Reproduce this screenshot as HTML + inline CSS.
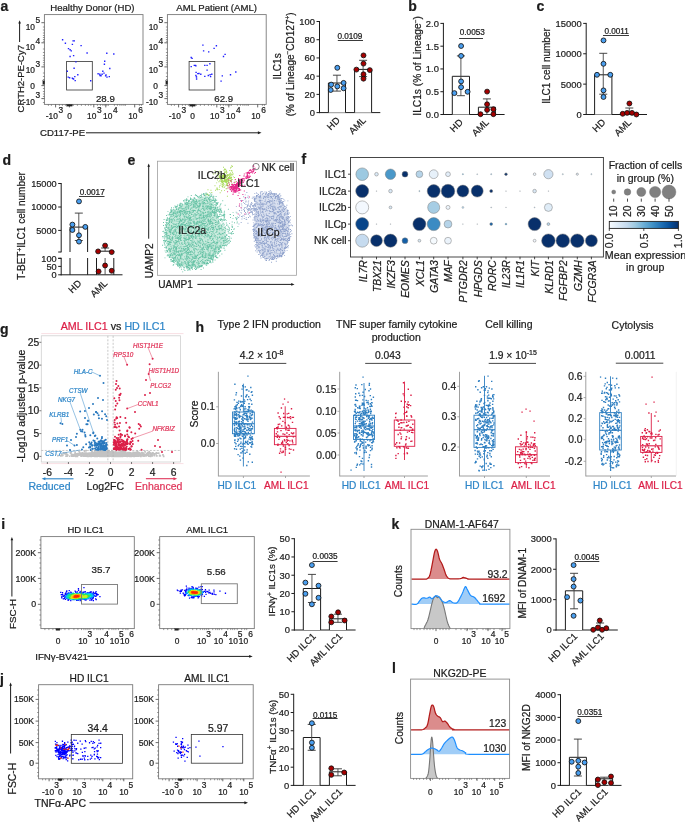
<!DOCTYPE html>
<html><head><meta charset="utf-8"><style>
html,body{margin:0;padding:0;background:#fff;}
svg{display:block;will-change:transform;}
svg{font-family:"Liberation Sans", sans-serif;}
</style></head><body>
<svg width="685" height="822" viewBox="0 0 685 822">
<rect width="685" height="822" fill="#fff"/><g fill="#1c1c1c" stroke="#1c1c1c" stroke-width="0.22">
<text x="0.5" y="11" font-size="14" font-weight="bold">a</text>
<text x="92.4" y="11.04" font-size="9.6" text-anchor="middle">Healthy Donor (HD)</text>
<text x="216.6" y="11.04" font-size="9.6" text-anchor="middle">AML Patient (AML)</text>
<rect x="44.4" y="14.6" width="98.6" height="89.8" fill="none" stroke="#7a7a7a" stroke-width="0.9"/>
<line x1="41.4" y1="22.7" x2="44.4" y2="22.7" stroke="#444" stroke-width="0.8"/>
<text x="40.1" y="29.71" font-size="8.4" text-anchor="end">10<tspan dx="0.4" dy="-6.5">5</tspan></text>
<line x1="41.4" y1="42.8" x2="44.4" y2="42.8" stroke="#444" stroke-width="0.8"/>
<text x="40.1" y="49.81" font-size="8.4" text-anchor="end">10<tspan dx="0.4" dy="-6.2">4</tspan></text>
<line x1="41.4" y1="66.9" x2="44.4" y2="66.9" stroke="#444" stroke-width="0.8"/>
<text x="40.1" y="73.41" font-size="8.4" text-anchor="end">10<tspan dx="0.4" dy="-6.2">3</tspan></text>
<line x1="41.4" y1="85.6" x2="44.4" y2="85.6" stroke="#444" stroke-width="0.8"/>
<text x="35" y="88.61" font-size="8.4" text-anchor="end">0</text>
<line x1="41.4" y1="98.6" x2="44.4" y2="98.6" stroke="#444" stroke-width="0.8"/>
<text x="40.1" y="104.71" font-size="8.4" text-anchor="end">-10<tspan dx="0.4" dy="-6.5">3</tspan></text>
<line x1="42.9" y1="27" x2="44.4" y2="27" stroke="#555" stroke-width="0.6"/>
<line x1="42.9" y1="30" x2="44.4" y2="30" stroke="#555" stroke-width="0.6"/>
<line x1="42.9" y1="33" x2="44.4" y2="33" stroke="#555" stroke-width="0.6"/>
<line x1="42.9" y1="35.5" x2="44.4" y2="35.5" stroke="#555" stroke-width="0.6"/>
<line x1="42.9" y1="37.5" x2="44.4" y2="37.5" stroke="#555" stroke-width="0.6"/>
<line x1="42.9" y1="39.5" x2="44.4" y2="39.5" stroke="#555" stroke-width="0.6"/>
<line x1="42.9" y1="41.3" x2="44.4" y2="41.3" stroke="#555" stroke-width="0.6"/>
<line x1="42.9" y1="49" x2="44.4" y2="49" stroke="#555" stroke-width="0.6"/>
<line x1="42.9" y1="52.5" x2="44.4" y2="52.5" stroke="#555" stroke-width="0.6"/>
<line x1="42.9" y1="55.5" x2="44.4" y2="55.5" stroke="#555" stroke-width="0.6"/>
<line x1="42.9" y1="58" x2="44.4" y2="58" stroke="#555" stroke-width="0.6"/>
<line x1="42.9" y1="60.3" x2="44.4" y2="60.3" stroke="#555" stroke-width="0.6"/>
<line x1="42.9" y1="62.6" x2="44.4" y2="62.6" stroke="#555" stroke-width="0.6"/>
<line x1="42.9" y1="64.8" x2="44.4" y2="64.8" stroke="#555" stroke-width="0.6"/>
<line x1="42.9" y1="73" x2="44.4" y2="73" stroke="#555" stroke-width="0.6"/>
<line x1="42.9" y1="76.5" x2="44.4" y2="76.5" stroke="#555" stroke-width="0.6"/>
<line x1="42.9" y1="79.5" x2="44.4" y2="79.5" stroke="#555" stroke-width="0.6"/>
<line x1="42.9" y1="82" x2="44.4" y2="82" stroke="#555" stroke-width="0.6"/>
<line x1="42.9" y1="88.5" x2="44.4" y2="88.5" stroke="#555" stroke-width="0.6"/>
<line x1="42.9" y1="91.5" x2="44.4" y2="91.5" stroke="#555" stroke-width="0.6"/>
<line x1="42.9" y1="94" x2="44.4" y2="94" stroke="#555" stroke-width="0.6"/>
<line x1="42.9" y1="96.5" x2="44.4" y2="96.5" stroke="#555" stroke-width="0.6"/>
<line x1="42.9" y1="102.5" x2="44.4" y2="102.5" stroke="#555" stroke-width="0.6"/>
<line x1="55.6" y1="104.4" x2="55.6" y2="107.4" stroke="#444" stroke-width="0.8"/>
<line x1="93.8" y1="104.4" x2="93.8" y2="107.4" stroke="#444" stroke-width="0.8"/>
<line x1="105.8" y1="104.4" x2="105.8" y2="107.4" stroke="#444" stroke-width="0.8"/>
<line x1="134.7" y1="104.4" x2="134.7" y2="107.4" stroke="#444" stroke-width="0.8"/>
<text x="45.8" y="118.81" font-size="8.4">-10<tspan dx="0.7" dy="-5.8">3</tspan></text>
<text x="67.2" y="118.81" font-size="8.4">0</text>
<text x="87" y="118.81" font-size="8.4">10<tspan dx="0.7" dy="-5.8">3</tspan></text>
<text x="103" y="118.81" font-size="8.4">10<tspan dx="0.7" dy="-5.8">4</tspan></text>
<text x="128.2" y="118.81" font-size="8.4">10<tspan dx="0.7" dy="-5.8">6</tspan></text>
<line x1="69.4" y1="104.4" x2="69.4" y2="107.4" stroke="#444" stroke-width="0.8"/>
<line x1="48.4" y1="104.4" x2="48.4" y2="105.9" stroke="#555" stroke-width="0.6"/>
<line x1="51.4" y1="104.4" x2="51.4" y2="105.9" stroke="#555" stroke-width="0.6"/>
<line x1="59.4" y1="104.4" x2="59.4" y2="105.9" stroke="#555" stroke-width="0.6"/>
<line x1="62.4" y1="104.4" x2="62.4" y2="105.9" stroke="#555" stroke-width="0.6"/>
<line x1="65.4" y1="104.4" x2="65.4" y2="105.9" stroke="#555" stroke-width="0.6"/>
<line x1="73.4" y1="104.4" x2="73.4" y2="105.9" stroke="#555" stroke-width="0.6"/>
<line x1="77.4" y1="104.4" x2="77.4" y2="105.9" stroke="#555" stroke-width="0.6"/>
<line x1="81.4" y1="104.4" x2="81.4" y2="105.9" stroke="#555" stroke-width="0.6"/>
<line x1="85.4" y1="104.4" x2="85.4" y2="105.9" stroke="#555" stroke-width="0.6"/>
<line x1="88.4" y1="104.4" x2="88.4" y2="105.9" stroke="#555" stroke-width="0.6"/>
<line x1="90.9" y1="104.4" x2="90.9" y2="105.9" stroke="#555" stroke-width="0.6"/>
<line x1="97.4" y1="104.4" x2="97.4" y2="105.9" stroke="#555" stroke-width="0.6"/>
<line x1="100.4" y1="104.4" x2="100.4" y2="105.9" stroke="#555" stroke-width="0.6"/>
<line x1="102.9" y1="104.4" x2="102.9" y2="105.9" stroke="#555" stroke-width="0.6"/>
<line x1="104.9" y1="104.4" x2="104.9" y2="105.9" stroke="#555" stroke-width="0.6"/>
<line x1="106.9" y1="104.4" x2="106.9" y2="105.9" stroke="#555" stroke-width="0.6"/>
<line x1="108.4" y1="104.4" x2="108.4" y2="105.9" stroke="#555" stroke-width="0.6"/>
<line x1="114.4" y1="104.4" x2="114.4" y2="105.9" stroke="#555" stroke-width="0.6"/>
<line x1="117.4" y1="104.4" x2="117.4" y2="105.9" stroke="#555" stroke-width="0.6"/>
<line x1="119.9" y1="104.4" x2="119.9" y2="105.9" stroke="#555" stroke-width="0.6"/>
<line x1="121.9" y1="104.4" x2="121.9" y2="105.9" stroke="#555" stroke-width="0.6"/>
<line x1="123.9" y1="104.4" x2="123.9" y2="105.9" stroke="#555" stroke-width="0.6"/>
<line x1="125.4" y1="104.4" x2="125.4" y2="105.9" stroke="#555" stroke-width="0.6"/>
<line x1="139.4" y1="104.4" x2="139.4" y2="105.9" stroke="#555" stroke-width="0.6"/>
<line x1="141.4" y1="104.4" x2="141.4" y2="105.9" stroke="#555" stroke-width="0.6"/>
<rect x="42.8" y="80.8" width="1.8" height="3.6" fill="#222"/>
<rect x="66.6" y="104.4" width="5.8" height="1.8" fill="#222"/>
<rect x="167.4" y="14.6" width="98.8" height="89.8" fill="none" stroke="#7a7a7a" stroke-width="0.9"/>
<line x1="164.4" y1="22.7" x2="167.4" y2="22.7" stroke="#444" stroke-width="0.8"/>
<text x="163.1" y="29.71" font-size="8.4" text-anchor="end">10<tspan dx="0.4" dy="-6.5">5</tspan></text>
<line x1="164.4" y1="42.8" x2="167.4" y2="42.8" stroke="#444" stroke-width="0.8"/>
<text x="163.1" y="49.81" font-size="8.4" text-anchor="end">10<tspan dx="0.4" dy="-6.2">4</tspan></text>
<line x1="164.4" y1="66.9" x2="167.4" y2="66.9" stroke="#444" stroke-width="0.8"/>
<text x="163.1" y="73.41" font-size="8.4" text-anchor="end">10<tspan dx="0.4" dy="-6.2">3</tspan></text>
<line x1="164.4" y1="85.6" x2="167.4" y2="85.6" stroke="#444" stroke-width="0.8"/>
<text x="158" y="88.61" font-size="8.4" text-anchor="end">0</text>
<line x1="164.4" y1="98.6" x2="167.4" y2="98.6" stroke="#444" stroke-width="0.8"/>
<text x="163.1" y="104.71" font-size="8.4" text-anchor="end">-10<tspan dx="0.4" dy="-6.5">3</tspan></text>
<line x1="165.9" y1="27" x2="167.4" y2="27" stroke="#555" stroke-width="0.6"/>
<line x1="165.9" y1="30" x2="167.4" y2="30" stroke="#555" stroke-width="0.6"/>
<line x1="165.9" y1="33" x2="167.4" y2="33" stroke="#555" stroke-width="0.6"/>
<line x1="165.9" y1="35.5" x2="167.4" y2="35.5" stroke="#555" stroke-width="0.6"/>
<line x1="165.9" y1="37.5" x2="167.4" y2="37.5" stroke="#555" stroke-width="0.6"/>
<line x1="165.9" y1="39.5" x2="167.4" y2="39.5" stroke="#555" stroke-width="0.6"/>
<line x1="165.9" y1="41.3" x2="167.4" y2="41.3" stroke="#555" stroke-width="0.6"/>
<line x1="165.9" y1="49" x2="167.4" y2="49" stroke="#555" stroke-width="0.6"/>
<line x1="165.9" y1="52.5" x2="167.4" y2="52.5" stroke="#555" stroke-width="0.6"/>
<line x1="165.9" y1="55.5" x2="167.4" y2="55.5" stroke="#555" stroke-width="0.6"/>
<line x1="165.9" y1="58" x2="167.4" y2="58" stroke="#555" stroke-width="0.6"/>
<line x1="165.9" y1="60.3" x2="167.4" y2="60.3" stroke="#555" stroke-width="0.6"/>
<line x1="165.9" y1="62.6" x2="167.4" y2="62.6" stroke="#555" stroke-width="0.6"/>
<line x1="165.9" y1="64.8" x2="167.4" y2="64.8" stroke="#555" stroke-width="0.6"/>
<line x1="165.9" y1="73" x2="167.4" y2="73" stroke="#555" stroke-width="0.6"/>
<line x1="165.9" y1="76.5" x2="167.4" y2="76.5" stroke="#555" stroke-width="0.6"/>
<line x1="165.9" y1="79.5" x2="167.4" y2="79.5" stroke="#555" stroke-width="0.6"/>
<line x1="165.9" y1="82" x2="167.4" y2="82" stroke="#555" stroke-width="0.6"/>
<line x1="165.9" y1="88.5" x2="167.4" y2="88.5" stroke="#555" stroke-width="0.6"/>
<line x1="165.9" y1="91.5" x2="167.4" y2="91.5" stroke="#555" stroke-width="0.6"/>
<line x1="165.9" y1="94" x2="167.4" y2="94" stroke="#555" stroke-width="0.6"/>
<line x1="165.9" y1="96.5" x2="167.4" y2="96.5" stroke="#555" stroke-width="0.6"/>
<line x1="165.9" y1="102.5" x2="167.4" y2="102.5" stroke="#555" stroke-width="0.6"/>
<line x1="178.6" y1="104.4" x2="178.6" y2="107.4" stroke="#444" stroke-width="0.8"/>
<line x1="216.8" y1="104.4" x2="216.8" y2="107.4" stroke="#444" stroke-width="0.8"/>
<line x1="228.8" y1="104.4" x2="228.8" y2="107.4" stroke="#444" stroke-width="0.8"/>
<line x1="257.7" y1="104.4" x2="257.7" y2="107.4" stroke="#444" stroke-width="0.8"/>
<text x="168.8" y="118.81" font-size="8.4">-10<tspan dx="0.7" dy="-5.8">3</tspan></text>
<text x="190.2" y="118.81" font-size="8.4">0</text>
<text x="210" y="118.81" font-size="8.4">10<tspan dx="0.7" dy="-5.8">3</tspan></text>
<text x="226" y="118.81" font-size="8.4">10<tspan dx="0.7" dy="-5.8">4</tspan></text>
<text x="251.2" y="118.81" font-size="8.4">10<tspan dx="0.7" dy="-5.8">6</tspan></text>
<line x1="192.4" y1="104.4" x2="192.4" y2="107.4" stroke="#444" stroke-width="0.8"/>
<line x1="171.4" y1="104.4" x2="171.4" y2="105.9" stroke="#555" stroke-width="0.6"/>
<line x1="174.4" y1="104.4" x2="174.4" y2="105.9" stroke="#555" stroke-width="0.6"/>
<line x1="182.4" y1="104.4" x2="182.4" y2="105.9" stroke="#555" stroke-width="0.6"/>
<line x1="185.4" y1="104.4" x2="185.4" y2="105.9" stroke="#555" stroke-width="0.6"/>
<line x1="188.4" y1="104.4" x2="188.4" y2="105.9" stroke="#555" stroke-width="0.6"/>
<line x1="196.4" y1="104.4" x2="196.4" y2="105.9" stroke="#555" stroke-width="0.6"/>
<line x1="200.4" y1="104.4" x2="200.4" y2="105.9" stroke="#555" stroke-width="0.6"/>
<line x1="204.4" y1="104.4" x2="204.4" y2="105.9" stroke="#555" stroke-width="0.6"/>
<line x1="208.4" y1="104.4" x2="208.4" y2="105.9" stroke="#555" stroke-width="0.6"/>
<line x1="211.4" y1="104.4" x2="211.4" y2="105.9" stroke="#555" stroke-width="0.6"/>
<line x1="213.9" y1="104.4" x2="213.9" y2="105.9" stroke="#555" stroke-width="0.6"/>
<line x1="220.4" y1="104.4" x2="220.4" y2="105.9" stroke="#555" stroke-width="0.6"/>
<line x1="223.4" y1="104.4" x2="223.4" y2="105.9" stroke="#555" stroke-width="0.6"/>
<line x1="225.9" y1="104.4" x2="225.9" y2="105.9" stroke="#555" stroke-width="0.6"/>
<line x1="227.9" y1="104.4" x2="227.9" y2="105.9" stroke="#555" stroke-width="0.6"/>
<line x1="229.9" y1="104.4" x2="229.9" y2="105.9" stroke="#555" stroke-width="0.6"/>
<line x1="231.4" y1="104.4" x2="231.4" y2="105.9" stroke="#555" stroke-width="0.6"/>
<line x1="237.4" y1="104.4" x2="237.4" y2="105.9" stroke="#555" stroke-width="0.6"/>
<line x1="240.4" y1="104.4" x2="240.4" y2="105.9" stroke="#555" stroke-width="0.6"/>
<line x1="242.9" y1="104.4" x2="242.9" y2="105.9" stroke="#555" stroke-width="0.6"/>
<line x1="244.9" y1="104.4" x2="244.9" y2="105.9" stroke="#555" stroke-width="0.6"/>
<line x1="246.9" y1="104.4" x2="246.9" y2="105.9" stroke="#555" stroke-width="0.6"/>
<line x1="248.4" y1="104.4" x2="248.4" y2="105.9" stroke="#555" stroke-width="0.6"/>
<line x1="262.4" y1="104.4" x2="262.4" y2="105.9" stroke="#555" stroke-width="0.6"/>
<line x1="264.4" y1="104.4" x2="264.4" y2="105.9" stroke="#555" stroke-width="0.6"/>
<rect x="165.8" y="80.8" width="1.8" height="3.6" fill="#222"/>
<rect x="189.6" y="104.4" width="5.8" height="1.8" fill="#222"/>
<rect x="66.6" y="61.4" width="25.7" height="28.6" fill="none" stroke="#333" stroke-width="0.8"/>
<rect x="189.1" y="61.4" width="25.7" height="28.6" fill="none" stroke="#333" stroke-width="0.8"/>
<text x="105.4" y="101.57" font-size="9.7" text-anchor="middle">28.9</text>
<text x="223.7" y="101.57" font-size="9.7" text-anchor="middle">62.9</text>
<path d="M61.9 39h1.4v1.4h-1.4zM64.7 42.5h1.4v1.4h-1.4zM67.8 47.9h1.4v1.4h-1.4zM69.4 49.1h1.4v1.4h-1.4zM70.6 50.2h1.4v1.4h-1.4zM69.4 55.8h1.4v1.4h-1.4zM72.4 40.2h1.4v1.4h-1.4zM73.6 40.2h1.4v1.4h-1.4zM71.7 43.7h1.4v1.4h-1.4zM72.9 54.9h1.4v1.4h-1.4zM80.4 44.9h1.4v1.4h-1.4zM86.4 52.3h1.4v1.4h-1.4zM75.2 61.2h1.4v1.4h-1.4zM73.4 67.5h1.4v1.4h-1.4zM66.6 70.6h1.4v1.4h-1.4zM67.5 76.4h1.4v1.4h-1.4zM68.9 77.1h1.4v1.4h-1.4zM71.7 77.6h1.4v1.4h-1.4zM72.9 78.3h1.4v1.4h-1.4zM74.5 79.9h1.4v1.4h-1.4zM77.1 74.1h1.4v1.4h-1.4zM90 80.1h1.4v1.4h-1.4zM97.4 73.1h1.4v1.4h-1.4zM99.3 74.8h1.4v1.4h-1.4zM101.4 73.6h1.4v1.4h-1.4zM103.3 72.4h1.4v1.4h-1.4zM104.9 75.2h1.4v1.4h-1.4zM106.3 76.4h1.4v1.4h-1.4zM108.6 75.9h1.4v1.4h-1.4zM103.7 63.6h1.4v1.4h-1.4zM104 60.5h1.4v1.4h-1.4zM102.1 70.6h1.4v1.4h-1.4zM109.1 67.8h1.4v1.4h-1.4zM106.1 52.6h1.4v1.4h-1.4zM113.1 53.3h1.4v1.4h-1.4zM99.1 73.6h1.4v1.4h-1.4zM72.1 77.9h1.4v1.4h-1.4zM74.1 75.9h1.4v1.4h-1.4zM100.3 75.1h1.4v1.4h-1.4zM105.3 74.3h1.4v1.4h-1.4z" fill="#2020ff" stroke="none" stroke-width="1"/>
<path d="M202.2 44.4h1.4v1.4h-1.4zM202.9 50.2h1.4v1.4h-1.4zM208 51.2h1.4v1.4h-1.4zM213.4 47.7h1.4v1.4h-1.4zM215.7 45.1h1.4v1.4h-1.4zM190.5 56.8h1.4v1.4h-1.4zM191.4 57.7h1.4v1.4h-1.4zM222.8 55.8h1.4v1.4h-1.4zM224.4 53.7h1.4v1.4h-1.4zM193.6 64.7h1.4v1.4h-1.4zM195.2 65.2h1.4v1.4h-1.4zM190.5 65.9h1.4v1.4h-1.4zM204.1 64.7h1.4v1.4h-1.4zM206.4 64.7h1.4v1.4h-1.4zM209.2 63.1h1.4v1.4h-1.4zM206.4 69.4h1.4v1.4h-1.4zM195.4 71.7h1.4v1.4h-1.4zM197.1 72.9h1.4v1.4h-1.4zM200.1 73.6h1.4v1.4h-1.4zM204.1 75.7h1.4v1.4h-1.4zM207.6 74.8h1.4v1.4h-1.4zM209.4 74.1h1.4v1.4h-1.4zM211.1 73.6h1.4v1.4h-1.4zM195.2 74.8h1.4v1.4h-1.4zM195.9 78.3h1.4v1.4h-1.4zM221.6 75.2h1.4v1.4h-1.4zM229.8 74.1h1.4v1.4h-1.4zM235.1 71.3h1.4v1.4h-1.4zM220.4 80.4h1.4v1.4h-1.4zM209.9 75.9h1.4v1.4h-1.4zM195.8 76.3h1.4v1.4h-1.4zM198.3 72.8h1.4v1.4h-1.4zM194.8 64.8h1.4v1.4h-1.4z" fill="#2020ff" stroke="none" stroke-width="1"/>
<text x="24.4" y="112.4" font-size="9.5" transform="rotate(-90 24.4 112.4)">CRTH2-PE-Cy7</text>
<line x1="19.6" y1="42" x2="19.6" y2="22.4" stroke="#1c1c1c" stroke-width="1"/>
<path d="M19.6 20.2L18.28 23.5L20.92 23.5Z" fill="#1c1c1c" stroke="none" stroke-width="1"/>
<text x="40" y="135.74" font-size="9.6">CD117-PE</text>
<line x1="86" y1="132.8" x2="259.1" y2="132.8" stroke="#1c1c1c" stroke-width="1"/>
<path d="M261.5 132.8L257.9 131.36L257.9 134.24Z" fill="#1c1c1c" stroke="none" stroke-width="1"/>
<line x1="319.5" y1="21" x2="319.5" y2="113.1" stroke="#1c1c1c" stroke-width="1.0"/>
<line x1="319" y1="112.6" x2="380.3" y2="112.6" stroke="#1c1c1c" stroke-width="1.0"/>
<line x1="316.5" y1="112.6" x2="319.5" y2="112.6" stroke="#1c1c1c" stroke-width="1.0"/>
<text x="315" y="115.97" font-size="9.4" text-anchor="end">0</text>
<line x1="316.5" y1="94.38" x2="319.5" y2="94.38" stroke="#1c1c1c" stroke-width="1.0"/>
<text x="315" y="97.75" font-size="9.4" text-anchor="end">20</text>
<line x1="316.5" y1="76.16" x2="319.5" y2="76.16" stroke="#1c1c1c" stroke-width="1.0"/>
<text x="315" y="79.53" font-size="9.4" text-anchor="end">40</text>
<line x1="316.5" y1="57.94" x2="319.5" y2="57.94" stroke="#1c1c1c" stroke-width="1.0"/>
<text x="315" y="61.31" font-size="9.4" text-anchor="end">60</text>
<line x1="316.5" y1="39.72" x2="319.5" y2="39.72" stroke="#1c1c1c" stroke-width="1.0"/>
<text x="315" y="43.09" font-size="9.4" text-anchor="end">80</text>
<line x1="316.5" y1="21.5" x2="319.5" y2="21.5" stroke="#1c1c1c" stroke-width="1.0"/>
<text x="315" y="24.87" font-size="9.4" text-anchor="end">100</text>
<path d="M328.4 112.6V83H345.5V112.6" fill="#fff" stroke="#1c1c1c" stroke-width="1"/>
<line x1="336.95" y1="75.2" x2="336.95" y2="91.1" stroke="#444" stroke-width="0.9"/>
<line x1="332.95" y1="75.2" x2="340.95" y2="75.2" stroke="#333" stroke-width="0.9"/>
<line x1="332.95" y1="91.1" x2="340.95" y2="91.1" stroke="#333" stroke-width="0.9"/>
<circle cx="337.3" cy="67.8" r="2.45" fill="#4a9ff0" stroke="#111" stroke-width="0.85"/>
<circle cx="331.2" cy="84.6" r="2.45" fill="#4a9ff0" stroke="#111" stroke-width="0.85"/>
<circle cx="337.3" cy="86.4" r="2.45" fill="#4a9ff0" stroke="#111" stroke-width="0.85"/>
<circle cx="343.6" cy="82.9" r="2.45" fill="#4a9ff0" stroke="#111" stroke-width="0.85"/>
<circle cx="330.7" cy="90" r="2.45" fill="#4a9ff0" stroke="#111" stroke-width="0.85"/>
<circle cx="343.6" cy="88.3" r="2.45" fill="#4a9ff0" stroke="#111" stroke-width="0.85"/>
<path d="M354.6 112.6V69.4H371.6V112.6" fill="#fff" stroke="#1c1c1c" stroke-width="1"/>
<line x1="363.1" y1="60.3" x2="363.1" y2="76.6" stroke="#444" stroke-width="0.9"/>
<line x1="359.1" y1="60.3" x2="367.1" y2="60.3" stroke="#333" stroke-width="0.9"/>
<line x1="359.1" y1="76.6" x2="367.1" y2="76.6" stroke="#333" stroke-width="0.9"/>
<circle cx="363.5" cy="55.4" r="2.45" fill="#a50000" stroke="#111" stroke-width="0.85"/>
<circle cx="363.5" cy="63.6" r="2.45" fill="#a50000" stroke="#111" stroke-width="0.85"/>
<circle cx="356.4" cy="69.6" r="2.45" fill="#a50000" stroke="#111" stroke-width="0.85"/>
<circle cx="369.8" cy="70.1" r="2.45" fill="#a50000" stroke="#111" stroke-width="0.85"/>
<circle cx="363.5" cy="74.3" r="2.45" fill="#a50000" stroke="#111" stroke-width="0.85"/>
<circle cx="363.5" cy="78.7" r="2.45" fill="#a50000" stroke="#111" stroke-width="0.85"/>
<text x="349.9" y="39.14" font-size="8.2" text-anchor="middle">0.0109</text>
<line x1="337.8" y1="40.5" x2="363" y2="40.5" stroke="#3a3a3a" stroke-width="1.0"/>
<text x="280.98" y="66.4" font-size="10" text-anchor="middle" transform="rotate(-90 280.98 66.4)">ILC1s</text>
<text x="294" y="64.3" font-size="10" text-anchor="middle" transform="rotate(-90 294 64.3)">(% of Lineage<tspan dy="-3.5" font-size="6.5">&#8722;</tspan><tspan dy="3.5">CD127</tspan><tspan dy="-3.5" font-size="6.5">+</tspan><tspan dy="3.5">)</tspan></text>
<text x="340.5" y="121" font-size="9.5" text-anchor="end" transform="rotate(-45 340.5 121)">HD</text>
<text x="366.5" y="121" font-size="9.5" text-anchor="end" transform="rotate(-45 366.5 121)">AML</text>
<text x="408.2" y="11" font-size="14" font-weight="bold">b</text>
<line x1="443.4" y1="22.9" x2="443.4" y2="115" stroke="#1c1c1c" stroke-width="1.0"/>
<line x1="442.9" y1="114.5" x2="504.6" y2="114.5" stroke="#1c1c1c" stroke-width="1.0"/>
<line x1="440.4" y1="114.5" x2="443.4" y2="114.5" stroke="#1c1c1c" stroke-width="1.0"/>
<text x="438.9" y="117.87" font-size="9.4" text-anchor="end">0.0</text>
<line x1="440.4" y1="91.72" x2="443.4" y2="91.72" stroke="#1c1c1c" stroke-width="1.0"/>
<text x="438.9" y="95.09" font-size="9.4" text-anchor="end">0.5</text>
<line x1="440.4" y1="68.95" x2="443.4" y2="68.95" stroke="#1c1c1c" stroke-width="1.0"/>
<text x="438.9" y="72.32" font-size="9.4" text-anchor="end">1.0</text>
<line x1="440.4" y1="46.18" x2="443.4" y2="46.18" stroke="#1c1c1c" stroke-width="1.0"/>
<text x="438.9" y="49.54" font-size="9.4" text-anchor="end">1.5</text>
<line x1="440.4" y1="23.4" x2="443.4" y2="23.4" stroke="#1c1c1c" stroke-width="1.0"/>
<text x="438.9" y="26.77" font-size="9.4" text-anchor="end">2.0</text>
<path d="M452.3 114.5V76.3H469.5V114.5" fill="#fff" stroke="#1c1c1c" stroke-width="1"/>
<line x1="460.9" y1="55.9" x2="460.9" y2="95.7" stroke="#444" stroke-width="0.9"/>
<line x1="456.9" y1="55.9" x2="464.9" y2="55.9" stroke="#333" stroke-width="0.9"/>
<line x1="456.9" y1="95.7" x2="464.9" y2="95.7" stroke="#333" stroke-width="0.9"/>
<circle cx="461.1" cy="46" r="2.45" fill="#4a9ff0" stroke="#111" stroke-width="0.85"/>
<circle cx="461.1" cy="55.9" r="2.45" fill="#4a9ff0" stroke="#111" stroke-width="0.85"/>
<circle cx="461.1" cy="81.4" r="2.45" fill="#4a9ff0" stroke="#111" stroke-width="0.85"/>
<circle cx="461.1" cy="87.2" r="2.45" fill="#4a9ff0" stroke="#111" stroke-width="0.85"/>
<circle cx="454.4" cy="93.1" r="2.45" fill="#4a9ff0" stroke="#111" stroke-width="0.85"/>
<circle cx="467.6" cy="91.8" r="2.45" fill="#4a9ff0" stroke="#111" stroke-width="0.85"/>
<path d="M478.4 114.5V107.2H495.4V114.5" fill="#fff" stroke="#1c1c1c" stroke-width="1"/>
<line x1="486.9" y1="98.9" x2="486.9" y2="114.5" stroke="#444" stroke-width="0.9"/>
<line x1="482.9" y1="98.9" x2="490.9" y2="98.9" stroke="#333" stroke-width="0.9"/>
<line x1="482.9" y1="114.5" x2="490.9" y2="114.5" stroke="#333" stroke-width="0.9"/>
<circle cx="487.1" cy="91.6" r="2.45" fill="#a50000" stroke="#111" stroke-width="0.85"/>
<circle cx="487.1" cy="104.3" r="2.45" fill="#a50000" stroke="#111" stroke-width="0.85"/>
<circle cx="487.1" cy="109.9" r="2.45" fill="#a50000" stroke="#111" stroke-width="0.85"/>
<circle cx="493.4" cy="109.3" r="2.45" fill="#a50000" stroke="#111" stroke-width="0.85"/>
<circle cx="480.5" cy="114.2" r="2.45" fill="#a50000" stroke="#111" stroke-width="0.85"/>
<circle cx="493.4" cy="114.2" r="2.45" fill="#a50000" stroke="#111" stroke-width="0.85"/>
<text x="472.3" y="34.79" font-size="8.2" text-anchor="middle">0.0053</text>
<line x1="459.1" y1="38.5" x2="483" y2="38.5" stroke="#3a3a3a" stroke-width="1.0"/>
<text x="421.4" y="65.9" font-size="10.2" text-anchor="middle" transform="rotate(-90 421.4 65.9)">ILC1s (% of Lineage<tspan dy="-3.5" font-size="6.5">&#8722;</tspan><tspan dy="3.5">)</tspan></text>
<text x="463.5" y="123" font-size="9.5" text-anchor="end" transform="rotate(-45 463.5 123)">HD</text>
<text x="489.5" y="123" font-size="9.5" text-anchor="end" transform="rotate(-45 489.5 123)">AML</text>
<text x="536.5" y="11" font-size="14" font-weight="bold">c</text>
<line x1="586.2" y1="22.9" x2="586.2" y2="115" stroke="#1c1c1c" stroke-width="1.0"/>
<line x1="585.7" y1="114.5" x2="647" y2="114.5" stroke="#1c1c1c" stroke-width="1.0"/>
<line x1="583.2" y1="114.5" x2="586.2" y2="114.5" stroke="#1c1c1c" stroke-width="1.0"/>
<text x="581.7" y="117.87" font-size="9.4" text-anchor="end">0</text>
<line x1="583.2" y1="84.13" x2="586.2" y2="84.13" stroke="#1c1c1c" stroke-width="1.0"/>
<text x="581.7" y="87.5" font-size="9.4" text-anchor="end">5000</text>
<line x1="583.2" y1="53.77" x2="586.2" y2="53.77" stroke="#1c1c1c" stroke-width="1.0"/>
<text x="581.7" y="57.13" font-size="9.4" text-anchor="end">10000</text>
<line x1="583.2" y1="23.4" x2="586.2" y2="23.4" stroke="#1c1c1c" stroke-width="1.0"/>
<text x="581.7" y="26.77" font-size="9.4" text-anchor="end">15000</text>
<path d="M594.6 114.5V74.8H611.9V114.5" fill="#fff" stroke="#1c1c1c" stroke-width="1"/>
<line x1="603.25" y1="53.3" x2="603.25" y2="94.2" stroke="#444" stroke-width="0.9"/>
<line x1="599.25" y1="53.3" x2="607.25" y2="53.3" stroke="#333" stroke-width="0.9"/>
<line x1="599.25" y1="94.2" x2="607.25" y2="94.2" stroke="#333" stroke-width="0.9"/>
<circle cx="603.5" cy="40.4" r="2.45" fill="#4a9ff0" stroke="#111" stroke-width="0.85"/>
<circle cx="603.5" cy="63.8" r="2.45" fill="#4a9ff0" stroke="#111" stroke-width="0.85"/>
<circle cx="597" cy="74.8" r="2.45" fill="#4a9ff0" stroke="#111" stroke-width="0.85"/>
<circle cx="610.3" cy="74.8" r="2.45" fill="#4a9ff0" stroke="#111" stroke-width="0.85"/>
<circle cx="603.5" cy="90.4" r="2.45" fill="#4a9ff0" stroke="#111" stroke-width="0.85"/>
<circle cx="603.5" cy="97" r="2.45" fill="#4a9ff0" stroke="#111" stroke-width="0.85"/>
<path d="M620.8 114.5V112.9H637.8V114.5" fill="#fff" stroke="#1c1c1c" stroke-width="1"/>
<line x1="629.3" y1="108" x2="629.3" y2="114.5" stroke="#444" stroke-width="0.9"/>
<line x1="625.3" y1="108" x2="633.3" y2="108" stroke="#333" stroke-width="0.9"/>
<line x1="625.3" y1="114.5" x2="633.3" y2="114.5" stroke="#333" stroke-width="0.9"/>
<circle cx="629.4" cy="103.5" r="2.45" fill="#a50000" stroke="#111" stroke-width="0.85"/>
<circle cx="622.7" cy="113.8" r="2.45" fill="#a50000" stroke="#111" stroke-width="0.85"/>
<circle cx="627.1" cy="112.9" r="2.45" fill="#a50000" stroke="#111" stroke-width="0.85"/>
<circle cx="632" cy="112.9" r="2.45" fill="#a50000" stroke="#111" stroke-width="0.85"/>
<circle cx="636.4" cy="114.5" r="2.45" fill="#a50000" stroke="#111" stroke-width="0.85"/>
<text x="616.6" y="34.24" font-size="8.2" text-anchor="middle">0.0011</text>
<line x1="603" y1="35.5" x2="629" y2="35.5" stroke="#3a3a3a" stroke-width="1.0"/>
<text x="549.88" y="66" font-size="10" text-anchor="middle" transform="rotate(-90 549.88 66)">ILC1 cell number</text>
<text x="606" y="123" font-size="9.5" text-anchor="end" transform="rotate(-45 606 123)">HD</text>
<text x="632" y="123" font-size="9.5" text-anchor="end" transform="rotate(-45 632 123)">AML</text>
<text x="2.5" y="164.5" font-size="14" font-weight="bold">d</text>
<line x1="61.2" y1="183" x2="61.2" y2="252.3" stroke="#1c1c1c" stroke-width="1"/>
<line x1="61.2" y1="257.8" x2="61.2" y2="275.3" stroke="#1c1c1c" stroke-width="1"/>
<line x1="58.2" y1="183.5" x2="61.2" y2="183.5" stroke="#1c1c1c" stroke-width="1"/>
<text x="56.7" y="186.79" font-size="9.2" text-anchor="end">15000</text>
<line x1="58.2" y1="207" x2="61.2" y2="207" stroke="#1c1c1c" stroke-width="1"/>
<text x="56.7" y="210.29" font-size="9.2" text-anchor="end">10000</text>
<line x1="58.2" y1="230.4" x2="61.2" y2="230.4" stroke="#1c1c1c" stroke-width="1"/>
<text x="56.7" y="233.69" font-size="9.2" text-anchor="end">5000</text>
<line x1="58.2" y1="252" x2="61.2" y2="252" stroke="#1c1c1c" stroke-width="1"/>
<line x1="58.2" y1="258.2" x2="61.2" y2="258.2" stroke="#1c1c1c" stroke-width="1"/>
<line x1="58.2" y1="258.5" x2="61.2" y2="258.5" stroke="#1c1c1c" stroke-width="1"/>
<text x="56.7" y="261.79" font-size="9.2" text-anchor="end">100</text>
<line x1="58.2" y1="266.4" x2="61.2" y2="266.4" stroke="#1c1c1c" stroke-width="1"/>
<text x="56.7" y="269.69" font-size="9.2" text-anchor="end">50</text>
<line x1="58.2" y1="274.8" x2="61.2" y2="274.8" stroke="#1c1c1c" stroke-width="1"/>
<text x="56.7" y="278.09" font-size="9.2" text-anchor="end">0</text>
<line x1="60.7" y1="274.8" x2="122.5" y2="274.8" stroke="#1c1c1c" stroke-width="1"/>
<path d="M70 252V227.1H87.6V252" fill="#fff" stroke="#1c1c1c" stroke-width="1"/>
<path d="M70 258V274.8M87.6 258V274.8" fill="none" stroke="#1c1c1c" stroke-width="1"/>
<path d="M96.5 252V251.2H113.8V252" fill="#fff" stroke="#1c1c1c" stroke-width="1"/>
<path d="M96.5 258V274.8M113.8 258V274.8" fill="none" stroke="#1c1c1c" stroke-width="1"/>
<line x1="78.8" y1="213.1" x2="78.8" y2="240.5" stroke="#444" stroke-width="0.9"/>
<line x1="74.8" y1="213.1" x2="82.8" y2="213.1" stroke="#333" stroke-width="0.9"/>
<line x1="74.8" y1="240.5" x2="82.8" y2="240.5" stroke="#333" stroke-width="0.9"/>
<line x1="105.1" y1="248" x2="105.1" y2="251.2" stroke="#444" stroke-width="0.9"/>
<line x1="101.1" y1="248" x2="109.1" y2="248" stroke="#333" stroke-width="0.9"/>
<line x1="105.1" y1="258" x2="105.1" y2="274.8" stroke="#444" stroke-width="0.9"/>
<circle cx="79" cy="201.4" r="2.45" fill="#4a9ff0" stroke="#111" stroke-width="0.85"/>
<circle cx="72.4" cy="224.6" r="2.45" fill="#4a9ff0" stroke="#111" stroke-width="0.85"/>
<circle cx="72.4" cy="230" r="2.45" fill="#4a9ff0" stroke="#111" stroke-width="0.85"/>
<circle cx="85.3" cy="226.9" r="2.45" fill="#4a9ff0" stroke="#111" stroke-width="0.85"/>
<circle cx="79" cy="235.3" r="2.45" fill="#4a9ff0" stroke="#111" stroke-width="0.85"/>
<circle cx="79" cy="241.6" r="2.45" fill="#4a9ff0" stroke="#111" stroke-width="0.85"/>
<circle cx="105.1" cy="245.6" r="2.45" fill="#a50000" stroke="#111" stroke-width="0.85"/>
<circle cx="98.1" cy="251.4" r="2.45" fill="#a50000" stroke="#111" stroke-width="0.85"/>
<circle cx="111.7" cy="252.1" r="2.45" fill="#a50000" stroke="#111" stroke-width="0.85"/>
<circle cx="105.1" cy="265.5" r="2.45" fill="#a50000" stroke="#111" stroke-width="0.85"/>
<circle cx="98.6" cy="271.5" r="2.45" fill="#a50000" stroke="#111" stroke-width="0.85"/>
<circle cx="111.7" cy="270.8" r="2.45" fill="#a50000" stroke="#111" stroke-width="0.85"/>
<text x="92.2" y="194.54" font-size="8.2" text-anchor="middle">0.0017</text>
<line x1="79" y1="196.5" x2="104.5" y2="196.5" stroke="#3a3a3a" stroke-width="1.0"/>
<text x="25.2" y="226" font-size="10" text-anchor="middle" transform="rotate(-90 25.2 226)">T-BET<tspan dy="-3.5" font-size="6.5">+</tspan><tspan dy="3.5">ILC1 cell number</tspan></text>
<text x="82" y="284" font-size="9.5" text-anchor="end" transform="rotate(-45 82 284)">HD</text>
<text x="108" y="284" font-size="9.5" text-anchor="end" transform="rotate(-45 108 284)">AML</text>
<text x="127.5" y="164.5" font-size="14" font-weight="bold">e</text>
<rect x="157.5" y="161.2" width="139" height="114.1" fill="none" stroke="#a0a0a0" stroke-width="0.8"/>
<path d="M205.87 196.52L206.95 196.56L207.94 196.69L208.87 196.93L209.68 197.49L210.43 198.28L211.18 199.2L211.93 200.28L212.65 201.49L213.36 202.8L214.03 204.19L214.67 205.63L215.27 207.09L215.84 208.63L216.37 210.26L216.87 211.94L217.35 213.61L217.81 215.21L218.26 216.68L218.68 218.03L219.07 219.32L219.45 220.54L219.84 221.7L220.4 222.72L221.01 223.7L221.74 224.61L222.57 225.43L223.44 226.21L224.27 226.98L224.99 227.77L225.52 228.62L225.87 229.51L226.11 230.41L226.24 231.34L226.25 232.29L226.15 233.3L225.93 234.36L225.58 235.5L225.08 236.73L228.64 238.29L227.84 239.76L226.98 241.2L226.08 242.58L225.12 243.88L224.06 245.14L222.94 246.37L221.78 247.59L220.62 248.83L219.5 250.1L218.44 251.43L217.41 252.8L216.39 254.18L215.32 255.55L214.18 256.86L212.92 258.09L211.56 259.25L210.13 260.37L208.63 261.44L207.04 262.44L205.34 263.37L203.52 264.2L201.53 264.99L199.38 265.75L197.12 266.43L194.82 266.99L192.54 267.36L190.36 267.49L188.22 267.39L186.06 267.11L183.93 266.64L181.87 265.99L179.92 265.18L178.14 264.2L176.51 263.02L175.01 261.62L173.62 260.06L172.34 258.37L171.19 256.6L170.15 254.8L169.23 252.94L168.43 250.97L167.75 248.93L167.19 246.83L166.73 244.7L166.39 242.58L166.18 240.42L166.1 238.19L166.14 235.94L166.26 233.7L166.45 231.52L166.67 229.42L166.91 227.41L167.18 225.45L167.52 223.54L167.95 221.69L168.5 219.89L169.21 218.14L170.07 216.43L171.07 214.76L172.19 213.15L173.43 211.59L174.79 210.12L176.26 208.74L177.91 207.45L179.74 206.23L181.69 205.1L183.69 204.04L185.67 203.06L187.54 202.16L189.34 201.35L191.14 200.63L192.92 199.99L194.64 199.41L196.3 198.89L197.88 198.4L199.37 197.93L200.8 197.49L202.17 197.11L203.47 196.8L204.7 196.59Z" fill="#c8eadd" stroke="none"/>
<path d="M255.32 197.62L255.97 196.82L256.9 196.29L258.01 195.96L259.22 195.73L260.41 195.55L261.5 195.32L262.49 195.06L263.46 194.84L264.43 194.65L265.4 194.5L266.38 194.4L267.39 194.36L268.44 194.37L269.53 194.42L270.64 194.53L271.74 194.68L272.82 194.88L273.85 195.13L274.82 195.33L275.73 195.48L276.62 195.67L277.51 196.02L278.45 196.63L279.45 197.62L280.59 199.01L281.84 200.71L283.13 202.68L284.38 204.87L285.53 207.23L286.49 209.72L287.28 212.44L287.98 215.45L288.57 218.63L289.03 221.87L289.36 225.05L289.52 228.06L289.53 230.95L289.38 233.84L289.1 236.68L288.68 239.4L288.16 241.95L287.53 244.28L286.81 246.4L285.99 248.34L285.05 250.12L283.99 251.74L282.8 253.18L281.45 254.46L279.88 255.59L278.07 256.59L276.13 257.41L274.15 258.04L272.21 258.44L270.43 258.58L268.75 258.44L267.09 258.04L265.49 257.41L263.97 256.59L262.57 255.59L261.31 254.46L260.21 253.13L259.25 251.59L258.4 249.87L257.65 248.05L256.98 246.16L256.37 244.28L255.83 242.36L255.36 240.37L254.98 238.31L254.67 236.23L254.44 234.14L254.28 232.09L254.22 230.07L254.26 228.06L254.38 226.05L254.53 224.02L254.7 221.98L254.85 219.9L255 217.73L255.19 215.47L255.39 213.18L255.57 210.94L255.72 208.8L255.8 206.84L255.73 205L255.5 203.23L255.24 201.56L255.04 200.04L255.04 198.72Z" fill="#d9e0ef" stroke="none"/>
<path d="M185.3 203.5h0.95v0.95h-0.95zM209 197.3h0.95v0.95h-0.95zM200.7 220.6h0.95v0.95h-0.95zM165.9 231.9h0.95v0.95h-0.95zM192.6 257.3h0.95v0.95h-0.95zM203.7 223.1h0.95v0.95h-0.95zM184.1 256.4h0.95v0.95h-0.95zM174.9 237.8h0.95v0.95h-0.95zM208.2 221.1h0.95v0.95h-0.95zM201.5 196.5h0.95v0.95h-0.95zM184.6 238.1h0.95v0.95h-0.95zM194.7 215.4h0.95v0.95h-0.95zM219.5 247.1h0.95v0.95h-0.95zM179.5 237.2h0.95v0.95h-0.95zM199.9 261.1h0.95v0.95h-0.95zM214.7 214.4h0.95v0.95h-0.95zM192.1 251.7h0.95v0.95h-0.95zM172.8 230.4h0.95v0.95h-0.95zM164.6 244.6h0.95v0.95h-0.95zM217.3 237.1h0.95v0.95h-0.95zM212.3 238.8h0.95v0.95h-0.95zM203.9 227.8h0.95v0.95h-0.95zM196.2 244.3h0.95v0.95h-0.95zM166.1 247.3h0.95v0.95h-0.95zM189.8 244.7h0.95v0.95h-0.95zM171.1 211.2h0.95v0.95h-0.95zM190.1 260.8h0.95v0.95h-0.95zM167.6 227.2h0.95v0.95h-0.95zM201.7 261.8h0.95v0.95h-0.95zM182 224.5h0.95v0.95h-0.95zM187.8 261.8h0.95v0.95h-0.95zM174.5 210h0.95v0.95h-0.95zM178.7 230.1h0.95v0.95h-0.95zM204.5 212.4h0.95v0.95h-0.95zM188.6 236.5h0.95v0.95h-0.95zM199.2 240.6h0.95v0.95h-0.95zM210.9 195.8h0.95v0.95h-0.95zM190.2 223.2h0.95v0.95h-0.95zM169.2 242h0.95v0.95h-0.95zM169.1 220.4h0.95v0.95h-0.95zM206.4 203.3h0.95v0.95h-0.95zM180.1 219.1h0.95v0.95h-0.95zM188.2 201.3h0.95v0.95h-0.95zM195.6 230h0.95v0.95h-0.95zM186.6 212.6h0.95v0.95h-0.95zM200.1 203.2h0.95v0.95h-0.95zM180.7 220.7h0.95v0.95h-0.95zM173.9 252.9h0.95v0.95h-0.95zM200.4 253.5h0.95v0.95h-0.95zM185.7 209.3h0.95v0.95h-0.95zM178.2 232.7h0.95v0.95h-0.95zM180.6 246.6h0.95v0.95h-0.95zM177.7 209.6h0.95v0.95h-0.95zM176 207.8h0.95v0.95h-0.95zM207.1 263.1h0.95v0.95h-0.95zM209.2 255.1h0.95v0.95h-0.95zM167.9 244h0.95v0.95h-0.95zM216.3 229.5h0.95v0.95h-0.95zM174.7 254.3h0.95v0.95h-0.95zM185.9 255.2h0.95v0.95h-0.95zM190.9 266.8h0.95v0.95h-0.95zM172.3 257.2h0.95v0.95h-0.95zM187.2 235.1h0.95v0.95h-0.95zM200 265.7h0.95v0.95h-0.95zM193.3 260.8h0.95v0.95h-0.95zM180 214.8h0.95v0.95h-0.95zM179.2 238.1h0.95v0.95h-0.95zM180.6 224.8h0.95v0.95h-0.95zM187.4 227.9h0.95v0.95h-0.95zM204.1 263.4h0.95v0.95h-0.95zM192.3 264.5h0.95v0.95h-0.95zM198.2 233.8h0.95v0.95h-0.95zM193.7 206.1h0.95v0.95h-0.95zM174.2 229.2h0.95v0.95h-0.95zM214.4 235.8h0.95v0.95h-0.95zM185.4 232.7h0.95v0.95h-0.95zM202.1 253.9h0.95v0.95h-0.95zM169.4 236.1h0.95v0.95h-0.95zM179.8 213.5h0.95v0.95h-0.95zM202.6 251.9h0.95v0.95h-0.95zM206.2 231.7h0.95v0.95h-0.95zM198.9 246.6h0.95v0.95h-0.95zM194.6 233.9h0.95v0.95h-0.95zM196.5 266.4h0.95v0.95h-0.95zM170.6 226.7h0.95v0.95h-0.95zM167 244.7h0.95v0.95h-0.95zM172.9 248.5h0.95v0.95h-0.95zM209.7 202.9h0.95v0.95h-0.95zM190.7 230.3h0.95v0.95h-0.95zM173.5 225.8h0.95v0.95h-0.95zM199.2 218.5h0.95v0.95h-0.95zM175.9 216.8h0.95v0.95h-0.95zM202 226.5h0.95v0.95h-0.95zM207.1 232.2h0.95v0.95h-0.95zM169.3 212.6h0.95v0.95h-0.95zM192.4 264h0.95v0.95h-0.95zM221.3 212.1h0.95v0.95h-0.95zM203.2 247.2h0.95v0.95h-0.95zM211.7 225.3h0.95v0.95h-0.95zM207.8 255.3h0.95v0.95h-0.95zM194.7 218.5h0.95v0.95h-0.95zM201.9 265.2h0.95v0.95h-0.95zM200 210.5h0.95v0.95h-0.95zM184.4 215.8h0.95v0.95h-0.95zM216.9 214.6h0.95v0.95h-0.95zM198.1 205.7h0.95v0.95h-0.95zM215 235.3h0.95v0.95h-0.95zM175.5 229.3h0.95v0.95h-0.95zM221.3 225.9h0.95v0.95h-0.95zM197.7 257.9h0.95v0.95h-0.95zM190.3 231.8h0.95v0.95h-0.95zM186.6 257.7h0.95v0.95h-0.95zM213.1 242.1h0.95v0.95h-0.95zM191.1 219.2h0.95v0.95h-0.95zM166.9 250.4h0.95v0.95h-0.95zM180.3 204.5h0.95v0.95h-0.95zM225 244.8h0.95v0.95h-0.95zM182.2 210.8h0.95v0.95h-0.95zM183 228.1h0.95v0.95h-0.95zM173.2 227h0.95v0.95h-0.95zM184.2 219.9h0.95v0.95h-0.95zM196.2 231.5h0.95v0.95h-0.95zM176.3 231.7h0.95v0.95h-0.95zM168.2 223.3h0.95v0.95h-0.95zM183.8 210h0.95v0.95h-0.95zM204.3 233.6h0.95v0.95h-0.95zM216.3 243.8h0.95v0.95h-0.95zM190 217.5h0.95v0.95h-0.95zM214.4 242.7h0.95v0.95h-0.95zM226.6 241.4h0.95v0.95h-0.95zM215.1 256.1h0.95v0.95h-0.95zM171.8 233.2h0.95v0.95h-0.95zM198.4 257.9h0.95v0.95h-0.95zM204.2 262.5h0.95v0.95h-0.95zM211.4 246.6h0.95v0.95h-0.95zM171.4 220.2h0.95v0.95h-0.95zM202.3 241.4h0.95v0.95h-0.95zM207.2 245.6h0.95v0.95h-0.95zM219.7 251h0.95v0.95h-0.95zM198.3 234.1h0.95v0.95h-0.95zM209.6 196.8h0.95v0.95h-0.95zM215.3 211.6h0.95v0.95h-0.95zM214.7 207.8h0.95v0.95h-0.95zM197.6 221.9h0.95v0.95h-0.95zM196.5 245.9h0.95v0.95h-0.95zM217.5 240.6h0.95v0.95h-0.95zM208.4 197.7h0.95v0.95h-0.95zM172.4 211.7h0.95v0.95h-0.95zM215.7 215.7h0.95v0.95h-0.95zM210.6 246.6h0.95v0.95h-0.95zM210.8 214.6h0.95v0.95h-0.95zM199.3 228.5h0.95v0.95h-0.95zM195.6 200.9h0.95v0.95h-0.95zM194.4 212.9h0.95v0.95h-0.95zM177 237.8h0.95v0.95h-0.95zM172 233.2h0.95v0.95h-0.95zM178.5 262.9h0.95v0.95h-0.95zM194.5 215.5h0.95v0.95h-0.95zM171.9 218.9h0.95v0.95h-0.95zM184.7 258.3h0.95v0.95h-0.95zM188.8 222.8h0.95v0.95h-0.95zM187.9 225.6h0.95v0.95h-0.95zM182.5 265.9h0.95v0.95h-0.95zM179.8 212.7h0.95v0.95h-0.95zM198.9 206.6h0.95v0.95h-0.95zM188.9 267.5h0.95v0.95h-0.95zM215 227.4h0.95v0.95h-0.95zM216.4 242.8h0.95v0.95h-0.95zM196 218.8h0.95v0.95h-0.95zM183.4 250.3h0.95v0.95h-0.95zM209.4 215.4h0.95v0.95h-0.95zM202.2 222.9h0.95v0.95h-0.95zM176.8 263.5h0.95v0.95h-0.95zM197.9 209h0.95v0.95h-0.95zM194.4 202.6h0.95v0.95h-0.95zM179.1 212.1h0.95v0.95h-0.95zM203.1 262.1h0.95v0.95h-0.95zM216.2 224.3h0.95v0.95h-0.95zM191.8 233.2h0.95v0.95h-0.95zM189.1 218.4h0.95v0.95h-0.95zM198.3 241.6h0.95v0.95h-0.95zM181.4 211.3h0.95v0.95h-0.95zM190.8 227h0.95v0.95h-0.95zM190.2 265.2h0.95v0.95h-0.95zM199.7 245.7h0.95v0.95h-0.95zM208.8 252.3h0.95v0.95h-0.95zM195 235.4h0.95v0.95h-0.95zM178.6 264.7h0.95v0.95h-0.95zM208.6 215.7h0.95v0.95h-0.95zM171 211.5h0.95v0.95h-0.95zM208 247.1h0.95v0.95h-0.95zM199.8 237.9h0.95v0.95h-0.95zM189.9 209.3h0.95v0.95h-0.95zM183.6 228.1h0.95v0.95h-0.95zM178.8 211.2h0.95v0.95h-0.95zM197.9 245.1h0.95v0.95h-0.95zM192.3 212h0.95v0.95h-0.95zM186.3 225h0.95v0.95h-0.95zM211.3 207.3h0.95v0.95h-0.95zM219.7 250.3h0.95v0.95h-0.95zM198.4 207.8h0.95v0.95h-0.95zM177.8 252h0.95v0.95h-0.95zM183.2 267.2h0.95v0.95h-0.95zM197.8 206.4h0.95v0.95h-0.95zM178 224.7h0.95v0.95h-0.95zM172.4 222.8h0.95v0.95h-0.95zM166.1 222.8h0.95v0.95h-0.95zM210 221.6h0.95v0.95h-0.95zM188.9 217.9h0.95v0.95h-0.95zM182.1 219.5h0.95v0.95h-0.95zM187.6 256.8h0.95v0.95h-0.95zM221.5 225.9h0.95v0.95h-0.95zM165.3 229.2h0.95v0.95h-0.95zM188.8 264.6h0.95v0.95h-0.95zM175.7 220.5h0.95v0.95h-0.95zM191.6 256.1h0.95v0.95h-0.95zM186.4 213.2h0.95v0.95h-0.95zM180.8 248.5h0.95v0.95h-0.95zM184.7 213.4h0.95v0.95h-0.95zM178.7 229.3h0.95v0.95h-0.95zM189.8 211.5h0.95v0.95h-0.95zM193 230.8h0.95v0.95h-0.95zM220.1 250.2h0.95v0.95h-0.95zM205.9 217.6h0.95v0.95h-0.95zM184.9 220.3h0.95v0.95h-0.95zM176.1 251.4h0.95v0.95h-0.95zM164.2 235.5h0.95v0.95h-0.95zM168.7 231.2h0.95v0.95h-0.95zM213.3 227.1h0.95v0.95h-0.95zM178.7 224.7h0.95v0.95h-0.95zM206.8 245.1h0.95v0.95h-0.95zM210 201.2h0.95v0.95h-0.95zM222.8 214.9h0.95v0.95h-0.95zM202.9 221.2h0.95v0.95h-0.95zM215.4 207.4h0.95v0.95h-0.95zM179.7 211h0.95v0.95h-0.95zM172.9 261.8h0.95v0.95h-0.95zM203.8 217.5h0.95v0.95h-0.95zM198.6 209.9h0.95v0.95h-0.95zM220.5 243.5h0.95v0.95h-0.95zM196.2 256.6h0.95v0.95h-0.95zM180.6 253.4h0.95v0.95h-0.95zM205.1 240.8h0.95v0.95h-0.95zM177.5 220.8h0.95v0.95h-0.95zM180.2 239.2h0.95v0.95h-0.95zM209.1 207.7h0.95v0.95h-0.95zM211 206.2h0.95v0.95h-0.95zM184.4 207.7h0.95v0.95h-0.95zM190.5 235.3h0.95v0.95h-0.95zM208.2 198.8h0.95v0.95h-0.95zM173.6 246.8h0.95v0.95h-0.95zM191.5 214h0.95v0.95h-0.95zM184.1 267.3h0.95v0.95h-0.95zM184.4 236.6h0.95v0.95h-0.95zM187.7 224.6h0.95v0.95h-0.95zM188.2 207.2h0.95v0.95h-0.95zM214.6 207.7h0.95v0.95h-0.95zM192.5 256.7h0.95v0.95h-0.95zM191.2 261.7h0.95v0.95h-0.95zM195.2 204.4h0.95v0.95h-0.95zM168.2 241h0.95v0.95h-0.95zM188.7 231.6h0.95v0.95h-0.95zM172.3 214h0.95v0.95h-0.95zM199.6 265.1h0.95v0.95h-0.95zM169.6 230.5h0.95v0.95h-0.95zM196.8 195.8h0.95v0.95h-0.95zM227.5 240.8h0.95v0.95h-0.95zM218.8 209.2h0.95v0.95h-0.95zM191.1 258.8h0.95v0.95h-0.95zM177.6 223.3h0.95v0.95h-0.95zM199.4 222h0.95v0.95h-0.95zM170.7 211.2h0.95v0.95h-0.95zM164.7 236.2h0.95v0.95h-0.95zM205.3 235.3h0.95v0.95h-0.95zM207.3 215.9h0.95v0.95h-0.95zM192.3 237.8h0.95v0.95h-0.95zM192.7 243.9h0.95v0.95h-0.95zM194.2 226.4h0.95v0.95h-0.95zM197.3 210.2h0.95v0.95h-0.95zM217.2 253.5h0.95v0.95h-0.95zM195 205.8h0.95v0.95h-0.95zM196.1 200h0.95v0.95h-0.95zM171.1 225.8h0.95v0.95h-0.95zM168.4 226.7h0.95v0.95h-0.95zM208 198.1h0.95v0.95h-0.95zM215 253.3h0.95v0.95h-0.95zM198.9 195.8h0.95v0.95h-0.95zM198.4 221.6h0.95v0.95h-0.95zM214.9 256.3h0.95v0.95h-0.95zM197.5 267.6h0.95v0.95h-0.95zM166.5 219.4h0.95v0.95h-0.95zM216.7 204.1h0.95v0.95h-0.95zM198.2 264.7h0.95v0.95h-0.95zM176.9 212.4h0.95v0.95h-0.95zM198.5 216.9h0.95v0.95h-0.95zM174 253.9h0.95v0.95h-0.95zM170.1 233.7h0.95v0.95h-0.95zM208 220.1h0.95v0.95h-0.95zM225.2 235.7h0.95v0.95h-0.95zM203.9 261.7h0.95v0.95h-0.95zM207.5 222.9h0.95v0.95h-0.95zM219.7 212.6h0.95v0.95h-0.95zM187.9 252.3h0.95v0.95h-0.95zM193.9 205.6h0.95v0.95h-0.95zM221.3 211.7h0.95v0.95h-0.95zM204.3 244.3h0.95v0.95h-0.95zM206.5 225.9h0.95v0.95h-0.95zM199 262.7h0.95v0.95h-0.95zM169.4 219.9h0.95v0.95h-0.95zM178 237.9h0.95v0.95h-0.95zM204.5 207.8h0.95v0.95h-0.95zM207.1 229.3h0.95v0.95h-0.95zM179.4 203.4h0.95v0.95h-0.95zM168.7 242.3h0.95v0.95h-0.95zM190.9 212.5h0.95v0.95h-0.95zM202.6 219.4h0.95v0.95h-0.95zM208.7 226.8h0.95v0.95h-0.95zM179.8 263.4h0.95v0.95h-0.95zM164.9 233.8h0.95v0.95h-0.95zM191.2 210.4h0.95v0.95h-0.95zM176.2 239.9h0.95v0.95h-0.95zM198.6 242.5h0.95v0.95h-0.95zM184.2 215.4h0.95v0.95h-0.95zM218.6 248.4h0.95v0.95h-0.95zM215.9 228.5h0.95v0.95h-0.95zM186.1 251.1h0.95v0.95h-0.95zM212.2 258.7h0.95v0.95h-0.95zM213.5 212.7h0.95v0.95h-0.95zM202 226.2h0.95v0.95h-0.95zM219 233.1h0.95v0.95h-0.95zM181 242.6h0.95v0.95h-0.95zM180.6 210.3h0.95v0.95h-0.95zM216 217.5h0.95v0.95h-0.95zM179.1 263.7h0.95v0.95h-0.95zM207.6 246.6h0.95v0.95h-0.95zM195.8 258.3h0.95v0.95h-0.95zM212.4 259.7h0.95v0.95h-0.95zM193.5 249.1h0.95v0.95h-0.95zM203.2 216h0.95v0.95h-0.95zM177.1 241h0.95v0.95h-0.95zM186.8 202.8h0.95v0.95h-0.95zM212.1 241.9h0.95v0.95h-0.95zM212.4 250.1h0.95v0.95h-0.95zM166.5 238.5h0.95v0.95h-0.95zM188.1 256.5h0.95v0.95h-0.95zM207.8 257.1h0.95v0.95h-0.95zM207.6 214.4h0.95v0.95h-0.95zM184.9 225.2h0.95v0.95h-0.95zM182.3 248.4h0.95v0.95h-0.95zM188.5 217h0.95v0.95h-0.95zM223.6 240.7h0.95v0.95h-0.95zM193.4 253h0.95v0.95h-0.95zM186.9 247.5h0.95v0.95h-0.95zM200.8 208.7h0.95v0.95h-0.95zM197.4 254.9h0.95v0.95h-0.95zM175.1 230.8h0.95v0.95h-0.95zM187 257.7h0.95v0.95h-0.95zM180.7 266.6h0.95v0.95h-0.95zM182.3 208.6h0.95v0.95h-0.95zM212.6 231.1h0.95v0.95h-0.95zM169.7 242.1h0.95v0.95h-0.95zM167.6 254.2h0.95v0.95h-0.95zM212.4 254.1h0.95v0.95h-0.95zM207.4 219.8h0.95v0.95h-0.95zM190.9 222.9h0.95v0.95h-0.95zM176.7 212.4h0.95v0.95h-0.95zM189.3 261.8h0.95v0.95h-0.95zM178.7 228.2h0.95v0.95h-0.95zM200.4 251.5h0.95v0.95h-0.95zM216.5 242.9h0.95v0.95h-0.95zM187.1 217.5h0.95v0.95h-0.95zM173 258.6h0.95v0.95h-0.95zM209.8 250.5h0.95v0.95h-0.95zM174 226.4h0.95v0.95h-0.95zM170.9 228.3h0.95v0.95h-0.95zM175.6 215.5h0.95v0.95h-0.95zM212.8 258.6h0.95v0.95h-0.95zM179.7 217.5h0.95v0.95h-0.95zM199.7 204.3h0.95v0.95h-0.95zM185.6 206.6h0.95v0.95h-0.95zM169.1 222.1h0.95v0.95h-0.95zM215 226.1h0.95v0.95h-0.95zM176 242.2h0.95v0.95h-0.95zM190.7 254.4h0.95v0.95h-0.95zM212.1 231.3h0.95v0.95h-0.95zM207.7 228.4h0.95v0.95h-0.95zM172 239.5h0.95v0.95h-0.95zM191.1 250.4h0.95v0.95h-0.95zM227.7 225.7h0.95v0.95h-0.95zM203.4 251.1h0.95v0.95h-0.95zM192.3 209.7h0.95v0.95h-0.95zM218 247.2h0.95v0.95h-0.95zM223.7 245.6h0.95v0.95h-0.95zM208.4 227.6h0.95v0.95h-0.95zM184.5 241.5h0.95v0.95h-0.95zM168.8 224.9h0.95v0.95h-0.95zM218.6 248.2h0.95v0.95h-0.95zM207.5 211.4h0.95v0.95h-0.95zM192.5 227.7h0.95v0.95h-0.95zM206.9 224.1h0.95v0.95h-0.95zM175 243.6h0.95v0.95h-0.95zM218.3 222.4h0.95v0.95h-0.95zM164.5 234.7h0.95v0.95h-0.95zM173.4 253.7h0.95v0.95h-0.95zM230.1 232.8h0.95v0.95h-0.95zM169.1 237.2h0.95v0.95h-0.95zM201 248.6h0.95v0.95h-0.95zM199 242.3h0.95v0.95h-0.95zM222 233h0.95v0.95h-0.95zM191.5 266.9h0.95v0.95h-0.95zM177 245.9h0.95v0.95h-0.95zM190.3 252.2h0.95v0.95h-0.95zM181.7 223.3h0.95v0.95h-0.95zM192.3 247h0.95v0.95h-0.95zM187.3 212.6h0.95v0.95h-0.95zM178 250.5h0.95v0.95h-0.95zM177.6 255.2h0.95v0.95h-0.95zM190.2 208.4h0.95v0.95h-0.95zM171.1 253.3h0.95v0.95h-0.95zM220.6 242h0.95v0.95h-0.95zM195.8 236.2h0.95v0.95h-0.95zM187.4 242.3h0.95v0.95h-0.95zM195.7 214.9h0.95v0.95h-0.95zM201.6 201.5h0.95v0.95h-0.95zM222.3 219.7h0.95v0.95h-0.95zM189.1 211.7h0.95v0.95h-0.95zM192.7 206.3h0.95v0.95h-0.95zM182.2 211h0.95v0.95h-0.95zM183.7 229.6h0.95v0.95h-0.95zM192.9 242.2h0.95v0.95h-0.95zM209.6 220.3h0.95v0.95h-0.95zM171.9 257.6h0.95v0.95h-0.95zM209.4 211.4h0.95v0.95h-0.95zM178.7 253.2h0.95v0.95h-0.95zM186.9 203.7h0.95v0.95h-0.95zM173.9 262.4h0.95v0.95h-0.95zM205.9 253.6h0.95v0.95h-0.95zM176.1 246.6h0.95v0.95h-0.95zM200.3 250.5h0.95v0.95h-0.95zM193.6 261.7h0.95v0.95h-0.95zM202.1 212.6h0.95v0.95h-0.95zM197.6 196.2h0.95v0.95h-0.95zM195.7 203h0.95v0.95h-0.95zM197.4 231.1h0.95v0.95h-0.95zM200.9 260.1h0.95v0.95h-0.95zM195.7 236.2h0.95v0.95h-0.95zM210.1 258.3h0.95v0.95h-0.95zM189 224.8h0.95v0.95h-0.95zM208 242.1h0.95v0.95h-0.95zM163.8 240h0.95v0.95h-0.95zM198.8 230.1h0.95v0.95h-0.95zM213.9 241.2h0.95v0.95h-0.95zM186.3 260h0.95v0.95h-0.95zM188.3 229.3h0.95v0.95h-0.95zM199.9 252.8h0.95v0.95h-0.95zM177 226.1h0.95v0.95h-0.95zM192.4 235.6h0.95v0.95h-0.95zM221.8 214.8h0.95v0.95h-0.95zM221.9 223.6h0.95v0.95h-0.95zM198.3 213.1h0.95v0.95h-0.95zM209.3 254.5h0.95v0.95h-0.95zM185.8 216.7h0.95v0.95h-0.95zM183.5 238.1h0.95v0.95h-0.95zM207.9 253.9h0.95v0.95h-0.95zM226.1 234.9h0.95v0.95h-0.95zM228.7 239.9h0.95v0.95h-0.95zM209.6 254.3h0.95v0.95h-0.95zM227.9 240.2h0.95v0.95h-0.95zM206.5 241.4h0.95v0.95h-0.95zM212.3 238.9h0.95v0.95h-0.95zM211.2 208.4h0.95v0.95h-0.95zM210.2 227.9h0.95v0.95h-0.95zM209.4 220.9h0.95v0.95h-0.95zM202.6 212h0.95v0.95h-0.95zM183.7 225.1h0.95v0.95h-0.95zM184.9 225.8h0.95v0.95h-0.95zM165.7 236.6h0.95v0.95h-0.95zM220.6 237.3h0.95v0.95h-0.95zM228.5 227h0.95v0.95h-0.95zM191.7 199.6h0.95v0.95h-0.95zM208.6 208.4h0.95v0.95h-0.95zM214 210.8h0.95v0.95h-0.95zM215 206.4h0.95v0.95h-0.95zM207.4 247.9h0.95v0.95h-0.95zM195.2 265.6h0.95v0.95h-0.95zM184.3 249.5h0.95v0.95h-0.95zM173.8 260h0.95v0.95h-0.95zM197.1 196.3h0.95v0.95h-0.95zM188.4 237.2h0.95v0.95h-0.95zM193.6 245.3h0.95v0.95h-0.95zM172.3 254.9h0.95v0.95h-0.95zM188.1 242.8h0.95v0.95h-0.95zM207.5 224.8h0.95v0.95h-0.95zM189.8 254h0.95v0.95h-0.95zM202.9 214.8h0.95v0.95h-0.95zM212.8 257.3h0.95v0.95h-0.95zM185.9 239.7h0.95v0.95h-0.95zM205.4 216.1h0.95v0.95h-0.95zM192.9 262.1h0.95v0.95h-0.95zM189.1 246h0.95v0.95h-0.95zM205.5 262.8h0.95v0.95h-0.95zM220.4 214h0.95v0.95h-0.95zM192.4 238.2h0.95v0.95h-0.95zM203.3 213.3h0.95v0.95h-0.95zM202 254.9h0.95v0.95h-0.95zM176.3 251.2h0.95v0.95h-0.95zM205.8 245.4h0.95v0.95h-0.95zM195.5 207.9h0.95v0.95h-0.95zM180.2 251.2h0.95v0.95h-0.95zM219.3 228.1h0.95v0.95h-0.95zM203.9 262.8h0.95v0.95h-0.95zM196.4 238.4h0.95v0.95h-0.95zM175.5 206.8h0.95v0.95h-0.95zM174.9 247.3h0.95v0.95h-0.95zM188.1 236.4h0.95v0.95h-0.95zM191 232.6h0.95v0.95h-0.95zM169.4 241.8h0.95v0.95h-0.95zM205.1 218.9h0.95v0.95h-0.95zM224.7 230.2h0.95v0.95h-0.95zM202.9 212.3h0.95v0.95h-0.95zM218.4 225.4h0.95v0.95h-0.95zM176.3 205.9h0.95v0.95h-0.95zM202.2 260.7h0.95v0.95h-0.95zM195 266.8h0.95v0.95h-0.95zM205.2 223.1h0.95v0.95h-0.95zM180.4 236.4h0.95v0.95h-0.95zM210.4 222.8h0.95v0.95h-0.95zM194.3 204.2h0.95v0.95h-0.95zM180.3 219.5h0.95v0.95h-0.95zM218.9 247.9h0.95v0.95h-0.95zM210.9 215.3h0.95v0.95h-0.95zM204.7 251.8h0.95v0.95h-0.95zM169.4 217.3h0.95v0.95h-0.95zM196.7 204.9h0.95v0.95h-0.95zM177.8 265.8h0.95v0.95h-0.95zM171.9 227.1h0.95v0.95h-0.95zM222.9 241.5h0.95v0.95h-0.95zM194.6 218.5h0.95v0.95h-0.95zM221.6 229.5h0.95v0.95h-0.95zM207.4 202.9h0.95v0.95h-0.95zM213.6 235.5h0.95v0.95h-0.95zM172.2 260.7h0.95v0.95h-0.95zM181.1 224.3h0.95v0.95h-0.95zM173 213.1h0.95v0.95h-0.95zM173.9 230.6h0.95v0.95h-0.95zM184.8 263.3h0.95v0.95h-0.95zM210.3 208.3h0.95v0.95h-0.95zM196.4 214.3h0.95v0.95h-0.95zM180.5 207.6h0.95v0.95h-0.95zM168.8 214.5h0.95v0.95h-0.95zM220.4 218.6h0.95v0.95h-0.95zM222.2 233.4h0.95v0.95h-0.95zM175.2 226.1h0.95v0.95h-0.95zM203.3 202.5h0.95v0.95h-0.95zM174.8 252.8h0.95v0.95h-0.95zM213.4 207.2h0.95v0.95h-0.95zM206 230.9h0.95v0.95h-0.95zM181.6 207.9h0.95v0.95h-0.95zM206.2 247.8h0.95v0.95h-0.95zM220.7 237.9h0.95v0.95h-0.95zM215 224h0.95v0.95h-0.95zM220.6 218.2h0.95v0.95h-0.95zM175.2 257.6h0.95v0.95h-0.95zM188.4 204.5h0.95v0.95h-0.95zM188.7 238.8h0.95v0.95h-0.95zM194.1 232.5h0.95v0.95h-0.95zM170.5 248.3h0.95v0.95h-0.95zM185.1 248.1h0.95v0.95h-0.95zM189.4 251.3h0.95v0.95h-0.95zM199 233.7h0.95v0.95h-0.95zM179.9 256.5h0.95v0.95h-0.95zM212.5 207h0.95v0.95h-0.95zM203.6 233.1h0.95v0.95h-0.95zM212.8 199.7h0.95v0.95h-0.95zM197.6 231.3h0.95v0.95h-0.95zM191.2 202.4h0.95v0.95h-0.95zM204.7 260h0.95v0.95h-0.95zM172.4 237.1h0.95v0.95h-0.95zM216 204.6h0.95v0.95h-0.95zM190 225h0.95v0.95h-0.95zM222.8 233.3h0.95v0.95h-0.95zM190.5 266.4h0.95v0.95h-0.95zM179.2 218.2h0.95v0.95h-0.95zM165.6 232.7h0.95v0.95h-0.95zM179.8 225.1h0.95v0.95h-0.95zM207.7 220.5h0.95v0.95h-0.95zM200.3 197h0.95v0.95h-0.95zM193.2 231.7h0.95v0.95h-0.95zM208.4 212.7h0.95v0.95h-0.95zM211 213.3h0.95v0.95h-0.95zM201.1 265h0.95v0.95h-0.95zM206.9 211.4h0.95v0.95h-0.95zM199.5 226h0.95v0.95h-0.95zM183.9 243h0.95v0.95h-0.95zM170.5 238.8h0.95v0.95h-0.95zM181.2 228.6h0.95v0.95h-0.95zM200.5 203.3h0.95v0.95h-0.95zM183.1 223.8h0.95v0.95h-0.95zM182.7 210.9h0.95v0.95h-0.95zM168.1 235h0.95v0.95h-0.95zM222.8 240h0.95v0.95h-0.95zM203.2 243.2h0.95v0.95h-0.95zM176.3 248h0.95v0.95h-0.95zM195.2 235.1h0.95v0.95h-0.95zM206.3 228.8h0.95v0.95h-0.95zM184.3 210.8h0.95v0.95h-0.95zM177.8 232.3h0.95v0.95h-0.95zM189.6 238.1h0.95v0.95h-0.95zM202.2 230.6h0.95v0.95h-0.95zM183.2 252.9h0.95v0.95h-0.95zM225.1 226.5h0.95v0.95h-0.95zM166.2 222.4h0.95v0.95h-0.95zM193.7 250h0.95v0.95h-0.95zM173 218.3h0.95v0.95h-0.95zM187.3 245.2h0.95v0.95h-0.95zM206.5 259.1h0.95v0.95h-0.95zM215.4 250.6h0.95v0.95h-0.95zM216.9 229.3h0.95v0.95h-0.95zM218.8 247.9h0.95v0.95h-0.95zM217.4 238.1h0.95v0.95h-0.95zM203.3 224.7h0.95v0.95h-0.95zM205.9 221.7h0.95v0.95h-0.95zM194.6 227.9h0.95v0.95h-0.95zM214.3 214.8h0.95v0.95h-0.95zM190.1 235.7h0.95v0.95h-0.95zM189.7 217.1h0.95v0.95h-0.95zM198 226.8h0.95v0.95h-0.95zM175.1 215.7h0.95v0.95h-0.95zM172.3 237.3h0.95v0.95h-0.95zM204 198.5h0.95v0.95h-0.95zM192.7 263.9h0.95v0.95h-0.95zM202.8 231.1h0.95v0.95h-0.95zM199.3 232.6h0.95v0.95h-0.95zM211.5 222.5h0.95v0.95h-0.95zM187.7 238.8h0.95v0.95h-0.95zM187.2 266.9h0.95v0.95h-0.95zM210.9 233.3h0.95v0.95h-0.95zM168.9 221.3h0.95v0.95h-0.95zM190.9 236.2h0.95v0.95h-0.95zM203.4 261.5h0.95v0.95h-0.95zM193.7 241.2h0.95v0.95h-0.95zM200.3 256.4h0.95v0.95h-0.95zM174.1 216.8h0.95v0.95h-0.95zM199 200.3h0.95v0.95h-0.95zM226.3 225h0.95v0.95h-0.95zM173.1 214.6h0.95v0.95h-0.95zM198.9 231.7h0.95v0.95h-0.95zM175.4 206h0.95v0.95h-0.95zM207.5 239.5h0.95v0.95h-0.95zM208 194.9h0.95v0.95h-0.95zM191.6 254.1h0.95v0.95h-0.95zM184 246.4h0.95v0.95h-0.95zM210.3 207.2h0.95v0.95h-0.95zM197.9 235.5h0.95v0.95h-0.95zM181.1 242.9h0.95v0.95h-0.95zM203.5 224.2h0.95v0.95h-0.95zM199.7 257h0.95v0.95h-0.95zM206.3 255.6h0.95v0.95h-0.95zM217.7 217.2h0.95v0.95h-0.95zM213.7 219.7h0.95v0.95h-0.95zM174 212.7h0.95v0.95h-0.95zM204 219.3h0.95v0.95h-0.95zM194.4 222.2h0.95v0.95h-0.95zM193.7 240.8h0.95v0.95h-0.95zM184.6 263h0.95v0.95h-0.95zM197.7 267h0.95v0.95h-0.95zM179.4 222.5h0.95v0.95h-0.95zM213.9 209.1h0.95v0.95h-0.95zM184.2 261.1h0.95v0.95h-0.95zM196.9 254.5h0.95v0.95h-0.95zM179.4 205.3h0.95v0.95h-0.95zM187.8 206.4h0.95v0.95h-0.95zM202.5 200.7h0.95v0.95h-0.95zM200.5 222.2h0.95v0.95h-0.95zM170.7 257.2h0.95v0.95h-0.95zM187.3 211h0.95v0.95h-0.95zM175.6 214.1h0.95v0.95h-0.95zM210 218.7h0.95v0.95h-0.95zM173.1 247.6h0.95v0.95h-0.95zM193.9 258h0.95v0.95h-0.95zM187.4 249h0.95v0.95h-0.95zM189.1 267.7h0.95v0.95h-0.95zM198.4 209.6h0.95v0.95h-0.95zM194.6 201.9h0.95v0.95h-0.95zM213.1 212.3h0.95v0.95h-0.95zM227.1 238.2h0.95v0.95h-0.95zM188.5 211.1h0.95v0.95h-0.95zM205.9 208.4h0.95v0.95h-0.95zM199 234.7h0.95v0.95h-0.95zM181.4 252.9h0.95v0.95h-0.95zM189.7 243.8h0.95v0.95h-0.95zM203 216.2h0.95v0.95h-0.95zM190.1 198.4h0.95v0.95h-0.95zM174.6 259.2h0.95v0.95h-0.95zM185.1 244.2h0.95v0.95h-0.95zM169.6 236.2h0.95v0.95h-0.95zM188 231.3h0.95v0.95h-0.95zM184.3 209.5h0.95v0.95h-0.95zM170.9 248.5h0.95v0.95h-0.95zM182.2 223.6h0.95v0.95h-0.95zM171.3 213.5h0.95v0.95h-0.95zM210 219.5h0.95v0.95h-0.95zM191.7 243.9h0.95v0.95h-0.95zM212.6 211.3h0.95v0.95h-0.95zM223.3 219.5h0.95v0.95h-0.95zM207.4 206h0.95v0.95h-0.95zM215.1 248.2h0.95v0.95h-0.95zM183.8 221.8h0.95v0.95h-0.95zM208.1 205.8h0.95v0.95h-0.95zM222.7 236.9h0.95v0.95h-0.95zM213.8 211.8h0.95v0.95h-0.95zM193.3 245.9h0.95v0.95h-0.95zM223.8 239.8h0.95v0.95h-0.95zM169.8 254.4h0.95v0.95h-0.95zM177 264.2h0.95v0.95h-0.95zM212.2 222.8h0.95v0.95h-0.95zM207.4 227.5h0.95v0.95h-0.95zM165.7 247h0.95v0.95h-0.95zM192.9 232.2h0.95v0.95h-0.95zM212.8 255.6h0.95v0.95h-0.95zM180.7 235h0.95v0.95h-0.95zM201.3 211.4h0.95v0.95h-0.95zM166 220h0.95v0.95h-0.95zM191.6 207.5h0.95v0.95h-0.95zM184.3 202.4h0.95v0.95h-0.95zM213.1 244.8h0.95v0.95h-0.95zM179 210.7h0.95v0.95h-0.95zM199.2 226.9h0.95v0.95h-0.95zM183.5 261.9h0.95v0.95h-0.95zM172 236.3h0.95v0.95h-0.95zM186 256.3h0.95v0.95h-0.95zM201.6 252h0.95v0.95h-0.95zM174 244.5h0.95v0.95h-0.95zM205.2 228.2h0.95v0.95h-0.95zM170 214.5h0.95v0.95h-0.95zM187.9 207.9h0.95v0.95h-0.95zM176 247.3h0.95v0.95h-0.95zM194.3 200.5h0.95v0.95h-0.95zM185.3 228.8h0.95v0.95h-0.95zM188.1 204.9h0.95v0.95h-0.95zM167.8 248.5h0.95v0.95h-0.95zM169.6 230.4h0.95v0.95h-0.95zM193.3 206.6h0.95v0.95h-0.95zM209.2 211.5h0.95v0.95h-0.95zM222.8 215.1h0.95v0.95h-0.95zM175.2 242.3h0.95v0.95h-0.95zM174 253.9h0.95v0.95h-0.95zM185.5 206.2h0.95v0.95h-0.95zM188.5 235.3h0.95v0.95h-0.95zM188.6 257.6h0.95v0.95h-0.95zM202.9 241.5h0.95v0.95h-0.95zM221.3 247.6h0.95v0.95h-0.95zM197.7 231.2h0.95v0.95h-0.95zM173.2 215.3h0.95v0.95h-0.95zM204 197.9h0.95v0.95h-0.95zM211.7 204.5h0.95v0.95h-0.95zM193.7 206.7h0.95v0.95h-0.95zM218.9 225.3h0.95v0.95h-0.95zM182.3 244.1h0.95v0.95h-0.95zM199.1 225h0.95v0.95h-0.95zM186.3 226.4h0.95v0.95h-0.95zM210.1 257.2h0.95v0.95h-0.95zM183.2 226.8h0.95v0.95h-0.95zM202.7 219.2h0.95v0.95h-0.95zM185.2 228.1h0.95v0.95h-0.95zM210.9 240h0.95v0.95h-0.95zM183.3 236.9h0.95v0.95h-0.95zM208.8 215.3h0.95v0.95h-0.95zM186.7 261.9h0.95v0.95h-0.95zM211.1 227.1h0.95v0.95h-0.95zM167.9 244h0.95v0.95h-0.95zM188.8 237.7h0.95v0.95h-0.95zM192 233.7h0.95v0.95h-0.95zM202.8 223h0.95v0.95h-0.95zM226.4 235.1h0.95v0.95h-0.95zM200.3 211.5h0.95v0.95h-0.95zM197.3 235.6h0.95v0.95h-0.95zM178.2 237.1h0.95v0.95h-0.95zM169.9 232.3h0.95v0.95h-0.95zM204.5 197.9h0.95v0.95h-0.95zM193.7 260.2h0.95v0.95h-0.95zM201.7 248.3h0.95v0.95h-0.95zM190.2 205.1h0.95v0.95h-0.95zM178.9 221.1h0.95v0.95h-0.95zM177.2 215.4h0.95v0.95h-0.95zM213.1 225.4h0.95v0.95h-0.95zM226.3 240.9h0.95v0.95h-0.95zM225.1 236.3h0.95v0.95h-0.95zM173.9 250.8h0.95v0.95h-0.95zM186.5 252.2h0.95v0.95h-0.95zM211.2 257.2h0.95v0.95h-0.95zM170.6 221.2h0.95v0.95h-0.95zM205.6 199.4h0.95v0.95h-0.95zM201.6 255.4h0.95v0.95h-0.95zM210.8 211.8h0.95v0.95h-0.95zM175.8 227h0.95v0.95h-0.95zM169.7 255.2h0.95v0.95h-0.95zM175.2 235.6h0.95v0.95h-0.95zM182.8 246.2h0.95v0.95h-0.95zM189.4 203h0.95v0.95h-0.95zM211.8 255.8h0.95v0.95h-0.95zM186.6 203.5h0.95v0.95h-0.95zM198.2 260.9h0.95v0.95h-0.95zM175 256.6h0.95v0.95h-0.95zM211.1 222.7h0.95v0.95h-0.95zM196.3 204.1h0.95v0.95h-0.95zM223.2 222.8h0.95v0.95h-0.95zM225.2 240.1h0.95v0.95h-0.95zM167.2 217.7h0.95v0.95h-0.95zM177.4 262.6h0.95v0.95h-0.95zM204.6 195h0.95v0.95h-0.95zM174.1 220.2h0.95v0.95h-0.95zM195.7 237.4h0.95v0.95h-0.95zM189.9 219.6h0.95v0.95h-0.95zM210.5 213.2h0.95v0.95h-0.95zM181.6 231.3h0.95v0.95h-0.95zM180.8 236.8h0.95v0.95h-0.95zM202.5 252.8h0.95v0.95h-0.95zM207.7 242h0.95v0.95h-0.95zM188.1 213.9h0.95v0.95h-0.95zM183.8 252.2h0.95v0.95h-0.95zM215.5 232h0.95v0.95h-0.95zM207.9 219.4h0.95v0.95h-0.95zM201.8 223.8h0.95v0.95h-0.95zM196.7 220.7h0.95v0.95h-0.95zM179.4 210.2h0.95v0.95h-0.95zM187.1 202.3h0.95v0.95h-0.95zM194.7 226.9h0.95v0.95h-0.95zM203.1 215.6h0.95v0.95h-0.95zM183.6 216.1h0.95v0.95h-0.95zM214.5 235.4h0.95v0.95h-0.95zM228.7 237.9h0.95v0.95h-0.95zM187.7 253.1h0.95v0.95h-0.95zM192.9 260.6h0.95v0.95h-0.95zM166.6 230h0.95v0.95h-0.95zM173.7 212.8h0.95v0.95h-0.95zM212.9 208.9h0.95v0.95h-0.95zM190.8 207.5h0.95v0.95h-0.95zM205.5 260.2h0.95v0.95h-0.95zM208.8 207.2h0.95v0.95h-0.95zM205.4 197.8h0.95v0.95h-0.95zM186.5 202.4h0.95v0.95h-0.95zM175.4 234.2h0.95v0.95h-0.95zM225.4 242.4h0.95v0.95h-0.95zM185.5 251.1h0.95v0.95h-0.95zM208.9 223.7h0.95v0.95h-0.95zM211.1 218.4h0.95v0.95h-0.95zM165.9 224.5h0.95v0.95h-0.95zM165 241.3h0.95v0.95h-0.95zM186 230.8h0.95v0.95h-0.95zM205.2 212h0.95v0.95h-0.95zM206.4 249.1h0.95v0.95h-0.95zM220.9 225.2h0.95v0.95h-0.95zM200.9 238.3h0.95v0.95h-0.95zM202.1 243.8h0.95v0.95h-0.95zM205.4 217.8h0.95v0.95h-0.95zM215.6 212h0.95v0.95h-0.95zM213.4 252.2h0.95v0.95h-0.95zM218.1 216.1h0.95v0.95h-0.95zM194.7 213.6h0.95v0.95h-0.95zM199.8 266.3h0.95v0.95h-0.95zM196.3 243.6h0.95v0.95h-0.95zM218 220.3h0.95v0.95h-0.95zM166.1 231.4h0.95v0.95h-0.95zM202.1 206h0.95v0.95h-0.95zM218.3 210.8h0.95v0.95h-0.95zM208 218.9h0.95v0.95h-0.95zM219.9 228.1h0.95v0.95h-0.95zM185.3 263.4h0.95v0.95h-0.95zM169.6 249.8h0.95v0.95h-0.95zM166.5 242.8h0.95v0.95h-0.95zM190.9 260.2h0.95v0.95h-0.95zM166.1 236.4h0.95v0.95h-0.95zM191.5 264.6h0.95v0.95h-0.95zM178 211.6h0.95v0.95h-0.95zM180.8 226h0.95v0.95h-0.95zM178.5 207.7h0.95v0.95h-0.95zM216.9 242.6h0.95v0.95h-0.95zM177.5 236.8h0.95v0.95h-0.95zM173.1 260.1h0.95v0.95h-0.95zM182.3 217.9h0.95v0.95h-0.95zM197 262.4h0.95v0.95h-0.95zM173.5 245.8h0.95v0.95h-0.95zM205.2 227.5h0.95v0.95h-0.95zM203.8 261.7h0.95v0.95h-0.95zM177 261.8h0.95v0.95h-0.95zM187.9 253.5h0.95v0.95h-0.95zM172.7 250h0.95v0.95h-0.95zM211.4 198.7h0.95v0.95h-0.95zM186.4 264.5h0.95v0.95h-0.95zM178.8 254.5h0.95v0.95h-0.95zM198.4 209.9h0.95v0.95h-0.95zM193 199.9h0.95v0.95h-0.95zM184.7 261.4h0.95v0.95h-0.95zM170.5 230.3h0.95v0.95h-0.95zM171.6 225.6h0.95v0.95h-0.95zM174.7 246h0.95v0.95h-0.95zM172.5 250.2h0.95v0.95h-0.95zM198.1 200.5h0.95v0.95h-0.95zM187.4 231h0.95v0.95h-0.95zM181.6 205.6h0.95v0.95h-0.95zM164.9 232h0.95v0.95h-0.95zM191.4 235.8h0.95v0.95h-0.95zM211.7 243.4h0.95v0.95h-0.95zM201.3 235.2h0.95v0.95h-0.95zM190.7 216.8h0.95v0.95h-0.95zM189.9 222.2h0.95v0.95h-0.95zM191.5 202.9h0.95v0.95h-0.95zM180.2 240.1h0.95v0.95h-0.95zM189.1 210.7h0.95v0.95h-0.95zM212.2 217.3h0.95v0.95h-0.95zM208.7 235.2h0.95v0.95h-0.95zM223.8 232.1h0.95v0.95h-0.95zM178.8 241.6h0.95v0.95h-0.95zM215.8 221.6h0.95v0.95h-0.95zM213.5 222.8h0.95v0.95h-0.95zM200 240.2h0.95v0.95h-0.95zM207.4 234.7h0.95v0.95h-0.95zM177.9 240.2h0.95v0.95h-0.95zM181 263.8h0.95v0.95h-0.95zM196.1 248.9h0.95v0.95h-0.95zM199.7 229.4h0.95v0.95h-0.95zM199.8 233.5h0.95v0.95h-0.95zM220.8 210.5h0.95v0.95h-0.95zM174.2 256.9h0.95v0.95h-0.95zM195.2 242.4h0.95v0.95h-0.95zM189.4 257.7h0.95v0.95h-0.95zM172.9 211.5h0.95v0.95h-0.95zM169.2 219.9h0.95v0.95h-0.95zM194.6 198.5h0.95v0.95h-0.95zM212.2 227.2h0.95v0.95h-0.95zM196.5 255h0.95v0.95h-0.95zM211.2 220.7h0.95v0.95h-0.95zM199.6 210.4h0.95v0.95h-0.95zM188.7 218.6h0.95v0.95h-0.95zM176.3 236.9h0.95v0.95h-0.95zM213.9 213.4h0.95v0.95h-0.95zM185.3 210.8h0.95v0.95h-0.95zM208 259.8h0.95v0.95h-0.95zM176.4 225.2h0.95v0.95h-0.95zM219.3 240.6h0.95v0.95h-0.95zM193.9 220.7h0.95v0.95h-0.95zM213.5 215h0.95v0.95h-0.95zM191.4 243.1h0.95v0.95h-0.95zM220.7 219.5h0.95v0.95h-0.95zM189.7 237.5h0.95v0.95h-0.95zM188.8 244.4h0.95v0.95h-0.95zM216.7 221.7h0.95v0.95h-0.95zM199.9 231h0.95v0.95h-0.95zM195.3 228.3h0.95v0.95h-0.95zM222.8 224.5h0.95v0.95h-0.95zM196.1 262.3h0.95v0.95h-0.95zM193.7 230.6h0.95v0.95h-0.95zM198.9 257.1h0.95v0.95h-0.95zM210.5 250.4h0.95v0.95h-0.95zM211.1 235.6h0.95v0.95h-0.95zM217.6 252.7h0.95v0.95h-0.95zM216.5 236.4h0.95v0.95h-0.95zM165.7 245.7h0.95v0.95h-0.95zM213.4 229.9h0.95v0.95h-0.95zM165.7 246.5h0.95v0.95h-0.95zM192.1 237.9h0.95v0.95h-0.95zM186 232.7h0.95v0.95h-0.95zM181.7 212.4h0.95v0.95h-0.95zM184.5 211.8h0.95v0.95h-0.95zM224.2 235.7h0.95v0.95h-0.95zM198.9 224.9h0.95v0.95h-0.95zM200.7 221.2h0.95v0.95h-0.95zM195.5 230.4h0.95v0.95h-0.95zM204.2 220.6h0.95v0.95h-0.95zM200.5 224h0.95v0.95h-0.95zM202.8 217.2h0.95v0.95h-0.95zM181.6 254.8h0.95v0.95h-0.95zM182.9 248h0.95v0.95h-0.95zM194.8 265.8h0.95v0.95h-0.95zM194.1 261.3h0.95v0.95h-0.95zM165.9 226h0.95v0.95h-0.95zM208.2 195.4h0.95v0.95h-0.95zM205.1 205.8h0.95v0.95h-0.95zM210.7 245.2h0.95v0.95h-0.95zM183.2 208.3h0.95v0.95h-0.95zM191.9 243.9h0.95v0.95h-0.95zM180.4 263.5h0.95v0.95h-0.95zM165.8 246.8h0.95v0.95h-0.95zM183.1 210h0.95v0.95h-0.95zM204 216.9h0.95v0.95h-0.95zM202.5 203.8h0.95v0.95h-0.95zM189.3 242.5h0.95v0.95h-0.95zM178 234.9h0.95v0.95h-0.95zM168.5 228.4h0.95v0.95h-0.95zM214.7 225.7h0.95v0.95h-0.95zM211.1 200.6h0.95v0.95h-0.95zM182.9 219.2h0.95v0.95h-0.95zM216.3 231h0.95v0.95h-0.95zM197 260.2h0.95v0.95h-0.95zM205.2 234.5h0.95v0.95h-0.95zM181.4 262.5h0.95v0.95h-0.95zM186.7 266.6h0.95v0.95h-0.95zM209.4 195.5h0.95v0.95h-0.95zM185.9 227.3h0.95v0.95h-0.95zM179.7 250.5h0.95v0.95h-0.95zM174.7 254.1h0.95v0.95h-0.95zM202.4 199.1h0.95v0.95h-0.95zM201.8 254.2h0.95v0.95h-0.95zM205 228.2h0.95v0.95h-0.95zM164.2 232.3h0.95v0.95h-0.95zM168.8 242.9h0.95v0.95h-0.95zM171.3 237.5h0.95v0.95h-0.95zM187.4 221.3h0.95v0.95h-0.95zM209.9 204.6h0.95v0.95h-0.95zM185.8 258.5h0.95v0.95h-0.95zM197.8 234.1h0.95v0.95h-0.95zM170.3 228.7h0.95v0.95h-0.95zM173.6 234.1h0.95v0.95h-0.95zM198.6 220.7h0.95v0.95h-0.95zM176.1 223.6h0.95v0.95h-0.95zM179.2 260.8h0.95v0.95h-0.95zM198.2 262.3h0.95v0.95h-0.95zM197.2 254.4h0.95v0.95h-0.95zM203.2 246.3h0.95v0.95h-0.95zM178.4 251.2h0.95v0.95h-0.95zM172.9 212.5h0.95v0.95h-0.95zM199.4 214.7h0.95v0.95h-0.95zM203.8 210.1h0.95v0.95h-0.95zM205 253.9h0.95v0.95h-0.95zM179.6 239.2h0.95v0.95h-0.95zM206.7 246.5h0.95v0.95h-0.95zM220.9 218.7h0.95v0.95h-0.95zM220.6 228.2h0.95v0.95h-0.95zM191.3 198.5h0.95v0.95h-0.95zM179.5 249.9h0.95v0.95h-0.95zM211.1 203.5h0.95v0.95h-0.95zM186.7 202.7h0.95v0.95h-0.95zM176.1 209h0.95v0.95h-0.95zM196.6 231.1h0.95v0.95h-0.95zM216.3 242.1h0.95v0.95h-0.95zM176.2 241.2h0.95v0.95h-0.95zM168.4 248.6h0.95v0.95h-0.95zM187.1 204.4h0.95v0.95h-0.95zM215.9 202.3h0.95v0.95h-0.95zM204.6 226.1h0.95v0.95h-0.95zM180 258.2h0.95v0.95h-0.95zM178.6 207.3h0.95v0.95h-0.95zM195 210.3h0.95v0.95h-0.95zM197.5 263.7h0.95v0.95h-0.95zM211.5 248h0.95v0.95h-0.95zM190.2 253.8h0.95v0.95h-0.95zM219.4 245.8h0.95v0.95h-0.95zM191.2 198.4h0.95v0.95h-0.95zM209.2 258h0.95v0.95h-0.95zM186.4 238.8h0.95v0.95h-0.95zM220.8 224.8h0.95v0.95h-0.95zM205.7 227.9h0.95v0.95h-0.95zM186.1 208.5h0.95v0.95h-0.95zM187.4 258.7h0.95v0.95h-0.95zM206.7 214.7h0.95v0.95h-0.95zM212.7 226.7h0.95v0.95h-0.95zM209.8 255.7h0.95v0.95h-0.95zM170.5 245.8h0.95v0.95h-0.95zM175.1 213.1h0.95v0.95h-0.95zM178 262.3h0.95v0.95h-0.95zM206.1 262.6h0.95v0.95h-0.95zM190.4 231.2h0.95v0.95h-0.95zM194.8 255.9h0.95v0.95h-0.95zM180 219.5h0.95v0.95h-0.95zM169.1 235.5h0.95v0.95h-0.95zM224.4 232.4h0.95v0.95h-0.95zM189.1 265.3h0.95v0.95h-0.95zM167.2 241.1h0.95v0.95h-0.95zM194 267.7h0.95v0.95h-0.95zM188 244.1h0.95v0.95h-0.95zM207.7 221.4h0.95v0.95h-0.95zM199.7 245.3h0.95v0.95h-0.95zM227.7 231.1h0.95v0.95h-0.95zM211.4 235.8h0.95v0.95h-0.95zM194.3 251.2h0.95v0.95h-0.95zM185.4 202.4h0.95v0.95h-0.95zM172.2 238.2h0.95v0.95h-0.95zM203.6 195.2h0.95v0.95h-0.95zM190.2 250.9h0.95v0.95h-0.95zM208.4 213.9h0.95v0.95h-0.95zM217.1 214.7h0.95v0.95h-0.95zM201.3 225h0.95v0.95h-0.95zM220.2 245.3h0.95v0.95h-0.95zM189.4 268.1h0.95v0.95h-0.95zM213.3 246.4h0.95v0.95h-0.95zM181.9 204.4h0.95v0.95h-0.95zM203.5 257.2h0.95v0.95h-0.95zM219.4 219.1h0.95v0.95h-0.95zM171.9 232.5h0.95v0.95h-0.95zM215.4 205.1h0.95v0.95h-0.95zM183.4 222h0.95v0.95h-0.95zM175.3 216.1h0.95v0.95h-0.95zM185 226.4h0.95v0.95h-0.95zM169.6 212.2h0.95v0.95h-0.95zM190.4 222.2h0.95v0.95h-0.95zM176.5 263.8h0.95v0.95h-0.95zM194.4 258.1h0.95v0.95h-0.95zM208 253.4h0.95v0.95h-0.95zM184.6 203.6h0.95v0.95h-0.95zM216.8 228.9h0.95v0.95h-0.95zM202.3 244.8h0.95v0.95h-0.95zM216.4 213.4h0.95v0.95h-0.95zM188.1 264.5h0.95v0.95h-0.95zM200.2 214.5h0.95v0.95h-0.95zM207.5 212.2h0.95v0.95h-0.95zM221.8 236.6h0.95v0.95h-0.95zM187.4 266.2h0.95v0.95h-0.95zM181 210.9h0.95v0.95h-0.95zM166.8 235.1h0.95v0.95h-0.95zM216.5 245.4h0.95v0.95h-0.95zM191.7 255.7h0.95v0.95h-0.95zM169.8 215.9h0.95v0.95h-0.95zM207.8 246.5h0.95v0.95h-0.95zM218 222.9h0.95v0.95h-0.95zM186.6 222.7h0.95v0.95h-0.95zM175.2 260.8h0.95v0.95h-0.95zM200.4 233h0.95v0.95h-0.95zM171.4 218.5h0.95v0.95h-0.95zM166.5 224.4h0.95v0.95h-0.95zM198.2 259.3h0.95v0.95h-0.95zM210.3 237.5h0.95v0.95h-0.95zM191.1 237.1h0.95v0.95h-0.95zM181.6 258.7h0.95v0.95h-0.95zM172.7 244.9h0.95v0.95h-0.95zM216.5 231.3h0.95v0.95h-0.95zM208.9 261.4h0.95v0.95h-0.95zM171.3 247.5h0.95v0.95h-0.95zM212.9 240.2h0.95v0.95h-0.95zM205.6 257.1h0.95v0.95h-0.95zM181.6 208.5h0.95v0.95h-0.95zM220 220.1h0.95v0.95h-0.95zM212.6 197.3h0.95v0.95h-0.95zM171.8 213.4h0.95v0.95h-0.95zM166 227h0.95v0.95h-0.95zM202.1 255.7h0.95v0.95h-0.95zM207.5 218.6h0.95v0.95h-0.95zM185.8 236.7h0.95v0.95h-0.95zM177.6 254.6h0.95v0.95h-0.95zM176.9 258.3h0.95v0.95h-0.95zM220.5 234.2h0.95v0.95h-0.95zM207.5 249.1h0.95v0.95h-0.95zM204.2 223.3h0.95v0.95h-0.95zM198.9 238.3h0.95v0.95h-0.95zM178.2 260.5h0.95v0.95h-0.95zM196.5 202.2h0.95v0.95h-0.95zM194.7 245.8h0.95v0.95h-0.95zM213.2 227.7h0.95v0.95h-0.95zM186.6 206.6h0.95v0.95h-0.95zM191 214h0.95v0.95h-0.95zM175.8 250h0.95v0.95h-0.95zM199.2 226.4h0.95v0.95h-0.95zM176.1 247.5h0.95v0.95h-0.95zM176 212.6h0.95v0.95h-0.95zM202.4 247.3h0.95v0.95h-0.95zM214.2 248.7h0.95v0.95h-0.95zM214.2 241.6h0.95v0.95h-0.95zM180.9 219.8h0.95v0.95h-0.95zM173.6 241.8h0.95v0.95h-0.95zM187.5 263h0.95v0.95h-0.95zM220.2 227.7h0.95v0.95h-0.95zM172.9 253.3h0.95v0.95h-0.95zM196.3 256.9h0.95v0.95h-0.95zM202.7 231.9h0.95v0.95h-0.95zM176.9 211.6h0.95v0.95h-0.95zM215 222.1h0.95v0.95h-0.95zM177.3 238.1h0.95v0.95h-0.95zM226.3 234h0.95v0.95h-0.95zM166.9 217.2h0.95v0.95h-0.95zM207.1 261.9h0.95v0.95h-0.95zM196.9 242.4h0.95v0.95h-0.95zM176.7 210.9h0.95v0.95h-0.95zM169.3 238.5h0.95v0.95h-0.95zM194.9 238.1h0.95v0.95h-0.95zM208 247.7h0.95v0.95h-0.95zM193.7 196.9h0.95v0.95h-0.95zM195.9 223.3h0.95v0.95h-0.95zM210.6 248.3h0.95v0.95h-0.95zM179.1 243.2h0.95v0.95h-0.95zM212 229h0.95v0.95h-0.95zM205.3 196.5h0.95v0.95h-0.95zM178.3 222.7h0.95v0.95h-0.95zM207.8 250.5h0.95v0.95h-0.95zM179.2 265.5h0.95v0.95h-0.95zM177.7 244.9h0.95v0.95h-0.95zM175.3 255.7h0.95v0.95h-0.95zM173.6 232.2h0.95v0.95h-0.95zM169.4 254.1h0.95v0.95h-0.95zM202.1 256.8h0.95v0.95h-0.95zM198.2 240.8h0.95v0.95h-0.95zM204.9 255.1h0.95v0.95h-0.95zM201.4 214.7h0.95v0.95h-0.95zM195 201.2h0.95v0.95h-0.95zM209 208h0.95v0.95h-0.95zM192.9 200.3h0.95v0.95h-0.95zM188.4 215.6h0.95v0.95h-0.95zM217.1 203.3h0.95v0.95h-0.95zM212.1 239.1h0.95v0.95h-0.95zM199.5 227.7h0.95v0.95h-0.95zM191.3 240.1h0.95v0.95h-0.95zM215 254.9h0.95v0.95h-0.95zM211.2 259.1h0.95v0.95h-0.95zM193 261.3h0.95v0.95h-0.95zM193.8 247.7h0.95v0.95h-0.95zM180.1 215.4h0.95v0.95h-0.95zM187.1 217.3h0.95v0.95h-0.95zM168.6 226.7h0.95v0.95h-0.95zM179.9 224.3h0.95v0.95h-0.95zM185.6 252.8h0.95v0.95h-0.95zM219.5 233.8h0.95v0.95h-0.95zM169.3 257.1h0.95v0.95h-0.95zM184.5 241.4h0.95v0.95h-0.95zM188.4 234.2h0.95v0.95h-0.95zM200.3 243.2h0.95v0.95h-0.95zM200.9 266.1h0.95v0.95h-0.95zM191.3 264.2h0.95v0.95h-0.95zM182.6 263.6h0.95v0.95h-0.95zM174.5 226.3h0.95v0.95h-0.95zM211.7 246.4h0.95v0.95h-0.95zM216 251.4h0.95v0.95h-0.95zM179.8 212h0.95v0.95h-0.95zM176.9 212.2h0.95v0.95h-0.95zM204.7 243.7h0.95v0.95h-0.95zM205.2 246.8h0.95v0.95h-0.95zM188 202.8h0.95v0.95h-0.95zM169.9 230.8h0.95v0.95h-0.95zM181.6 252.7h0.95v0.95h-0.95zM183.8 224h0.95v0.95h-0.95zM211.8 226.9h0.95v0.95h-0.95zM210.5 213.6h0.95v0.95h-0.95zM209.6 238.2h0.95v0.95h-0.95zM209.8 205.9h0.95v0.95h-0.95zM209.1 236.8h0.95v0.95h-0.95zM188.2 249h0.95v0.95h-0.95zM171.8 254.2h0.95v0.95h-0.95zM180 220.6h0.95v0.95h-0.95zM199.7 200.4h0.95v0.95h-0.95zM179.8 254.8h0.95v0.95h-0.95zM182.5 221.8h0.95v0.95h-0.95zM217.3 209.3h0.95v0.95h-0.95zM175.8 208.9h0.95v0.95h-0.95zM189.6 220.6h0.95v0.95h-0.95zM208.3 229h0.95v0.95h-0.95zM210 258h0.95v0.95h-0.95zM193.6 200.7h0.95v0.95h-0.95zM195.2 248.1h0.95v0.95h-0.95zM196.6 205.3h0.95v0.95h-0.95zM178.5 226.5h0.95v0.95h-0.95zM188 228.8h0.95v0.95h-0.95zM179.1 205.1h0.95v0.95h-0.95zM228.9 228.2h0.95v0.95h-0.95zM194.7 216.8h0.95v0.95h-0.95zM176.6 244.2h0.95v0.95h-0.95zM188 201h0.95v0.95h-0.95zM209.2 232.4h0.95v0.95h-0.95zM178.7 231.2h0.95v0.95h-0.95zM205.7 243.3h0.95v0.95h-0.95zM172.3 255.4h0.95v0.95h-0.95zM178.2 239.1h0.95v0.95h-0.95zM193.6 202.7h0.95v0.95h-0.95zM175.6 251.1h0.95v0.95h-0.95zM190.9 245.5h0.95v0.95h-0.95zM178.7 229.5h0.95v0.95h-0.95zM198.9 266.9h0.95v0.95h-0.95zM206.9 208.7h0.95v0.95h-0.95zM185.1 223.9h0.95v0.95h-0.95zM186.7 244.7h0.95v0.95h-0.95zM173.5 257.4h0.95v0.95h-0.95zM180.5 227.6h0.95v0.95h-0.95zM202.6 248.1h0.95v0.95h-0.95zM171.7 210.6h0.95v0.95h-0.95zM199.7 237.7h0.95v0.95h-0.95zM178.8 204.8h0.95v0.95h-0.95zM204.3 227.5h0.95v0.95h-0.95zM191.4 262.2h0.95v0.95h-0.95zM209.8 259.9h0.95v0.95h-0.95zM182.8 214.5h0.95v0.95h-0.95zM192.3 233.6h0.95v0.95h-0.95zM209.2 232.3h0.95v0.95h-0.95zM209.6 238.1h0.95v0.95h-0.95zM203.2 206h0.95v0.95h-0.95zM212 211.8h0.95v0.95h-0.95zM178.9 220.6h0.95v0.95h-0.95zM199.8 245.4h0.95v0.95h-0.95zM167.1 250.5h0.95v0.95h-0.95zM207.1 229h0.95v0.95h-0.95zM210.6 255.1h0.95v0.95h-0.95zM211 247.9h0.95v0.95h-0.95zM208.8 205.9h0.95v0.95h-0.95zM178.6 225.8h0.95v0.95h-0.95zM191.5 268h0.95v0.95h-0.95zM215.2 220.1h0.95v0.95h-0.95zM209.9 252.5h0.95v0.95h-0.95zM177.3 212.7h0.95v0.95h-0.95zM191.2 225h0.95v0.95h-0.95zM167.4 237.8h0.95v0.95h-0.95zM187.6 247.5h0.95v0.95h-0.95zM193.5 205.5h0.95v0.95h-0.95zM210.9 204.3h0.95v0.95h-0.95zM188.6 268h0.95v0.95h-0.95zM208.4 242h0.95v0.95h-0.95zM176 252.4h0.95v0.95h-0.95zM183.6 211.9h0.95v0.95h-0.95zM204.5 207.3h0.95v0.95h-0.95zM214.5 213.2h0.95v0.95h-0.95zM174.3 246.8h0.95v0.95h-0.95zM181 248.1h0.95v0.95h-0.95zM186.1 233h0.95v0.95h-0.95zM185 224.7h0.95v0.95h-0.95zM196.5 212.1h0.95v0.95h-0.95zM207.1 246.9h0.95v0.95h-0.95zM180.8 254.5h0.95v0.95h-0.95zM197.5 206.5h0.95v0.95h-0.95zM212.1 222.2h0.95v0.95h-0.95zM168.6 238.1h0.95v0.95h-0.95zM175.6 247.8h0.95v0.95h-0.95zM209.9 236.4h0.95v0.95h-0.95zM204.1 200.1h0.95v0.95h-0.95zM207.8 210.7h0.95v0.95h-0.95zM180.5 225.2h0.95v0.95h-0.95zM200.5 249.1h0.95v0.95h-0.95zM177.8 214.6h0.95v0.95h-0.95zM208.2 246.5h0.95v0.95h-0.95zM206.4 263.2h0.95v0.95h-0.95zM176.6 216.3h0.95v0.95h-0.95zM209.9 212.3h0.95v0.95h-0.95zM173.2 209.5h0.95v0.95h-0.95zM219.5 216.1h0.95v0.95h-0.95zM184.7 248.9h0.95v0.95h-0.95zM165.8 240h0.95v0.95h-0.95zM199.1 203.5h0.95v0.95h-0.95zM195.3 207.2h0.95v0.95h-0.95zM170.4 231.8h0.95v0.95h-0.95zM199.6 220.4h0.95v0.95h-0.95zM213.8 233.6h0.95v0.95h-0.95zM166.8 222.3h0.95v0.95h-0.95zM196.9 211.6h0.95v0.95h-0.95zM210.3 209.2h0.95v0.95h-0.95zM184.9 229.4h0.95v0.95h-0.95zM213.5 252.8h0.95v0.95h-0.95zM188.7 227h0.95v0.95h-0.95zM206.7 199.9h0.95v0.95h-0.95zM194.8 242.2h0.95v0.95h-0.95zM171.1 228.6h0.95v0.95h-0.95zM206.7 215.4h0.95v0.95h-0.95zM166.7 251.2h0.95v0.95h-0.95zM217.7 226.3h0.95v0.95h-0.95zM167.9 222.8h0.95v0.95h-0.95zM173.6 233.8h0.95v0.95h-0.95zM174.3 252.3h0.95v0.95h-0.95zM192.7 218.4h0.95v0.95h-0.95zM170.7 210.8h0.95v0.95h-0.95zM180.6 250.4h0.95v0.95h-0.95zM196.1 267.6h0.95v0.95h-0.95zM205.6 214.5h0.95v0.95h-0.95zM195.5 248.5h0.95v0.95h-0.95zM169.5 256.2h0.95v0.95h-0.95zM186.4 211.2h0.95v0.95h-0.95zM180.3 228.8h0.95v0.95h-0.95zM223.8 217.1h0.95v0.95h-0.95zM174.3 250.7h0.95v0.95h-0.95zM186.6 206.4h0.95v0.95h-0.95zM192.1 256.8h0.95v0.95h-0.95zM224.5 237.2h0.95v0.95h-0.95zM205.8 263h0.95v0.95h-0.95zM181.1 220.6h0.95v0.95h-0.95zM189 219.6h0.95v0.95h-0.95zM189.2 200.3h0.95v0.95h-0.95zM178.2 263.8h0.95v0.95h-0.95zM191.6 242.1h0.95v0.95h-0.95zM179.5 264.6h0.95v0.95h-0.95zM214.6 251.5h0.95v0.95h-0.95zM209.4 221.8h0.95v0.95h-0.95zM200.9 218.3h0.95v0.95h-0.95zM221.4 219h0.95v0.95h-0.95zM210.9 243.4h0.95v0.95h-0.95zM201.5 227.8h0.95v0.95h-0.95zM186.4 253.8h0.95v0.95h-0.95zM177.3 218.6h0.95v0.95h-0.95zM219.6 209.6h0.95v0.95h-0.95zM215.6 207.3h0.95v0.95h-0.95zM195.3 223.5h0.95v0.95h-0.95zM184.2 241.8h0.95v0.95h-0.95zM184.4 261h0.95v0.95h-0.95zM203.4 199.9h0.95v0.95h-0.95zM204.4 257.4h0.95v0.95h-0.95zM199.4 230h0.95v0.95h-0.95zM192 261.5h0.95v0.95h-0.95zM210.1 208.1h0.95v0.95h-0.95zM188.1 220.4h0.95v0.95h-0.95zM164.3 238.5h0.95v0.95h-0.95zM193.1 248.6h0.95v0.95h-0.95zM192.9 198.9h0.95v0.95h-0.95zM199.8 256.7h0.95v0.95h-0.95zM177.9 250.7h0.95v0.95h-0.95zM220 208.9h0.95v0.95h-0.95zM193.2 221.8h0.95v0.95h-0.95zM176.4 215.5h0.95v0.95h-0.95zM185.6 249.7h0.95v0.95h-0.95zM175.3 235h0.95v0.95h-0.95zM198.1 244.7h0.95v0.95h-0.95zM188 265h0.95v0.95h-0.95zM198.2 263h0.95v0.95h-0.95zM198.9 265.7h0.95v0.95h-0.95zM202.4 202.9h0.95v0.95h-0.95zM207.6 255.4h0.95v0.95h-0.95zM192.5 239.4h0.95v0.95h-0.95zM180.6 213.5h0.95v0.95h-0.95zM192.3 232.3h0.95v0.95h-0.95zM195.8 198.9h0.95v0.95h-0.95zM213.8 251h0.95v0.95h-0.95zM179 211.8h0.95v0.95h-0.95zM199.3 205.5h0.95v0.95h-0.95zM205.5 263.4h0.95v0.95h-0.95zM176.4 238.1h0.95v0.95h-0.95zM214.1 251.1h0.95v0.95h-0.95zM213.5 248h0.95v0.95h-0.95zM181.5 258.2h0.95v0.95h-0.95zM219.6 245.4h0.95v0.95h-0.95zM172 228.1h0.95v0.95h-0.95zM186.1 252.5h0.95v0.95h-0.95zM179.5 207.3h0.95v0.95h-0.95zM173.4 224.1h0.95v0.95h-0.95zM206.7 215.6h0.95v0.95h-0.95zM173.5 208.9h0.95v0.95h-0.95zM184.7 231.6h0.95v0.95h-0.95zM175.1 229.7h0.95v0.95h-0.95zM197.1 266.6h0.95v0.95h-0.95zM196 207.3h0.95v0.95h-0.95zM204.8 203h0.95v0.95h-0.95zM191 219.7h0.95v0.95h-0.95zM192.6 219.5h0.95v0.95h-0.95zM211.9 222.7h0.95v0.95h-0.95zM172.8 260.2h0.95v0.95h-0.95zM187.5 241.6h0.95v0.95h-0.95zM193.2 215.2h0.95v0.95h-0.95zM202 244.2h0.95v0.95h-0.95zM172.3 220.6h0.95v0.95h-0.95zM204.6 245.4h0.95v0.95h-0.95zM186.4 266.6h0.95v0.95h-0.95zM201.7 223.5h0.95v0.95h-0.95zM196.6 230.9h0.95v0.95h-0.95zM188.1 262.7h0.95v0.95h-0.95zM187.1 233.8h0.95v0.95h-0.95zM196.4 218h0.95v0.95h-0.95zM189.9 240h0.95v0.95h-0.95zM188.7 222.3h0.95v0.95h-0.95zM188.1 264.1h0.95v0.95h-0.95zM200.9 213.5h0.95v0.95h-0.95zM185.9 256.8h0.95v0.95h-0.95zM173.4 246.4h0.95v0.95h-0.95zM172.4 209.6h0.95v0.95h-0.95zM215 248.8h0.95v0.95h-0.95zM201.8 264.8h0.95v0.95h-0.95zM193.3 206.9h0.95v0.95h-0.95zM189.8 198.9h0.95v0.95h-0.95zM213.2 241.6h0.95v0.95h-0.95zM174.9 240h0.95v0.95h-0.95zM193.3 222.6h0.95v0.95h-0.95zM180.1 210h0.95v0.95h-0.95zM213 205.4h0.95v0.95h-0.95zM187.2 250.1h0.95v0.95h-0.95zM166 233.7h0.95v0.95h-0.95zM193.7 254.4h0.95v0.95h-0.95zM203.6 227.4h0.95v0.95h-0.95zM225.8 239.3h0.95v0.95h-0.95zM186.2 223h0.95v0.95h-0.95zM228.2 236.1h0.95v0.95h-0.95zM189.6 246.4h0.95v0.95h-0.95zM218.9 232.5h0.95v0.95h-0.95zM191.8 244.7h0.95v0.95h-0.95zM203.1 249.4h0.95v0.95h-0.95zM191.4 267.8h0.95v0.95h-0.95zM206.4 216.7h0.95v0.95h-0.95zM189.1 212.9h0.95v0.95h-0.95zM184.9 251.8h0.95v0.95h-0.95zM180.8 240.1h0.95v0.95h-0.95zM173.2 259.7h0.95v0.95h-0.95zM197.2 213.4h0.95v0.95h-0.95zM172.6 252h0.95v0.95h-0.95zM203.4 263.6h0.95v0.95h-0.95zM204.4 225.5h0.95v0.95h-0.95zM225.1 226.6h0.95v0.95h-0.95zM214.5 211.9h0.95v0.95h-0.95zM214.8 243.1h0.95v0.95h-0.95zM168.8 230.8h0.95v0.95h-0.95zM209.3 213.6h0.95v0.95h-0.95zM188.7 264.7h0.95v0.95h-0.95zM192.7 237h0.95v0.95h-0.95zM194.9 260.2h0.95v0.95h-0.95zM190.9 267.1h0.95v0.95h-0.95zM196.1 201h0.95v0.95h-0.95zM216.2 203h0.95v0.95h-0.95zM211.1 195.8h0.95v0.95h-0.95zM215.5 202h0.95v0.95h-0.95zM208 221.5h0.95v0.95h-0.95zM179.8 256.3h0.95v0.95h-0.95zM195.5 228.8h0.95v0.95h-0.95zM214 249.5h0.95v0.95h-0.95zM186.7 265.7h0.95v0.95h-0.95zM175.2 231.3h0.95v0.95h-0.95zM186.2 204.5h0.95v0.95h-0.95zM218.8 211.4h0.95v0.95h-0.95zM227.6 240.2h0.95v0.95h-0.95zM207.6 233.9h0.95v0.95h-0.95zM223.9 226.8h0.95v0.95h-0.95zM220.3 245.7h0.95v0.95h-0.95zM215.9 210h0.95v0.95h-0.95zM195.4 256.9h0.95v0.95h-0.95zM173.4 245.9h0.95v0.95h-0.95zM202 223.7h0.95v0.95h-0.95zM195.9 230.7h0.95v0.95h-0.95zM181.2 220.8h0.95v0.95h-0.95zM202 252.1h0.95v0.95h-0.95zM204.6 204.4h0.95v0.95h-0.95zM171.9 237.8h0.95v0.95h-0.95zM201.5 216.5h0.95v0.95h-0.95zM170.7 214.1h0.95v0.95h-0.95zM207.5 236.3h0.95v0.95h-0.95zM188.1 267h0.95v0.95h-0.95zM207.8 234.7h0.95v0.95h-0.95zM224.4 244.8h0.95v0.95h-0.95zM187.9 239.6h0.95v0.95h-0.95zM201.9 207.9h0.95v0.95h-0.95zM198.6 200.9h0.95v0.95h-0.95zM222.6 244.7h0.95v0.95h-0.95zM165.3 225.4h0.95v0.95h-0.95zM191.9 263.3h0.95v0.95h-0.95zM204.6 257.1h0.95v0.95h-0.95zM174.7 257.7h0.95v0.95h-0.95zM181.2 261.5h0.95v0.95h-0.95zM199.2 217.2h0.95v0.95h-0.95zM212.4 196.9h0.95v0.95h-0.95zM169.8 250.9h0.95v0.95h-0.95zM181.4 203.3h0.95v0.95h-0.95zM188.2 244.1h0.95v0.95h-0.95zM209.2 204.3h0.95v0.95h-0.95zM214.5 235.4h0.95v0.95h-0.95zM187.8 263.1h0.95v0.95h-0.95zM180.3 202.8h0.95v0.95h-0.95zM204.5 255.2h0.95v0.95h-0.95zM173.4 231.5h0.95v0.95h-0.95zM203.5 236.1h0.95v0.95h-0.95zM191.7 234.7h0.95v0.95h-0.95zM192.4 210.3h0.95v0.95h-0.95zM216.7 210.8h0.95v0.95h-0.95zM168.4 229.5h0.95v0.95h-0.95zM189.9 218.2h0.95v0.95h-0.95zM210.4 257.9h0.95v0.95h-0.95zM194.6 231.5h0.95v0.95h-0.95zM228.9 239.5h0.95v0.95h-0.95zM167.7 217.9h0.95v0.95h-0.95zM168.2 243.1h0.95v0.95h-0.95zM192.5 216.1h0.95v0.95h-0.95zM199 266h0.95v0.95h-0.95zM179.5 203.8h0.95v0.95h-0.95zM183.9 217.3h0.95v0.95h-0.95zM192.9 204.7h0.95v0.95h-0.95zM223.3 243h0.95v0.95h-0.95zM173.1 241.2h0.95v0.95h-0.95zM166 231.8h0.95v0.95h-0.95zM215.7 248.5h0.95v0.95h-0.95zM198.8 204.9h0.95v0.95h-0.95zM210.4 226h0.95v0.95h-0.95zM209.8 198.8h0.95v0.95h-0.95zM177.9 223.2h0.95v0.95h-0.95zM186.1 212.7h0.95v0.95h-0.95zM210.5 209.2h0.95v0.95h-0.95zM190.9 246.3h0.95v0.95h-0.95zM193 203.9h0.95v0.95h-0.95zM166.8 234.7h0.95v0.95h-0.95zM169 231.5h0.95v0.95h-0.95zM197.2 206.9h0.95v0.95h-0.95zM210.4 230.9h0.95v0.95h-0.95zM196.1 202.8h0.95v0.95h-0.95zM196.9 201.6h0.95v0.95h-0.95zM211.6 247h0.95v0.95h-0.95zM204.1 249h0.95v0.95h-0.95zM187 246.8h0.95v0.95h-0.95zM188.4 248.1h0.95v0.95h-0.95zM168.4 249.3h0.95v0.95h-0.95zM224.6 242.1h0.95v0.95h-0.95zM173 260.9h0.95v0.95h-0.95zM213.8 200.7h0.95v0.95h-0.95zM189.4 244.9h0.95v0.95h-0.95zM187.4 261.1h0.95v0.95h-0.95zM224.6 238.3h0.95v0.95h-0.95zM176 232.8h0.95v0.95h-0.95zM196.8 218.3h0.95v0.95h-0.95zM188.9 232.1h0.95v0.95h-0.95zM204.5 209.2h0.95v0.95h-0.95zM181.9 231.5h0.95v0.95h-0.95zM198.3 224.8h0.95v0.95h-0.95zM210 206.3h0.95v0.95h-0.95zM200.4 213.5h0.95v0.95h-0.95zM217.7 247.5h0.95v0.95h-0.95zM218.5 232.7h0.95v0.95h-0.95zM179.8 265.1h0.95v0.95h-0.95zM198.9 221.4h0.95v0.95h-0.95zM182.8 223.5h0.95v0.95h-0.95zM213.2 256.6h0.95v0.95h-0.95zM196.8 249.6h0.95v0.95h-0.95zM177.2 227.5h0.95v0.95h-0.95zM187.7 215.9h0.95v0.95h-0.95zM187.8 251.5h0.95v0.95h-0.95zM215 208h0.95v0.95h-0.95zM178.7 253.9h0.95v0.95h-0.95zM209.3 245.3h0.95v0.95h-0.95zM207.9 246.7h0.95v0.95h-0.95zM231.6 233.2h0.95v0.95h-0.95zM220.2 209.8h0.95v0.95h-0.95zM186.2 200.2h0.95v0.95h-0.95zM219.6 250.1h0.95v0.95h-0.95zM197.2 220.9h0.95v0.95h-0.95zM181.3 230.3h0.95v0.95h-0.95zM193.6 225h0.95v0.95h-0.95zM182.1 264.8h0.95v0.95h-0.95zM192.8 206.8h0.95v0.95h-0.95zM217.9 221.3h0.95v0.95h-0.95zM193.7 223.1h0.95v0.95h-0.95zM205 211.8h0.95v0.95h-0.95zM188.7 252h0.95v0.95h-0.95zM185.9 245.6h0.95v0.95h-0.95zM207.1 206.5h0.95v0.95h-0.95zM206.1 214.9h0.95v0.95h-0.95zM176.3 259.5h0.95v0.95h-0.95zM204.3 237.2h0.95v0.95h-0.95zM185.4 242.8h0.95v0.95h-0.95zM205.5 232.1h0.95v0.95h-0.95zM184.3 224.6h0.95v0.95h-0.95zM188.1 263.3h0.95v0.95h-0.95zM179.2 259.6h0.95v0.95h-0.95zM179.4 238.2h0.95v0.95h-0.95zM181.3 253.2h0.95v0.95h-0.95zM165.7 221.8h0.95v0.95h-0.95zM178.3 241.2h0.95v0.95h-0.95zM201.6 222.3h0.95v0.95h-0.95zM180.6 251.4h0.95v0.95h-0.95zM168.3 228.2h0.95v0.95h-0.95zM188.5 225.9h0.95v0.95h-0.95zM198.6 214.5h0.95v0.95h-0.95zM212.7 232.6h0.95v0.95h-0.95zM198.8 230.8h0.95v0.95h-0.95zM188.7 260h0.95v0.95h-0.95zM176.9 261.3h0.95v0.95h-0.95zM187.7 218.2h0.95v0.95h-0.95zM206.4 236.3h0.95v0.95h-0.95zM170 243.7h0.95v0.95h-0.95zM200.4 217.6h0.95v0.95h-0.95zM185.6 258.7h0.95v0.95h-0.95zM186.3 224.7h0.95v0.95h-0.95zM190.9 204.4h0.95v0.95h-0.95zM209.9 244.4h0.95v0.95h-0.95zM194.2 223.8h0.95v0.95h-0.95zM178.6 254.3h0.95v0.95h-0.95zM195 257.7h0.95v0.95h-0.95zM189 249.8h0.95v0.95h-0.95zM210.8 231h0.95v0.95h-0.95zM196.1 207.2h0.95v0.95h-0.95zM174.3 242.8h0.95v0.95h-0.95zM212.2 212.1h0.95v0.95h-0.95zM208.6 202.3h0.95v0.95h-0.95zM206.3 205.2h0.95v0.95h-0.95zM198.8 216.5h0.95v0.95h-0.95zM201.7 202.2h0.95v0.95h-0.95zM196.9 240.5h0.95v0.95h-0.95zM171.5 216.1h0.95v0.95h-0.95zM211.1 234.9h0.95v0.95h-0.95zM206.5 253.5h0.95v0.95h-0.95zM203.3 209.2h0.95v0.95h-0.95zM193.9 257.5h0.95v0.95h-0.95zM202.9 251.4h0.95v0.95h-0.95zM188.2 227.2h0.95v0.95h-0.95zM209.2 200h0.95v0.95h-0.95zM206.2 194.2h0.95v0.95h-0.95zM214.6 212.8h0.95v0.95h-0.95zM193.7 257.5h0.95v0.95h-0.95zM211.8 233.9h0.95v0.95h-0.95zM207.1 201.1h0.95v0.95h-0.95zM173.3 214.8h0.95v0.95h-0.95zM182 264.7h0.95v0.95h-0.95zM201.9 240.2h0.95v0.95h-0.95zM212.6 228.4h0.95v0.95h-0.95zM218.9 227.8h0.95v0.95h-0.95zM182.2 250.7h0.95v0.95h-0.95zM212.2 223h0.95v0.95h-0.95zM178 208.8h0.95v0.95h-0.95zM198.8 231.4h0.95v0.95h-0.95zM187.7 208.2h0.95v0.95h-0.95zM187 249.7h0.95v0.95h-0.95zM209.6 223.8h0.95v0.95h-0.95zM199.9 203.8h0.95v0.95h-0.95zM228.5 229h0.95v0.95h-0.95zM198.6 254.1h0.95v0.95h-0.95zM176.1 249h0.95v0.95h-0.95zM187.4 256.1h0.95v0.95h-0.95zM207.9 229.9h0.95v0.95h-0.95zM189.1 237.5h0.95v0.95h-0.95zM177.5 226.3h0.95v0.95h-0.95zM180.2 257.6h0.95v0.95h-0.95zM201.9 239.3h0.95v0.95h-0.95zM207.2 201.5h0.95v0.95h-0.95zM211 256.3h0.95v0.95h-0.95zM193.5 245.1h0.95v0.95h-0.95zM169 224.3h0.95v0.95h-0.95zM198.8 203.4h0.95v0.95h-0.95zM177.8 260.4h0.95v0.95h-0.95zM189.9 203.4h0.95v0.95h-0.95zM175 237.4h0.95v0.95h-0.95zM175.5 229.3h0.95v0.95h-0.95zM200.8 226.5h0.95v0.95h-0.95zM198.3 258.1h0.95v0.95h-0.95zM200.8 208.8h0.95v0.95h-0.95zM218.5 215.9h0.95v0.95h-0.95zM214.6 209.7h0.95v0.95h-0.95zM203.4 243.1h0.95v0.95h-0.95zM188.7 229.7h0.95v0.95h-0.95zM166.5 242.7h0.95v0.95h-0.95zM201.8 249.8h0.95v0.95h-0.95zM197.3 211.4h0.95v0.95h-0.95zM183.5 228.2h0.95v0.95h-0.95zM188.7 254.2h0.95v0.95h-0.95zM185.7 200.1h0.95v0.95h-0.95zM212.4 253.6h0.95v0.95h-0.95zM191.7 265.5h0.95v0.95h-0.95zM190.2 216.4h0.95v0.95h-0.95zM198.9 226.6h0.95v0.95h-0.95zM193.5 252.6h0.95v0.95h-0.95zM222.1 229.4h0.95v0.95h-0.95zM174.7 223.8h0.95v0.95h-0.95zM226.5 223.9h0.95v0.95h-0.95zM209.8 236h0.95v0.95h-0.95zM195.3 237.2h0.95v0.95h-0.95zM179.5 235.8h0.95v0.95h-0.95zM188.5 261.5h0.95v0.95h-0.95zM207.3 241.8h0.95v0.95h-0.95zM223 228.9h0.95v0.95h-0.95zM171.2 215.4h0.95v0.95h-0.95zM213.5 249.4h0.95v0.95h-0.95zM176.6 242.6h0.95v0.95h-0.95zM209.5 243.8h0.95v0.95h-0.95zM185.3 239h0.95v0.95h-0.95zM186.2 201.7h0.95v0.95h-0.95zM210.4 214.3h0.95v0.95h-0.95zM219.2 215.8h0.95v0.95h-0.95zM201.4 255.8h0.95v0.95h-0.95zM170.1 249.7h0.95v0.95h-0.95zM188.5 205.8h0.95v0.95h-0.95zM190.4 231.4h0.95v0.95h-0.95zM191.9 201.3h0.95v0.95h-0.95zM199.7 215.4h0.95v0.95h-0.95zM193.4 209.7h0.95v0.95h-0.95zM208.7 257.7h0.95v0.95h-0.95zM190.3 251.6h0.95v0.95h-0.95zM164.8 227.2h0.95v0.95h-0.95zM193.7 252.2h0.95v0.95h-0.95zM181.8 203.7h0.95v0.95h-0.95zM199.5 225.3h0.95v0.95h-0.95zM179 236.1h0.95v0.95h-0.95zM194 264.3h0.95v0.95h-0.95zM183.7 238.1h0.95v0.95h-0.95zM183.6 248.4h0.95v0.95h-0.95zM170.9 229.2h0.95v0.95h-0.95zM199.3 202.4h0.95v0.95h-0.95zM180 210.7h0.95v0.95h-0.95zM205.2 260.2h0.95v0.95h-0.95zM212.1 238.2h0.95v0.95h-0.95zM214.1 213.6h0.95v0.95h-0.95zM197.8 206.4h0.95v0.95h-0.95zM193.5 213.9h0.95v0.95h-0.95zM204.3 215.3h0.95v0.95h-0.95zM181.7 242.6h0.95v0.95h-0.95zM167.9 255.2h0.95v0.95h-0.95zM197.8 209.7h0.95v0.95h-0.95zM170.1 232h0.95v0.95h-0.95zM198.3 248.7h0.95v0.95h-0.95zM188.9 224.3h0.95v0.95h-0.95zM180.4 256.3h0.95v0.95h-0.95zM206.2 207.7h0.95v0.95h-0.95zM174.5 212.1h0.95v0.95h-0.95zM206.5 206.9h0.95v0.95h-0.95zM195.3 248.3h0.95v0.95h-0.95zM168.7 244h0.95v0.95h-0.95zM169.3 229.3h0.95v0.95h-0.95zM208.9 246.2h0.95v0.95h-0.95zM192.6 221.3h0.95v0.95h-0.95zM212.3 250.4h0.95v0.95h-0.95zM209 223.5h0.95v0.95h-0.95zM203.1 232.5h0.95v0.95h-0.95zM215.7 248.4h0.95v0.95h-0.95zM219 229.3h0.95v0.95h-0.95zM184.4 220.8h0.95v0.95h-0.95zM223.1 244.7h0.95v0.95h-0.95zM203 208.4h0.95v0.95h-0.95zM173 248.5h0.95v0.95h-0.95zM178 258.9h0.95v0.95h-0.95zM185.6 259h0.95v0.95h-0.95zM183.7 212.8h0.95v0.95h-0.95zM193.4 221.7h0.95v0.95h-0.95zM169 248h0.95v0.95h-0.95zM204 231.6h0.95v0.95h-0.95zM179.6 214.3h0.95v0.95h-0.95zM170.8 259h0.95v0.95h-0.95zM220.6 246.8h0.95v0.95h-0.95zM201.7 256.1h0.95v0.95h-0.95zM172.9 234.4h0.95v0.95h-0.95zM181 223.3h0.95v0.95h-0.95zM175.6 247.8h0.95v0.95h-0.95zM203.4 253.5h0.95v0.95h-0.95zM207.4 239.2h0.95v0.95h-0.95zM202.9 217.5h0.95v0.95h-0.95zM169.1 218h0.95v0.95h-0.95zM208.7 244.2h0.95v0.95h-0.95zM194.1 228.2h0.95v0.95h-0.95zM216.9 216.8h0.95v0.95h-0.95zM169.7 240.8h0.95v0.95h-0.95zM220.5 211.3h0.95v0.95h-0.95zM197.6 218.1h0.95v0.95h-0.95zM194.1 254.6h0.95v0.95h-0.95zM207.6 205.3h0.95v0.95h-0.95zM167.2 227.5h0.95v0.95h-0.95zM191.7 267.4h0.95v0.95h-0.95zM191.8 259.1h0.95v0.95h-0.95zM179 215.8h0.95v0.95h-0.95zM197.4 222.9h0.95v0.95h-0.95zM208.7 231.7h0.95v0.95h-0.95zM185.2 239.8h0.95v0.95h-0.95zM192.5 258h0.95v0.95h-0.95zM222.6 238.1h0.95v0.95h-0.95zM189.6 212.3h0.95v0.95h-0.95zM206.8 196.7h0.95v0.95h-0.95zM201.1 221.4h0.95v0.95h-0.95zM197.5 223.7h0.95v0.95h-0.95zM169.1 249.7h0.95v0.95h-0.95zM170.1 239.2h0.95v0.95h-0.95zM225.6 244.4h0.95v0.95h-0.95zM181.8 264.7h0.95v0.95h-0.95zM179.7 237.4h0.95v0.95h-0.95zM189.3 215.1h0.95v0.95h-0.95zM217.1 240.5h0.95v0.95h-0.95zM185.8 234.7h0.95v0.95h-0.95zM229.2 236.6h0.95v0.95h-0.95zM195.2 235.4h0.95v0.95h-0.95zM207 229.5h0.95v0.95h-0.95zM207.8 233.9h0.95v0.95h-0.95zM208.8 255.2h0.95v0.95h-0.95zM179 221.8h0.95v0.95h-0.95zM178.2 247.6h0.95v0.95h-0.95zM200.2 239.7h0.95v0.95h-0.95zM185.4 238.2h0.95v0.95h-0.95zM199.2 222.2h0.95v0.95h-0.95zM186.9 255.4h0.95v0.95h-0.95zM174.4 235.9h0.95v0.95h-0.95zM197.6 266h0.95v0.95h-0.95zM173.6 258.4h0.95v0.95h-0.95zM190.6 235.1h0.95v0.95h-0.95zM185.7 203.9h0.95v0.95h-0.95zM171.4 215.7h0.95v0.95h-0.95zM212.7 237.7h0.95v0.95h-0.95zM170.6 255.2h0.95v0.95h-0.95zM198.6 202.9h0.95v0.95h-0.95zM220.6 209.7h0.95v0.95h-0.95zM217.4 253h0.95v0.95h-0.95zM207.8 257.7h0.95v0.95h-0.95zM184.5 245.9h0.95v0.95h-0.95zM211.5 259h0.95v0.95h-0.95zM202.9 213.4h0.95v0.95h-0.95zM180 234.7h0.95v0.95h-0.95zM171.6 259.9h0.95v0.95h-0.95zM212.4 245h0.95v0.95h-0.95zM170.6 253.4h0.95v0.95h-0.95zM217.4 215.9h0.95v0.95h-0.95zM168.9 213.9h0.95v0.95h-0.95zM217.8 228.6h0.95v0.95h-0.95zM169.5 219.3h0.95v0.95h-0.95zM167.1 251.4h0.95v0.95h-0.95zM168.4 244.6h0.95v0.95h-0.95zM210 261h0.95v0.95h-0.95zM191.5 227.3h0.95v0.95h-0.95zM179.3 254.2h0.95v0.95h-0.95zM213.6 253.9h0.95v0.95h-0.95zM200.4 247.1h0.95v0.95h-0.95zM171 222.1h0.95v0.95h-0.95zM183 214h0.95v0.95h-0.95zM215.5 208.5h0.95v0.95h-0.95zM185.4 214h0.95v0.95h-0.95zM224.5 242.3h0.95v0.95h-0.95zM196.7 221.7h0.95v0.95h-0.95zM194.4 236.6h0.95v0.95h-0.95zM198.2 252.6h0.95v0.95h-0.95zM173.1 225.9h0.95v0.95h-0.95zM189.5 258.3h0.95v0.95h-0.95zM170.7 242.1h0.95v0.95h-0.95zM209.7 216h0.95v0.95h-0.95zM199.2 214.4h0.95v0.95h-0.95zM194.1 228.7h0.95v0.95h-0.95zM188.9 257.4h0.95v0.95h-0.95zM177.2 251.3h0.95v0.95h-0.95zM195.8 224.2h0.95v0.95h-0.95zM176 255.1h0.95v0.95h-0.95zM214.9 198.6h0.95v0.95h-0.95zM189 224.5h0.95v0.95h-0.95zM203.6 262.3h0.95v0.95h-0.95zM188.3 200.1h0.95v0.95h-0.95zM166.7 232.8h0.95v0.95h-0.95zM204.1 227.1h0.95v0.95h-0.95zM187.2 224.8h0.95v0.95h-0.95zM204.7 234.7h0.95v0.95h-0.95zM192.7 211.4h0.95v0.95h-0.95zM184.6 230.8h0.95v0.95h-0.95zM202.7 208h0.95v0.95h-0.95zM186.9 253.7h0.95v0.95h-0.95zM218.4 226.6h0.95v0.95h-0.95zM200.8 233.9h0.95v0.95h-0.95zM210.2 246.3h0.95v0.95h-0.95zM189.4 264.6h0.95v0.95h-0.95zM221.3 215.5h0.95v0.95h-0.95zM166.6 235.5h0.95v0.95h-0.95zM209.3 209.4h0.95v0.95h-0.95zM164.9 230.2h0.95v0.95h-0.95zM207.2 213.7h0.95v0.95h-0.95zM194.1 210h0.95v0.95h-0.95zM221 227.6h0.95v0.95h-0.95zM213.7 219.2h0.95v0.95h-0.95zM220.4 238.9h0.95v0.95h-0.95zM209.3 222.7h0.95v0.95h-0.95zM202.6 206.7h0.95v0.95h-0.95zM200.4 242.3h0.95v0.95h-0.95zM169 218.1h0.95v0.95h-0.95zM178.5 258.6h0.95v0.95h-0.95zM214 215.5h0.95v0.95h-0.95zM178.6 247.5h0.95v0.95h-0.95zM183.4 249h0.95v0.95h-0.95zM187.2 252h0.95v0.95h-0.95zM203.4 256.4h0.95v0.95h-0.95zM201.4 222.4h0.95v0.95h-0.95zM176.9 253.9h0.95v0.95h-0.95zM201.7 251.6h0.95v0.95h-0.95zM217.8 208.9h0.95v0.95h-0.95zM180.5 244.4h0.95v0.95h-0.95zM217.3 242.1h0.95v0.95h-0.95zM193.9 249.8h0.95v0.95h-0.95zM210.3 207.9h0.95v0.95h-0.95zM200.6 239.1h0.95v0.95h-0.95zM214.7 207.2h0.95v0.95h-0.95zM184.3 218.8h0.95v0.95h-0.95zM168.7 219.2h0.95v0.95h-0.95zM214.8 237.4h0.95v0.95h-0.95zM174.3 249.7h0.95v0.95h-0.95zM170.2 251.2h0.95v0.95h-0.95zM180 232.5h0.95v0.95h-0.95zM181.3 261.8h0.95v0.95h-0.95zM216.2 246.8h0.95v0.95h-0.95zM202.5 211.8h0.95v0.95h-0.95zM185.1 207.3h0.95v0.95h-0.95zM193 262.9h0.95v0.95h-0.95zM188.4 201h0.95v0.95h-0.95zM174.8 211.4h0.95v0.95h-0.95zM203.8 227h0.95v0.95h-0.95zM183.9 233.3h0.95v0.95h-0.95zM218 249.1h0.95v0.95h-0.95zM186.7 264.5h0.95v0.95h-0.95zM219.2 236.2h0.95v0.95h-0.95zM196.3 217.7h0.95v0.95h-0.95zM205.9 199.4h0.95v0.95h-0.95zM179 234.1h0.95v0.95h-0.95zM222.4 219.4h0.95v0.95h-0.95zM197.9 244.4h0.95v0.95h-0.95zM175.7 241.3h0.95v0.95h-0.95zM175.4 248.1h0.95v0.95h-0.95zM200.1 205.4h0.95v0.95h-0.95zM207 260h0.95v0.95h-0.95zM217.3 228.9h0.95v0.95h-0.95zM190.6 267.6h0.95v0.95h-0.95zM186.7 268.3h0.95v0.95h-0.95zM201.4 266.4h0.95v0.95h-0.95zM170.3 259h0.95v0.95h-0.95zM218 251.1h0.95v0.95h-0.95zM205.4 199.5h0.95v0.95h-0.95zM218.7 249h0.95v0.95h-0.95zM184.8 246h0.95v0.95h-0.95zM191.6 251.2h0.95v0.95h-0.95zM189.7 255.4h0.95v0.95h-0.95zM196 256.1h0.95v0.95h-0.95zM183.6 234.9h0.95v0.95h-0.95zM211 225.3h0.95v0.95h-0.95zM212.9 249.4h0.95v0.95h-0.95zM205 256.3h0.95v0.95h-0.95zM204.1 202h0.95v0.95h-0.95zM191.8 266.8h0.95v0.95h-0.95zM197.6 230.6h0.95v0.95h-0.95zM172.3 232.2h0.95v0.95h-0.95zM181.1 210.5h0.95v0.95h-0.95zM195.1 243h0.95v0.95h-0.95zM203.1 262.3h0.95v0.95h-0.95zM198.9 232.3h0.95v0.95h-0.95zM184.5 201.4h0.95v0.95h-0.95zM228.7 230h0.95v0.95h-0.95zM214.8 251.8h0.95v0.95h-0.95zM183.6 249.5h0.95v0.95h-0.95zM176.7 235.6h0.95v0.95h-0.95zM205 253.2h0.95v0.95h-0.95zM173.9 218.9h0.95v0.95h-0.95zM214.3 250.8h0.95v0.95h-0.95zM208.8 253.5h0.95v0.95h-0.95zM199.2 236.2h0.95v0.95h-0.95zM209.4 238.3h0.95v0.95h-0.95zM197.6 251.7h0.95v0.95h-0.95zM203.3 201.8h0.95v0.95h-0.95zM192.7 225h0.95v0.95h-0.95zM193.1 236.1h0.95v0.95h-0.95zM188 222.6h0.95v0.95h-0.95zM192.7 221.1h0.95v0.95h-0.95zM190.4 227.2h0.95v0.95h-0.95zM204.7 220.7h0.95v0.95h-0.95zM182.5 228.5h0.95v0.95h-0.95zM179.2 211.8h0.95v0.95h-0.95zM212.5 254.9h0.95v0.95h-0.95zM195.9 222.3h0.95v0.95h-0.95zM178.7 255h0.95v0.95h-0.95zM170 238.7h0.95v0.95h-0.95zM195.1 203.1h0.95v0.95h-0.95zM166.1 249.7h0.95v0.95h-0.95zM210.1 229.2h0.95v0.95h-0.95zM206.5 199.4h0.95v0.95h-0.95zM204.5 225h0.95v0.95h-0.95zM179.9 265.4h0.95v0.95h-0.95zM214.8 201.2h0.95v0.95h-0.95zM178.4 218.8h0.95v0.95h-0.95zM203.4 217.3h0.95v0.95h-0.95zM193.7 256.2h0.95v0.95h-0.95zM174.9 248.8h0.95v0.95h-0.95zM185.8 266.6h0.95v0.95h-0.95zM205.8 200.3h0.95v0.95h-0.95zM191.6 241.1h0.95v0.95h-0.95zM208.1 218.8h0.95v0.95h-0.95zM202.5 205.1h0.95v0.95h-0.95zM184 240.7h0.95v0.95h-0.95zM180.2 238.1h0.95v0.95h-0.95zM181.8 253.7h0.95v0.95h-0.95zM173.1 212.4h0.95v0.95h-0.95zM193.6 263.7h0.95v0.95h-0.95zM185.9 222.9h0.95v0.95h-0.95zM216.9 223.6h0.95v0.95h-0.95zM196.3 223h0.95v0.95h-0.95zM192.6 264.8h0.95v0.95h-0.95zM199.9 245.7h0.95v0.95h-0.95zM189.4 213.1h0.95v0.95h-0.95zM187.9 247.1h0.95v0.95h-0.95zM195.2 233.4h0.95v0.95h-0.95zM176.8 205.6h0.95v0.95h-0.95zM186.2 245.7h0.95v0.95h-0.95zM177.1 256.9h0.95v0.95h-0.95zM201.7 217.5h0.95v0.95h-0.95zM179.8 214.7h0.95v0.95h-0.95zM182.1 219.1h0.95v0.95h-0.95zM209.3 200.5h0.95v0.95h-0.95zM180.5 233.5h0.95v0.95h-0.95zM221.5 238.1h0.95v0.95h-0.95zM193 210.8h0.95v0.95h-0.95zM209.2 219.9h0.95v0.95h-0.95zM208.5 245.7h0.95v0.95h-0.95zM182.2 213.2h0.95v0.95h-0.95zM164.9 240.2h0.95v0.95h-0.95zM187.2 206.4h0.95v0.95h-0.95zM193.4 265.5h0.95v0.95h-0.95zM179.7 204.6h0.95v0.95h-0.95zM207.5 243.8h0.95v0.95h-0.95zM198.8 205.8h0.95v0.95h-0.95zM174.4 210.7h0.95v0.95h-0.95zM199.1 229.4h0.95v0.95h-0.95zM202 249.3h0.95v0.95h-0.95zM226.7 228.8h0.95v0.95h-0.95zM172.1 239.4h0.95v0.95h-0.95zM183.1 259.2h0.95v0.95h-0.95zM211.8 200.1h0.95v0.95h-0.95zM211.6 254.7h0.95v0.95h-0.95zM191.4 203.9h0.95v0.95h-0.95zM209.6 216.9h0.95v0.95h-0.95zM191 201.6h0.95v0.95h-0.95zM189.7 235.4h0.95v0.95h-0.95zM201.9 223.6h0.95v0.95h-0.95zM185.7 265.7h0.95v0.95h-0.95zM217.4 234.1h0.95v0.95h-0.95zM219 237h0.95v0.95h-0.95zM170.3 211.8h0.95v0.95h-0.95zM185.1 223.9h0.95v0.95h-0.95zM200.8 199.5h0.95v0.95h-0.95zM213 254.8h0.95v0.95h-0.95zM184.8 203.1h0.95v0.95h-0.95zM217.1 246.6h0.95v0.95h-0.95zM188.7 218.8h0.95v0.95h-0.95zM172.9 257.7h0.95v0.95h-0.95zM195.2 256.1h0.95v0.95h-0.95zM186.4 217.1h0.95v0.95h-0.95zM199 250.8h0.95v0.95h-0.95zM212.1 223.6h0.95v0.95h-0.95zM202.1 220.3h0.95v0.95h-0.95zM181.6 261.9h0.95v0.95h-0.95zM220.6 233.6h0.95v0.95h-0.95zM202 234.4h0.95v0.95h-0.95zM191.5 235.8h0.95v0.95h-0.95zM210.6 242.5h0.95v0.95h-0.95zM220.4 246.6h0.95v0.95h-0.95zM200.3 252.8h0.95v0.95h-0.95zM173.1 233.5h0.95v0.95h-0.95zM190.6 229.6h0.95v0.95h-0.95zM218.6 245.6h0.95v0.95h-0.95zM183.8 249.7h0.95v0.95h-0.95zM197.1 255h0.95v0.95h-0.95zM188.2 261.6h0.95v0.95h-0.95zM211.5 227.4h0.95v0.95h-0.95zM202.6 255.5h0.95v0.95h-0.95zM186.3 248.3h0.95v0.95h-0.95zM221.6 221.2h0.95v0.95h-0.95zM167.3 236.8h0.95v0.95h-0.95zM185.1 212.3h0.95v0.95h-0.95zM194.3 197.7h0.95v0.95h-0.95zM202.3 226.9h0.95v0.95h-0.95zM184.1 239.4h0.95v0.95h-0.95zM170.7 219h0.95v0.95h-0.95zM170.9 225.1h0.95v0.95h-0.95zM200.1 215.4h0.95v0.95h-0.95zM210.7 236.1h0.95v0.95h-0.95zM205.1 215.4h0.95v0.95h-0.95zM215.1 246.3h0.95v0.95h-0.95zM213.6 229h0.95v0.95h-0.95zM195.4 214.3h0.95v0.95h-0.95zM164.6 228.6h0.95v0.95h-0.95zM206.5 206.3h0.95v0.95h-0.95zM197.2 205.5h0.95v0.95h-0.95zM181.4 250.2h0.95v0.95h-0.95zM187.1 239h0.95v0.95h-0.95zM186.3 263.8h0.95v0.95h-0.95zM185.7 215.8h0.95v0.95h-0.95zM204.6 257.2h0.95v0.95h-0.95zM166.3 234.7h0.95v0.95h-0.95zM202.5 220.2h0.95v0.95h-0.95zM180.4 256.8h0.95v0.95h-0.95zM188.4 237.8h0.95v0.95h-0.95zM178.9 247.8h0.95v0.95h-0.95zM209.2 199.1h0.95v0.95h-0.95zM212.4 219.2h0.95v0.95h-0.95zM195.1 254.7h0.95v0.95h-0.95zM200.4 213.4h0.95v0.95h-0.95zM214.8 244.8h0.95v0.95h-0.95zM202.3 259h0.95v0.95h-0.95zM176.2 259.8h0.95v0.95h-0.95zM203.5 203.2h0.95v0.95h-0.95zM175.2 224.2h0.95v0.95h-0.95zM204.7 225.6h0.95v0.95h-0.95zM213.6 202h0.95v0.95h-0.95zM180.3 255.7h0.95v0.95h-0.95zM216.5 239.1h0.95v0.95h-0.95zM193.1 210.4h0.95v0.95h-0.95zM212.2 200.1h0.95v0.95h-0.95zM177.9 226.4h0.95v0.95h-0.95zM184.7 229.3h0.95v0.95h-0.95zM173.5 223.5h0.95v0.95h-0.95zM212.6 217.3h0.95v0.95h-0.95zM169.1 241.4h0.95v0.95h-0.95zM194.6 264.5h0.95v0.95h-0.95zM169.4 250.9h0.95v0.95h-0.95zM210.4 221h0.95v0.95h-0.95zM171 240.2h0.95v0.95h-0.95zM216.8 229.1h0.95v0.95h-0.95zM196.1 246h0.95v0.95h-0.95zM206 225.2h0.95v0.95h-0.95zM175.2 228.4h0.95v0.95h-0.95zM201.7 262.8h0.95v0.95h-0.95zM185.6 209.2h0.95v0.95h-0.95zM207.5 250.2h0.95v0.95h-0.95zM179.7 246.4h0.95v0.95h-0.95zM209.1 260.4h0.95v0.95h-0.95zM176.5 219h0.95v0.95h-0.95zM184 229.4h0.95v0.95h-0.95zM215.9 241.7h0.95v0.95h-0.95zM207.7 207.6h0.95v0.95h-0.95zM224 224.4h0.95v0.95h-0.95zM206.8 234.6h0.95v0.95h-0.95zM180.8 253.5h0.95v0.95h-0.95zM185 261.7h0.95v0.95h-0.95zM183.5 240h0.95v0.95h-0.95zM218.4 222.6h0.95v0.95h-0.95zM199.8 225h0.95v0.95h-0.95zM215.2 247.2h0.95v0.95h-0.95zM222.1 245h0.95v0.95h-0.95zM207.6 216.4h0.95v0.95h-0.95zM181.1 264.7h0.95v0.95h-0.95zM186.5 219.3h0.95v0.95h-0.95zM169.8 249.2h0.95v0.95h-0.95zM199.2 210.2h0.95v0.95h-0.95zM216.3 209.5h0.95v0.95h-0.95zM185.3 218.7h0.95v0.95h-0.95zM193.3 201.7h0.95v0.95h-0.95zM205.6 192.6h0.95v0.95h-0.95zM207 194.2h0.95v0.95h-0.95zM203.8 194.6h0.95v0.95h-0.95zM206.3 194.4h0.95v0.95h-0.95zM210.1 193.4h0.95v0.95h-0.95zM207.1 194h0.95v0.95h-0.95zM209.3 194.6h0.95v0.95h-0.95zM207.5 194.3h0.95v0.95h-0.95zM211.2 195.2h0.95v0.95h-0.95zM210.9 195.8h0.95v0.95h-0.95zM210.1 196.3h0.95v0.95h-0.95zM211.3 193.7h0.95v0.95h-0.95zM211.7 195.9h0.95v0.95h-0.95zM212.4 197.2h0.95v0.95h-0.95zM213.2 195.8h0.95v0.95h-0.95zM215.6 196h0.95v0.95h-0.95zM212.9 198.5h0.95v0.95h-0.95zM213.4 196.4h0.95v0.95h-0.95zM213.6 200h0.95v0.95h-0.95zM213.6 198.6h0.95v0.95h-0.95zM215.2 199.6h0.95v0.95h-0.95zM214.8 200h0.95v0.95h-0.95zM217.4 202.4h0.95v0.95h-0.95zM216.2 199.7h0.95v0.95h-0.95zM215.7 202.5h0.95v0.95h-0.95zM214.5 204.1h0.95v0.95h-0.95zM216.7 203.3h0.95v0.95h-0.95zM218.6 206.5h0.95v0.95h-0.95zM220 209.4h0.95v0.95h-0.95zM220.4 207.8h0.95v0.95h-0.95zM223.9 210.8h0.95v0.95h-0.95zM223.4 213.7h0.95v0.95h-0.95zM223.5 215.7h0.95v0.95h-0.95zM223.2 214.2h0.95v0.95h-0.95zM224.3 214.3h0.95v0.95h-0.95zM224.1 215.9h0.95v0.95h-0.95zM223.6 215.6h0.95v0.95h-0.95zM223.6 218.3h0.95v0.95h-0.95zM224.7 219.1h0.95v0.95h-0.95zM224 219.7h0.95v0.95h-0.95zM225.7 219.9h0.95v0.95h-0.95zM229.1 222.9h0.95v0.95h-0.95zM231.7 221.6h0.95v0.95h-0.95zM232.1 226.2h0.95v0.95h-0.95zM232.1 226.2h0.95v0.95h-0.95zM233.3 228.8h0.95v0.95h-0.95zM232.1 231.1h0.95v0.95h-0.95zM234.1 228.4h0.95v0.95h-0.95zM231.1 232.2h0.95v0.95h-0.95zM231.1 233.5h0.95v0.95h-0.95zM230.7 237.8h0.95v0.95h-0.95zM229.8 241h0.95v0.95h-0.95zM229.9 240.7h0.95v0.95h-0.95zM228.3 242.8h0.95v0.95h-0.95zM228.8 242.3h0.95v0.95h-0.95zM226.5 242.2h0.95v0.95h-0.95zM226.2 245.3h0.95v0.95h-0.95zM226.9 243.8h0.95v0.95h-0.95zM225.4 244.2h0.95v0.95h-0.95zM224.6 244.7h0.95v0.95h-0.95zM223.9 245.2h0.95v0.95h-0.95zM223.7 247.8h0.95v0.95h-0.95zM223.5 247.9h0.95v0.95h-0.95zM223.4 247.6h0.95v0.95h-0.95zM220.3 250.2h0.95v0.95h-0.95zM224.4 249.8h0.95v0.95h-0.95zM221.4 253.5h0.95v0.95h-0.95zM219.1 251.2h0.95v0.95h-0.95zM219 251.6h0.95v0.95h-0.95zM217.4 251.9h0.95v0.95h-0.95zM218.8 251.5h0.95v0.95h-0.95zM218 252.8h0.95v0.95h-0.95zM216 255.6h0.95v0.95h-0.95zM219.2 255.4h0.95v0.95h-0.95zM217.3 257.2h0.95v0.95h-0.95zM216 257h0.95v0.95h-0.95zM216.5 257.2h0.95v0.95h-0.95zM214.7 256.1h0.95v0.95h-0.95zM211.3 258.1h0.95v0.95h-0.95zM214.6 259.5h0.95v0.95h-0.95zM212.4 261.8h0.95v0.95h-0.95zM209.9 261.9h0.95v0.95h-0.95zM210.7 262.4h0.95v0.95h-0.95zM212.2 260.5h0.95v0.95h-0.95zM207.9 263.1h0.95v0.95h-0.95zM208.9 261.9h0.95v0.95h-0.95zM207.1 262.8h0.95v0.95h-0.95zM207.4 263.2h0.95v0.95h-0.95zM207.5 263.4h0.95v0.95h-0.95zM206.2 264.7h0.95v0.95h-0.95zM205.4 264.4h0.95v0.95h-0.95zM203 267.6h0.95v0.95h-0.95zM200.6 265.9h0.95v0.95h-0.95zM200.9 265.2h0.95v0.95h-0.95zM200.6 269h0.95v0.95h-0.95zM198.9 266.3h0.95v0.95h-0.95zM195.1 268.7h0.95v0.95h-0.95zM196.1 268.6h0.95v0.95h-0.95zM191.4 268h0.95v0.95h-0.95zM195 269h0.95v0.95h-0.95zM188.4 269.2h0.95v0.95h-0.95zM192 268.9h0.95v0.95h-0.95zM189.1 268.5h0.95v0.95h-0.95zM189.7 269.6h0.95v0.95h-0.95zM183.4 268.9h0.95v0.95h-0.95zM188.4 268.7h0.95v0.95h-0.95zM186.4 267.5h0.95v0.95h-0.95zM187.3 269.8h0.95v0.95h-0.95zM182.2 271.4h0.95v0.95h-0.95zM184.4 270h0.95v0.95h-0.95zM179 267.3h0.95v0.95h-0.95zM181.1 268.7h0.95v0.95h-0.95zM178.5 265h0.95v0.95h-0.95zM179.9 266.4h0.95v0.95h-0.95zM177.1 265.2h0.95v0.95h-0.95zM176.4 263.9h0.95v0.95h-0.95zM175.6 263.5h0.95v0.95h-0.95zM172.7 264.8h0.95v0.95h-0.95zM173.2 263.9h0.95v0.95h-0.95zM174.2 261.4h0.95v0.95h-0.95zM171.5 261.1h0.95v0.95h-0.95zM171.8 259.9h0.95v0.95h-0.95zM170.4 260.5h0.95v0.95h-0.95zM171.9 261.1h0.95v0.95h-0.95zM170 254.5h0.95v0.95h-0.95zM168.8 256.8h0.95v0.95h-0.95zM164.5 257.4h0.95v0.95h-0.95zM169.1 255.5h0.95v0.95h-0.95zM167.5 254.1h0.95v0.95h-0.95zM166.8 255.2h0.95v0.95h-0.95zM168.4 252.4h0.95v0.95h-0.95zM165.5 251.8h0.95v0.95h-0.95zM166.7 250.1h0.95v0.95h-0.95zM164.6 250.4h0.95v0.95h-0.95zM165.7 247.7h0.95v0.95h-0.95zM164.4 247h0.95v0.95h-0.95zM162.1 244.8h0.95v0.95h-0.95zM163.9 244.4h0.95v0.95h-0.95zM163.7 242.2h0.95v0.95h-0.95zM164.1 242.7h0.95v0.95h-0.95zM163.1 240.1h0.95v0.95h-0.95zM163.7 240.8h0.95v0.95h-0.95zM164.2 237.4h0.95v0.95h-0.95zM162.7 235.9h0.95v0.95h-0.95zM162.2 236h0.95v0.95h-0.95zM162.6 237.4h0.95v0.95h-0.95zM163.7 232.6h0.95v0.95h-0.95zM163.7 232.4h0.95v0.95h-0.95zM163.3 230.8h0.95v0.95h-0.95zM162.3 230.9h0.95v0.95h-0.95zM164.2 227.5h0.95v0.95h-0.95zM165.6 229h0.95v0.95h-0.95zM165.9 225.6h0.95v0.95h-0.95zM163.1 225h0.95v0.95h-0.95zM163 222.1h0.95v0.95h-0.95zM166.8 223.8h0.95v0.95h-0.95zM165.5 221.7h0.95v0.95h-0.95zM165.1 224.2h0.95v0.95h-0.95zM163.6 219.1h0.95v0.95h-0.95zM165.8 219.2h0.95v0.95h-0.95zM167.1 219.9h0.95v0.95h-0.95zM167.3 219.3h0.95v0.95h-0.95zM166.8 217.7h0.95v0.95h-0.95zM166.1 215.1h0.95v0.95h-0.95zM167.6 214.4h0.95v0.95h-0.95zM169.4 213.5h0.95v0.95h-0.95zM170.4 212h0.95v0.95h-0.95zM167.5 210.9h0.95v0.95h-0.95zM170.2 209.5h0.95v0.95h-0.95zM170.4 211.3h0.95v0.95h-0.95zM171 207.3h0.95v0.95h-0.95zM170.9 210.1h0.95v0.95h-0.95zM170.8 208.8h0.95v0.95h-0.95zM173 207.4h0.95v0.95h-0.95zM174.8 207.3h0.95v0.95h-0.95zM174.5 205.6h0.95v0.95h-0.95zM177.2 204.4h0.95v0.95h-0.95zM176.7 206.3h0.95v0.95h-0.95zM179.8 205.8h0.95v0.95h-0.95zM179.5 204h0.95v0.95h-0.95zM180.1 202.9h0.95v0.95h-0.95zM180.9 206.2h0.95v0.95h-0.95zM183.2 200.6h0.95v0.95h-0.95zM184.3 199.6h0.95v0.95h-0.95zM185.7 199h0.95v0.95h-0.95zM183.2 199.9h0.95v0.95h-0.95zM186.2 197.9h0.95v0.95h-0.95zM187.3 199.4h0.95v0.95h-0.95zM190.1 197.5h0.95v0.95h-0.95zM186.3 199.5h0.95v0.95h-0.95zM190.1 199.1h0.95v0.95h-0.95zM187.5 196.4h0.95v0.95h-0.95zM192.4 199.5h0.95v0.95h-0.95zM190.8 195h0.95v0.95h-0.95zM193.5 198.3h0.95v0.95h-0.95zM196 195h0.95v0.95h-0.95zM195.1 193.9h0.95v0.95h-0.95zM194.8 194.9h0.95v0.95h-0.95zM198 196.9h0.95v0.95h-0.95zM200.4 195.1h0.95v0.95h-0.95zM200.1 195.3h0.95v0.95h-0.95zM199.3 197.3h0.95v0.95h-0.95zM201.5 196.4h0.95v0.95h-0.95zM201 195.6h0.95v0.95h-0.95zM202.7 194h0.95v0.95h-0.95zM201.2 193.7h0.95v0.95h-0.95zM203.5 193.4h0.95v0.95h-0.95zM203.1 193h0.95v0.95h-0.95zM205.8 193.3h0.95v0.95h-0.95zM204.6 193.4h0.95v0.95h-0.95z" fill="#66c2a5" stroke="none" stroke-width="1"/>
<path d="M277.7 196.2h0.95v0.95h-0.95zM255.3 208.3h0.95v0.95h-0.95zM283.6 229.3h0.95v0.95h-0.95zM274.8 207.4h0.95v0.95h-0.95zM274.1 251.2h0.95v0.95h-0.95zM266 221.3h0.95v0.95h-0.95zM277.1 203.4h0.95v0.95h-0.95zM274.8 213.3h0.95v0.95h-0.95zM270.3 241.1h0.95v0.95h-0.95zM263.8 233h0.95v0.95h-0.95zM284.6 223.7h0.95v0.95h-0.95zM276.8 211h0.95v0.95h-0.95zM261.4 226.7h0.95v0.95h-0.95zM272.8 206.4h0.95v0.95h-0.95zM282.4 225.9h0.95v0.95h-0.95zM265.5 208.5h0.95v0.95h-0.95zM253.8 235.3h0.95v0.95h-0.95zM278.8 214.4h0.95v0.95h-0.95zM269 238.9h0.95v0.95h-0.95zM257.5 216.4h0.95v0.95h-0.95zM283.3 238.8h0.95v0.95h-0.95zM275 197.8h0.95v0.95h-0.95zM259.8 208.7h0.95v0.95h-0.95zM274.4 256.1h0.95v0.95h-0.95zM273.7 255.6h0.95v0.95h-0.95zM270.2 227.2h0.95v0.95h-0.95zM262.4 223.4h0.95v0.95h-0.95zM289.4 225.1h0.95v0.95h-0.95zM259 234.7h0.95v0.95h-0.95zM271.8 224.3h0.95v0.95h-0.95zM279.7 232.8h0.95v0.95h-0.95zM277.7 226h0.95v0.95h-0.95zM285.3 233.2h0.95v0.95h-0.95zM288.1 229.2h0.95v0.95h-0.95zM257.6 240.6h0.95v0.95h-0.95zM277.4 247.8h0.95v0.95h-0.95zM254.5 223.4h0.95v0.95h-0.95zM284.2 214.7h0.95v0.95h-0.95zM253.5 230h0.95v0.95h-0.95zM274.6 203.4h0.95v0.95h-0.95zM264.5 201.1h0.95v0.95h-0.95zM270 193.8h0.95v0.95h-0.95zM277.9 236.4h0.95v0.95h-0.95zM273.2 256.9h0.95v0.95h-0.95zM271.1 196.3h0.95v0.95h-0.95zM279.8 202.8h0.95v0.95h-0.95zM288 225.4h0.95v0.95h-0.95zM264.3 237.5h0.95v0.95h-0.95zM280.1 223.1h0.95v0.95h-0.95zM262.2 220.3h0.95v0.95h-0.95zM280.3 206.7h0.95v0.95h-0.95zM257.4 224.8h0.95v0.95h-0.95zM278 195.3h0.95v0.95h-0.95zM261.9 245.3h0.95v0.95h-0.95zM263.4 196.6h0.95v0.95h-0.95zM270.9 252.2h0.95v0.95h-0.95zM279.8 234.5h0.95v0.95h-0.95zM270.7 237.7h0.95v0.95h-0.95zM272.3 203.5h0.95v0.95h-0.95zM279.5 199.7h0.95v0.95h-0.95zM263.6 250.9h0.95v0.95h-0.95zM274.3 226.8h0.95v0.95h-0.95zM280.1 225.4h0.95v0.95h-0.95zM266.7 229.7h0.95v0.95h-0.95zM288.2 236.9h0.95v0.95h-0.95zM262.5 247.6h0.95v0.95h-0.95zM277.7 233.4h0.95v0.95h-0.95zM281.4 209.5h0.95v0.95h-0.95zM285.2 229h0.95v0.95h-0.95zM282 250.1h0.95v0.95h-0.95zM261.3 219.6h0.95v0.95h-0.95zM265.7 196h0.95v0.95h-0.95zM286.9 239.1h0.95v0.95h-0.95zM271 229.2h0.95v0.95h-0.95zM265.6 239.2h0.95v0.95h-0.95zM272.9 225.8h0.95v0.95h-0.95zM261.5 206.3h0.95v0.95h-0.95zM278.5 214.7h0.95v0.95h-0.95zM272 197.9h0.95v0.95h-0.95zM265.7 195.8h0.95v0.95h-0.95zM271.5 258.4h0.95v0.95h-0.95zM282.3 216.3h0.95v0.95h-0.95zM262.2 256.6h0.95v0.95h-0.95zM266.9 220.7h0.95v0.95h-0.95zM275.9 227.9h0.95v0.95h-0.95zM282.9 236.4h0.95v0.95h-0.95zM277.8 195.8h0.95v0.95h-0.95zM265.8 224h0.95v0.95h-0.95zM277 194.9h0.95v0.95h-0.95zM274 242.9h0.95v0.95h-0.95zM257.3 244.4h0.95v0.95h-0.95zM280.4 229.3h0.95v0.95h-0.95zM284.8 247.7h0.95v0.95h-0.95zM276.8 237.9h0.95v0.95h-0.95zM258.2 214.5h0.95v0.95h-0.95zM264.3 251.4h0.95v0.95h-0.95zM283 211.1h0.95v0.95h-0.95zM265.6 218.1h0.95v0.95h-0.95zM286.1 228.3h0.95v0.95h-0.95zM276.8 221.7h0.95v0.95h-0.95zM269.8 258.4h0.95v0.95h-0.95zM262.3 227.8h0.95v0.95h-0.95zM270.6 200.5h0.95v0.95h-0.95zM256.9 226.4h0.95v0.95h-0.95zM283.7 221.2h0.95v0.95h-0.95zM256.9 209h0.95v0.95h-0.95zM268.2 244.1h0.95v0.95h-0.95zM268.8 220.2h0.95v0.95h-0.95zM267.4 227.4h0.95v0.95h-0.95zM258.7 199.9h0.95v0.95h-0.95zM273.4 215.4h0.95v0.95h-0.95zM278.7 216.4h0.95v0.95h-0.95zM268.7 213h0.95v0.95h-0.95zM272.8 210.4h0.95v0.95h-0.95zM278.4 219.7h0.95v0.95h-0.95zM280 211.2h0.95v0.95h-0.95zM269.7 230h0.95v0.95h-0.95zM280.4 236.8h0.95v0.95h-0.95zM268.5 196.6h0.95v0.95h-0.95zM255.5 200.9h0.95v0.95h-0.95zM258.4 203.5h0.95v0.95h-0.95zM278.1 214.7h0.95v0.95h-0.95zM261 203.5h0.95v0.95h-0.95zM256.8 238.9h0.95v0.95h-0.95zM274.7 208.3h0.95v0.95h-0.95zM284.2 238.4h0.95v0.95h-0.95zM268.5 233.6h0.95v0.95h-0.95zM277.9 221.8h0.95v0.95h-0.95zM254.6 216.4h0.95v0.95h-0.95zM277.2 196.8h0.95v0.95h-0.95zM282.7 251.8h0.95v0.95h-0.95zM266.2 216.9h0.95v0.95h-0.95zM272 208.4h0.95v0.95h-0.95zM259.5 199.6h0.95v0.95h-0.95zM279.1 226.6h0.95v0.95h-0.95zM286.8 234.2h0.95v0.95h-0.95zM276.4 221.5h0.95v0.95h-0.95zM268.3 200.9h0.95v0.95h-0.95zM273.4 210h0.95v0.95h-0.95zM274.5 252.6h0.95v0.95h-0.95zM263 231.4h0.95v0.95h-0.95zM262.3 249.4h0.95v0.95h-0.95zM259.5 236.4h0.95v0.95h-0.95zM273.7 213.6h0.95v0.95h-0.95zM254.2 225h0.95v0.95h-0.95zM272.4 248.5h0.95v0.95h-0.95zM259.2 203.7h0.95v0.95h-0.95zM263.4 247.4h0.95v0.95h-0.95zM260.4 235.5h0.95v0.95h-0.95zM280 225.8h0.95v0.95h-0.95zM255.5 224.1h0.95v0.95h-0.95zM273.8 220.3h0.95v0.95h-0.95zM271.7 193.6h0.95v0.95h-0.95zM287.2 231.6h0.95v0.95h-0.95zM265.1 210.7h0.95v0.95h-0.95zM285.5 217.4h0.95v0.95h-0.95zM275.7 229.7h0.95v0.95h-0.95zM281.1 202.1h0.95v0.95h-0.95zM277.8 234h0.95v0.95h-0.95zM285.2 224.3h0.95v0.95h-0.95zM259.8 219.3h0.95v0.95h-0.95zM254 231.7h0.95v0.95h-0.95zM259.9 240.3h0.95v0.95h-0.95zM258 239.4h0.95v0.95h-0.95zM276.3 241h0.95v0.95h-0.95zM279 218.7h0.95v0.95h-0.95zM282.3 233.1h0.95v0.95h-0.95zM261.6 254.9h0.95v0.95h-0.95zM264.8 248.8h0.95v0.95h-0.95zM278.8 250.1h0.95v0.95h-0.95zM283.9 222.8h0.95v0.95h-0.95zM267.1 246.9h0.95v0.95h-0.95zM277.8 228.8h0.95v0.95h-0.95zM260.1 200h0.95v0.95h-0.95zM281.9 238.6h0.95v0.95h-0.95zM267.8 232.8h0.95v0.95h-0.95zM273.6 257.8h0.95v0.95h-0.95zM271.8 228.8h0.95v0.95h-0.95zM269.9 219.7h0.95v0.95h-0.95zM279.3 198.4h0.95v0.95h-0.95zM279.4 256.4h0.95v0.95h-0.95zM282.2 229h0.95v0.95h-0.95zM265.4 197.4h0.95v0.95h-0.95zM254.7 228.8h0.95v0.95h-0.95zM258.4 243.6h0.95v0.95h-0.95zM284.1 224.6h0.95v0.95h-0.95zM264.7 227h0.95v0.95h-0.95zM280.8 222.3h0.95v0.95h-0.95zM263.3 252h0.95v0.95h-0.95zM267 220.3h0.95v0.95h-0.95zM260.1 224.8h0.95v0.95h-0.95zM279.9 216.2h0.95v0.95h-0.95zM278.1 225.5h0.95v0.95h-0.95zM262.7 229.2h0.95v0.95h-0.95zM272.2 193.5h0.95v0.95h-0.95zM262 226.8h0.95v0.95h-0.95zM258 212.2h0.95v0.95h-0.95zM288.1 222h0.95v0.95h-0.95zM260.5 232.9h0.95v0.95h-0.95zM255.5 227.4h0.95v0.95h-0.95zM277.5 196.8h0.95v0.95h-0.95zM273.4 212.5h0.95v0.95h-0.95zM281.5 234.2h0.95v0.95h-0.95zM288.3 233.6h0.95v0.95h-0.95zM258.4 203.7h0.95v0.95h-0.95zM279.8 248h0.95v0.95h-0.95zM262.5 223.7h0.95v0.95h-0.95zM286.8 230.2h0.95v0.95h-0.95zM281.5 244.8h0.95v0.95h-0.95zM262.3 234.4h0.95v0.95h-0.95zM266.3 224.1h0.95v0.95h-0.95zM272.7 237.8h0.95v0.95h-0.95zM257.8 250h0.95v0.95h-0.95zM257.5 212.7h0.95v0.95h-0.95zM266 258h0.95v0.95h-0.95zM282.2 202h0.95v0.95h-0.95zM256 215.9h0.95v0.95h-0.95zM254.3 223.9h0.95v0.95h-0.95zM265.1 242.9h0.95v0.95h-0.95zM271.2 259h0.95v0.95h-0.95zM274.1 227.9h0.95v0.95h-0.95zM257.9 213.3h0.95v0.95h-0.95zM259.9 204.4h0.95v0.95h-0.95zM276.1 213.5h0.95v0.95h-0.95zM282.5 231.2h0.95v0.95h-0.95zM285.7 226.5h0.95v0.95h-0.95zM276.9 207.4h0.95v0.95h-0.95zM279.5 219.3h0.95v0.95h-0.95zM280.6 231.9h0.95v0.95h-0.95zM256.6 211.8h0.95v0.95h-0.95zM276.9 229.2h0.95v0.95h-0.95zM280.3 213.8h0.95v0.95h-0.95zM270.5 224.3h0.95v0.95h-0.95zM271.9 208.9h0.95v0.95h-0.95zM275.1 208.9h0.95v0.95h-0.95zM259.3 206.9h0.95v0.95h-0.95zM287.7 216.3h0.95v0.95h-0.95zM287.1 242.7h0.95v0.95h-0.95zM261.9 229.8h0.95v0.95h-0.95zM276.8 198.5h0.95v0.95h-0.95zM272.2 225.6h0.95v0.95h-0.95zM278.5 211h0.95v0.95h-0.95zM288.3 234.7h0.95v0.95h-0.95zM287.3 212.1h0.95v0.95h-0.95zM280.1 251.5h0.95v0.95h-0.95zM285.3 208.1h0.95v0.95h-0.95zM283.9 239.2h0.95v0.95h-0.95zM270 254.5h0.95v0.95h-0.95zM281.1 238.1h0.95v0.95h-0.95zM267.3 225.9h0.95v0.95h-0.95zM271.8 205.8h0.95v0.95h-0.95zM261.6 250.4h0.95v0.95h-0.95zM285.7 240h0.95v0.95h-0.95zM279.2 226.7h0.95v0.95h-0.95zM274.5 237.8h0.95v0.95h-0.95zM270.1 196h0.95v0.95h-0.95zM261.4 249h0.95v0.95h-0.95zM283.7 252.1h0.95v0.95h-0.95zM266.2 222.5h0.95v0.95h-0.95zM290 229.1h0.95v0.95h-0.95zM278.9 198.4h0.95v0.95h-0.95zM278.8 204.1h0.95v0.95h-0.95zM280.1 213.1h0.95v0.95h-0.95zM272.6 195.9h0.95v0.95h-0.95zM285.1 246.3h0.95v0.95h-0.95zM274.8 239.5h0.95v0.95h-0.95zM264.9 199.6h0.95v0.95h-0.95zM264.2 243h0.95v0.95h-0.95zM274 200.1h0.95v0.95h-0.95zM260.8 224.2h0.95v0.95h-0.95zM269.4 200h0.95v0.95h-0.95zM281.7 246.9h0.95v0.95h-0.95zM263.8 229h0.95v0.95h-0.95zM263.6 220.4h0.95v0.95h-0.95zM263.9 236.7h0.95v0.95h-0.95zM287.2 239.4h0.95v0.95h-0.95zM280.6 226.4h0.95v0.95h-0.95zM275.5 246.2h0.95v0.95h-0.95zM282.8 238.2h0.95v0.95h-0.95zM253.4 224.4h0.95v0.95h-0.95zM261.9 233.6h0.95v0.95h-0.95zM267.2 222.8h0.95v0.95h-0.95zM273 232.2h0.95v0.95h-0.95zM262.2 203.6h0.95v0.95h-0.95zM265.7 254.6h0.95v0.95h-0.95zM261.3 224.1h0.95v0.95h-0.95zM278.9 201.5h0.95v0.95h-0.95zM255.9 213.9h0.95v0.95h-0.95zM254.6 199.2h0.95v0.95h-0.95zM284 250.3h0.95v0.95h-0.95zM277.7 211.8h0.95v0.95h-0.95zM254.7 236.3h0.95v0.95h-0.95zM256.9 237.7h0.95v0.95h-0.95zM278.5 206.9h0.95v0.95h-0.95zM270.5 205.6h0.95v0.95h-0.95zM286.7 235.2h0.95v0.95h-0.95zM279.3 234.6h0.95v0.95h-0.95zM282.9 227h0.95v0.95h-0.95zM275.2 225.4h0.95v0.95h-0.95zM282 228.3h0.95v0.95h-0.95zM262.3 227.1h0.95v0.95h-0.95zM272.3 252.2h0.95v0.95h-0.95zM280.5 205.4h0.95v0.95h-0.95zM271.8 231.9h0.95v0.95h-0.95zM274.7 223.1h0.95v0.95h-0.95zM271.8 239.3h0.95v0.95h-0.95zM287.1 227.1h0.95v0.95h-0.95zM283.1 238.7h0.95v0.95h-0.95zM255.8 208.9h0.95v0.95h-0.95zM263.8 215.6h0.95v0.95h-0.95zM271.1 211.4h0.95v0.95h-0.95zM266.1 240.2h0.95v0.95h-0.95zM266.3 252.7h0.95v0.95h-0.95zM284 213.2h0.95v0.95h-0.95zM256.8 247.7h0.95v0.95h-0.95zM268 215.4h0.95v0.95h-0.95zM270 242.2h0.95v0.95h-0.95zM282.4 203h0.95v0.95h-0.95zM259.1 214.6h0.95v0.95h-0.95zM258.2 224.3h0.95v0.95h-0.95zM256.3 236.8h0.95v0.95h-0.95zM267.8 208h0.95v0.95h-0.95zM279.1 213.8h0.95v0.95h-0.95zM281.9 252.8h0.95v0.95h-0.95zM263 209.2h0.95v0.95h-0.95zM279.5 200.9h0.95v0.95h-0.95zM273.4 194.2h0.95v0.95h-0.95zM262.5 220.5h0.95v0.95h-0.95zM275.2 196h0.95v0.95h-0.95zM284.3 243.6h0.95v0.95h-0.95zM258.3 207.6h0.95v0.95h-0.95zM283.4 210.8h0.95v0.95h-0.95zM256.6 217.6h0.95v0.95h-0.95zM283.3 229.1h0.95v0.95h-0.95zM283.7 214.4h0.95v0.95h-0.95zM280.6 226.5h0.95v0.95h-0.95zM282.3 204.6h0.95v0.95h-0.95zM262.4 205.5h0.95v0.95h-0.95zM285.9 240.4h0.95v0.95h-0.95zM257.2 242h0.95v0.95h-0.95zM261.4 244.7h0.95v0.95h-0.95zM280.4 239h0.95v0.95h-0.95zM277.2 239.8h0.95v0.95h-0.95zM287.8 216.1h0.95v0.95h-0.95zM272.2 236.7h0.95v0.95h-0.95zM289 236.6h0.95v0.95h-0.95zM272.1 245h0.95v0.95h-0.95zM271 192.9h0.95v0.95h-0.95zM273.4 219.9h0.95v0.95h-0.95zM264.7 218.5h0.95v0.95h-0.95zM260 212.6h0.95v0.95h-0.95zM281.6 253.3h0.95v0.95h-0.95zM269.7 250.5h0.95v0.95h-0.95zM256 227.1h0.95v0.95h-0.95zM281.5 245.9h0.95v0.95h-0.95zM266.8 202.4h0.95v0.95h-0.95zM277.8 215.1h0.95v0.95h-0.95zM255.5 231h0.95v0.95h-0.95zM267.5 253.6h0.95v0.95h-0.95zM278.2 244.1h0.95v0.95h-0.95zM274.3 243.9h0.95v0.95h-0.95zM274.8 232.9h0.95v0.95h-0.95zM258.7 197h0.95v0.95h-0.95zM279.9 242h0.95v0.95h-0.95zM278.3 208.6h0.95v0.95h-0.95zM270.9 245h0.95v0.95h-0.95zM277.2 255h0.95v0.95h-0.95zM272.9 195.8h0.95v0.95h-0.95zM268.1 237.9h0.95v0.95h-0.95zM271.8 246.9h0.95v0.95h-0.95zM259.5 200.8h0.95v0.95h-0.95zM259.9 220.2h0.95v0.95h-0.95zM273.9 258.1h0.95v0.95h-0.95zM268.4 237.1h0.95v0.95h-0.95zM263.2 227.8h0.95v0.95h-0.95zM255.4 238.5h0.95v0.95h-0.95zM267.5 197.1h0.95v0.95h-0.95zM270.6 216.9h0.95v0.95h-0.95zM258.3 195.8h0.95v0.95h-0.95zM273.6 258.6h0.95v0.95h-0.95zM273.1 215.9h0.95v0.95h-0.95zM275.7 208.7h0.95v0.95h-0.95zM268.8 227.9h0.95v0.95h-0.95zM266.4 230.5h0.95v0.95h-0.95zM254.6 220.4h0.95v0.95h-0.95zM271.7 244h0.95v0.95h-0.95zM284.3 242.7h0.95v0.95h-0.95zM266.6 241h0.95v0.95h-0.95zM259.1 234.3h0.95v0.95h-0.95zM258.1 215.5h0.95v0.95h-0.95zM276.2 250.1h0.95v0.95h-0.95zM289.6 222.3h0.95v0.95h-0.95zM283 236.5h0.95v0.95h-0.95zM282.8 201.1h0.95v0.95h-0.95zM254.3 227.6h0.95v0.95h-0.95zM275.8 239.3h0.95v0.95h-0.95zM258.2 230.8h0.95v0.95h-0.95zM278.6 221.7h0.95v0.95h-0.95zM268.1 223.7h0.95v0.95h-0.95zM256 195.8h0.95v0.95h-0.95zM262.4 202.8h0.95v0.95h-0.95zM287.9 216.2h0.95v0.95h-0.95zM286.9 230.4h0.95v0.95h-0.95zM280.1 222.3h0.95v0.95h-0.95zM260.9 230.5h0.95v0.95h-0.95zM263.7 249.3h0.95v0.95h-0.95zM264.8 220.3h0.95v0.95h-0.95zM272.5 230.5h0.95v0.95h-0.95zM259 246.5h0.95v0.95h-0.95zM270.8 244.6h0.95v0.95h-0.95zM288.8 234.7h0.95v0.95h-0.95zM279.5 229.4h0.95v0.95h-0.95zM256.3 223.1h0.95v0.95h-0.95zM256.4 221.4h0.95v0.95h-0.95zM253.3 233.6h0.95v0.95h-0.95zM260.3 205.9h0.95v0.95h-0.95zM277.1 256.1h0.95v0.95h-0.95zM274.8 225h0.95v0.95h-0.95zM265.3 227.6h0.95v0.95h-0.95zM264.9 250.5h0.95v0.95h-0.95zM284.2 246.9h0.95v0.95h-0.95zM271.1 225.9h0.95v0.95h-0.95zM271.1 222.7h0.95v0.95h-0.95zM267.6 225.7h0.95v0.95h-0.95zM255.2 243.9h0.95v0.95h-0.95zM272.2 202.4h0.95v0.95h-0.95zM258.8 224.4h0.95v0.95h-0.95zM261.8 246.6h0.95v0.95h-0.95zM264.7 256.4h0.95v0.95h-0.95zM263.6 250.7h0.95v0.95h-0.95zM255.1 238.3h0.95v0.95h-0.95zM270.7 206h0.95v0.95h-0.95zM255.9 207.8h0.95v0.95h-0.95zM281.1 231.3h0.95v0.95h-0.95zM256.2 210.8h0.95v0.95h-0.95zM281.9 224h0.95v0.95h-0.95zM259.4 208.6h0.95v0.95h-0.95zM258.7 235.1h0.95v0.95h-0.95zM275.4 227.3h0.95v0.95h-0.95zM282.7 228.1h0.95v0.95h-0.95zM263.8 237.9h0.95v0.95h-0.95zM270.9 200.4h0.95v0.95h-0.95zM281.6 221.1h0.95v0.95h-0.95zM285.4 238h0.95v0.95h-0.95zM283.9 214.5h0.95v0.95h-0.95zM289.3 237.4h0.95v0.95h-0.95zM281.6 232.8h0.95v0.95h-0.95zM260 196.1h0.95v0.95h-0.95zM281.5 222.5h0.95v0.95h-0.95zM256 230.2h0.95v0.95h-0.95zM261.8 209.1h0.95v0.95h-0.95zM286.9 234.4h0.95v0.95h-0.95zM281.7 248.4h0.95v0.95h-0.95zM268.8 222.5h0.95v0.95h-0.95zM268.6 215.9h0.95v0.95h-0.95zM282.9 253.2h0.95v0.95h-0.95zM263.1 241h0.95v0.95h-0.95zM279.1 245.6h0.95v0.95h-0.95zM280.5 213.3h0.95v0.95h-0.95zM282.2 250.3h0.95v0.95h-0.95zM268.7 210h0.95v0.95h-0.95zM266.4 228h0.95v0.95h-0.95zM272.6 211.4h0.95v0.95h-0.95zM253.3 235.3h0.95v0.95h-0.95zM280.4 239.8h0.95v0.95h-0.95zM267.2 251.3h0.95v0.95h-0.95zM272.4 206.7h0.95v0.95h-0.95zM277.9 226.6h0.95v0.95h-0.95zM273 250.1h0.95v0.95h-0.95zM277.3 257.2h0.95v0.95h-0.95zM278.9 255.4h0.95v0.95h-0.95zM264 255.8h0.95v0.95h-0.95zM282 218.2h0.95v0.95h-0.95zM272.4 246h0.95v0.95h-0.95zM253.2 228.8h0.95v0.95h-0.95zM274.2 241.4h0.95v0.95h-0.95zM264.9 233.5h0.95v0.95h-0.95zM281.2 217.6h0.95v0.95h-0.95zM278.9 254.6h0.95v0.95h-0.95zM266.1 227.8h0.95v0.95h-0.95zM270.8 250h0.95v0.95h-0.95zM262 210.8h0.95v0.95h-0.95zM267 236.8h0.95v0.95h-0.95zM271.6 242.3h0.95v0.95h-0.95zM266.7 231h0.95v0.95h-0.95zM275 223.1h0.95v0.95h-0.95zM264.7 236.6h0.95v0.95h-0.95zM258 224.9h0.95v0.95h-0.95zM262 230.6h0.95v0.95h-0.95zM279.2 227.2h0.95v0.95h-0.95zM281.7 234.7h0.95v0.95h-0.95zM254.3 237.1h0.95v0.95h-0.95zM270.8 244.3h0.95v0.95h-0.95zM285.9 206.8h0.95v0.95h-0.95zM284.8 222.2h0.95v0.95h-0.95zM269.6 225.8h0.95v0.95h-0.95zM266.2 206.8h0.95v0.95h-0.95zM279.4 235h0.95v0.95h-0.95zM262.9 231.5h0.95v0.95h-0.95zM266.2 257.7h0.95v0.95h-0.95zM260.1 202.6h0.95v0.95h-0.95zM269.2 210.7h0.95v0.95h-0.95zM278.6 253.3h0.95v0.95h-0.95zM255.5 212.5h0.95v0.95h-0.95zM256.4 221.1h0.95v0.95h-0.95zM265.8 242.1h0.95v0.95h-0.95zM268.2 236.1h0.95v0.95h-0.95zM256.3 233.8h0.95v0.95h-0.95zM256.6 202.3h0.95v0.95h-0.95zM288 240h0.95v0.95h-0.95zM281.2 246.9h0.95v0.95h-0.95zM276.4 216.5h0.95v0.95h-0.95zM264.4 248.1h0.95v0.95h-0.95zM268.5 221.9h0.95v0.95h-0.95zM263.7 241.9h0.95v0.95h-0.95zM286.1 218.9h0.95v0.95h-0.95zM268.2 247.4h0.95v0.95h-0.95zM279.9 249.2h0.95v0.95h-0.95zM272.7 218h0.95v0.95h-0.95zM265.7 246.1h0.95v0.95h-0.95zM278.6 238.2h0.95v0.95h-0.95zM271 197h0.95v0.95h-0.95zM285.1 244.5h0.95v0.95h-0.95zM270.5 230.4h0.95v0.95h-0.95zM284 225.6h0.95v0.95h-0.95zM270.4 224.9h0.95v0.95h-0.95zM281.2 242.7h0.95v0.95h-0.95zM264.6 245.6h0.95v0.95h-0.95zM266.3 238.3h0.95v0.95h-0.95zM266.4 254.3h0.95v0.95h-0.95zM266.6 215.4h0.95v0.95h-0.95zM268.7 233.4h0.95v0.95h-0.95zM287.6 231.1h0.95v0.95h-0.95zM280.5 243.9h0.95v0.95h-0.95zM268.2 198.9h0.95v0.95h-0.95zM280.6 206h0.95v0.95h-0.95zM271.4 227h0.95v0.95h-0.95zM265.8 225.2h0.95v0.95h-0.95zM282.6 217.5h0.95v0.95h-0.95zM275.5 230.4h0.95v0.95h-0.95zM281.3 211.8h0.95v0.95h-0.95zM278.8 216.7h0.95v0.95h-0.95zM283.1 225.5h0.95v0.95h-0.95zM287.7 227.7h0.95v0.95h-0.95zM277.5 249.4h0.95v0.95h-0.95zM287.5 217.9h0.95v0.95h-0.95zM280.8 249.5h0.95v0.95h-0.95zM265.8 220.3h0.95v0.95h-0.95zM265.9 214.8h0.95v0.95h-0.95zM267.8 250.6h0.95v0.95h-0.95zM283.4 230.2h0.95v0.95h-0.95zM277.3 211.8h0.95v0.95h-0.95zM282.3 252.5h0.95v0.95h-0.95zM266.6 225.9h0.95v0.95h-0.95zM259.9 208.3h0.95v0.95h-0.95zM285.9 236.1h0.95v0.95h-0.95zM269.3 235.9h0.95v0.95h-0.95zM265.6 231.3h0.95v0.95h-0.95zM258.5 228.9h0.95v0.95h-0.95zM264.2 209.1h0.95v0.95h-0.95zM281.3 216.1h0.95v0.95h-0.95zM281.4 243.7h0.95v0.95h-0.95zM266.3 192.8h0.95v0.95h-0.95zM285.6 229.6h0.95v0.95h-0.95zM274.7 239.1h0.95v0.95h-0.95zM273.4 254.8h0.95v0.95h-0.95zM276.2 219.4h0.95v0.95h-0.95zM276.5 219.7h0.95v0.95h-0.95zM274.5 249.4h0.95v0.95h-0.95zM263.6 208.3h0.95v0.95h-0.95zM261.9 228h0.95v0.95h-0.95zM262.8 217h0.95v0.95h-0.95zM277.2 215.6h0.95v0.95h-0.95zM278.4 201.2h0.95v0.95h-0.95zM280.7 200h0.95v0.95h-0.95zM279.3 201.9h0.95v0.95h-0.95zM267.7 194.5h0.95v0.95h-0.95zM254.5 215.5h0.95v0.95h-0.95zM281.9 235.7h0.95v0.95h-0.95zM274.9 226.7h0.95v0.95h-0.95zM277.9 225.7h0.95v0.95h-0.95zM267.2 249.9h0.95v0.95h-0.95zM263.3 219.3h0.95v0.95h-0.95zM265 221.2h0.95v0.95h-0.95zM267.4 205.4h0.95v0.95h-0.95zM265.5 246.5h0.95v0.95h-0.95zM258.6 224.4h0.95v0.95h-0.95zM262.6 231.5h0.95v0.95h-0.95zM270.9 203.8h0.95v0.95h-0.95zM277.5 238.6h0.95v0.95h-0.95zM260 206.9h0.95v0.95h-0.95zM263.3 213.8h0.95v0.95h-0.95zM283.4 218.5h0.95v0.95h-0.95zM269.7 204.8h0.95v0.95h-0.95zM269.8 257.9h0.95v0.95h-0.95zM254.6 218.5h0.95v0.95h-0.95zM258.9 250.4h0.95v0.95h-0.95zM263.3 225.1h0.95v0.95h-0.95zM272 247.3h0.95v0.95h-0.95zM280.6 243.3h0.95v0.95h-0.95zM261.7 208.3h0.95v0.95h-0.95zM275.5 194h0.95v0.95h-0.95zM271.2 216.1h0.95v0.95h-0.95zM254 229.8h0.95v0.95h-0.95zM254.9 239.1h0.95v0.95h-0.95zM270.2 246.6h0.95v0.95h-0.95zM286.8 213.3h0.95v0.95h-0.95zM272.9 232.1h0.95v0.95h-0.95zM269.4 248.5h0.95v0.95h-0.95zM279.9 248.6h0.95v0.95h-0.95zM261.3 226.3h0.95v0.95h-0.95zM273.2 231.9h0.95v0.95h-0.95zM269.3 201.8h0.95v0.95h-0.95zM286.1 230h0.95v0.95h-0.95zM281.3 243h0.95v0.95h-0.95zM276.5 255.3h0.95v0.95h-0.95zM257.6 235.6h0.95v0.95h-0.95zM256.5 202.9h0.95v0.95h-0.95zM273.1 222.8h0.95v0.95h-0.95zM272.6 208.5h0.95v0.95h-0.95zM257.1 218.9h0.95v0.95h-0.95zM257.7 223.4h0.95v0.95h-0.95zM257.6 242.6h0.95v0.95h-0.95zM286.9 213.5h0.95v0.95h-0.95zM254.3 236.6h0.95v0.95h-0.95zM282 224.8h0.95v0.95h-0.95zM280.5 254.8h0.95v0.95h-0.95zM268.8 226.8h0.95v0.95h-0.95zM285.8 217.5h0.95v0.95h-0.95zM259.3 200.5h0.95v0.95h-0.95zM279.3 221.3h0.95v0.95h-0.95zM255.2 216.4h0.95v0.95h-0.95zM262 193.9h0.95v0.95h-0.95zM283.3 232.7h0.95v0.95h-0.95zM262.5 249.7h0.95v0.95h-0.95zM273.8 257.4h0.95v0.95h-0.95zM279.3 242.1h0.95v0.95h-0.95zM279.2 244.5h0.95v0.95h-0.95zM258.8 197.3h0.95v0.95h-0.95zM253.6 229.1h0.95v0.95h-0.95zM281.1 220.9h0.95v0.95h-0.95zM258.4 220.8h0.95v0.95h-0.95zM275.9 251.6h0.95v0.95h-0.95zM287.6 213.5h0.95v0.95h-0.95zM279.2 236.4h0.95v0.95h-0.95zM283.9 248.1h0.95v0.95h-0.95zM276.6 248.8h0.95v0.95h-0.95zM278.3 197.2h0.95v0.95h-0.95zM257.8 236h0.95v0.95h-0.95zM263.5 257h0.95v0.95h-0.95zM262.3 225h0.95v0.95h-0.95zM271.6 257.2h0.95v0.95h-0.95zM263.4 253.8h0.95v0.95h-0.95zM280.6 230.9h0.95v0.95h-0.95zM281.7 229.2h0.95v0.95h-0.95zM277.7 198.8h0.95v0.95h-0.95zM277.3 215.1h0.95v0.95h-0.95zM266.8 248.9h0.95v0.95h-0.95zM285.5 243.5h0.95v0.95h-0.95zM269.2 228.5h0.95v0.95h-0.95zM275.9 196.1h0.95v0.95h-0.95zM255.7 237.2h0.95v0.95h-0.95zM258.9 243.9h0.95v0.95h-0.95zM279.1 202.2h0.95v0.95h-0.95zM283.8 224.1h0.95v0.95h-0.95zM279.5 196.5h0.95v0.95h-0.95zM266.2 240.4h0.95v0.95h-0.95zM265.9 202.3h0.95v0.95h-0.95zM269.6 200.5h0.95v0.95h-0.95zM270.4 197.5h0.95v0.95h-0.95zM280.8 205.6h0.95v0.95h-0.95zM276.8 236.1h0.95v0.95h-0.95zM259 235h0.95v0.95h-0.95zM273.5 234.2h0.95v0.95h-0.95zM258.5 224.3h0.95v0.95h-0.95zM285.3 234.4h0.95v0.95h-0.95zM260.9 214.2h0.95v0.95h-0.95zM270.5 226.9h0.95v0.95h-0.95zM269.6 211.2h0.95v0.95h-0.95zM269.4 194.2h0.95v0.95h-0.95zM282.1 204.5h0.95v0.95h-0.95zM263.9 196h0.95v0.95h-0.95zM263.9 227.5h0.95v0.95h-0.95zM281.8 226.4h0.95v0.95h-0.95zM274.2 193.6h0.95v0.95h-0.95zM256.4 238.2h0.95v0.95h-0.95zM273.7 232.8h0.95v0.95h-0.95zM255.7 214.3h0.95v0.95h-0.95zM266 242.8h0.95v0.95h-0.95zM283.1 239.8h0.95v0.95h-0.95zM258.3 223.2h0.95v0.95h-0.95zM265.2 234.2h0.95v0.95h-0.95zM279.3 223.2h0.95v0.95h-0.95zM272.6 250.1h0.95v0.95h-0.95zM254.8 232.9h0.95v0.95h-0.95zM263.9 244.1h0.95v0.95h-0.95zM280.3 220h0.95v0.95h-0.95zM257.1 244.7h0.95v0.95h-0.95zM279.7 230.5h0.95v0.95h-0.95zM260.9 239.4h0.95v0.95h-0.95zM284.1 209.4h0.95v0.95h-0.95zM283.1 216.8h0.95v0.95h-0.95zM269.7 232.2h0.95v0.95h-0.95zM284 220h0.95v0.95h-0.95zM272.3 200.8h0.95v0.95h-0.95zM257.9 211.1h0.95v0.95h-0.95zM276.4 218.6h0.95v0.95h-0.95zM283.7 229.2h0.95v0.95h-0.95zM279 196.6h0.95v0.95h-0.95zM256.4 232.8h0.95v0.95h-0.95zM266.4 238.2h0.95v0.95h-0.95zM282.3 210.2h0.95v0.95h-0.95zM264.4 227.6h0.95v0.95h-0.95zM287.6 238.1h0.95v0.95h-0.95zM275.3 219.4h0.95v0.95h-0.95zM266.6 219.3h0.95v0.95h-0.95zM280.3 221.9h0.95v0.95h-0.95zM280.2 252.7h0.95v0.95h-0.95zM284.4 219.2h0.95v0.95h-0.95zM268.5 233.1h0.95v0.95h-0.95zM262.7 253h0.95v0.95h-0.95zM281.7 208.7h0.95v0.95h-0.95zM267.5 220.1h0.95v0.95h-0.95zM280 210.7h0.95v0.95h-0.95zM265.5 226.2h0.95v0.95h-0.95zM260.6 221h0.95v0.95h-0.95zM281.6 226.3h0.95v0.95h-0.95zM274.3 207h0.95v0.95h-0.95zM266.8 230.2h0.95v0.95h-0.95zM265.9 203.5h0.95v0.95h-0.95zM273.7 229.2h0.95v0.95h-0.95zM267.7 234.9h0.95v0.95h-0.95zM287.2 213.1h0.95v0.95h-0.95zM287 233h0.95v0.95h-0.95zM281.9 218.1h0.95v0.95h-0.95zM264.2 239.5h0.95v0.95h-0.95zM274.2 255.3h0.95v0.95h-0.95zM257.5 214.9h0.95v0.95h-0.95zM279.3 254.8h0.95v0.95h-0.95zM270.1 246.4h0.95v0.95h-0.95zM255.4 235.9h0.95v0.95h-0.95zM264.4 239.7h0.95v0.95h-0.95zM263.1 203.8h0.95v0.95h-0.95zM261.9 241.8h0.95v0.95h-0.95zM280.2 255.2h0.95v0.95h-0.95zM267.9 195.2h0.95v0.95h-0.95zM284.2 208.7h0.95v0.95h-0.95zM280.4 225.2h0.95v0.95h-0.95zM269.1 192.7h0.95v0.95h-0.95zM260.2 243.6h0.95v0.95h-0.95zM269.8 253h0.95v0.95h-0.95zM284.1 228.4h0.95v0.95h-0.95zM267.4 228.4h0.95v0.95h-0.95zM257 231.7h0.95v0.95h-0.95zM262 217.6h0.95v0.95h-0.95zM270 211h0.95v0.95h-0.95zM257.9 237.8h0.95v0.95h-0.95zM276.6 196.2h0.95v0.95h-0.95zM260 210.5h0.95v0.95h-0.95zM265.9 225.3h0.95v0.95h-0.95zM274.5 234.8h0.95v0.95h-0.95zM261.5 215.7h0.95v0.95h-0.95zM269.2 253.4h0.95v0.95h-0.95zM282.8 224.5h0.95v0.95h-0.95zM284.5 221.3h0.95v0.95h-0.95zM266.9 235.8h0.95v0.95h-0.95zM279.1 198.5h0.95v0.95h-0.95zM268 251.2h0.95v0.95h-0.95zM261.7 228.1h0.95v0.95h-0.95zM265.1 229.7h0.95v0.95h-0.95zM267 214.9h0.95v0.95h-0.95zM288.9 239.6h0.95v0.95h-0.95zM270.1 216.4h0.95v0.95h-0.95zM286.6 216.6h0.95v0.95h-0.95zM278.9 203.1h0.95v0.95h-0.95zM273.2 209.6h0.95v0.95h-0.95zM288.5 216.5h0.95v0.95h-0.95zM264.9 229.6h0.95v0.95h-0.95zM284.8 230.7h0.95v0.95h-0.95zM276.3 200.4h0.95v0.95h-0.95zM285.1 235.9h0.95v0.95h-0.95zM277.6 212.1h0.95v0.95h-0.95zM282.3 227.9h0.95v0.95h-0.95zM282.7 238.7h0.95v0.95h-0.95zM285.4 239.9h0.95v0.95h-0.95zM266.7 258.3h0.95v0.95h-0.95zM288.2 238.1h0.95v0.95h-0.95zM268.8 226h0.95v0.95h-0.95zM285.1 232.7h0.95v0.95h-0.95zM270 247.5h0.95v0.95h-0.95zM261.2 233.6h0.95v0.95h-0.95zM265.4 233.6h0.95v0.95h-0.95zM287.8 219.6h0.95v0.95h-0.95zM285.3 223.7h0.95v0.95h-0.95zM269 192.6h0.95v0.95h-0.95zM264.1 224.1h0.95v0.95h-0.95zM274.5 206.3h0.95v0.95h-0.95zM277.4 235.8h0.95v0.95h-0.95zM263 197.8h0.95v0.95h-0.95zM262.8 205.6h0.95v0.95h-0.95zM262.2 243.3h0.95v0.95h-0.95zM284.4 247h0.95v0.95h-0.95zM285.9 235.4h0.95v0.95h-0.95zM275.7 220.7h0.95v0.95h-0.95zM284.7 228.4h0.95v0.95h-0.95zM265.3 225.7h0.95v0.95h-0.95zM270.3 203.8h0.95v0.95h-0.95zM278.6 249.7h0.95v0.95h-0.95zM267.5 244.9h0.95v0.95h-0.95zM256.3 226.4h0.95v0.95h-0.95zM279 228.4h0.95v0.95h-0.95zM279.8 202.3h0.95v0.95h-0.95zM275.6 227.7h0.95v0.95h-0.95zM280.6 198.5h0.95v0.95h-0.95zM280.5 217.4h0.95v0.95h-0.95zM279.7 240h0.95v0.95h-0.95zM267.7 257.7h0.95v0.95h-0.95zM268.9 223.6h0.95v0.95h-0.95zM280.3 201.3h0.95v0.95h-0.95zM287.7 214.1h0.95v0.95h-0.95zM256 232.4h0.95v0.95h-0.95zM260.8 221.7h0.95v0.95h-0.95zM259.1 241.9h0.95v0.95h-0.95zM281.2 239.2h0.95v0.95h-0.95zM274.9 196.3h0.95v0.95h-0.95zM280.3 229.3h0.95v0.95h-0.95zM277.8 249.2h0.95v0.95h-0.95zM271.8 211.1h0.95v0.95h-0.95zM278.3 235.4h0.95v0.95h-0.95zM271.9 222.8h0.95v0.95h-0.95zM288.7 217.2h0.95v0.95h-0.95zM282.2 254.1h0.95v0.95h-0.95zM257.3 225.5h0.95v0.95h-0.95zM271 218h0.95v0.95h-0.95zM283.2 208.3h0.95v0.95h-0.95zM262.5 249.4h0.95v0.95h-0.95zM260.5 241.9h0.95v0.95h-0.95zM262.1 219.5h0.95v0.95h-0.95zM270.2 208h0.95v0.95h-0.95zM281.3 229.3h0.95v0.95h-0.95zM279 209h0.95v0.95h-0.95zM267.4 195.1h0.95v0.95h-0.95zM267.1 243.8h0.95v0.95h-0.95zM263.9 203.6h0.95v0.95h-0.95zM273 254.1h0.95v0.95h-0.95zM277.4 198.3h0.95v0.95h-0.95zM268.6 206.8h0.95v0.95h-0.95zM284.3 220.2h0.95v0.95h-0.95zM269.1 252.7h0.95v0.95h-0.95zM263.1 222.3h0.95v0.95h-0.95zM273.1 236.5h0.95v0.95h-0.95zM264.6 235.1h0.95v0.95h-0.95zM268.2 249.4h0.95v0.95h-0.95zM273.8 242h0.95v0.95h-0.95zM274.5 240h0.95v0.95h-0.95zM266.9 201h0.95v0.95h-0.95zM265.8 213.6h0.95v0.95h-0.95zM272.5 224.6h0.95v0.95h-0.95zM256 241.4h0.95v0.95h-0.95zM271.8 259.1h0.95v0.95h-0.95zM286.2 219.5h0.95v0.95h-0.95zM265 221.3h0.95v0.95h-0.95zM282.5 223.3h0.95v0.95h-0.95zM281.7 226.9h0.95v0.95h-0.95zM281.4 225.5h0.95v0.95h-0.95zM274.8 220.3h0.95v0.95h-0.95zM274.2 230.1h0.95v0.95h-0.95zM255.1 230.6h0.95v0.95h-0.95zM282.8 208.6h0.95v0.95h-0.95zM280.2 210.5h0.95v0.95h-0.95zM275.4 245.5h0.95v0.95h-0.95zM272.4 207.8h0.95v0.95h-0.95zM263.5 229.8h0.95v0.95h-0.95zM281.4 203.2h0.95v0.95h-0.95zM277 219.1h0.95v0.95h-0.95zM282.3 242.1h0.95v0.95h-0.95zM266 232.3h0.95v0.95h-0.95zM256.9 233.7h0.95v0.95h-0.95zM277.5 207.3h0.95v0.95h-0.95zM278.3 200.4h0.95v0.95h-0.95zM288.8 237.9h0.95v0.95h-0.95zM259.7 242.4h0.95v0.95h-0.95zM276.2 217.4h0.95v0.95h-0.95zM279.4 244.4h0.95v0.95h-0.95zM278.8 206h0.95v0.95h-0.95zM268.7 256.2h0.95v0.95h-0.95zM258.7 207.8h0.95v0.95h-0.95zM271 200.8h0.95v0.95h-0.95zM260.6 242.4h0.95v0.95h-0.95zM267.7 240.9h0.95v0.95h-0.95zM261.5 224.4h0.95v0.95h-0.95zM286.4 216.5h0.95v0.95h-0.95zM263 256.8h0.95v0.95h-0.95zM266.1 228.9h0.95v0.95h-0.95zM256.6 219.7h0.95v0.95h-0.95zM260.4 194.2h0.95v0.95h-0.95zM256.2 236.6h0.95v0.95h-0.95zM273.3 216.7h0.95v0.95h-0.95zM280.2 206.1h0.95v0.95h-0.95zM275.9 220.1h0.95v0.95h-0.95zM256.6 245.5h0.95v0.95h-0.95zM258.4 247.3h0.95v0.95h-0.95zM282.2 221.5h0.95v0.95h-0.95zM269.5 205.1h0.95v0.95h-0.95zM256.6 239.9h0.95v0.95h-0.95zM266.1 230.4h0.95v0.95h-0.95zM266 209.4h0.95v0.95h-0.95zM257.6 244.6h0.95v0.95h-0.95zM268.7 201.3h0.95v0.95h-0.95zM260.3 201.7h0.95v0.95h-0.95zM273.9 245.7h0.95v0.95h-0.95zM279.8 249.4h0.95v0.95h-0.95zM268.2 221.5h0.95v0.95h-0.95zM254.7 209.1h0.95v0.95h-0.95zM286.7 210.7h0.95v0.95h-0.95zM268.3 249.6h0.95v0.95h-0.95zM263.7 207.9h0.95v0.95h-0.95zM273.5 205.5h0.95v0.95h-0.95zM261.5 235.4h0.95v0.95h-0.95zM258 246.3h0.95v0.95h-0.95zM286.8 220.3h0.95v0.95h-0.95zM256.2 231h0.95v0.95h-0.95zM263 198h0.95v0.95h-0.95zM280.1 230.2h0.95v0.95h-0.95zM262 208.1h0.95v0.95h-0.95zM280.7 255.5h0.95v0.95h-0.95zM265.3 232h0.95v0.95h-0.95zM259.9 223.5h0.95v0.95h-0.95zM274.8 212.2h0.95v0.95h-0.95zM275.8 229h0.95v0.95h-0.95zM267.9 201h0.95v0.95h-0.95zM273.4 232.6h0.95v0.95h-0.95zM276.6 253.3h0.95v0.95h-0.95zM275.9 245.2h0.95v0.95h-0.95zM289.1 232.5h0.95v0.95h-0.95zM284.9 229.5h0.95v0.95h-0.95zM268.7 201.9h0.95v0.95h-0.95zM270.6 241.1h0.95v0.95h-0.95zM272.2 257.5h0.95v0.95h-0.95zM268.4 228.9h0.95v0.95h-0.95zM282.7 207.1h0.95v0.95h-0.95zM258.7 250.9h0.95v0.95h-0.95zM274.2 200.2h0.95v0.95h-0.95zM272.3 245.3h0.95v0.95h-0.95zM275.3 238.5h0.95v0.95h-0.95zM275.7 256h0.95v0.95h-0.95zM273 215.4h0.95v0.95h-0.95zM267.2 218.6h0.95v0.95h-0.95zM287.2 210.8h0.95v0.95h-0.95zM279.4 230.8h0.95v0.95h-0.95zM262.6 255.2h0.95v0.95h-0.95zM261.4 211.8h0.95v0.95h-0.95zM258.8 240.2h0.95v0.95h-0.95zM279.4 216.4h0.95v0.95h-0.95zM255.7 232.7h0.95v0.95h-0.95zM264.7 229.6h0.95v0.95h-0.95zM260 220.8h0.95v0.95h-0.95zM285.1 212.4h0.95v0.95h-0.95zM280.6 255.3h0.95v0.95h-0.95zM265.3 258.2h0.95v0.95h-0.95zM259.7 218.3h0.95v0.95h-0.95zM282.6 231.2h0.95v0.95h-0.95zM288.6 221.3h0.95v0.95h-0.95zM269.3 202.4h0.95v0.95h-0.95zM262.2 252.5h0.95v0.95h-0.95zM261.6 254.1h0.95v0.95h-0.95zM283.9 231h0.95v0.95h-0.95zM269 216.6h0.95v0.95h-0.95zM278.8 210.8h0.95v0.95h-0.95zM255.3 203.5h0.95v0.95h-0.95zM261.7 204.1h0.95v0.95h-0.95zM274.4 212.8h0.95v0.95h-0.95zM259.7 252.7h0.95v0.95h-0.95zM276.3 228.8h0.95v0.95h-0.95zM259.8 250h0.95v0.95h-0.95zM266 229.1h0.95v0.95h-0.95zM267.9 246.3h0.95v0.95h-0.95zM257.8 206.6h0.95v0.95h-0.95zM269.4 229.1h0.95v0.95h-0.95zM272.2 233h0.95v0.95h-0.95zM285.4 213.7h0.95v0.95h-0.95zM275.9 258.1h0.95v0.95h-0.95zM264.8 236.6h0.95v0.95h-0.95zM280.9 238.8h0.95v0.95h-0.95zM278.7 217.8h0.95v0.95h-0.95zM280.3 215.5h0.95v0.95h-0.95zM260.4 197.6h0.95v0.95h-0.95zM273.6 202.6h0.95v0.95h-0.95zM262.5 211.6h0.95v0.95h-0.95zM266.2 220.1h0.95v0.95h-0.95zM273.5 218.9h0.95v0.95h-0.95zM273.4 248.2h0.95v0.95h-0.95zM272.4 226.9h0.95v0.95h-0.95zM265.3 203.7h0.95v0.95h-0.95zM259.6 196.9h0.95v0.95h-0.95zM262.6 193.4h0.95v0.95h-0.95zM268 231.2h0.95v0.95h-0.95zM255.6 244.1h0.95v0.95h-0.95zM269.5 234.7h0.95v0.95h-0.95zM268.6 246.8h0.95v0.95h-0.95zM278.8 199.1h0.95v0.95h-0.95zM273.5 209.3h0.95v0.95h-0.95zM281.6 216.8h0.95v0.95h-0.95zM268.7 238.8h0.95v0.95h-0.95zM264 196.5h0.95v0.95h-0.95zM261.9 234.5h0.95v0.95h-0.95zM261.9 253.6h0.95v0.95h-0.95zM275 218.9h0.95v0.95h-0.95zM259.8 234.2h0.95v0.95h-0.95zM253.2 226.2h0.95v0.95h-0.95zM262.7 219.8h0.95v0.95h-0.95zM276 242.7h0.95v0.95h-0.95zM278.8 221.3h0.95v0.95h-0.95zM264.8 234.9h0.95v0.95h-0.95zM269.8 256.4h0.95v0.95h-0.95zM272.6 232h0.95v0.95h-0.95zM278.3 224.7h0.95v0.95h-0.95zM271.1 237.6h0.95v0.95h-0.95zM263.4 225.6h0.95v0.95h-0.95zM273.7 212.1h0.95v0.95h-0.95zM258.2 220h0.95v0.95h-0.95zM268.4 221.2h0.95v0.95h-0.95zM261.4 224.6h0.95v0.95h-0.95zM274.5 197.8h0.95v0.95h-0.95zM278 240.9h0.95v0.95h-0.95zM258.9 208.2h0.95v0.95h-0.95zM278.7 219.7h0.95v0.95h-0.95zM275.1 233.4h0.95v0.95h-0.95zM271.7 256.1h0.95v0.95h-0.95zM279.9 222.1h0.95v0.95h-0.95zM261.5 199.9h0.95v0.95h-0.95zM277.5 244.7h0.95v0.95h-0.95zM267 196.6h0.95v0.95h-0.95zM262.3 240.7h0.95v0.95h-0.95zM282.6 218.9h0.95v0.95h-0.95zM287.4 218.2h0.95v0.95h-0.95zM287.5 240.6h0.95v0.95h-0.95zM254.4 210.8h0.95v0.95h-0.95zM267.1 224.6h0.95v0.95h-0.95zM272.7 209.2h0.95v0.95h-0.95zM263.7 231.8h0.95v0.95h-0.95zM268 205.9h0.95v0.95h-0.95zM278.3 211.7h0.95v0.95h-0.95zM270.2 252.4h0.95v0.95h-0.95zM256.8 235.1h0.95v0.95h-0.95zM260.5 254.7h0.95v0.95h-0.95zM266.6 226.5h0.95v0.95h-0.95zM264.1 215.4h0.95v0.95h-0.95zM271 237.4h0.95v0.95h-0.95zM288.2 221.1h0.95v0.95h-0.95zM262.6 216h0.95v0.95h-0.95zM279.3 202.2h0.95v0.95h-0.95zM261.4 204.3h0.95v0.95h-0.95zM271.6 243.4h0.95v0.95h-0.95zM279.1 221.8h0.95v0.95h-0.95zM272.3 199.6h0.95v0.95h-0.95zM260.8 214.9h0.95v0.95h-0.95zM265.6 237.3h0.95v0.95h-0.95zM260.8 207.4h0.95v0.95h-0.95zM286.9 246h0.95v0.95h-0.95zM258.9 225.1h0.95v0.95h-0.95zM285.2 247.7h0.95v0.95h-0.95zM260.3 224.7h0.95v0.95h-0.95zM260.9 243.1h0.95v0.95h-0.95zM278.3 222.2h0.95v0.95h-0.95zM274.4 227.9h0.95v0.95h-0.95zM265.1 196.6h0.95v0.95h-0.95zM281.4 245.3h0.95v0.95h-0.95zM268.8 245.1h0.95v0.95h-0.95zM284.9 239.6h0.95v0.95h-0.95zM269.5 245.7h0.95v0.95h-0.95zM275 196.8h0.95v0.95h-0.95zM281 214.5h0.95v0.95h-0.95zM266.4 209.9h0.95v0.95h-0.95zM284.2 236h0.95v0.95h-0.95zM263.2 243.1h0.95v0.95h-0.95zM258.5 247.4h0.95v0.95h-0.95zM275.7 244.8h0.95v0.95h-0.95zM279.5 223.4h0.95v0.95h-0.95zM275.2 230.7h0.95v0.95h-0.95zM262.6 212.2h0.95v0.95h-0.95zM283.7 248.5h0.95v0.95h-0.95zM271.6 218.5h0.95v0.95h-0.95zM279.9 236.5h0.95v0.95h-0.95zM266.7 210.3h0.95v0.95h-0.95zM268.5 218.5h0.95v0.95h-0.95zM253 225.6h0.95v0.95h-0.95zM281.5 244.3h0.95v0.95h-0.95zM278 232.8h0.95v0.95h-0.95zM261.1 238.3h0.95v0.95h-0.95zM272.1 215.7h0.95v0.95h-0.95zM288.2 234.8h0.95v0.95h-0.95zM264.9 236.6h0.95v0.95h-0.95zM257.1 203.9h0.95v0.95h-0.95zM287.3 223.4h0.95v0.95h-0.95zM283.9 205.7h0.95v0.95h-0.95zM270.2 207.3h0.95v0.95h-0.95zM283.9 232.9h0.95v0.95h-0.95zM267.1 217.8h0.95v0.95h-0.95zM259.6 205.4h0.95v0.95h-0.95zM253.2 197.4h0.95v0.95h-0.95zM254 197.8h0.95v0.95h-0.95zM254.4 196.3h0.95v0.95h-0.95zM254.3 192.9h0.95v0.95h-0.95zM256.2 195.1h0.95v0.95h-0.95zM256.2 196.5h0.95v0.95h-0.95zM256 192.5h0.95v0.95h-0.95zM257.2 193.4h0.95v0.95h-0.95zM258 194h0.95v0.95h-0.95zM257.1 195.3h0.95v0.95h-0.95zM259.2 195.9h0.95v0.95h-0.95zM259.7 195h0.95v0.95h-0.95zM260.2 192.7h0.95v0.95h-0.95zM259.9 192.5h0.95v0.95h-0.95zM262.1 193.4h0.95v0.95h-0.95zM260.3 191.4h0.95v0.95h-0.95zM261.6 190.9h0.95v0.95h-0.95zM261.5 191.2h0.95v0.95h-0.95zM264.5 191.5h0.95v0.95h-0.95zM262.9 192.7h0.95v0.95h-0.95zM264.7 193.2h0.95v0.95h-0.95zM265.5 193.4h0.95v0.95h-0.95zM265.3 194.1h0.95v0.95h-0.95zM266.1 191.7h0.95v0.95h-0.95zM268.5 191.1h0.95v0.95h-0.95zM267.3 194h0.95v0.95h-0.95zM268 192.9h0.95v0.95h-0.95zM268 193.3h0.95v0.95h-0.95zM269.3 192.6h0.95v0.95h-0.95zM269.8 190.3h0.95v0.95h-0.95zM270.5 192.3h0.95v0.95h-0.95zM272.5 193h0.95v0.95h-0.95zM270.5 193.6h0.95v0.95h-0.95zM270.9 191.5h0.95v0.95h-0.95zM272.1 193.7h0.95v0.95h-0.95zM273.9 194.3h0.95v0.95h-0.95zM273.8 193.1h0.95v0.95h-0.95zM273.8 194.8h0.95v0.95h-0.95zM274.4 194.9h0.95v0.95h-0.95zM273.6 193.5h0.95v0.95h-0.95zM276.4 194.5h0.95v0.95h-0.95zM275.7 193.1h0.95v0.95h-0.95zM274.3 193.4h0.95v0.95h-0.95zM275.4 193.4h0.95v0.95h-0.95zM279.3 193.3h0.95v0.95h-0.95zM278.4 194.2h0.95v0.95h-0.95zM277.1 195h0.95v0.95h-0.95zM279.3 193.5h0.95v0.95h-0.95zM278.1 195.5h0.95v0.95h-0.95zM280.3 195.2h0.95v0.95h-0.95zM281.1 197.9h0.95v0.95h-0.95zM280.6 197.9h0.95v0.95h-0.95zM283.4 198.9h0.95v0.95h-0.95zM282.3 197.9h0.95v0.95h-0.95zM282.4 201.1h0.95v0.95h-0.95zM284.3 200.4h0.95v0.95h-0.95zM283 204.6h0.95v0.95h-0.95zM287.4 200.4h0.95v0.95h-0.95zM284.6 206.1h0.95v0.95h-0.95zM286.4 204.8h0.95v0.95h-0.95zM287.2 209.8h0.95v0.95h-0.95zM286.5 209.4h0.95v0.95h-0.95zM287.8 210.3h0.95v0.95h-0.95zM286.9 210.6h0.95v0.95h-0.95zM290 215.9h0.95v0.95h-0.95zM288.7 212.6h0.95v0.95h-0.95zM288.4 217.3h0.95v0.95h-0.95zM286.7 217.8h0.95v0.95h-0.95zM289.8 219.6h0.95v0.95h-0.95zM289 220.6h0.95v0.95h-0.95zM292 225.3h0.95v0.95h-0.95zM290.8 224.6h0.95v0.95h-0.95zM288.5 228.7h0.95v0.95h-0.95zM289.2 225.3h0.95v0.95h-0.95zM290.9 230.2h0.95v0.95h-0.95zM290 231.3h0.95v0.95h-0.95zM289.6 234.1h0.95v0.95h-0.95zM291.4 233.3h0.95v0.95h-0.95zM289.2 236.6h0.95v0.95h-0.95zM290.3 236.1h0.95v0.95h-0.95zM289.2 238.6h0.95v0.95h-0.95zM289.1 240.1h0.95v0.95h-0.95zM287.6 241.9h0.95v0.95h-0.95zM286.9 241.3h0.95v0.95h-0.95zM288 245.2h0.95v0.95h-0.95zM286.7 244.4h0.95v0.95h-0.95zM286.1 247.1h0.95v0.95h-0.95zM287.5 247.3h0.95v0.95h-0.95zM286.1 247.1h0.95v0.95h-0.95zM285.7 247.2h0.95v0.95h-0.95zM284.5 250.5h0.95v0.95h-0.95zM286.6 249.9h0.95v0.95h-0.95zM283.3 252.5h0.95v0.95h-0.95zM281.8 254.6h0.95v0.95h-0.95zM281.1 255h0.95v0.95h-0.95zM284.1 254.9h0.95v0.95h-0.95zM281.4 256h0.95v0.95h-0.95zM281.1 256.3h0.95v0.95h-0.95zM279.1 255.3h0.95v0.95h-0.95zM280.3 255.8h0.95v0.95h-0.95zM278.8 256.3h0.95v0.95h-0.95zM278.3 256.2h0.95v0.95h-0.95zM275.8 260.7h0.95v0.95h-0.95zM274.7 256.8h0.95v0.95h-0.95zM272 258.6h0.95v0.95h-0.95zM275.7 258.3h0.95v0.95h-0.95zM272.9 259.1h0.95v0.95h-0.95zM271.1 261.7h0.95v0.95h-0.95zM271.2 257.3h0.95v0.95h-0.95zM268.8 259.9h0.95v0.95h-0.95zM268.9 259h0.95v0.95h-0.95zM268.5 259.9h0.95v0.95h-0.95zM266 260h0.95v0.95h-0.95zM265.4 259.8h0.95v0.95h-0.95zM265.8 258.4h0.95v0.95h-0.95zM264.3 258.2h0.95v0.95h-0.95zM260.5 257.6h0.95v0.95h-0.95zM261.5 255h0.95v0.95h-0.95zM262.5 255.2h0.95v0.95h-0.95zM262.1 256.4h0.95v0.95h-0.95zM258.3 254.1h0.95v0.95h-0.95zM260 255.7h0.95v0.95h-0.95zM259.3 252.3h0.95v0.95h-0.95zM258.6 253.9h0.95v0.95h-0.95zM256.7 251.6h0.95v0.95h-0.95zM257.5 249.6h0.95v0.95h-0.95zM259.3 251.4h0.95v0.95h-0.95zM256.7 251.5h0.95v0.95h-0.95zM255.3 250.3h0.95v0.95h-0.95zM256 248.6h0.95v0.95h-0.95zM255.1 246.6h0.95v0.95h-0.95zM256.2 246.5h0.95v0.95h-0.95zM254.2 245.4h0.95v0.95h-0.95zM255.8 244.5h0.95v0.95h-0.95zM255.8 241.7h0.95v0.95h-0.95zM256 242.3h0.95v0.95h-0.95zM255.8 239.9h0.95v0.95h-0.95zM253.8 240.7h0.95v0.95h-0.95zM254.9 240h0.95v0.95h-0.95zM253.1 237.4h0.95v0.95h-0.95zM254.2 237.6h0.95v0.95h-0.95zM254.2 235.7h0.95v0.95h-0.95zM254.6 233.9h0.95v0.95h-0.95zM253.3 234.7h0.95v0.95h-0.95zM252.3 229.2h0.95v0.95h-0.95zM253.2 232.7h0.95v0.95h-0.95zM253.4 230.4h0.95v0.95h-0.95zM253 231h0.95v0.95h-0.95zM253 229.4h0.95v0.95h-0.95zM253 228.6h0.95v0.95h-0.95zM252.4 225.9h0.95v0.95h-0.95zM253.5 225.7h0.95v0.95h-0.95zM255 223.5h0.95v0.95h-0.95zM254.5 223.8h0.95v0.95h-0.95zM254.6 220.2h0.95v0.95h-0.95zM252.9 222.4h0.95v0.95h-0.95zM252.6 219.6h0.95v0.95h-0.95zM254.2 219.4h0.95v0.95h-0.95zM254.2 217.5h0.95v0.95h-0.95zM253.4 217.4h0.95v0.95h-0.95zM253.3 214h0.95v0.95h-0.95zM252 214.4h0.95v0.95h-0.95zM252.1 212.2h0.95v0.95h-0.95zM254.3 210.8h0.95v0.95h-0.95zM254.4 210.1h0.95v0.95h-0.95zM253.9 208.7h0.95v0.95h-0.95zM254.3 208.1h0.95v0.95h-0.95zM255.5 209.9h0.95v0.95h-0.95zM252.2 205.9h0.95v0.95h-0.95zM255 204.8h0.95v0.95h-0.95zM254.8 206.1h0.95v0.95h-0.95zM254.6 205.2h0.95v0.95h-0.95zM255.4 201.2h0.95v0.95h-0.95zM251.5 203.1h0.95v0.95h-0.95zM255.7 197.9h0.95v0.95h-0.95zM253.7 199.2h0.95v0.95h-0.95zM254 198.5h0.95v0.95h-0.95zM255.1 197.7h0.95v0.95h-0.95zM256 195h0.95v0.95h-0.95zM254 200.2h0.95v0.95h-0.95z" fill="#8da0cb" stroke="none" stroke-width="1"/>
<path d="M249.1 209.7h0.9v0.9h-0.9zM247.5 222.8h0.9v0.9h-0.9zM253.4 204.8h0.9v0.9h-0.9zM241.2 207.6h0.9v0.9h-0.9zM252.7 196.5h0.9v0.9h-0.9zM247.4 209.3h0.9v0.9h-0.9zM239.1 205.6h0.9v0.9h-0.9zM242.6 199.9h0.9v0.9h-0.9zM251.3 212.2h0.9v0.9h-0.9zM254.6 203.3h0.9v0.9h-0.9zM251.8 197.8h0.9v0.9h-0.9zM243.1 209.2h0.9v0.9h-0.9zM247.8 201.5h0.9v0.9h-0.9zM241.4 205.4h0.9v0.9h-0.9zM245 212.1h0.9v0.9h-0.9zM241.2 203.5h0.9v0.9h-0.9zM249.9 212.1h0.9v0.9h-0.9zM249.2 215.6h0.9v0.9h-0.9zM249.4 206h0.9v0.9h-0.9zM251.5 208.3h0.9v0.9h-0.9zM243 201.9h0.9v0.9h-0.9zM248.5 208.2h0.9v0.9h-0.9zM244.2 203h0.9v0.9h-0.9zM246.3 208.2h0.9v0.9h-0.9zM247.7 209.5h0.9v0.9h-0.9zM251.2 202h0.9v0.9h-0.9zM248.3 200.4h0.9v0.9h-0.9zM250 210.6h0.9v0.9h-0.9zM245.2 197.8h0.9v0.9h-0.9zM251.8 205.1h0.9v0.9h-0.9zM249.4 208.8h0.9v0.9h-0.9zM251.2 211.1h0.9v0.9h-0.9zM247.6 195.6h0.9v0.9h-0.9zM247.4 205h0.9v0.9h-0.9zM247.8 208.5h0.9v0.9h-0.9zM248.5 213h0.9v0.9h-0.9zM246.8 206.5h0.9v0.9h-0.9zM248 217h0.9v0.9h-0.9zM245.4 201.6h0.9v0.9h-0.9zM247.9 210.3h0.9v0.9h-0.9zM249.6 205.7h0.9v0.9h-0.9zM243.2 196.3h0.9v0.9h-0.9zM248.6 205.4h0.9v0.9h-0.9zM251.4 211.4h0.9v0.9h-0.9zM245.6 200.4h0.9v0.9h-0.9zM247.9 213.9h0.9v0.9h-0.9zM253.9 203.7h0.9v0.9h-0.9zM244.1 211.2h0.9v0.9h-0.9zM254.3 201.1h0.9v0.9h-0.9zM252.8 205.5h0.9v0.9h-0.9zM248.1 203.5h0.9v0.9h-0.9zM252.6 209.6h0.9v0.9h-0.9zM253.1 205.2h0.9v0.9h-0.9zM245.8 217.2h0.9v0.9h-0.9zM244.5 214h0.9v0.9h-0.9zM250.1 206.8h0.9v0.9h-0.9zM253.3 208.3h0.9v0.9h-0.9zM250 216.4h0.9v0.9h-0.9zM241.3 209.8h0.9v0.9h-0.9zM245.2 206.9h0.9v0.9h-0.9zM248.8 207.9h0.9v0.9h-0.9zM238.9 210h0.9v0.9h-0.9zM253.5 209.7h0.9v0.9h-0.9zM250.9 204.1h0.9v0.9h-0.9zM252.4 207.9h0.9v0.9h-0.9zM246.4 192h0.9v0.9h-0.9zM250.3 203.5h0.9v0.9h-0.9zM250 204.7h0.9v0.9h-0.9zM252.1 213.3h0.9v0.9h-0.9zM251.8 211.3h0.9v0.9h-0.9zM250.7 208.3h0.9v0.9h-0.9zM243.9 207.2h0.9v0.9h-0.9zM249.8 206.2h0.9v0.9h-0.9zM248.5 208.1h0.9v0.9h-0.9zM247 205.6h0.9v0.9h-0.9zM243.8 218.1h0.9v0.9h-0.9zM245.6 200.6h0.9v0.9h-0.9zM247.2 204.5h0.9v0.9h-0.9zM244.8 194.4h0.9v0.9h-0.9zM247.9 209.3h0.9v0.9h-0.9zM244.6 198.5h0.9v0.9h-0.9zM251 209.4h0.9v0.9h-0.9zM246.5 206.5h0.9v0.9h-0.9zM235.9 205.9h0.9v0.9h-0.9zM254.2 207.4h0.9v0.9h-0.9zM250.4 209.4h0.9v0.9h-0.9zM240.3 200.1h0.9v0.9h-0.9zM243.9 207.8h0.9v0.9h-0.9zM246.8 197.2h0.9v0.9h-0.9zM253.5 205.6h0.9v0.9h-0.9zM254 216.6h0.9v0.9h-0.9zM242.2 200.2h0.9v0.9h-0.9zM254.3 213.6h0.9v0.9h-0.9zM251.3 208.3h0.9v0.9h-0.9zM252.6 209.8h0.9v0.9h-0.9zM243.9 210.3h0.9v0.9h-0.9zM254 204.5h0.9v0.9h-0.9zM245.5 204.1h0.9v0.9h-0.9zM246.9 209.2h0.9v0.9h-0.9zM253 206.7h0.9v0.9h-0.9zM248.2 197.7h0.9v0.9h-0.9zM243.8 215.7h0.9v0.9h-0.9zM240.5 212.2h0.9v0.9h-0.9zM238.5 223.5h0.9v0.9h-0.9zM242.6 215.2h0.9v0.9h-0.9zM242 216.4h0.9v0.9h-0.9zM239.1 215.4h0.9v0.9h-0.9zM240.7 222.1h0.9v0.9h-0.9zM246.2 213.6h0.9v0.9h-0.9zM241 212.7h0.9v0.9h-0.9zM247 211.5h0.9v0.9h-0.9zM241.3 209.7h0.9v0.9h-0.9zM241.1 216h0.9v0.9h-0.9zM235.7 211.7h0.9v0.9h-0.9zM241.5 216.2h0.9v0.9h-0.9zM239.2 210.3h0.9v0.9h-0.9zM239.4 214.4h0.9v0.9h-0.9zM236.8 217.9h0.9v0.9h-0.9zM238.2 217h0.9v0.9h-0.9zM244.1 209.8h0.9v0.9h-0.9zM241.5 218.5h0.9v0.9h-0.9zM246.3 219.2h0.9v0.9h-0.9zM245.6 218.8h0.9v0.9h-0.9z" fill="#8da0cb" stroke="none" stroke-width="1"/>
<path d="M226.7 229.4h0.9v0.9h-0.9zM234.1 222.3h0.9v0.9h-0.9zM236.5 212.6h0.9v0.9h-0.9zM236.3 219.4h0.9v0.9h-0.9zM231.1 229.1h0.9v0.9h-0.9zM225.9 222.5h0.9v0.9h-0.9zM223.8 212.3h0.9v0.9h-0.9zM236.9 216.4h0.9v0.9h-0.9zM229.5 214.2h0.9v0.9h-0.9zM236.6 222.7h0.9v0.9h-0.9zM235.5 217.5h0.9v0.9h-0.9zM230 217h0.9v0.9h-0.9zM231.8 227.1h0.9v0.9h-0.9zM231.6 224.4h0.9v0.9h-0.9zM227.9 232.5h0.9v0.9h-0.9zM223.8 215.2h0.9v0.9h-0.9zM232.9 233h0.9v0.9h-0.9zM235.4 217h0.9v0.9h-0.9zM236.8 221.6h0.9v0.9h-0.9zM231.5 225.8h0.9v0.9h-0.9zM232.2 230.9h0.9v0.9h-0.9zM236.1 218.5h0.9v0.9h-0.9zM236 218.5h0.9v0.9h-0.9zM233.1 215h0.9v0.9h-0.9zM232.5 218.2h0.9v0.9h-0.9zM237.5 226.2h0.9v0.9h-0.9zM229 232.7h0.9v0.9h-0.9zM225.2 228h0.9v0.9h-0.9zM232.6 211.9h0.9v0.9h-0.9zM230 214.1h0.9v0.9h-0.9zM219.4 205.5h0.9v0.9h-0.9zM214.3 200.8h0.9v0.9h-0.9zM224.1 213.8h0.9v0.9h-0.9zM212.6 202.4h0.9v0.9h-0.9zM217.4 208.4h0.9v0.9h-0.9zM217.1 206.7h0.9v0.9h-0.9zM219 211.1h0.9v0.9h-0.9zM212.3 210.9h0.9v0.9h-0.9zM219.3 208.2h0.9v0.9h-0.9zM211.5 204.4h0.9v0.9h-0.9zM216.5 208.7h0.9v0.9h-0.9zM220.2 208.9h0.9v0.9h-0.9zM212.4 211.7h0.9v0.9h-0.9zM217.8 210.1h0.9v0.9h-0.9zM217.5 202.1h0.9v0.9h-0.9zM227.9 208.8h0.9v0.9h-0.9zM220.5 203.3h0.9v0.9h-0.9zM216.6 211h0.9v0.9h-0.9zM219.3 214.1h0.9v0.9h-0.9zM222.3 200.3h0.9v0.9h-0.9zM211.4 211.2h0.9v0.9h-0.9zM219.9 204.3h0.9v0.9h-0.9zM216.3 202.9h0.9v0.9h-0.9zM224.7 204.8h0.9v0.9h-0.9zM212 210h0.9v0.9h-0.9zM217.2 207.3h0.9v0.9h-0.9zM216 205.4h0.9v0.9h-0.9zM210 208.2h0.9v0.9h-0.9zM214.8 203.7h0.9v0.9h-0.9zM218.8 211.8h0.9v0.9h-0.9z" fill="#66c2a5" stroke="none" stroke-width="1"/>
<path d="M216.8 177.4h0.95v0.95h-0.95zM227 183h0.95v0.95h-0.95zM221.5 179.6h0.95v0.95h-0.95zM226.5 182.6h0.95v0.95h-0.95zM222.6 177.2h0.95v0.95h-0.95zM223 183.6h0.95v0.95h-0.95zM229.1 175.9h0.95v0.95h-0.95zM224.5 179.1h0.95v0.95h-0.95zM221.6 177.5h0.95v0.95h-0.95zM228.2 181.8h0.95v0.95h-0.95zM222.4 174.9h0.95v0.95h-0.95zM224.5 171h0.95v0.95h-0.95zM226.1 178.6h0.95v0.95h-0.95zM219.9 176.9h0.95v0.95h-0.95zM222.5 176.8h0.95v0.95h-0.95zM221.6 184.6h0.95v0.95h-0.95zM221.3 181.7h0.95v0.95h-0.95zM225.7 185h0.95v0.95h-0.95zM224.7 178.1h0.95v0.95h-0.95zM225.2 169h0.95v0.95h-0.95zM234.1 177h0.95v0.95h-0.95zM223.8 172.7h0.95v0.95h-0.95zM224.4 185.8h0.95v0.95h-0.95zM222.1 180.2h0.95v0.95h-0.95zM228.9 182.6h0.95v0.95h-0.95zM223.4 169.7h0.95v0.95h-0.95zM226.5 180.8h0.95v0.95h-0.95zM223.7 176h0.95v0.95h-0.95zM231.6 170.5h0.95v0.95h-0.95zM223 175.2h0.95v0.95h-0.95zM219 174.8h0.95v0.95h-0.95zM221.9 184h0.95v0.95h-0.95zM218.3 171.5h0.95v0.95h-0.95zM225.9 170.7h0.95v0.95h-0.95zM217.4 175.1h0.95v0.95h-0.95zM220.4 173.4h0.95v0.95h-0.95zM224.4 180.2h0.95v0.95h-0.95zM222.5 176.8h0.95v0.95h-0.95zM227.7 177.4h0.95v0.95h-0.95zM227.7 175.3h0.95v0.95h-0.95zM226.8 184.2h0.95v0.95h-0.95zM219.7 192.3h0.95v0.95h-0.95zM223.7 176.5h0.95v0.95h-0.95zM224.3 180.3h0.95v0.95h-0.95zM220.4 178.3h0.95v0.95h-0.95zM222.7 184.9h0.95v0.95h-0.95zM218.4 181.2h0.95v0.95h-0.95zM223.8 174.5h0.95v0.95h-0.95zM225.5 177h0.95v0.95h-0.95zM225.1 179.2h0.95v0.95h-0.95zM229.5 176.2h0.95v0.95h-0.95zM231.3 165.3h0.95v0.95h-0.95zM231.9 183.9h0.95v0.95h-0.95zM230.9 179h0.95v0.95h-0.95zM226 173.3h0.95v0.95h-0.95zM230 172.6h0.95v0.95h-0.95zM221.9 178.1h0.95v0.95h-0.95zM225.8 179.7h0.95v0.95h-0.95zM220.5 176.5h0.95v0.95h-0.95zM226.8 183.7h0.95v0.95h-0.95zM227.9 180.1h0.95v0.95h-0.95zM224 175.5h0.95v0.95h-0.95zM223 177.6h0.95v0.95h-0.95zM227 175.7h0.95v0.95h-0.95zM232.8 173.4h0.95v0.95h-0.95zM228 177.1h0.95v0.95h-0.95zM224.4 176.3h0.95v0.95h-0.95zM230.8 176.7h0.95v0.95h-0.95zM227 178.7h0.95v0.95h-0.95zM227.8 180.9h0.95v0.95h-0.95zM231.2 174.6h0.95v0.95h-0.95zM221.8 186.1h0.95v0.95h-0.95zM229.8 178.4h0.95v0.95h-0.95zM223.9 179.3h0.95v0.95h-0.95zM229.9 174.5h0.95v0.95h-0.95zM230.5 177.8h0.95v0.95h-0.95zM223.6 176.2h0.95v0.95h-0.95zM217 179.6h0.95v0.95h-0.95zM220 175.5h0.95v0.95h-0.95zM221.6 179.2h0.95v0.95h-0.95zM227.7 178.3h0.95v0.95h-0.95zM225.7 180h0.95v0.95h-0.95zM231 180.8h0.95v0.95h-0.95zM230.9 177.8h0.95v0.95h-0.95zM226.3 175h0.95v0.95h-0.95zM227.2 174.1h0.95v0.95h-0.95zM226.7 175.1h0.95v0.95h-0.95zM223.6 183.9h0.95v0.95h-0.95zM225.5 181.8h0.95v0.95h-0.95zM224 169.3h0.95v0.95h-0.95zM230.5 177.2h0.95v0.95h-0.95zM222.5 182.6h0.95v0.95h-0.95zM220.7 174.6h0.95v0.95h-0.95zM229.3 174.8h0.95v0.95h-0.95zM229.2 176.7h0.95v0.95h-0.95zM224.2 178.4h0.95v0.95h-0.95zM223.1 183.2h0.95v0.95h-0.95zM229.1 178.4h0.95v0.95h-0.95zM227.3 180.7h0.95v0.95h-0.95zM231.3 170.6h0.95v0.95h-0.95zM228.8 182.4h0.95v0.95h-0.95zM223.8 178.2h0.95v0.95h-0.95zM223.6 183.9h0.95v0.95h-0.95zM220.6 181h0.95v0.95h-0.95zM229.8 180.8h0.95v0.95h-0.95zM223.1 175.9h0.95v0.95h-0.95zM216.9 173.3h0.95v0.95h-0.95zM229.1 173.6h0.95v0.95h-0.95zM218.8 176.9h0.95v0.95h-0.95zM219.3 180.3h0.95v0.95h-0.95zM221.7 182.6h0.95v0.95h-0.95zM224.5 171.4h0.95v0.95h-0.95zM222 175.1h0.95v0.95h-0.95zM221.8 183.9h0.95v0.95h-0.95zM221.2 179.8h0.95v0.95h-0.95zM222.7 180.9h0.95v0.95h-0.95zM219.5 170.7h0.95v0.95h-0.95zM226.9 184.8h0.95v0.95h-0.95zM219.7 176.6h0.95v0.95h-0.95zM223 173.7h0.95v0.95h-0.95zM228.6 178.3h0.95v0.95h-0.95zM219.7 177.1h0.95v0.95h-0.95zM230 174.8h0.95v0.95h-0.95zM223 174.2h0.95v0.95h-0.95zM225.6 175.5h0.95v0.95h-0.95zM228.3 174.2h0.95v0.95h-0.95zM219.4 180.2h0.95v0.95h-0.95zM212.9 173.6h0.95v0.95h-0.95zM226 179.3h0.95v0.95h-0.95zM222.8 176h0.95v0.95h-0.95zM226.9 195.7h0.95v0.95h-0.95zM221.9 177.3h0.95v0.95h-0.95zM223.2 180.7h0.95v0.95h-0.95zM225 180.7h0.95v0.95h-0.95zM231.1 176.8h0.95v0.95h-0.95zM223.9 179.9h0.95v0.95h-0.95zM232.9 176.4h0.95v0.95h-0.95zM231.4 183.7h0.95v0.95h-0.95zM214.6 173.4h0.95v0.95h-0.95zM221.2 180h0.95v0.95h-0.95zM230 178.4h0.95v0.95h-0.95zM225.6 188.3h0.95v0.95h-0.95zM226.3 188.2h0.95v0.95h-0.95zM221.6 185.9h0.95v0.95h-0.95zM223 166.7h0.95v0.95h-0.95zM221.8 175.9h0.95v0.95h-0.95zM224.8 181.7h0.95v0.95h-0.95zM227.6 180.6h0.95v0.95h-0.95zM222.1 186.5h0.95v0.95h-0.95zM229.5 178.3h0.95v0.95h-0.95zM222.8 177.9h0.95v0.95h-0.95zM224.1 174.8h0.95v0.95h-0.95zM224.9 175h0.95v0.95h-0.95zM227.4 175h0.95v0.95h-0.95zM226.8 179.6h0.95v0.95h-0.95zM225.6 180.6h0.95v0.95h-0.95zM221.1 190.3h0.95v0.95h-0.95zM222.3 181.6h0.95v0.95h-0.95zM225.1 176.1h0.95v0.95h-0.95zM231.6 183.3h0.95v0.95h-0.95zM223.9 180.8h0.95v0.95h-0.95zM227.6 185.6h0.95v0.95h-0.95zM228.8 177.3h0.95v0.95h-0.95zM224 172.6h0.95v0.95h-0.95zM226 182.2h0.95v0.95h-0.95zM223.5 181.2h0.95v0.95h-0.95zM225.5 175.9h0.95v0.95h-0.95zM220.3 183.4h0.95v0.95h-0.95zM234.6 180.7h0.95v0.95h-0.95zM220.9 173.2h0.95v0.95h-0.95zM225.9 181.2h0.95v0.95h-0.95zM230.7 166.7h0.95v0.95h-0.95zM232 178.9h0.95v0.95h-0.95zM225.5 179.9h0.95v0.95h-0.95zM223.6 176.7h0.95v0.95h-0.95zM229 169.9h0.95v0.95h-0.95zM224.5 180.7h0.95v0.95h-0.95zM218.7 177.3h0.95v0.95h-0.95zM230.8 179.9h0.95v0.95h-0.95zM227.7 181.4h0.95v0.95h-0.95zM225.8 179.8h0.95v0.95h-0.95zM221.9 177.1h0.95v0.95h-0.95zM232 172.3h0.95v0.95h-0.95zM224.3 172.1h0.95v0.95h-0.95zM223 174.4h0.95v0.95h-0.95zM220.3 179.2h0.95v0.95h-0.95zM221.4 180.6h0.95v0.95h-0.95zM231.9 166h0.95v0.95h-0.95zM224.4 168.2h0.95v0.95h-0.95zM224.5 179.9h0.95v0.95h-0.95zM225.8 183.8h0.95v0.95h-0.95zM225.6 169.9h0.95v0.95h-0.95zM230.7 173.6h0.95v0.95h-0.95zM224.6 179.6h0.95v0.95h-0.95zM221.6 178.5h0.95v0.95h-0.95zM230.7 170.1h0.95v0.95h-0.95zM218.7 176h0.95v0.95h-0.95zM224.4 172h0.95v0.95h-0.95zM216.2 182.4h0.95v0.95h-0.95zM226.5 171.8h0.95v0.95h-0.95zM227.2 177.8h0.95v0.95h-0.95zM225.6 171.8h0.95v0.95h-0.95zM224.2 180.4h0.95v0.95h-0.95zM218.3 173.1h0.95v0.95h-0.95zM228.7 187.6h0.95v0.95h-0.95zM227.5 177.8h0.95v0.95h-0.95zM220.9 176.2h0.95v0.95h-0.95zM224 180.2h0.95v0.95h-0.95zM224 189.9h0.95v0.95h-0.95zM230 167.6h0.95v0.95h-0.95zM220.6 178.1h0.95v0.95h-0.95zM228.7 180h0.95v0.95h-0.95zM214.5 170.3h0.95v0.95h-0.95zM230.1 180.9h0.95v0.95h-0.95zM234.7 181.9h0.95v0.95h-0.95zM226.8 185.4h0.95v0.95h-0.95zM223.3 175.5h0.95v0.95h-0.95zM221.2 179.3h0.95v0.95h-0.95zM226.7 182.6h0.95v0.95h-0.95zM230.5 181.1h0.95v0.95h-0.95zM229.7 176.9h0.95v0.95h-0.95zM221.3 181.6h0.95v0.95h-0.95zM228.9 184.5h0.95v0.95h-0.95zM224.4 175.8h0.95v0.95h-0.95zM223.6 179.8h0.95v0.95h-0.95zM224.8 177.2h0.95v0.95h-0.95zM226 176.7h0.95v0.95h-0.95zM226.3 175.2h0.95v0.95h-0.95zM219.1 176.6h0.95v0.95h-0.95zM232.2 174.2h0.95v0.95h-0.95zM209.3 191.9h0.95v0.95h-0.95zM208 194.8h0.95v0.95h-0.95zM207 193.6h0.95v0.95h-0.95zM219.5 185h0.95v0.95h-0.95zM216.8 187.8h0.95v0.95h-0.95zM207.5 189.2h0.95v0.95h-0.95zM217.1 189.2h0.95v0.95h-0.95zM210.5 189.7h0.95v0.95h-0.95zM216.3 188.8h0.95v0.95h-0.95zM218.7 189.1h0.95v0.95h-0.95zM216.5 187.5h0.95v0.95h-0.95zM222.8 185.4h0.95v0.95h-0.95zM211.3 192.1h0.95v0.95h-0.95zM223.7 187.1h0.95v0.95h-0.95zM215.1 189.7h0.95v0.95h-0.95zM214.5 185.2h0.95v0.95h-0.95zM205.5 194.3h0.95v0.95h-0.95zM219 186.6h0.95v0.95h-0.95z" fill="#a6d854" stroke="none" stroke-width="1"/>
<path d="M236.2 186.9h1v1h-1zM235 190.3h1v1h-1zM234.2 191.7h1v1h-1zM237.2 183.8h1v1h-1zM232.6 190.6h1v1h-1zM232.9 190.5h1v1h-1zM232.7 187.2h1v1h-1zM237.8 183.6h1v1h-1zM234.7 186.4h1v1h-1zM235 191.8h1v1h-1zM236.1 184.1h1v1h-1zM237.6 186.4h1v1h-1zM235 190.4h1v1h-1zM233.5 189.9h1v1h-1zM235.1 185.2h1v1h-1zM233.5 184.1h1v1h-1zM238.3 187.9h1v1h-1zM237.6 184.7h1v1h-1zM237.2 184.5h1v1h-1zM235.4 187.5h1v1h-1zM232.6 188.3h1v1h-1zM234.6 185.3h1v1h-1zM232.1 184.2h1v1h-1zM238.9 187.9h1v1h-1zM233.3 189.2h1v1h-1zM231.7 184.6h1v1h-1zM235.6 191.5h1v1h-1zM235.5 187.9h1v1h-1zM240.1 183.6h1v1h-1zM244.3 184.7h1v1h-1zM234.3 184.1h1v1h-1zM230.6 186.9h1v1h-1zM242.3 185.1h1v1h-1zM232.5 188.2h1v1h-1zM231.2 186.9h1v1h-1zM237.1 182h1v1h-1zM233.5 186.8h1v1h-1zM232.9 187.2h1v1h-1zM228.7 186.4h1v1h-1zM232.8 184.9h1v1h-1zM238.5 192.5h1v1h-1zM237.1 185.3h1v1h-1zM239.1 188.8h1v1h-1zM231.9 189h1v1h-1zM232.6 188.9h1v1h-1zM237.4 190.4h1v1h-1zM231.1 187.2h1v1h-1zM234.5 184.4h1v1h-1zM235.8 189.2h1v1h-1zM230.1 186.1h1v1h-1zM231 184.3h1v1h-1zM231.1 191h1v1h-1zM232.4 186.5h1v1h-1zM237.7 190.1h1v1h-1zM239 182.3h1v1h-1zM236.9 183.1h1v1h-1zM232.5 186.5h1v1h-1zM232.7 192.5h1v1h-1zM234 190.5h1v1h-1zM233.9 187.4h1v1h-1zM236.1 188.6h1v1h-1zM236.1 183.1h1v1h-1zM236.1 188.3h1v1h-1zM236.4 187.4h1v1h-1zM235.8 184.2h1v1h-1zM238.1 184.4h1v1h-1zM239 190.1h1v1h-1zM234.3 186.8h1v1h-1zM237 186.7h1v1h-1zM230.7 188.2h1v1h-1zM230.6 186.3h1v1h-1zM240.2 189.5h1v1h-1zM233.1 187.3h1v1h-1zM232.4 187.5h1v1h-1zM229.9 189.2h1v1h-1zM234.5 186h1v1h-1zM232.5 194.1h1v1h-1zM233.1 186.3h1v1h-1zM232.6 186.3h1v1h-1zM238.7 189.2h1v1h-1zM235.8 188.4h1v1h-1zM230.9 181.4h1v1h-1zM239.3 189.3h1v1h-1zM235.2 188.2h1v1h-1zM235.1 187.6h1v1h-1zM233.7 181.9h1v1h-1zM236.3 187.6h1v1h-1zM237.6 188.3h1v1h-1zM233.6 189h1v1h-1zM235.1 186.4h1v1h-1zM233.3 186.4h1v1h-1zM233.5 186.4h1v1h-1zM237.6 194.9h1v1h-1zM234.1 190.3h1v1h-1zM228.2 179.3h1v1h-1zM233 187.1h1v1h-1zM232.1 184.1h1v1h-1zM231.8 186.2h1v1h-1zM235 186.6h1v1h-1zM230.7 186.6h1v1h-1zM239.3 185.3h1v1h-1zM234.7 190h1v1h-1zM231.9 186.1h1v1h-1zM243.8 190.6h1v1h-1zM232.8 187.9h1v1h-1zM234.8 187.9h1v1h-1zM236 186.7h1v1h-1zM227.4 185.1h1v1h-1zM235 184h1v1h-1zM233.5 191.3h1v1h-1zM235.3 185.8h1v1h-1zM234.9 190.2h1v1h-1zM229 184.3h1v1h-1zM232.4 186.4h1v1h-1zM234.2 186h1v1h-1zM234.8 187.7h1v1h-1zM230.8 185.9h1v1h-1zM230.5 188.2h1v1h-1zM235.3 189.2h1v1h-1zM231.7 186.2h1v1h-1zM227.4 187.5h1v1h-1zM229.3 188.4h1v1h-1zM237.9 188.6h1v1h-1zM236.5 188.1h1v1h-1zM235.7 189.9h1v1h-1zM238.5 192.6h1v1h-1zM233.6 189.6h1v1h-1zM237.3 188.6h1v1h-1zM235.4 184.3h1v1h-1zM238 185.3h1v1h-1zM232.4 185.3h1v1h-1zM236.3 185.1h1v1h-1zM236 188.9h1v1h-1zM234.8 186.6h1v1h-1zM236.4 190.8h1v1h-1zM233 184.8h1v1h-1zM232.6 185.3h1v1h-1zM233.7 187.1h1v1h-1zM227.1 191.2h1v1h-1zM231.9 186.4h1v1h-1zM228.2 182.5h1v1h-1zM231.3 188.1h1v1h-1zM237.2 182.9h1v1h-1zM235.2 191.3h1v1h-1zM233.6 189.8h1v1h-1zM235.5 185.2h1v1h-1zM237.7 186h1v1h-1zM235.6 186.5h1v1h-1zM233.8 187.9h1v1h-1zM238.7 183.3h1v1h-1zM230.9 187.8h1v1h-1zM237.6 187h1v1h-1zM233.9 188.8h1v1h-1zM239.5 185.2h1v1h-1zM229.4 186.8h1v1h-1zM236.9 184.2h1v1h-1zM238.1 189.9h1v1h-1zM237 185.4h1v1h-1zM230.4 189.2h1v1h-1zM235.3 189.2h1v1h-1zM230.2 180h1v1h-1zM238.1 190h1v1h-1zM233.6 187.5h1v1h-1zM235.9 189.4h1v1h-1zM233.9 186.2h1v1h-1zM231.4 190.1h1v1h-1zM234.8 178.9h1v1h-1zM235.6 186.1h1v1h-1zM230.4 186.2h1v1h-1zM230.4 186.4h1v1h-1zM243.9 179.5h1v1h-1zM247.3 172.3h1v1h-1zM246.3 176.8h1v1h-1zM251.2 171.5h1v1h-1zM253.1 165.3h1v1h-1zM243.8 175.4h1v1h-1zM242 178.3h1v1h-1zM236.4 186.4h1v1h-1zM254.6 167.8h1v1h-1zM239.3 183.6h1v1h-1zM246.5 176.2h1v1h-1zM252.9 171.2h1v1h-1zM236.8 185.2h1v1h-1zM240 184.9h1v1h-1zM247.3 175.7h1v1h-1zM255 172.1h1v1h-1zM249.7 175.9h1v1h-1zM249.6 169.2h1v1h-1zM242.6 178.4h1v1h-1zM253.2 165.9h1v1h-1zM247.1 171.9h1v1h-1zM240 179.4h1v1h-1zM246.5 174.6h1v1h-1zM247.2 175h1v1h-1zM248.7 172.8h1v1h-1zM248.8 177.1h1v1h-1zM234.9 185.8h1v1h-1zM235.4 184h1v1h-1zM249.8 169.6h1v1h-1zM240.7 179.1h1v1h-1zM247.1 175.6h1v1h-1zM245.2 176.6h1v1h-1zM249.5 170.2h1v1h-1zM245.6 172.5h1v1h-1zM239.8 181.4h1v1h-1zM246.2 176.1h1v1h-1zM235.4 184.9h1v1h-1zM252.3 170.6h1v1h-1zM240.4 182h1v1h-1zM250.2 169.2h1v1h-1zM240.6 182h1v1h-1zM236.8 186.7h1v1h-1zM237.9 180h1v1h-1zM247.4 176.2h1v1h-1zM253.9 172.7h1v1h-1zM239.9 181.1h1v1h-1zM249.3 172.3h1v1h-1zM242.2 178.2h1v1h-1zM236.1 181.2h1v1h-1zM243.3 175.6h1v1h-1zM241.6 179.4h1v1h-1zM249.1 173.2h1v1h-1zM247.7 176.4h1v1h-1zM241.5 178h1v1h-1zM253.4 169.9h1v1h-1zM239.3 180.5h1v1h-1zM251.9 172.5h1v1h-1zM239 180.6h1v1h-1zM247.9 172.4h1v1h-1zM247.5 172.8h1v1h-1zM252.8 165.2h1v1h-1zM239.1 183.7h1v1h-1zM250.4 172.1h1v1h-1zM252 168.7h1v1h-1zM250.7 169.9h1v1h-1zM235.9 185.5h1v1h-1zM252.9 169.1h1v1h-1zM247 173.8h1v1h-1zM235.4 185.5h1v1h-1zM246 177.9h1v1h-1zM238.8 184h1v1h-1zM253.2 170.6h1v1h-1zM242.1 180.1h1v1h-1zM239.9 182.5h1v1h-1zM247 173.7h1v1h-1zM238 178h1v1h-1zM245.5 177.8h1v1h-1zM252.5 171.2h1v1h-1zM251.2 171.1h1v1h-1zM246.5 177.9h1v1h-1zM243.8 173.4h1v1h-1zM241.7 180.8h1v1h-1zM253.7 168.2h1v1h-1zM248.1 177.6h1v1h-1zM236.1 185.3h1v1h-1zM239.3 175h1v1h-1zM248.9 170.1h1v1h-1zM249.1 176.4h1v1h-1zM247.6 175.5h1v1h-1zM237.4 183h1v1h-1zM235.5 184.8h1v1h-1zM246.4 174.8h1v1h-1zM242.4 182h1v1h-1zM248.2 171.7h1v1h-1zM239 181.6h1v1h-1zM239.1 180.2h1v1h-1zM243.5 180.5h1v1h-1zM246.5 172.4h1v1h-1zM245.3 177.7h1v1h-1zM246.9 172.4h1v1h-1zM242.9 181.8h1v1h-1zM243.6 178h1v1h-1zM247.9 171.5h1v1h-1zM239.5 178.8h1v1h-1zM249.4 175.6h1v1h-1zM242.9 178.3h1v1h-1zM239.5 182.6h1v1h-1zM239.6 179.9h1v1h-1zM233.7 183.8h1v1h-1zM247 177.1h1v1h-1zM244.8 197.1h1v1h-1zM239.3 198.1h1v1h-1zM248.7 212.3h1v1h-1zM238.8 205.5h1v1h-1zM242.4 194.1h1v1h-1zM240.5 207.2h1v1h-1zM237.7 213.6h1v1h-1zM240.9 200.8h1v1h-1zM248.9 196.4h1v1h-1zM239.1 203.4h1v1h-1zM241.3 200.2h1v1h-1zM244.5 213.5h1v1h-1z" fill="#e7298a" stroke="none" stroke-width="1"/>
<circle cx="256" cy="166.6" r="3.2" fill="none" stroke="#555" stroke-width="0.7"/>
<text x="192.2" y="234.16" font-size="10.5" text-anchor="middle">ILC2a</text>
<text x="268.4" y="236.16" font-size="10.5" text-anchor="middle">ILCp</text>
<text x="211.8" y="179.26" font-size="10.5" text-anchor="middle">ILC2b</text>
<text x="248.4" y="187.16" font-size="10.5" text-anchor="middle">ILC1</text>
<text x="261.6" y="171.29" font-size="10.3">NK cell</text>
<text x="153.42" y="278.2" font-size="10.1" transform="rotate(-90 153.42 278.2)">UAMP2</text>
<line x1="148.7" y1="238.7" x2="148.7" y2="165.7" stroke="#1c1c1c" stroke-width="1"/>
<path d="M148.7 163.5L147.38 166.8L150.02 166.8Z" fill="#1c1c1c" stroke="none" stroke-width="1"/>
<text x="158.2" y="288.32" font-size="10.1">UAMP1</text>
<line x1="197.4" y1="284.4" x2="292.3" y2="284.4" stroke="#1c1c1c" stroke-width="1"/>
<path d="M294.5 284.4L291.2 283.08L291.2 285.72Z" fill="#1c1c1c" stroke="none" stroke-width="1"/>
<text x="301.5" y="163.5" font-size="14" font-weight="bold">f</text>
<rect x="350.5" y="157.5" width="252.9" height="99.5" fill="none" stroke="#333" stroke-width="0.9"/>
<line x1="348" y1="174.2" x2="350.5" y2="174.2" stroke="#1c1c1c" stroke-width="0.8"/>
<text x="346.6" y="177.89" font-size="10.3" text-anchor="end">ILC1</text>
<line x1="348" y1="191.1" x2="350.5" y2="191.1" stroke="#1c1c1c" stroke-width="0.8"/>
<text x="346.6" y="194.79" font-size="10.3" text-anchor="end">ILC2a</text>
<line x1="348" y1="207.4" x2="350.5" y2="207.4" stroke="#1c1c1c" stroke-width="0.8"/>
<text x="346.6" y="211.09" font-size="10.3" text-anchor="end">ILC2b</text>
<line x1="348" y1="224.1" x2="350.5" y2="224.1" stroke="#1c1c1c" stroke-width="0.8"/>
<text x="346.6" y="227.79" font-size="10.3" text-anchor="end">ILCp</text>
<line x1="348" y1="240.7" x2="350.5" y2="240.7" stroke="#1c1c1c" stroke-width="0.8"/>
<text x="346.6" y="244.39" font-size="10.3" text-anchor="end">NK cell</text>
<line x1="362.2" y1="256.8" x2="362.2" y2="259.3" stroke="#1c1c1c" stroke-width="0.8"/>
<text x="366.6" y="260.3" font-size="10.4" text-anchor="end" font-style="italic" transform="rotate(-90 366.6 260.3)">IL7R</text>
<line x1="376.5" y1="256.8" x2="376.5" y2="259.3" stroke="#1c1c1c" stroke-width="0.8"/>
<text x="380.9" y="260.3" font-size="10.4" text-anchor="end" font-style="italic" transform="rotate(-90 380.9 260.3)">TBX21</text>
<line x1="390.5" y1="256.8" x2="390.5" y2="259.3" stroke="#1c1c1c" stroke-width="0.8"/>
<text x="394.9" y="260.3" font-size="10.4" text-anchor="end" font-style="italic" transform="rotate(-90 394.9 260.3)">IKZF3</text>
<line x1="405" y1="256.8" x2="405" y2="259.3" stroke="#1c1c1c" stroke-width="0.8"/>
<text x="409.4" y="260.3" font-size="10.4" text-anchor="end" font-style="italic" transform="rotate(-90 409.4 260.3)">EOMES</text>
<line x1="419.4" y1="256.8" x2="419.4" y2="259.3" stroke="#1c1c1c" stroke-width="0.8"/>
<text x="423.8" y="260.3" font-size="10.4" text-anchor="end" font-style="italic" transform="rotate(-90 423.8 260.3)">XCL1</text>
<line x1="433.7" y1="256.8" x2="433.7" y2="259.3" stroke="#1c1c1c" stroke-width="0.8"/>
<text x="438.1" y="260.3" font-size="10.4" text-anchor="end" font-style="italic" transform="rotate(-90 438.1 260.3)">GATA3</text>
<line x1="448" y1="256.8" x2="448" y2="259.3" stroke="#1c1c1c" stroke-width="0.8"/>
<text x="452.4" y="260.3" font-size="10.4" text-anchor="end" font-style="italic" transform="rotate(-90 452.4 260.3)">MAF</text>
<line x1="462.9" y1="256.8" x2="462.9" y2="259.3" stroke="#1c1c1c" stroke-width="0.8"/>
<text x="467.3" y="260.3" font-size="10.4" text-anchor="end" font-style="italic" transform="rotate(-90 467.3 260.3)">PTGDR2</text>
<line x1="477.2" y1="256.8" x2="477.2" y2="259.3" stroke="#1c1c1c" stroke-width="0.8"/>
<text x="481.6" y="260.3" font-size="10.4" text-anchor="end" font-style="italic" transform="rotate(-90 481.6 260.3)">HPGDS</text>
<line x1="491.2" y1="256.8" x2="491.2" y2="259.3" stroke="#1c1c1c" stroke-width="0.8"/>
<text x="495.6" y="260.3" font-size="10.4" text-anchor="end" font-style="italic" transform="rotate(-90 495.6 260.3)">RORC</text>
<line x1="506" y1="256.8" x2="506" y2="259.3" stroke="#1c1c1c" stroke-width="0.8"/>
<text x="510.4" y="260.3" font-size="10.4" text-anchor="end" font-style="italic" transform="rotate(-90 510.4 260.3)">IL23R</text>
<line x1="520" y1="256.8" x2="520" y2="259.3" stroke="#1c1c1c" stroke-width="0.8"/>
<text x="524.4" y="260.3" font-size="10.4" text-anchor="end" font-style="italic" transform="rotate(-90 524.4 260.3)">IL1R1</text>
<line x1="534.6" y1="256.8" x2="534.6" y2="259.3" stroke="#1c1c1c" stroke-width="0.8"/>
<text x="539" y="260.3" font-size="10.4" text-anchor="end" font-style="italic" transform="rotate(-90 539 260.3)">KIT</text>
<line x1="548.4" y1="256.8" x2="548.4" y2="259.3" stroke="#1c1c1c" stroke-width="0.8"/>
<text x="552.8" y="260.3" font-size="10.4" text-anchor="end" font-style="italic" transform="rotate(-90 552.8 260.3)">KLRD1</text>
<line x1="562.8" y1="256.8" x2="562.8" y2="259.3" stroke="#1c1c1c" stroke-width="0.8"/>
<text x="567.2" y="260.3" font-size="10.4" text-anchor="end" font-style="italic" transform="rotate(-90 567.2 260.3)">FGFBP2</text>
<line x1="577.3" y1="256.8" x2="577.3" y2="259.3" stroke="#1c1c1c" stroke-width="0.8"/>
<text x="581.7" y="260.3" font-size="10.4" text-anchor="end" font-style="italic" transform="rotate(-90 581.7 260.3)">GZMH</text>
<line x1="591.4" y1="256.8" x2="591.4" y2="259.3" stroke="#1c1c1c" stroke-width="0.8"/>
<text x="595.8" y="260.3" font-size="10.4" text-anchor="end" font-style="italic" transform="rotate(-90 595.8 260.3)">FCGR3A</text>
<circle cx="362.2" cy="174.2" r="6.3" fill="#9cc9e1" stroke="#7a7a7a" stroke-width="0.5"/>
<circle cx="376.5" cy="174.2" r="1.8" fill="#d9e8f5" stroke="#7a7a7a" stroke-width="0.5"/>
<circle cx="390.5" cy="174.2" r="5.2" fill="#4a98c9" stroke="#7a7a7a" stroke-width="0.5"/>
<circle cx="405" cy="174.2" r="2.9" fill="#08306b" stroke="#7a7a7a" stroke-width="0.5"/>
<circle cx="419.4" cy="174.2" r="3.4" fill="#b6d4e9" stroke="#7a7a7a" stroke-width="0.5"/>
<circle cx="433.7" cy="174.2" r="4.4" fill="#e7f1fa" stroke="#7a7a7a" stroke-width="0.5"/>
<circle cx="448" cy="174.2" r="2.4" fill="#e3eef9" stroke="#7a7a7a" stroke-width="0.5"/>
<circle cx="462.9" cy="174.2" r="0.6" fill="#6baed6" stroke="#7a7a7a" stroke-width="0.3"/>
<circle cx="477.2" cy="174.2" r="0.5" fill="#b6d4e9" stroke="#7a7a7a" stroke-width="0.3"/>
<circle cx="491.2" cy="174.2" r="0.6" fill="#94c4df" stroke="#7a7a7a" stroke-width="0.3"/>
<circle cx="506" cy="174.2" r="1.3" fill="#08306b" stroke="#7a7a7a" stroke-width="0.5"/>
<circle cx="534.6" cy="174.2" r="1.3" fill="#edf5fc" stroke="#7a7a7a" stroke-width="0.5"/>
<circle cx="548.4" cy="174.2" r="4.6" fill="#d0e1f2" stroke="#7a7a7a" stroke-width="0.5"/>
<circle cx="562.8" cy="174.2" r="0.6" fill="#b6d4e9" stroke="#7a7a7a" stroke-width="0.3"/>
<circle cx="577.3" cy="174.2" r="1.1" fill="#e3eef9" stroke="#7a7a7a" stroke-width="0.5"/>
<circle cx="591.4" cy="174.2" r="0.6" fill="#b6d4e9" stroke="#7a7a7a" stroke-width="0.3"/>
<circle cx="362.2" cy="191.1" r="6.5" fill="#08306b" stroke="#7a7a7a" stroke-width="0.5"/>
<circle cx="376.5" cy="191.1" r="0.4" fill="#b6d4e9" stroke="#7a7a7a" stroke-width="0.3"/>
<circle cx="390.5" cy="191.1" r="1.8" fill="#d9e8f5" stroke="#7a7a7a" stroke-width="0.5"/>
<circle cx="419.4" cy="191.1" r="0.6" fill="#94c4df" stroke="#7a7a7a" stroke-width="0.3"/>
<circle cx="433.7" cy="191.1" r="6.5" fill="#08306b" stroke="#7a7a7a" stroke-width="0.5"/>
<circle cx="448" cy="191.1" r="6.8" fill="#08306b" stroke="#7a7a7a" stroke-width="0.5"/>
<circle cx="462.9" cy="191.1" r="6" fill="#08306b" stroke="#7a7a7a" stroke-width="0.5"/>
<circle cx="477.2" cy="191.1" r="6" fill="#08306b" stroke="#7a7a7a" stroke-width="0.5"/>
<circle cx="491.2" cy="191.1" r="1.5" fill="#08306b" stroke="#7a7a7a" stroke-width="0.5"/>
<circle cx="506" cy="191.1" r="0.4" fill="#b6d4e9" stroke="#7a7a7a" stroke-width="0.3"/>
<circle cx="520" cy="191.1" r="0.4" fill="#b6d4e9" stroke="#7a7a7a" stroke-width="0.3"/>
<circle cx="534.6" cy="191.1" r="1.8" fill="#d9e8f5" stroke="#7a7a7a" stroke-width="0.5"/>
<circle cx="548.4" cy="191.1" r="0.4" fill="#b6d4e9" stroke="#7a7a7a" stroke-width="0.3"/>
<circle cx="362.2" cy="207.4" r="6.5" fill="#f3f8fe" stroke="#7a7a7a" stroke-width="0.5"/>
<circle cx="390.5" cy="207.4" r="1.4" fill="#d9e8f5" stroke="#7a7a7a" stroke-width="0.5"/>
<circle cx="433.7" cy="207.4" r="6" fill="#a6cde4" stroke="#7a7a7a" stroke-width="0.5"/>
<circle cx="448" cy="207.4" r="2" fill="#edf5fc" stroke="#7a7a7a" stroke-width="0.5"/>
<circle cx="462.9" cy="207.4" r="1" fill="#b6d4e9" stroke="#7a7a7a" stroke-width="0.3"/>
<circle cx="491.2" cy="207.4" r="0.5" fill="#b6d4e9" stroke="#7a7a7a" stroke-width="0.3"/>
<circle cx="506" cy="207.4" r="0.4" fill="#b6d4e9" stroke="#7a7a7a" stroke-width="0.3"/>
<circle cx="534.6" cy="207.4" r="0.5" fill="#b6d4e9" stroke="#7a7a7a" stroke-width="0.3"/>
<circle cx="548.4" cy="207.4" r="4" fill="#dfecf7" stroke="#7a7a7a" stroke-width="0.5"/>
<circle cx="362.2" cy="224.1" r="6.5" fill="#08458a" stroke="#7a7a7a" stroke-width="0.5"/>
<circle cx="376.5" cy="224.1" r="0.4" fill="#b6d4e9" stroke="#7a7a7a" stroke-width="0.3"/>
<circle cx="390.5" cy="224.1" r="0.4" fill="#b6d4e9" stroke="#7a7a7a" stroke-width="0.3"/>
<circle cx="419.4" cy="224.1" r="6.5" fill="#08306b" stroke="#7a7a7a" stroke-width="0.5"/>
<circle cx="433.7" cy="224.1" r="6.5" fill="#3b8bc3" stroke="#7a7a7a" stroke-width="0.5"/>
<circle cx="448" cy="224.1" r="3.9" fill="#b6d4e9" stroke="#7a7a7a" stroke-width="0.5"/>
<circle cx="462.9" cy="224.1" r="0.4" fill="#b6d4e9" stroke="#7a7a7a" stroke-width="0.3"/>
<circle cx="477.2" cy="224.1" r="0.4" fill="#b6d4e9" stroke="#7a7a7a" stroke-width="0.3"/>
<circle cx="491.2" cy="224.1" r="1.4" fill="#1764ab" stroke="#7a7a7a" stroke-width="0.5"/>
<circle cx="506" cy="224.1" r="0.9" fill="#4a98c9" stroke="#7a7a7a" stroke-width="0.3"/>
<circle cx="534.6" cy="224.1" r="6.5" fill="#08306b" stroke="#7a7a7a" stroke-width="0.5"/>
<circle cx="548.4" cy="224.1" r="1.4" fill="#b6d4e9" stroke="#7a7a7a" stroke-width="0.5"/>
<circle cx="362.2" cy="240.7" r="6.5" fill="#c6dbef" stroke="#7a7a7a" stroke-width="0.5"/>
<circle cx="376.5" cy="240.7" r="5.9" fill="#08306b" stroke="#7a7a7a" stroke-width="0.5"/>
<circle cx="390.5" cy="240.7" r="6.6" fill="#08306b" stroke="#7a7a7a" stroke-width="0.5"/>
<circle cx="405" cy="240.7" r="2.9" fill="#135fa7" stroke="#7a7a7a" stroke-width="0.5"/>
<circle cx="419.4" cy="240.7" r="1.4" fill="#d9e8f5" stroke="#7a7a7a" stroke-width="0.5"/>
<circle cx="433.7" cy="240.7" r="3.4" fill="#f5fafe" stroke="#7a7a7a" stroke-width="0.5"/>
<circle cx="448" cy="240.7" r="3.4" fill="#ebf3fb" stroke="#7a7a7a" stroke-width="0.5"/>
<circle cx="534.6" cy="240.7" r="1.4" fill="#f3f8fe" stroke="#7a7a7a" stroke-width="0.5"/>
<circle cx="548.4" cy="240.7" r="6.8" fill="#08306b" stroke="#7a7a7a" stroke-width="0.5"/>
<circle cx="562.8" cy="240.7" r="6.8" fill="#08306b" stroke="#7a7a7a" stroke-width="0.5"/>
<circle cx="577.3" cy="240.7" r="6.8" fill="#08306b" stroke="#7a7a7a" stroke-width="0.5"/>
<circle cx="591.4" cy="240.7" r="6" fill="#08306b" stroke="#7a7a7a" stroke-width="0.5"/>
<text x="645.4" y="169.36" font-size="10.5" text-anchor="middle">Fraction of cells</text>
<text x="645.3" y="182.36" font-size="10.5" text-anchor="middle">in group (%)</text>
<circle cx="613.7" cy="192" r="2" fill="#808080" stroke="#6a6a6a" stroke-width="0.4"/>
<text x="617.4" y="217" font-size="10.3" transform="rotate(-90 617.4 217)">10</text>
<line x1="613.7" y1="198.6" x2="613.7" y2="201.7" stroke="#1c1c1c" stroke-width="0.8"/>
<circle cx="627.5" cy="192" r="3.3" fill="#808080" stroke="#6a6a6a" stroke-width="0.4"/>
<text x="631.2" y="217" font-size="10.3" transform="rotate(-90 631.2 217)">20</text>
<line x1="627.5" y1="198.6" x2="627.5" y2="201.7" stroke="#1c1c1c" stroke-width="0.8"/>
<circle cx="641.3" cy="192" r="4.5" fill="#808080" stroke="#6a6a6a" stroke-width="0.4"/>
<text x="645" y="217" font-size="10.3" transform="rotate(-90 645 217)">30</text>
<line x1="641.3" y1="198.6" x2="641.3" y2="201.7" stroke="#1c1c1c" stroke-width="0.8"/>
<circle cx="655.1" cy="192" r="5.6" fill="#808080" stroke="#6a6a6a" stroke-width="0.4"/>
<text x="658.8" y="217" font-size="10.3" transform="rotate(-90 658.8 217)">40</text>
<line x1="655.1" y1="198.6" x2="655.1" y2="201.7" stroke="#1c1c1c" stroke-width="0.8"/>
<circle cx="669" cy="192" r="6.9" fill="#808080" stroke="#6a6a6a" stroke-width="0.4"/>
<text x="672.7" y="217" font-size="10.3" transform="rotate(-90 672.7 217)">50</text>
<line x1="669" y1="198.6" x2="669" y2="201.7" stroke="#1c1c1c" stroke-width="0.8"/>
<defs><linearGradient id="bl" x1="0" x2="1" y1="0" y2="0"><stop offset="0.0" stop-color="#f7fbff"/><stop offset="0.125" stop-color="#deebf7"/><stop offset="0.25" stop-color="#c6dbef"/><stop offset="0.375" stop-color="#9ecae1"/><stop offset="0.5" stop-color="#6baed6"/><stop offset="0.625" stop-color="#4292c6"/><stop offset="0.75" stop-color="#2171b5"/><stop offset="0.875" stop-color="#08519c"/><stop offset="1.0" stop-color="#08306b"/></linearGradient></defs>
<rect x="609.3" y="221.4" width="69.1" height="7" fill="url(#bl)" stroke="#222" stroke-width="0.9"/>
<line x1="609.3" y1="228.4" x2="609.3" y2="230.9" stroke="#1c1c1c" stroke-width="0.8"/>
<text x="613.1" y="248.2" font-size="10.6" transform="rotate(-90 613.1 248.2)">0.0</text>
<line x1="643.8" y1="228.4" x2="643.8" y2="230.9" stroke="#1c1c1c" stroke-width="0.8"/>
<text x="647.6" y="248.2" font-size="10.6" transform="rotate(-90 647.6 248.2)">0.5</text>
<line x1="678.4" y1="228.4" x2="678.4" y2="230.9" stroke="#1c1c1c" stroke-width="0.8"/>
<text x="682.2" y="248.2" font-size="10.6" transform="rotate(-90 682.2 248.2)">1.0</text>
<text x="604.8" y="259.03" font-size="10.7">Mean expression</text>
<text x="645.2" y="271.19" font-size="10.6" text-anchor="middle">in group</text>
<text x="0" y="333.5" font-size="14" font-weight="bold">g</text>
<text x="113" y="330.13" font-size="10.7" text-anchor="middle"><tspan fill="#dc1e46" stroke="#dc1e46">AML ILC1</tspan> vs <tspan fill="#2e86c8" stroke="#2e86c8">HD ILC1</tspan></text>
<rect x="41.3" y="335.8" width="139.2" height="126.2" fill="none" stroke="#d0d0d0" stroke-width="0.8"/>
<line x1="41.3" y1="333.6" x2="183.5" y2="333.6" stroke="#f6d6dc" stroke-width="0.8"/>
<line x1="41.3" y1="463.6" x2="183.5" y2="463.6" stroke="#f6d6dc" stroke-width="0.8"/>
<path d="M91.4 454.8h1.7v1.7h-1.7zM126.4 454.5h1.7v1.7h-1.7zM89.7 455.4h1.7v1.7h-1.7zM118.2 453.3h1.7v1.7h-1.7zM91.5 452.9h1.7v1.7h-1.7zM121.8 454.6h1.7v1.7h-1.7zM134.9 453.5h1.7v1.7h-1.7zM109.1 455h1.7v1.7h-1.7zM151.3 455h1.7v1.7h-1.7zM98.3 453.2h1.7v1.7h-1.7zM112.2 455.3h1.7v1.7h-1.7zM105.3 455.4h1.7v1.7h-1.7zM115 454.1h1.7v1.7h-1.7zM128 455.1h1.7v1.7h-1.7zM82.5 454.1h1.7v1.7h-1.7zM88.3 455.2h1.7v1.7h-1.7zM87.4 455.5h1.7v1.7h-1.7zM98.4 455.1h1.7v1.7h-1.7zM162.8 455.5h1.7v1.7h-1.7zM124 452.8h1.7v1.7h-1.7zM106.2 454.2h1.7v1.7h-1.7zM109.2 454.8h1.7v1.7h-1.7zM112.3 453.5h1.7v1.7h-1.7zM119.6 453.9h1.7v1.7h-1.7zM140.2 454.5h1.7v1.7h-1.7zM121.5 455.5h1.7v1.7h-1.7zM125.7 454.3h1.7v1.7h-1.7zM126.5 455.3h1.7v1.7h-1.7zM130.6 454.3h1.7v1.7h-1.7zM112.9 453.9h1.7v1.7h-1.7zM122.8 454.6h1.7v1.7h-1.7zM136.6 454.8h1.7v1.7h-1.7zM119.5 454.5h1.7v1.7h-1.7zM115.2 455.1h1.7v1.7h-1.7zM113.6 454.3h1.7v1.7h-1.7zM94.7 454.7h1.7v1.7h-1.7zM120 452.4h1.7v1.7h-1.7zM126.1 453.4h1.7v1.7h-1.7zM123 454.1h1.7v1.7h-1.7zM113.6 454h1.7v1.7h-1.7zM138.7 454.9h1.7v1.7h-1.7zM99.8 451.5h1.7v1.7h-1.7zM114.6 453.6h1.7v1.7h-1.7zM124.5 453.2h1.7v1.7h-1.7zM149.1 451.9h1.7v1.7h-1.7zM113.5 454h1.7v1.7h-1.7zM112.7 453.7h1.7v1.7h-1.7zM108.9 454.8h1.7v1.7h-1.7zM128.3 454.1h1.7v1.7h-1.7zM111.6 452.8h1.7v1.7h-1.7zM98.7 453.9h1.7v1.7h-1.7zM128.3 455h1.7v1.7h-1.7zM82.4 453.7h1.7v1.7h-1.7zM114.4 454.5h1.7v1.7h-1.7zM135.1 453.5h1.7v1.7h-1.7zM110.7 454.2h1.7v1.7h-1.7zM108.2 450.7h1.7v1.7h-1.7zM123.4 450.8h1.7v1.7h-1.7zM126.6 453.7h1.7v1.7h-1.7zM104.2 455.1h1.7v1.7h-1.7zM150 454.3h1.7v1.7h-1.7zM112.5 452.4h1.7v1.7h-1.7zM109.4 451.7h1.7v1.7h-1.7zM99.9 454.6h1.7v1.7h-1.7zM122.1 452.6h1.7v1.7h-1.7zM121 454.9h1.7v1.7h-1.7zM82 454.1h1.7v1.7h-1.7zM101.1 454.5h1.7v1.7h-1.7zM120 454.9h1.7v1.7h-1.7zM123.1 455.4h1.7v1.7h-1.7zM105.5 455.3h1.7v1.7h-1.7zM117.5 453.8h1.7v1.7h-1.7zM103.2 455.1h1.7v1.7h-1.7zM89.2 452.3h1.7v1.7h-1.7zM133.6 455.2h1.7v1.7h-1.7zM103.2 453h1.7v1.7h-1.7zM113.4 455.1h1.7v1.7h-1.7zM145.1 455h1.7v1.7h-1.7zM98.4 450.5h1.7v1.7h-1.7zM132.9 455.2h1.7v1.7h-1.7zM85.3 455.2h1.7v1.7h-1.7zM85.3 449.8h1.7v1.7h-1.7zM128.4 454.4h1.7v1.7h-1.7zM107.9 451.2h1.7v1.7h-1.7zM108.7 452.4h1.7v1.7h-1.7zM120.1 451.2h1.7v1.7h-1.7zM96.4 453h1.7v1.7h-1.7zM136.6 453.1h1.7v1.7h-1.7zM86.5 453.7h1.7v1.7h-1.7zM124.2 453.5h1.7v1.7h-1.7zM99.7 454.1h1.7v1.7h-1.7zM91.9 454.2h1.7v1.7h-1.7zM130.4 454.1h1.7v1.7h-1.7zM143.2 455.4h1.7v1.7h-1.7zM108.6 453.5h1.7v1.7h-1.7zM108.7 452.9h1.7v1.7h-1.7zM82.7 454.1h1.7v1.7h-1.7zM133.4 453.8h1.7v1.7h-1.7zM131.7 455h1.7v1.7h-1.7zM99.4 455.4h1.7v1.7h-1.7zM104.8 453.3h1.7v1.7h-1.7zM84 452.5h1.7v1.7h-1.7zM110.6 455.2h1.7v1.7h-1.7zM103.2 452.6h1.7v1.7h-1.7zM113.5 454.4h1.7v1.7h-1.7zM129.9 453.9h1.7v1.7h-1.7zM79.6 454h1.7v1.7h-1.7zM99.8 452.9h1.7v1.7h-1.7zM116 453.5h1.7v1.7h-1.7zM122.8 451.3h1.7v1.7h-1.7zM122.1 454.2h1.7v1.7h-1.7zM98.8 454.7h1.7v1.7h-1.7zM122.8 453.7h1.7v1.7h-1.7zM126.7 452.1h1.7v1.7h-1.7zM101.4 450.7h1.7v1.7h-1.7zM109.1 454.3h1.7v1.7h-1.7zM98.6 455h1.7v1.7h-1.7zM114.4 453.5h1.7v1.7h-1.7zM97.7 453.8h1.7v1.7h-1.7zM98.7 452h1.7v1.7h-1.7zM127.9 455.3h1.7v1.7h-1.7zM114.3 455.3h1.7v1.7h-1.7zM113.9 455.1h1.7v1.7h-1.7zM105.4 453h1.7v1.7h-1.7zM100.6 452.2h1.7v1.7h-1.7zM119.2 455.4h1.7v1.7h-1.7zM107.3 455.4h1.7v1.7h-1.7zM116.3 454.2h1.7v1.7h-1.7zM113.8 455.1h1.7v1.7h-1.7zM98.9 453.9h1.7v1.7h-1.7zM94.9 453.4h1.7v1.7h-1.7zM124.7 450.7h1.7v1.7h-1.7zM106.5 454.3h1.7v1.7h-1.7zM100.9 455.3h1.7v1.7h-1.7zM128.5 455.4h1.7v1.7h-1.7zM108.5 454.3h1.7v1.7h-1.7zM108.7 453.7h1.7v1.7h-1.7zM104.5 453.2h1.7v1.7h-1.7zM90.8 453.3h1.7v1.7h-1.7zM88.8 453.3h1.7v1.7h-1.7zM116.3 455.1h1.7v1.7h-1.7zM133.7 454.2h1.7v1.7h-1.7zM122.6 453.9h1.7v1.7h-1.7zM86.3 452.4h1.7v1.7h-1.7zM96.1 453.7h1.7v1.7h-1.7zM131.2 453h1.7v1.7h-1.7zM127.2 454.8h1.7v1.7h-1.7zM104.5 454.4h1.7v1.7h-1.7zM105.6 451.8h1.7v1.7h-1.7zM94.9 453h1.7v1.7h-1.7zM118.4 451.3h1.7v1.7h-1.7zM153.8 454.9h1.7v1.7h-1.7zM83.5 454.7h1.7v1.7h-1.7zM95.9 451.5h1.7v1.7h-1.7zM119.7 454.1h1.7v1.7h-1.7zM125.5 454.4h1.7v1.7h-1.7zM85.1 454.5h1.7v1.7h-1.7zM106.9 455.5h1.7v1.7h-1.7zM112.8 454.9h1.7v1.7h-1.7zM113.7 454.3h1.7v1.7h-1.7zM96.6 452.4h1.7v1.7h-1.7zM116.4 454.6h1.7v1.7h-1.7zM85.5 455.2h1.7v1.7h-1.7zM123.6 452.9h1.7v1.7h-1.7zM128 454.8h1.7v1.7h-1.7zM117.1 455.3h1.7v1.7h-1.7zM114.1 453.1h1.7v1.7h-1.7zM104.3 452.3h1.7v1.7h-1.7zM98.4 453.6h1.7v1.7h-1.7zM121.9 453.4h1.7v1.7h-1.7zM104.9 453.7h1.7v1.7h-1.7zM129.8 451.9h1.7v1.7h-1.7zM118.7 451.7h1.7v1.7h-1.7zM129.6 455.1h1.7v1.7h-1.7zM101.2 454.9h1.7v1.7h-1.7zM92.5 455h1.7v1.7h-1.7zM107.7 455.3h1.7v1.7h-1.7zM129.4 455.1h1.7v1.7h-1.7zM87.7 453.4h1.7v1.7h-1.7zM93.8 454.6h1.7v1.7h-1.7zM108.6 454.8h1.7v1.7h-1.7zM94.9 455h1.7v1.7h-1.7zM145.2 454.3h1.7v1.7h-1.7zM108.6 453.2h1.7v1.7h-1.7zM122.5 454h1.7v1.7h-1.7zM124.3 451.5h1.7v1.7h-1.7zM97.1 455.3h1.7v1.7h-1.7zM118.6 452.9h1.7v1.7h-1.7zM118.1 455.1h1.7v1.7h-1.7zM111.3 455.1h1.7v1.7h-1.7zM114.6 454.2h1.7v1.7h-1.7zM105.3 453.9h1.7v1.7h-1.7zM97.2 453.3h1.7v1.7h-1.7zM130.9 453.5h1.7v1.7h-1.7zM124.2 453.8h1.7v1.7h-1.7zM110.7 454.2h1.7v1.7h-1.7zM94.1 455.1h1.7v1.7h-1.7zM99.1 454.1h1.7v1.7h-1.7zM101.6 455.3h1.7v1.7h-1.7zM117 452.8h1.7v1.7h-1.7zM98.2 453.6h1.7v1.7h-1.7zM123.6 453.3h1.7v1.7h-1.7zM117.8 454.4h1.7v1.7h-1.7zM109 451.8h1.7v1.7h-1.7zM122 454.5h1.7v1.7h-1.7zM96.5 451.3h1.7v1.7h-1.7zM121.9 449.8h1.7v1.7h-1.7zM117.1 454.8h1.7v1.7h-1.7zM112.4 452.2h1.7v1.7h-1.7zM110.3 454.6h1.7v1.7h-1.7zM118.9 453.7h1.7v1.7h-1.7zM112.7 454.5h1.7v1.7h-1.7zM91 453.8h1.7v1.7h-1.7zM121.2 455.4h1.7v1.7h-1.7zM96.4 451.4h1.7v1.7h-1.7zM118.4 455.3h1.7v1.7h-1.7zM84.1 455.4h1.7v1.7h-1.7zM86.7 455.5h1.7v1.7h-1.7zM113 454.8h1.7v1.7h-1.7zM114.1 455.2h1.7v1.7h-1.7zM92.7 454.8h1.7v1.7h-1.7zM102.6 455.1h1.7v1.7h-1.7zM115 454.3h1.7v1.7h-1.7zM136.5 450.3h1.7v1.7h-1.7zM117 455.1h1.7v1.7h-1.7zM146.6 453.6h1.7v1.7h-1.7zM84.6 454.7h1.7v1.7h-1.7zM102.5 453.5h1.7v1.7h-1.7zM94 455.3h1.7v1.7h-1.7zM108.6 455.4h1.7v1.7h-1.7zM101.5 451.8h1.7v1.7h-1.7zM118 453.5h1.7v1.7h-1.7zM109.6 453.5h1.7v1.7h-1.7zM113.9 454.4h1.7v1.7h-1.7zM107.9 455.5h1.7v1.7h-1.7zM132.9 453.3h1.7v1.7h-1.7zM101.9 451.6h1.7v1.7h-1.7zM99.7 454h1.7v1.7h-1.7zM95.6 454.1h1.7v1.7h-1.7zM139.1 455.1h1.7v1.7h-1.7zM108.9 451h1.7v1.7h-1.7zM109.7 452h1.7v1.7h-1.7zM117.1 453.6h1.7v1.7h-1.7zM136.6 453h1.7v1.7h-1.7zM101.5 452.3h1.7v1.7h-1.7zM112.2 453.5h1.7v1.7h-1.7zM109.7 454.8h1.7v1.7h-1.7zM101 453.6h1.7v1.7h-1.7zM125.5 455.4h1.7v1.7h-1.7zM96.5 453.4h1.7v1.7h-1.7zM115 450.6h1.7v1.7h-1.7zM103.5 453.9h1.7v1.7h-1.7zM99.7 453.3h1.7v1.7h-1.7zM95.4 455.1h1.7v1.7h-1.7zM133.3 455.5h1.7v1.7h-1.7zM102.6 452.2h1.7v1.7h-1.7zM114.1 455.5h1.7v1.7h-1.7zM91.3 453.3h1.7v1.7h-1.7zM110 453.5h1.7v1.7h-1.7zM120.6 455.1h1.7v1.7h-1.7zM105.6 454.9h1.7v1.7h-1.7zM110.5 451.1h1.7v1.7h-1.7zM92.8 454.8h1.7v1.7h-1.7zM130.7 455h1.7v1.7h-1.7zM133.2 455.5h1.7v1.7h-1.7zM113 454.8h1.7v1.7h-1.7zM88.9 453.6h1.7v1.7h-1.7zM145.7 454.2h1.7v1.7h-1.7zM120.3 453.6h1.7v1.7h-1.7zM119.7 453.5h1.7v1.7h-1.7zM106.5 455.1h1.7v1.7h-1.7zM126.2 454.8h1.7v1.7h-1.7zM89.7 455.1h1.7v1.7h-1.7zM102.1 454.3h1.7v1.7h-1.7zM99.3 453.4h1.7v1.7h-1.7zM105.5 452.4h1.7v1.7h-1.7zM109.9 455.2h1.7v1.7h-1.7zM110.8 454.9h1.7v1.7h-1.7zM125.4 452.7h1.7v1.7h-1.7zM84.8 452.8h1.7v1.7h-1.7zM110.6 454.9h1.7v1.7h-1.7zM148.5 455.2h1.7v1.7h-1.7zM141.4 453.6h1.7v1.7h-1.7zM94.5 454.5h1.7v1.7h-1.7zM122.3 455.3h1.7v1.7h-1.7zM74 454.8h1.7v1.7h-1.7zM107.7 453.3h1.7v1.7h-1.7zM139.5 455h1.7v1.7h-1.7zM104.5 454.9h1.7v1.7h-1.7zM98.3 454h1.7v1.7h-1.7zM112.2 454.9h1.7v1.7h-1.7zM102.7 455.4h1.7v1.7h-1.7zM88.8 454.5h1.7v1.7h-1.7zM98.9 455.1h1.7v1.7h-1.7zM96.4 454.5h1.7v1.7h-1.7zM114.1 453.1h1.7v1.7h-1.7zM149.7 455.5h1.7v1.7h-1.7zM109.6 454h1.7v1.7h-1.7zM135.9 452.7h1.7v1.7h-1.7zM115.4 452.7h1.7v1.7h-1.7zM102.7 454.3h1.7v1.7h-1.7zM102.6 453.1h1.7v1.7h-1.7zM92 454h1.7v1.7h-1.7zM110.9 454.2h1.7v1.7h-1.7zM111 449.8h1.7v1.7h-1.7zM138.7 453.4h1.7v1.7h-1.7zM116.1 455.4h1.7v1.7h-1.7zM108.5 453.4h1.7v1.7h-1.7zM105.5 454.9h1.7v1.7h-1.7zM104.8 455.3h1.7v1.7h-1.7zM131 454h1.7v1.7h-1.7zM89.5 454.6h1.7v1.7h-1.7zM98.1 453.9h1.7v1.7h-1.7zM114.2 453.7h1.7v1.7h-1.7zM109.7 451.6h1.7v1.7h-1.7zM117.8 455.1h1.7v1.7h-1.7zM118.7 452.9h1.7v1.7h-1.7zM112 454.1h1.7v1.7h-1.7zM99.9 454.8h1.7v1.7h-1.7zM116.3 453.7h1.7v1.7h-1.7zM83.7 450.5h1.7v1.7h-1.7zM101.6 453.2h1.7v1.7h-1.7zM109.8 450.9h1.7v1.7h-1.7zM97.1 454.7h1.7v1.7h-1.7zM137.1 453.2h1.7v1.7h-1.7zM116.5 455.1h1.7v1.7h-1.7zM94 454.6h1.7v1.7h-1.7zM105.4 454h1.7v1.7h-1.7zM111.7 454.7h1.7v1.7h-1.7zM116 452.6h1.7v1.7h-1.7zM122.4 454.7h1.7v1.7h-1.7zM106.9 452.4h1.7v1.7h-1.7zM108.9 454.4h1.7v1.7h-1.7zM94.8 453h1.7v1.7h-1.7zM105.4 454.8h1.7v1.7h-1.7zM105.5 453h1.7v1.7h-1.7zM143.3 453.2h1.7v1.7h-1.7zM125.2 454.4h1.7v1.7h-1.7zM115.1 453.9h1.7v1.7h-1.7zM104.1 453.7h1.7v1.7h-1.7zM141.4 453.8h1.7v1.7h-1.7zM110.9 453.6h1.7v1.7h-1.7zM100.7 454.1h1.7v1.7h-1.7zM98.3 454.3h1.7v1.7h-1.7zM117.6 453.1h1.7v1.7h-1.7zM116.4 453.1h1.7v1.7h-1.7zM121.2 453.3h1.7v1.7h-1.7zM122.5 452.4h1.7v1.7h-1.7zM120.1 454.4h1.7v1.7h-1.7zM129.5 455.2h1.7v1.7h-1.7zM91.1 454.8h1.7v1.7h-1.7zM133.1 454.9h1.7v1.7h-1.7zM112.6 454.8h1.7v1.7h-1.7zM84.1 454.5h1.7v1.7h-1.7zM116.3 455.1h1.7v1.7h-1.7zM108 451.2h1.7v1.7h-1.7zM130 454.1h1.7v1.7h-1.7zM126.9 452.9h1.7v1.7h-1.7zM103.7 454.3h1.7v1.7h-1.7zM115.7 452.1h1.7v1.7h-1.7zM84.1 455.1h1.7v1.7h-1.7zM99.4 454.4h1.7v1.7h-1.7zM133.8 454.9h1.7v1.7h-1.7zM91.1 455.4h1.7v1.7h-1.7zM106.2 452.4h1.7v1.7h-1.7zM124.7 454.5h1.7v1.7h-1.7zM121.5 452.8h1.7v1.7h-1.7zM128 452.6h1.7v1.7h-1.7zM127.3 451.8h1.7v1.7h-1.7zM132.5 454.8h1.7v1.7h-1.7zM86.1 455.1h1.7v1.7h-1.7zM116 453.5h1.7v1.7h-1.7zM102.9 455h1.7v1.7h-1.7zM108 449.8h1.7v1.7h-1.7zM103.9 454.7h1.7v1.7h-1.7zM115.4 453.5h1.7v1.7h-1.7zM99.8 450.3h1.7v1.7h-1.7zM123.3 454.9h1.7v1.7h-1.7zM127.8 453.6h1.7v1.7h-1.7zM112.3 454.3h1.7v1.7h-1.7zM126.9 454.7h1.7v1.7h-1.7zM80.8 453.3h1.7v1.7h-1.7zM118.1 455.3h1.7v1.7h-1.7zM115.1 454.2h1.7v1.7h-1.7zM113 452.3h1.7v1.7h-1.7zM101.4 454.7h1.7v1.7h-1.7zM115.8 454h1.7v1.7h-1.7zM123.1 452.5h1.7v1.7h-1.7zM103.2 453.2h1.7v1.7h-1.7zM118.1 453.4h1.7v1.7h-1.7zM108.5 451.3h1.7v1.7h-1.7zM123.1 454.6h1.7v1.7h-1.7zM72.9 454h1.7v1.7h-1.7zM99.6 455.4h1.7v1.7h-1.7zM147.2 454h1.7v1.7h-1.7zM115.6 453.6h1.7v1.7h-1.7zM92 455.1h1.7v1.7h-1.7zM103.3 449.8h1.7v1.7h-1.7zM104.3 454.3h1.7v1.7h-1.7zM128.5 455.4h1.7v1.7h-1.7zM91.2 452.9h1.7v1.7h-1.7zM105.8 452.8h1.7v1.7h-1.7zM115.8 454.5h1.7v1.7h-1.7zM105.4 454.1h1.7v1.7h-1.7zM123.7 453.7h1.7v1.7h-1.7zM78.2 450.6h1.7v1.7h-1.7zM108.7 453h1.7v1.7h-1.7zM126.5 452.7h1.7v1.7h-1.7zM140 455.5h1.7v1.7h-1.7zM127.4 452.4h1.7v1.7h-1.7zM121.6 454.7h1.7v1.7h-1.7zM109.2 454.6h1.7v1.7h-1.7zM93.1 455.3h1.7v1.7h-1.7zM130.9 454.8h1.7v1.7h-1.7zM119.1 454.2h1.7v1.7h-1.7zM114.7 453.5h1.7v1.7h-1.7zM116.7 455.1h1.7v1.7h-1.7zM115.7 454.3h1.7v1.7h-1.7zM92.1 454.9h1.7v1.7h-1.7zM127.1 452.3h1.7v1.7h-1.7zM105.6 453.9h1.7v1.7h-1.7zM122.7 454.7h1.7v1.7h-1.7zM86.2 454.9h1.7v1.7h-1.7zM95.4 453.1h1.7v1.7h-1.7zM123.1 454.3h1.7v1.7h-1.7zM70.7 454.3h1.7v1.7h-1.7zM121.7 452.9h1.7v1.7h-1.7zM126 455.4h1.7v1.7h-1.7zM107.8 454.1h1.7v1.7h-1.7zM94.6 454.7h1.7v1.7h-1.7zM159.4 455.1h1.7v1.7h-1.7zM114 454.2h1.7v1.7h-1.7zM101 454.4h1.7v1.7h-1.7zM96.7 453.8h1.7v1.7h-1.7zM106.4 453.8h1.7v1.7h-1.7zM92.5 453.6h1.7v1.7h-1.7zM110.3 454.2h1.7v1.7h-1.7zM109.1 453.7h1.7v1.7h-1.7zM129.8 454.7h1.7v1.7h-1.7zM108.4 453.7h1.7v1.7h-1.7zM113.9 454.7h1.7v1.7h-1.7zM115.2 454.8h1.7v1.7h-1.7zM99.8 452.7h1.7v1.7h-1.7zM117.5 453.7h1.7v1.7h-1.7zM121.7 453.2h1.7v1.7h-1.7zM120.2 454.8h1.7v1.7h-1.7zM115.2 454.7h1.7v1.7h-1.7zM105.6 455.1h1.7v1.7h-1.7zM125.3 454.5h1.7v1.7h-1.7zM88 455.3h1.7v1.7h-1.7zM113.8 451.8h1.7v1.7h-1.7zM100 454.3h1.7v1.7h-1.7zM108.3 455.4h1.7v1.7h-1.7zM90.8 453.7h1.7v1.7h-1.7zM138.4 455.1h1.7v1.7h-1.7zM99.1 453.2h1.7v1.7h-1.7zM124.8 455.3h1.7v1.7h-1.7zM98.2 453.1h1.7v1.7h-1.7zM122.8 454.3h1.7v1.7h-1.7zM82.9 455.3h1.7v1.7h-1.7zM120.6 453h1.7v1.7h-1.7zM125.4 452.6h1.7v1.7h-1.7zM127 454.1h1.7v1.7h-1.7zM99.5 453.6h1.7v1.7h-1.7zM126.4 453h1.7v1.7h-1.7zM129.6 455.3h1.7v1.7h-1.7zM104.2 451.7h1.7v1.7h-1.7zM123.1 450.9h1.7v1.7h-1.7zM103.4 454.6h1.7v1.7h-1.7zM120.9 454.8h1.7v1.7h-1.7zM89.1 454.1h1.7v1.7h-1.7zM93.4 451.4h1.7v1.7h-1.7zM99.4 453.8h1.7v1.7h-1.7zM141 451.7h1.7v1.7h-1.7zM133.2 452.2h1.7v1.7h-1.7zM91.2 454.8h1.7v1.7h-1.7zM99.2 455h1.7v1.7h-1.7zM152.1 452.1h1.7v1.7h-1.7zM119.5 453h1.7v1.7h-1.7zM131.8 452.9h1.7v1.7h-1.7zM102.6 451.3h1.7v1.7h-1.7zM111.9 452.9h1.7v1.7h-1.7zM115.6 454.4h1.7v1.7h-1.7zM104.7 455.3h1.7v1.7h-1.7zM120.4 455.3h1.7v1.7h-1.7zM147.9 455.2h1.7v1.7h-1.7zM103.3 454.1h1.7v1.7h-1.7zM98.4 452.6h1.7v1.7h-1.7zM95.2 453.7h1.7v1.7h-1.7zM111.7 455.2h1.7v1.7h-1.7zM116.2 453.4h1.7v1.7h-1.7zM120.4 454h1.7v1.7h-1.7zM101.9 455h1.7v1.7h-1.7zM98.5 455.4h1.7v1.7h-1.7zM97.8 454.8h1.7v1.7h-1.7zM107.9 455.1h1.7v1.7h-1.7zM106.5 454.5h1.7v1.7h-1.7zM131.4 454.8h1.7v1.7h-1.7zM94.7 455.2h1.7v1.7h-1.7zM93.5 453.3h1.7v1.7h-1.7zM112 452.1h1.7v1.7h-1.7zM59.9 455h1.7v1.7h-1.7zM127 452.1h1.7v1.7h-1.7zM96.5 454.4h1.7v1.7h-1.7zM79.3 453.8h1.7v1.7h-1.7zM91.7 455.1h1.7v1.7h-1.7zM79.6 453.7h1.7v1.7h-1.7zM108.4 454.9h1.7v1.7h-1.7zM105.5 451.2h1.7v1.7h-1.7zM108.3 452.8h1.7v1.7h-1.7zM110.9 453.8h1.7v1.7h-1.7zM105.7 455.1h1.7v1.7h-1.7zM122.9 454h1.7v1.7h-1.7zM94.8 455.5h1.7v1.7h-1.7zM133.7 454.5h1.7v1.7h-1.7zM99.2 455.3h1.7v1.7h-1.7zM105.2 453.6h1.7v1.7h-1.7zM111.2 454.8h1.7v1.7h-1.7zM145.6 452.7h1.7v1.7h-1.7zM94.7 452h1.7v1.7h-1.7zM85.6 453.8h1.7v1.7h-1.7zM115.3 452.2h1.7v1.7h-1.7zM79.5 453.7h1.7v1.7h-1.7zM133.5 453.4h1.7v1.7h-1.7zM124.7 453.8h1.7v1.7h-1.7zM111.2 455.5h1.7v1.7h-1.7zM111.2 453.8h1.7v1.7h-1.7zM108.1 454.9h1.7v1.7h-1.7zM133.6 453.2h1.7v1.7h-1.7zM98.9 454.4h1.7v1.7h-1.7zM106.5 455.2h1.7v1.7h-1.7zM143.8 454.7h1.7v1.7h-1.7zM104.1 453.3h1.7v1.7h-1.7zM150.4 453.3h1.7v1.7h-1.7zM100.1 455.3h1.7v1.7h-1.7zM100.7 451.1h1.7v1.7h-1.7zM119 454.7h1.7v1.7h-1.7zM118.4 453.9h1.7v1.7h-1.7zM101.2 455.3h1.7v1.7h-1.7zM148.4 450.9h1.7v1.7h-1.7zM117.3 452.8h1.7v1.7h-1.7zM122.4 451.6h1.7v1.7h-1.7zM117.8 455.2h1.7v1.7h-1.7zM108.6 453.8h1.7v1.7h-1.7zM136.5 453.1h1.7v1.7h-1.7zM108.8 454.5h1.7v1.7h-1.7zM98.3 451h1.7v1.7h-1.7zM104.7 455.3h1.7v1.7h-1.7zM113 453.8h1.7v1.7h-1.7zM108.1 454.2h1.7v1.7h-1.7zM115.6 454.2h1.7v1.7h-1.7zM96.4 452.4h1.7v1.7h-1.7zM94.5 453.4h1.7v1.7h-1.7zM126.5 453.7h1.7v1.7h-1.7zM112.5 453.8h1.7v1.7h-1.7zM131.7 454.2h1.7v1.7h-1.7zM106.9 452.7h1.7v1.7h-1.7zM148.7 452.4h1.7v1.7h-1.7zM92.7 454.6h1.7v1.7h-1.7zM106 455.4h1.7v1.7h-1.7zM100.2 454.6h1.7v1.7h-1.7zM110.5 451.8h1.7v1.7h-1.7zM121.7 454.7h1.7v1.7h-1.7zM111.1 454h1.7v1.7h-1.7zM107.1 453h1.7v1.7h-1.7zM123.8 451.5h1.7v1.7h-1.7zM114.8 455.5h1.7v1.7h-1.7zM85.2 454.7h1.7v1.7h-1.7zM83.5 452.4h1.7v1.7h-1.7zM100.8 455.5h1.7v1.7h-1.7zM89.4 454.5h1.7v1.7h-1.7zM96 453.2h1.7v1.7h-1.7zM114.6 453.1h1.7v1.7h-1.7zM80.2 455.4h1.7v1.7h-1.7zM103 453.3h1.7v1.7h-1.7zM120 455.2h1.7v1.7h-1.7zM112.5 454.3h1.7v1.7h-1.7zM101.7 454.6h1.7v1.7h-1.7zM85.4 454.3h1.7v1.7h-1.7zM117.1 452h1.7v1.7h-1.7zM112.3 453.2h1.7v1.7h-1.7zM114.4 452.9h1.7v1.7h-1.7zM106.5 455.5h1.7v1.7h-1.7zM90.2 453.7h1.7v1.7h-1.7zM81.9 453.7h1.7v1.7h-1.7zM114.6 454.5h1.7v1.7h-1.7zM129.1 455.3h1.7v1.7h-1.7zM95.1 454.7h1.7v1.7h-1.7zM108.4 451.9h1.7v1.7h-1.7zM141.6 453.6h1.7v1.7h-1.7zM92.8 454.5h1.7v1.7h-1.7zM113.7 454.1h1.7v1.7h-1.7zM119 454.1h1.7v1.7h-1.7zM123.9 455.1h1.7v1.7h-1.7zM96.8 453.8h1.7v1.7h-1.7zM108.8 452.8h1.7v1.7h-1.7zM135.5 453.5h1.7v1.7h-1.7zM116.4 454.2h1.7v1.7h-1.7zM123.7 452.9h1.7v1.7h-1.7zM124.2 452.4h1.7v1.7h-1.7zM125.7 454.8h1.7v1.7h-1.7zM103.4 454.5h1.7v1.7h-1.7zM115.3 455.4h1.7v1.7h-1.7zM84.1 455.3h1.7v1.7h-1.7zM119.5 455.5h1.7v1.7h-1.7zM85.6 454.6h1.7v1.7h-1.7zM122.1 455.2h1.7v1.7h-1.7zM117.4 454.8h1.7v1.7h-1.7zM100.3 454.5h1.7v1.7h-1.7zM105.1 455.2h1.7v1.7h-1.7zM162.1 454.1h1.7v1.7h-1.7zM112.8 452.2h1.7v1.7h-1.7zM112.2 454h1.7v1.7h-1.7zM99.6 455.1h1.7v1.7h-1.7zM75.1 454.4h1.7v1.7h-1.7zM101.3 454.1h1.7v1.7h-1.7zM132.2 455.2h1.7v1.7h-1.7zM126.2 455h1.7v1.7h-1.7zM107.5 455h1.7v1.7h-1.7zM97.3 452.9h1.7v1.7h-1.7zM124.6 453.5h1.7v1.7h-1.7zM124 454.1h1.7v1.7h-1.7zM87 453.1h1.7v1.7h-1.7zM90.5 453.1h1.7v1.7h-1.7zM113.8 453.7h1.7v1.7h-1.7zM118.8 453.2h1.7v1.7h-1.7zM116.2 454.4h1.7v1.7h-1.7zM114.6 453.3h1.7v1.7h-1.7zM104.5 453.5h1.7v1.7h-1.7zM134.5 455.4h1.7v1.7h-1.7zM117.6 454.5h1.7v1.7h-1.7zM106.2 455h1.7v1.7h-1.7zM105.3 453.7h1.7v1.7h-1.7zM110.2 455.2h1.7v1.7h-1.7zM115.8 454.1h1.7v1.7h-1.7zM82.7 452.6h1.7v1.7h-1.7zM108 454h1.7v1.7h-1.7zM104.8 454.6h1.7v1.7h-1.7zM124.4 454.8h1.7v1.7h-1.7zM113.2 452.3h1.7v1.7h-1.7zM113.4 455.3h1.7v1.7h-1.7zM103.9 453.7h1.7v1.7h-1.7zM139 453.4h1.7v1.7h-1.7zM98.4 452.4h1.7v1.7h-1.7zM105.4 455.5h1.7v1.7h-1.7zM101.5 454.6h1.7v1.7h-1.7zM119.4 455.3h1.7v1.7h-1.7zM107.4 455.3h1.7v1.7h-1.7zM104.4 453.6h1.7v1.7h-1.7zM102.5 455.2h1.7v1.7h-1.7zM107.4 454h1.7v1.7h-1.7zM107.1 452.5h1.7v1.7h-1.7zM117.1 454.4h1.7v1.7h-1.7zM106 452.4h1.7v1.7h-1.7zM97.8 454.4h1.7v1.7h-1.7zM118.2 454.5h1.7v1.7h-1.7zM106.9 453.7h1.7v1.7h-1.7zM111.7 455h1.7v1.7h-1.7zM132.7 455.1h1.7v1.7h-1.7zM84.4 454h1.7v1.7h-1.7zM123.8 455.3h1.7v1.7h-1.7zM93.8 451.5h1.7v1.7h-1.7zM115.8 452.5h1.7v1.7h-1.7zM91 451.1h1.7v1.7h-1.7zM118.5 454.4h1.7v1.7h-1.7zM106.1 454.9h1.7v1.7h-1.7zM96.5 454.7h1.7v1.7h-1.7zM125.1 454.8h1.7v1.7h-1.7zM102 453.4h1.7v1.7h-1.7zM109 454.4h1.7v1.7h-1.7zM96 454.2h1.7v1.7h-1.7zM122.4 452.9h1.7v1.7h-1.7zM111.1 454.6h1.7v1.7h-1.7zM101.7 453.7h1.7v1.7h-1.7zM122.9 453.3h1.7v1.7h-1.7zM104.7 453.1h1.7v1.7h-1.7zM109.7 455.1h1.7v1.7h-1.7zM99 454.3h1.7v1.7h-1.7zM125.5 454.7h1.7v1.7h-1.7zM128.1 454.7h1.7v1.7h-1.7zM95.5 454.4h1.7v1.7h-1.7zM105.2 454.2h1.7v1.7h-1.7zM125.1 455.3h1.7v1.7h-1.7zM126.5 453.9h1.7v1.7h-1.7zM109 452.5h1.7v1.7h-1.7zM117.7 453.4h1.7v1.7h-1.7zM81.3 452.2h1.7v1.7h-1.7zM97.3 453.5h1.7v1.7h-1.7zM136.1 454.3h1.7v1.7h-1.7zM95.4 453.5h1.7v1.7h-1.7zM96.8 454.4h1.7v1.7h-1.7zM105.8 451.7h1.7v1.7h-1.7zM122 454.2h1.7v1.7h-1.7zM114.4 455.2h1.7v1.7h-1.7zM123 453.7h1.7v1.7h-1.7zM105.3 453.7h1.7v1.7h-1.7zM119.6 455.4h1.7v1.7h-1.7zM114.7 454.2h1.7v1.7h-1.7zM105.8 454.2h1.7v1.7h-1.7zM130.5 455.5h1.7v1.7h-1.7zM101.5 454.6h1.7v1.7h-1.7zM87.8 455.4h1.7v1.7h-1.7zM89.6 454.7h1.7v1.7h-1.7zM83.1 454.1h1.7v1.7h-1.7zM124.6 455.2h1.7v1.7h-1.7zM91.9 452h1.7v1.7h-1.7zM101 452.5h1.7v1.7h-1.7zM102.6 452.6h1.7v1.7h-1.7zM139.4 454.7h1.7v1.7h-1.7zM122.6 453.1h1.7v1.7h-1.7zM90.4 455.4h1.7v1.7h-1.7zM101.9 454.3h1.7v1.7h-1.7zM110.6 453h1.7v1.7h-1.7zM111.7 454h1.7v1.7h-1.7zM106.2 454.4h1.7v1.7h-1.7zM102.5 455.5h1.7v1.7h-1.7zM116.2 455.3h1.7v1.7h-1.7zM130.4 453.6h1.7v1.7h-1.7zM123.8 454.1h1.7v1.7h-1.7zM113.2 453.2h1.7v1.7h-1.7zM127.2 452h1.7v1.7h-1.7zM114.3 455.1h1.7v1.7h-1.7zM110.2 453.1h1.7v1.7h-1.7zM115.2 453.6h1.7v1.7h-1.7zM108.1 454h1.7v1.7h-1.7zM107.7 453.8h1.7v1.7h-1.7zM97.3 452.6h1.7v1.7h-1.7zM127 452.3h1.7v1.7h-1.7zM95.7 454.7h1.7v1.7h-1.7zM104.8 452.8h1.7v1.7h-1.7zM124.5 452.3h1.7v1.7h-1.7zM121.5 454.1h1.7v1.7h-1.7zM105.2 454.2h1.7v1.7h-1.7zM111.7 455.2h1.7v1.7h-1.7zM78.4 453h1.7v1.7h-1.7zM119 455.3h1.7v1.7h-1.7zM104.4 453.6h1.7v1.7h-1.7zM99.9 454h1.7v1.7h-1.7zM153.9 453h1.7v1.7h-1.7zM134.5 454.6h1.7v1.7h-1.7zM114.1 455.1h1.7v1.7h-1.7zM105 452.3h1.7v1.7h-1.7zM118.7 455.5h1.7v1.7h-1.7zM108.9 455.1h1.7v1.7h-1.7zM93.2 454.9h1.7v1.7h-1.7zM101.2 454.3h1.7v1.7h-1.7zM120.1 451.8h1.7v1.7h-1.7zM107.4 453.5h1.7v1.7h-1.7zM90.9 453.2h1.7v1.7h-1.7zM126.3 455.3h1.7v1.7h-1.7zM103.9 453.1h1.7v1.7h-1.7zM113.5 454.4h1.7v1.7h-1.7zM114.1 454.7h1.7v1.7h-1.7zM121.7 454.9h1.7v1.7h-1.7zM102.7 455.5h1.7v1.7h-1.7zM109.3 455.2h1.7v1.7h-1.7zM102.7 455.1h1.7v1.7h-1.7zM101.8 454.4h1.7v1.7h-1.7zM113.2 453.2h1.7v1.7h-1.7zM102.6 454.4h1.7v1.7h-1.7zM116.2 455.3h1.7v1.7h-1.7zM121.3 454.4h1.7v1.7h-1.7zM119.5 454.9h1.7v1.7h-1.7zM57 454.8h1.7v1.7h-1.7zM120.1 451.6h1.7v1.7h-1.7zM94.5 455.3h1.7v1.7h-1.7zM116.3 453.6h1.7v1.7h-1.7zM129.4 454.6h1.7v1.7h-1.7zM98.5 453.2h1.7v1.7h-1.7zM104.4 450.8h1.7v1.7h-1.7zM144.1 450.6h1.7v1.7h-1.7zM82.7 454.2h1.7v1.7h-1.7zM109.2 454.3h1.7v1.7h-1.7zM120.2 455.3h1.7v1.7h-1.7zM115.3 455h1.7v1.7h-1.7zM94 452.9h1.7v1.7h-1.7zM103.7 453.3h1.7v1.7h-1.7zM121.5 455.5h1.7v1.7h-1.7zM113 455.5h1.7v1.7h-1.7zM82.4 454.9h1.7v1.7h-1.7zM117.5 452.3h1.7v1.7h-1.7zM87.8 453.4h1.7v1.7h-1.7zM123.3 452.5h1.7v1.7h-1.7zM117.9 455.5h1.7v1.7h-1.7zM125.9 454.9h1.7v1.7h-1.7zM107.4 454.1h1.7v1.7h-1.7zM113.6 455.3h1.7v1.7h-1.7zM100.7 454.9h1.7v1.7h-1.7zM99.1 454.3h1.7v1.7h-1.7zM94.8 452.4h1.7v1.7h-1.7zM95.9 453.3h1.7v1.7h-1.7zM102.9 454.2h1.7v1.7h-1.7zM122.2 454.5h1.7v1.7h-1.7zM122.5 454.5h1.7v1.7h-1.7zM110.1 454.1h1.7v1.7h-1.7zM109.9 453h1.7v1.7h-1.7zM106.5 454.4h1.7v1.7h-1.7zM117.6 454.8h1.7v1.7h-1.7zM100.8 453.8h1.7v1.7h-1.7zM129.3 455.4h1.7v1.7h-1.7zM99.3 454.5h1.7v1.7h-1.7zM72.8 454.4h1.7v1.7h-1.7zM119.8 451.5h1.7v1.7h-1.7zM99.3 452.4h1.7v1.7h-1.7zM147 451.7h1.7v1.7h-1.7zM74.1 453.3h1.7v1.7h-1.7zM113.8 453.5h1.7v1.7h-1.7zM108 454.3h1.7v1.7h-1.7zM107.2 452.5h1.7v1.7h-1.7zM123.9 455h1.7v1.7h-1.7zM116.7 453.8h1.7v1.7h-1.7zM119.6 455.5h1.7v1.7h-1.7zM100.5 454.1h1.7v1.7h-1.7zM104 454.4h1.7v1.7h-1.7zM86.1 452.7h1.7v1.7h-1.7zM124.5 453.3h1.7v1.7h-1.7zM90.3 455.5h1.7v1.7h-1.7zM133.4 453h1.7v1.7h-1.7zM104.3 453.5h1.7v1.7h-1.7zM102.4 453.7h1.7v1.7h-1.7zM102.2 454.6h1.7v1.7h-1.7zM94.1 454h1.7v1.7h-1.7zM106.7 455.5h1.7v1.7h-1.7zM98.7 453.9h1.7v1.7h-1.7zM93 454h1.7v1.7h-1.7zM118.9 455.1h1.7v1.7h-1.7zM62 454.3h1.7v1.7h-1.7zM109.7 453.8h1.7v1.7h-1.7zM106.7 449.8h1.7v1.7h-1.7zM84.8 453.2h1.7v1.7h-1.7zM144.2 451.1h1.7v1.7h-1.7zM99.2 455.5h1.7v1.7h-1.7zM123 453h1.7v1.7h-1.7zM138.1 454.1h1.7v1.7h-1.7zM116.3 453.2h1.7v1.7h-1.7zM116.5 455.5h1.7v1.7h-1.7zM127.7 453.2h1.7v1.7h-1.7zM110.6 451.8h1.7v1.7h-1.7zM91.9 454.8h1.7v1.7h-1.7zM117.6 454.5h1.7v1.7h-1.7zM106.5 452.7h1.7v1.7h-1.7zM128.7 454.4h1.7v1.7h-1.7zM114.9 453.2h1.7v1.7h-1.7zM112.2 451.9h1.7v1.7h-1.7zM127.3 452.8h1.7v1.7h-1.7zM78 454.2h1.7v1.7h-1.7zM113.3 454.4h1.7v1.7h-1.7zM105.9 454.8h1.7v1.7h-1.7zM124.9 455.1h1.7v1.7h-1.7zM130.5 452.6h1.7v1.7h-1.7zM118.1 454.7h1.7v1.7h-1.7zM87.2 453h1.7v1.7h-1.7zM85.5 452.6h1.7v1.7h-1.7zM152.9 452.9h1.7v1.7h-1.7zM116.7 452.8h1.7v1.7h-1.7zM128.9 453.2h1.7v1.7h-1.7zM118.4 452.7h1.7v1.7h-1.7zM108.2 455.4h1.7v1.7h-1.7zM103.4 454h1.7v1.7h-1.7zM102 454.3h1.7v1.7h-1.7zM91.3 453.6h1.7v1.7h-1.7zM114.2 454.6h1.7v1.7h-1.7zM104.6 453.4h1.7v1.7h-1.7zM116.1 454.8h1.7v1.7h-1.7zM130.9 454.5h1.7v1.7h-1.7zM104.2 454.5h1.7v1.7h-1.7zM134.9 455.4h1.7v1.7h-1.7zM109.4 453.6h1.7v1.7h-1.7zM104.7 453.6h1.7v1.7h-1.7zM124.2 453.2h1.7v1.7h-1.7zM84.7 453.8h1.7v1.7h-1.7zM96 454.3h1.7v1.7h-1.7zM73.1 455.4h1.7v1.7h-1.7zM96.7 452.9h1.7v1.7h-1.7zM112.6 452.9h1.7v1.7h-1.7zM103.7 451.5h1.7v1.7h-1.7zM103.7 451.6h1.7v1.7h-1.7zM103 453.5h1.7v1.7h-1.7zM125 454.7h1.7v1.7h-1.7zM109.8 452.8h1.7v1.7h-1.7zM105.3 455.3h1.7v1.7h-1.7zM99.5 454.7h1.7v1.7h-1.7zM74.1 453.7h1.7v1.7h-1.7zM104.2 452.5h1.7v1.7h-1.7zM105.1 454.2h1.7v1.7h-1.7zM103.6 455h1.7v1.7h-1.7zM120.2 454.6h1.7v1.7h-1.7zM98 454.7h1.7v1.7h-1.7zM123.9 451.9h1.7v1.7h-1.7zM94 454.2h1.7v1.7h-1.7zM138 453h1.7v1.7h-1.7zM123.4 454.5h1.7v1.7h-1.7zM92.9 453.2h1.7v1.7h-1.7zM103.7 453.9h1.7v1.7h-1.7zM141.6 452.5h1.7v1.7h-1.7zM132.8 455.1h1.7v1.7h-1.7zM96 455.2h1.7v1.7h-1.7zM97.3 455.2h1.7v1.7h-1.7zM100.4 453.1h1.7v1.7h-1.7zM153.2 454.5h1.7v1.7h-1.7zM126.5 455.5h1.7v1.7h-1.7zM121.5 452.9h1.7v1.7h-1.7zM94.1 449.8h1.7v1.7h-1.7zM126.8 454.6h1.7v1.7h-1.7zM91.9 453.8h1.7v1.7h-1.7zM120.2 449.8h1.7v1.7h-1.7zM114.5 453.6h1.7v1.7h-1.7zM120.6 453.9h1.7v1.7h-1.7zM110.4 454.7h1.7v1.7h-1.7zM122.1 453h1.7v1.7h-1.7zM92.1 453.2h1.7v1.7h-1.7zM110.1 451.8h1.7v1.7h-1.7zM107.4 452h1.7v1.7h-1.7zM123.7 454h1.7v1.7h-1.7zM141.8 455.1h1.7v1.7h-1.7zM142.2 454.1h1.7v1.7h-1.7zM125.2 455.3h1.7v1.7h-1.7zM91.7 455h1.7v1.7h-1.7zM132 453.2h1.7v1.7h-1.7zM104.7 453.2h1.7v1.7h-1.7zM125.2 453.7h1.7v1.7h-1.7zM115.4 454.9h1.7v1.7h-1.7zM97.6 455.4h1.7v1.7h-1.7zM112.7 454h1.7v1.7h-1.7zM106.2 455.2h1.7v1.7h-1.7zM114.2 453.3h1.7v1.7h-1.7zM94.4 454.7h1.7v1.7h-1.7zM115.1 454.8h1.7v1.7h-1.7zM116.1 454.6h1.7v1.7h-1.7zM129.6 455.1h1.7v1.7h-1.7zM92.6 454h1.7v1.7h-1.7zM137.4 451.6h1.7v1.7h-1.7zM108.7 455.4h1.7v1.7h-1.7zM127.3 452.4h1.7v1.7h-1.7zM108.3 452.3h1.7v1.7h-1.7zM121.5 453.4h1.7v1.7h-1.7zM118.2 455.4h1.7v1.7h-1.7zM97.8 450.5h1.7v1.7h-1.7zM91.6 452.4h1.7v1.7h-1.7zM126.4 454.9h1.7v1.7h-1.7zM121.5 454.8h1.7v1.7h-1.7zM137.7 452.6h1.7v1.7h-1.7zM102 453.5h1.7v1.7h-1.7zM92 452h1.7v1.7h-1.7zM130 454.7h1.7v1.7h-1.7zM76.6 455.5h1.7v1.7h-1.7zM100.2 454.5h1.7v1.7h-1.7zM109.9 454h1.7v1.7h-1.7zM99.4 453.9h1.7v1.7h-1.7zM96 455.3h1.7v1.7h-1.7zM95 454.6h1.7v1.7h-1.7zM139.2 454.4h1.7v1.7h-1.7zM128.6 454.6h1.7v1.7h-1.7zM95.5 454.9h1.7v1.7h-1.7zM111.9 454.6h1.7v1.7h-1.7zM101.2 454.3h1.7v1.7h-1.7zM99.3 455.4h1.7v1.7h-1.7zM110.6 453.2h1.7v1.7h-1.7zM126.8 455.4h1.7v1.7h-1.7zM112.5 455.5h1.7v1.7h-1.7zM77.3 452.7h1.7v1.7h-1.7zM96.5 453.5h1.7v1.7h-1.7zM101.6 454.3h1.7v1.7h-1.7zM94.4 453.8h1.7v1.7h-1.7zM103.3 453.3h1.7v1.7h-1.7zM84.4 455.2h1.7v1.7h-1.7zM117.3 455.3h1.7v1.7h-1.7zM110.5 453.9h1.7v1.7h-1.7zM115.4 453.5h1.7v1.7h-1.7zM120.9 453.9h1.7v1.7h-1.7zM105.4 452.5h1.7v1.7h-1.7zM149.7 452.5h1.7v1.7h-1.7zM117.6 454h1.7v1.7h-1.7zM98.7 452.1h1.7v1.7h-1.7zM116.1 452.7h1.7v1.7h-1.7zM135.8 454.3h1.7v1.7h-1.7zM131.8 454.7h1.7v1.7h-1.7zM76.5 454h1.7v1.7h-1.7zM108.5 455.2h1.7v1.7h-1.7zM134.9 454.2h1.7v1.7h-1.7zM109.2 455.4h1.7v1.7h-1.7zM109.4 453.4h1.7v1.7h-1.7zM91.3 450.2h1.7v1.7h-1.7zM116.1 455.1h1.7v1.7h-1.7zM114 453.4h1.7v1.7h-1.7zM110.9 453.5h1.7v1.7h-1.7zM94.7 454.8h1.7v1.7h-1.7zM120.9 454.3h1.7v1.7h-1.7zM110.1 454.8h1.7v1.7h-1.7zM133 453h1.7v1.7h-1.7zM100.7 453.3h1.7v1.7h-1.7zM116.7 454.9h1.7v1.7h-1.7zM96.3 450.8h1.7v1.7h-1.7zM77.6 453.8h1.7v1.7h-1.7zM114.7 453.5h1.7v1.7h-1.7zM81.3 454.7h1.7v1.7h-1.7zM133.6 452.6h1.7v1.7h-1.7zM106.8 455.5h1.7v1.7h-1.7zM96.7 454.7h1.7v1.7h-1.7zM94.1 451.4h1.7v1.7h-1.7zM86.6 455.4h1.7v1.7h-1.7zM89.8 453.2h1.7v1.7h-1.7zM131.2 453.5h1.7v1.7h-1.7zM121.2 453.2h1.7v1.7h-1.7zM115 453.7h1.7v1.7h-1.7zM118.2 453.9h1.7v1.7h-1.7zM94.7 454.2h1.7v1.7h-1.7zM94.9 453.8h1.7v1.7h-1.7zM118.8 453.9h1.7v1.7h-1.7zM95.1 454.4h1.7v1.7h-1.7zM124.7 455.3h1.7v1.7h-1.7zM107 454.1h1.7v1.7h-1.7zM108.9 452.2h1.7v1.7h-1.7zM99.9 454.8h1.7v1.7h-1.7zM137.8 454h1.7v1.7h-1.7zM92.7 453.3h1.7v1.7h-1.7zM90.7 454.4h1.7v1.7h-1.7zM70.6 453.5h1.7v1.7h-1.7zM125.4 454.3h1.7v1.7h-1.7zM99.3 455.4h1.7v1.7h-1.7zM110.8 454.6h1.7v1.7h-1.7zM100.1 451.8h1.7v1.7h-1.7zM134.5 454.9h1.7v1.7h-1.7zM92.5 454.5h1.7v1.7h-1.7zM106.2 454.5h1.7v1.7h-1.7zM136.3 454.5h1.7v1.7h-1.7zM113.2 454.7h1.7v1.7h-1.7zM113.1 454.1h1.7v1.7h-1.7zM116.8 453.1h1.7v1.7h-1.7zM104.5 454.9h1.7v1.7h-1.7zM112.6 452.8h1.7v1.7h-1.7zM139.6 452.8h1.7v1.7h-1.7zM105.1 453.7h1.7v1.7h-1.7zM134.6 454.6h1.7v1.7h-1.7zM102.8 451.6h1.7v1.7h-1.7zM108.9 454h1.7v1.7h-1.7zM110.7 455.1h1.7v1.7h-1.7zM99 455.2h1.7v1.7h-1.7zM107.5 454h1.7v1.7h-1.7zM123 453.8h1.7v1.7h-1.7zM108.9 453.9h1.7v1.7h-1.7zM107.5 453.1h1.7v1.7h-1.7zM117.2 454.7h1.7v1.7h-1.7zM130.4 452.4h1.7v1.7h-1.7zM95.4 453.9h1.7v1.7h-1.7zM108.7 453h1.7v1.7h-1.7zM91.7 451.7h1.7v1.7h-1.7zM112.6 454h1.7v1.7h-1.7zM145.6 453.9h1.7v1.7h-1.7zM92.6 452.8h1.7v1.7h-1.7zM112.5 453.3h1.7v1.7h-1.7zM93.2 453.1h1.7v1.7h-1.7zM128.3 454.7h1.7v1.7h-1.7zM97.3 454.8h1.7v1.7h-1.7zM115 450.6h1.7v1.7h-1.7zM139.5 452.4h1.7v1.7h-1.7zM107.3 454.9h1.7v1.7h-1.7zM116.7 455h1.7v1.7h-1.7zM103.4 455.1h1.7v1.7h-1.7zM124.2 455.4h1.7v1.7h-1.7zM114.6 455h1.7v1.7h-1.7zM107.7 454.9h1.7v1.7h-1.7zM130.9 455.1h1.7v1.7h-1.7zM134.6 455.2h1.7v1.7h-1.7zM127.7 452.7h1.7v1.7h-1.7zM104.4 455.4h1.7v1.7h-1.7zM100.8 455.3h1.7v1.7h-1.7zM96.2 455.2h1.7v1.7h-1.7zM100.2 455.5h1.7v1.7h-1.7zM106.1 453.5h1.7v1.7h-1.7zM104.3 455.5h1.7v1.7h-1.7zM90.6 455.3h1.7v1.7h-1.7zM130.7 455.1h1.7v1.7h-1.7zM119.5 454.2h1.7v1.7h-1.7zM98.1 452.8h1.7v1.7h-1.7zM150.7 453.4h1.7v1.7h-1.7zM144.9 454.1h1.7v1.7h-1.7zM134 451.8h1.7v1.7h-1.7zM128.9 455.2h1.7v1.7h-1.7zM90.5 453.9h1.7v1.7h-1.7zM94.2 453.7h1.7v1.7h-1.7zM116.8 455.2h1.7v1.7h-1.7zM71 454.9h1.7v1.7h-1.7zM118.2 455.4h1.7v1.7h-1.7zM137.6 451.8h1.7v1.7h-1.7zM114.7 455.5h1.7v1.7h-1.7zM122.3 452.8h1.7v1.7h-1.7zM90.1 455.2h1.7v1.7h-1.7zM112 451.8h1.7v1.7h-1.7zM116.6 455.5h1.7v1.7h-1.7zM122.5 450.2h1.7v1.7h-1.7zM118.8 453.7h1.7v1.7h-1.7zM103.2 453.9h1.7v1.7h-1.7zM137.6 455.2h1.7v1.7h-1.7zM109.1 452.8h1.7v1.7h-1.7zM96.6 455.2h1.7v1.7h-1.7zM102.8 453.5h1.7v1.7h-1.7zM113.9 451.3h1.7v1.7h-1.7zM114.8 454.5h1.7v1.7h-1.7zM110.3 453.2h1.7v1.7h-1.7zM113.7 453.7h1.7v1.7h-1.7zM112.4 452.6h1.7v1.7h-1.7zM109.5 453.1h1.7v1.7h-1.7zM109.7 451.3h1.7v1.7h-1.7zM115.3 454.2h1.7v1.7h-1.7zM106.2 453.8h1.7v1.7h-1.7zM107.2 452.5h1.7v1.7h-1.7zM115.6 453.1h1.7v1.7h-1.7zM134.3 453.9h1.7v1.7h-1.7zM111.1 454.1h1.7v1.7h-1.7zM69.7 452.4h1.7v1.7h-1.7zM100.5 454.2h1.7v1.7h-1.7zM151.5 452.2h1.7v1.7h-1.7zM104.2 454.8h1.7v1.7h-1.7zM117.5 452.1h1.7v1.7h-1.7zM96 452.5h1.7v1.7h-1.7zM101.3 454.4h1.7v1.7h-1.7zM89.1 453.7h1.7v1.7h-1.7zM81.9 455h1.7v1.7h-1.7zM129.2 455.3h1.7v1.7h-1.7zM106.5 455h1.7v1.7h-1.7zM118.2 455h1.7v1.7h-1.7zM119.6 451.5h1.7v1.7h-1.7zM146.1 454.4h1.7v1.7h-1.7zM90.8 451.6h1.7v1.7h-1.7zM126.4 453h1.7v1.7h-1.7zM120.4 455.1h1.7v1.7h-1.7zM126.3 453.2h1.7v1.7h-1.7zM129.5 453.3h1.7v1.7h-1.7zM127.2 454.8h1.7v1.7h-1.7zM105.2 454.8h1.7v1.7h-1.7zM105.3 450.7h1.7v1.7h-1.7zM119.8 455h1.7v1.7h-1.7zM107.8 455h1.7v1.7h-1.7zM107.2 454.3h1.7v1.7h-1.7zM124.5 453.8h1.7v1.7h-1.7zM90.9 454.9h1.7v1.7h-1.7zM112.2 453h1.7v1.7h-1.7zM116.9 455.3h1.7v1.7h-1.7zM111.8 454.7h1.7v1.7h-1.7zM101 452.3h1.7v1.7h-1.7zM127.3 454.4h1.7v1.7h-1.7zM118.3 454h1.7v1.7h-1.7zM98.7 454.8h1.7v1.7h-1.7zM121.9 450.2h1.7v1.7h-1.7zM89.9 454.9h1.7v1.7h-1.7zM120.7 453.7h1.7v1.7h-1.7zM124.5 451h1.7v1.7h-1.7zM114.2 455.5h1.7v1.7h-1.7zM112 453.5h1.7v1.7h-1.7zM119.6 455.2h1.7v1.7h-1.7zM122.7 452.6h1.7v1.7h-1.7zM111.5 455.2h1.7v1.7h-1.7zM116 451.9h1.7v1.7h-1.7zM87.7 455.5h1.7v1.7h-1.7zM100.9 455.3h1.7v1.7h-1.7zM124.1 455.4h1.7v1.7h-1.7zM122.5 455.1h1.7v1.7h-1.7zM99.6 454.2h1.7v1.7h-1.7zM89 455.1h1.7v1.7h-1.7zM104.6 453.8h1.7v1.7h-1.7zM126.2 453.7h1.7v1.7h-1.7zM93.7 454.3h1.7v1.7h-1.7zM97 455.1h1.7v1.7h-1.7zM120.6 454.8h1.7v1.7h-1.7zM139.1 454h1.7v1.7h-1.7zM117.6 454.7h1.7v1.7h-1.7zM65.2 455.2h1.7v1.7h-1.7zM108.4 454.3h1.7v1.7h-1.7zM108.8 454.1h1.7v1.7h-1.7zM102.7 454.9h1.7v1.7h-1.7zM122.9 455h1.7v1.7h-1.7zM130.4 453.8h1.7v1.7h-1.7zM99.1 453.4h1.7v1.7h-1.7zM75 455.5h1.7v1.7h-1.7zM95.4 455.4h1.7v1.7h-1.7zM129.2 455.5h1.7v1.7h-1.7zM108.2 452.9h1.7v1.7h-1.7zM98.8 453.9h1.7v1.7h-1.7zM126.3 454.3h1.7v1.7h-1.7zM88.3 455.2h1.7v1.7h-1.7zM123.3 455.2h1.7v1.7h-1.7zM104.5 455.2h1.7v1.7h-1.7zM114.3 454.1h1.7v1.7h-1.7zM124.2 452.3h1.7v1.7h-1.7zM109.7 451.1h1.7v1.7h-1.7zM94.1 455.5h1.7v1.7h-1.7zM74.9 453.9h1.7v1.7h-1.7zM92.6 455.4h1.7v1.7h-1.7zM103.1 451.7h1.7v1.7h-1.7zM96.3 455.5h1.7v1.7h-1.7zM114.3 454.2h1.7v1.7h-1.7zM125.1 452.4h1.7v1.7h-1.7zM145.6 454.9h1.7v1.7h-1.7zM99.5 452.2h1.7v1.7h-1.7zM103.8 451.9h1.7v1.7h-1.7zM113.8 454.3h1.7v1.7h-1.7zM116 453.9h1.7v1.7h-1.7zM112 450.9h1.7v1.7h-1.7zM129.4 455.2h1.7v1.7h-1.7zM93.8 452.3h1.7v1.7h-1.7zM120.8 451.8h1.7v1.7h-1.7zM153.3 452.9h1.7v1.7h-1.7zM65.7 452.8h1.7v1.7h-1.7zM70.2 451.5h1.7v1.7h-1.7zM147.2 454.3h1.7v1.7h-1.7zM77.9 452.7h1.7v1.7h-1.7zM135.7 451.5h1.7v1.7h-1.7zM122.1 455h1.7v1.7h-1.7zM132.5 455.3h1.7v1.7h-1.7zM146.8 452.4h1.7v1.7h-1.7zM138.5 452h1.7v1.7h-1.7zM116.6 451.7h1.7v1.7h-1.7zM123.7 453.5h1.7v1.7h-1.7zM98 454.1h1.7v1.7h-1.7zM61.5 454.9h1.7v1.7h-1.7zM139.5 454.6h1.7v1.7h-1.7zM125.2 452.4h1.7v1.7h-1.7zM129.3 453.4h1.7v1.7h-1.7zM91.1 454.4h1.7v1.7h-1.7zM78.1 452.9h1.7v1.7h-1.7zM128.5 451.7h1.7v1.7h-1.7zM92.5 451.7h1.7v1.7h-1.7zM151.2 454.4h1.7v1.7h-1.7zM155.3 453h1.7v1.7h-1.7zM156.4 452.4h1.7v1.7h-1.7zM92.8 454.4h1.7v1.7h-1.7zM111.9 453.5h1.7v1.7h-1.7zM62.7 452h1.7v1.7h-1.7zM113.2 453.6h1.7v1.7h-1.7zM134.4 454.5h1.7v1.7h-1.7zM79.3 453.2h1.7v1.7h-1.7zM83.5 454.2h1.7v1.7h-1.7zM66.2 455.3h1.7v1.7h-1.7zM95 453.4h1.7v1.7h-1.7zM155 452.9h1.7v1.7h-1.7zM101 453.9h1.7v1.7h-1.7zM82.9 453.6h1.7v1.7h-1.7zM156 455h1.7v1.7h-1.7zM102.9 452.7h1.7v1.7h-1.7zM136.2 453.3h1.7v1.7h-1.7zM123.9 451.7h1.7v1.7h-1.7zM150.3 454.5h1.7v1.7h-1.7zM113.8 451.5h1.7v1.7h-1.7zM112.4 454.8h1.7v1.7h-1.7zM136.5 455.3h1.7v1.7h-1.7zM74.3 453.3h1.7v1.7h-1.7zM86.7 452.6h1.7v1.7h-1.7zM132.6 454.2h1.7v1.7h-1.7zM136.6 452.9h1.7v1.7h-1.7zM130.5 453.7h1.7v1.7h-1.7zM102.8 455.1h1.7v1.7h-1.7zM107.1 451.6h1.7v1.7h-1.7zM148.9 455.3h1.7v1.7h-1.7zM66.3 454.4h1.7v1.7h-1.7zM129.3 453.8h1.7v1.7h-1.7zM72.1 453.8h1.7v1.7h-1.7zM117 452.5h1.7v1.7h-1.7zM99.9 452.9h1.7v1.7h-1.7zM128 453h1.7v1.7h-1.7zM63.8 452.6h1.7v1.7h-1.7zM72.1 455.3h1.7v1.7h-1.7zM107 455.5h1.7v1.7h-1.7zM66.5 453.9h1.7v1.7h-1.7zM106.5 455.1h1.7v1.7h-1.7zM155.5 452h1.7v1.7h-1.7zM108.3 453.1h1.7v1.7h-1.7zM91 451.5h1.7v1.7h-1.7zM71.3 454.3h1.7v1.7h-1.7zM81.5 452h1.7v1.7h-1.7zM110.5 453.9h1.7v1.7h-1.7zM99.4 451.9h1.7v1.7h-1.7zM85.2 452.3h1.7v1.7h-1.7zM130.7 453.7h1.7v1.7h-1.7zM96.1 453.8h1.7v1.7h-1.7zM104.9 454.3h1.7v1.7h-1.7zM122.2 453.9h1.7v1.7h-1.7zM89.8 452.4h1.7v1.7h-1.7zM105.1 453.6h1.7v1.7h-1.7zM148 453.7h1.7v1.7h-1.7zM97.1 451.9h1.7v1.7h-1.7zM157.8 452.3h1.7v1.7h-1.7zM99.7 452.8h1.7v1.7h-1.7zM134 454.3h1.7v1.7h-1.7zM132.3 451.6h1.7v1.7h-1.7zM125.4 452.8h1.7v1.7h-1.7zM103.1 452.9h1.7v1.7h-1.7zM82 452.4h1.7v1.7h-1.7zM113.6 451.5h1.7v1.7h-1.7zM93.7 452.6h1.7v1.7h-1.7zM60.8 453.8h1.7v1.7h-1.7zM136.6 454.5h1.7v1.7h-1.7zM121.1 454.6h1.7v1.7h-1.7zM99.4 451.5h1.7v1.7h-1.7zM79 451.8h1.7v1.7h-1.7zM65.2 453.2h1.7v1.7h-1.7zM142.1 452.1h1.7v1.7h-1.7zM98.7 453.1h1.7v1.7h-1.7zM131.1 452.4h1.7v1.7h-1.7zM134.6 453.2h1.7v1.7h-1.7zM84.6 452.7h1.7v1.7h-1.7zM115.8 453.3h1.7v1.7h-1.7zM158.8 455h1.7v1.7h-1.7zM138 454.2h1.7v1.7h-1.7zM132.5 451.6h1.7v1.7h-1.7zM86.9 453.2h1.7v1.7h-1.7zM112.5 453.5h1.7v1.7h-1.7zM76 453h1.7v1.7h-1.7zM149.4 452.8h1.7v1.7h-1.7zM88.4 452.2h1.7v1.7h-1.7zM101.6 455h1.7v1.7h-1.7zM120.3 453.7h1.7v1.7h-1.7zM112.7 451.5h1.7v1.7h-1.7zM116.7 451.6h1.7v1.7h-1.7zM94.8 452.4h1.7v1.7h-1.7zM66.8 454.3h1.7v1.7h-1.7zM129 452.7h1.7v1.7h-1.7zM142.8 454h1.7v1.7h-1.7zM86.8 454.1h1.7v1.7h-1.7zM113.4 455.5h1.7v1.7h-1.7zM97 452.9h1.7v1.7h-1.7zM74.2 454.3h1.7v1.7h-1.7zM147.3 451.7h1.7v1.7h-1.7zM84.4 454.8h1.7v1.7h-1.7zM71 455.2h1.7v1.7h-1.7zM139.3 452.5h1.7v1.7h-1.7zM85.9 453.5h1.7v1.7h-1.7zM129.4 455.4h1.7v1.7h-1.7zM141.9 452h1.7v1.7h-1.7zM80.5 452.7h1.7v1.7h-1.7zM129.8 454.2h1.7v1.7h-1.7zM147.9 454.7h1.7v1.7h-1.7zM107 454.3h1.7v1.7h-1.7zM103.8 452.2h1.7v1.7h-1.7zM116.7 453h1.7v1.7h-1.7zM158.8 454.6h1.7v1.7h-1.7zM81.6 453h1.7v1.7h-1.7zM74.3 451.6h1.7v1.7h-1.7zM93.6 453.7h1.7v1.7h-1.7zM102.7 452.2h1.7v1.7h-1.7zM151.6 452.8h1.7v1.7h-1.7zM76.5 454.1h1.7v1.7h-1.7zM130.5 454.7h1.7v1.7h-1.7zM148.3 452h1.7v1.7h-1.7zM82 454.1h1.7v1.7h-1.7zM82.3 452.6h1.7v1.7h-1.7zM63.9 452.7h1.7v1.7h-1.7zM65.5 452.1h1.7v1.7h-1.7zM114 453.2h1.7v1.7h-1.7zM68.8 455.4h1.7v1.7h-1.7z" fill="#c2c2c2" stroke="none" stroke-width="1"/>
<line x1="107.87" y1="335.8" x2="107.87" y2="462" stroke="#b0b0b0" stroke-width="0.7" stroke-dasharray="2 1.5"/>
<line x1="113.13" y1="335.8" x2="113.13" y2="462" stroke="#b0b0b0" stroke-width="0.7" stroke-dasharray="2 1.5"/>
<line x1="41.3" y1="450.47" x2="180.5" y2="450.47" stroke="#b0b0b0" stroke-width="0.7" stroke-dasharray="2 1.5"/>
<line x1="39.3" y1="456.4" x2="41.3" y2="456.4" stroke="#444" stroke-width="0.7"/>
<text x="39.3" y="460.09" font-size="10.3" text-anchor="end">0</text>
<line x1="39.3" y1="433.58" x2="41.3" y2="433.58" stroke="#444" stroke-width="0.7"/>
<text x="39.3" y="437.27" font-size="10.3" text-anchor="end">5</text>
<line x1="39.3" y1="410.76" x2="41.3" y2="410.76" stroke="#444" stroke-width="0.7"/>
<text x="39.3" y="414.45" font-size="10.3" text-anchor="end">10</text>
<line x1="39.3" y1="387.94" x2="41.3" y2="387.94" stroke="#444" stroke-width="0.7"/>
<text x="39.3" y="391.63" font-size="10.3" text-anchor="end">15</text>
<line x1="39.3" y1="365.12" x2="41.3" y2="365.12" stroke="#444" stroke-width="0.7"/>
<text x="39.3" y="368.81" font-size="10.3" text-anchor="end">20</text>
<line x1="39.3" y1="342.3" x2="41.3" y2="342.3" stroke="#444" stroke-width="0.7"/>
<text x="39.3" y="345.99" font-size="10.3" text-anchor="end">25</text>
<line x1="47.38" y1="462" x2="47.38" y2="464" stroke="#444" stroke-width="0.7"/>
<text x="47.38" y="476.19" font-size="10.3" text-anchor="middle">-6</text>
<line x1="68.42" y1="462" x2="68.42" y2="464" stroke="#444" stroke-width="0.7"/>
<text x="68.42" y="476.19" font-size="10.3" text-anchor="middle">-4</text>
<line x1="89.46" y1="462" x2="89.46" y2="464" stroke="#444" stroke-width="0.7"/>
<text x="89.46" y="476.19" font-size="10.3" text-anchor="middle">-2</text>
<line x1="110.5" y1="462" x2="110.5" y2="464" stroke="#444" stroke-width="0.7"/>
<text x="110.5" y="476.19" font-size="10.3" text-anchor="middle">0</text>
<line x1="131.54" y1="462" x2="131.54" y2="464" stroke="#444" stroke-width="0.7"/>
<text x="131.54" y="476.19" font-size="10.3" text-anchor="middle">2</text>
<line x1="152.58" y1="462" x2="152.58" y2="464" stroke="#444" stroke-width="0.7"/>
<text x="152.58" y="476.19" font-size="10.3" text-anchor="middle">4</text>
<line x1="173.62" y1="462" x2="173.62" y2="464" stroke="#444" stroke-width="0.7"/>
<text x="173.62" y="476.19" font-size="10.3" text-anchor="middle">6</text>
<circle cx="90.3" cy="435.28" r="1" fill="#2878be" stroke="none" stroke-width="0"/>
<circle cx="91.57" cy="442.53" r="1" fill="#2878be" stroke="none" stroke-width="0"/>
<circle cx="102.77" cy="448.87" r="1" fill="#2878be" stroke="none" stroke-width="0"/>
<circle cx="92.31" cy="448.72" r="1" fill="#2878be" stroke="none" stroke-width="0"/>
<circle cx="103.45" cy="445.45" r="1" fill="#2878be" stroke="none" stroke-width="0"/>
<circle cx="99.55" cy="441.47" r="1" fill="#2878be" stroke="none" stroke-width="0"/>
<circle cx="102.15" cy="443.57" r="1" fill="#2878be" stroke="none" stroke-width="0"/>
<circle cx="103.87" cy="442.05" r="1" fill="#2878be" stroke="none" stroke-width="0"/>
<circle cx="101.3" cy="445.26" r="1" fill="#2878be" stroke="none" stroke-width="0"/>
<circle cx="106.76" cy="444.7" r="1" fill="#2878be" stroke="none" stroke-width="0"/>
<circle cx="106.7" cy="448.86" r="1" fill="#2878be" stroke="none" stroke-width="0"/>
<circle cx="102.12" cy="442.06" r="1" fill="#2878be" stroke="none" stroke-width="0"/>
<circle cx="106.28" cy="446.9" r="1" fill="#2878be" stroke="none" stroke-width="0"/>
<circle cx="100.77" cy="444.09" r="1" fill="#2878be" stroke="none" stroke-width="0"/>
<circle cx="98.65" cy="449.6" r="1" fill="#2878be" stroke="none" stroke-width="0"/>
<circle cx="94.79" cy="443.04" r="1" fill="#2878be" stroke="none" stroke-width="0"/>
<circle cx="96.85" cy="443.48" r="1" fill="#2878be" stroke="none" stroke-width="0"/>
<circle cx="102.87" cy="442.97" r="1" fill="#2878be" stroke="none" stroke-width="0"/>
<circle cx="98.77" cy="446.71" r="1" fill="#2878be" stroke="none" stroke-width="0"/>
<circle cx="96.17" cy="449.82" r="1" fill="#2878be" stroke="none" stroke-width="0"/>
<circle cx="95.33" cy="448.59" r="1" fill="#2878be" stroke="none" stroke-width="0"/>
<circle cx="102.02" cy="436.91" r="1" fill="#2878be" stroke="none" stroke-width="0"/>
<circle cx="106.49" cy="448.67" r="1" fill="#2878be" stroke="none" stroke-width="0"/>
<circle cx="106.06" cy="448.47" r="1" fill="#2878be" stroke="none" stroke-width="0"/>
<circle cx="103.03" cy="441.49" r="1" fill="#2878be" stroke="none" stroke-width="0"/>
<circle cx="105.45" cy="445.95" r="1" fill="#2878be" stroke="none" stroke-width="0"/>
<circle cx="94.61" cy="441.08" r="1" fill="#2878be" stroke="none" stroke-width="0"/>
<circle cx="100.94" cy="441.05" r="1" fill="#2878be" stroke="none" stroke-width="0"/>
<circle cx="106.46" cy="442.98" r="1" fill="#2878be" stroke="none" stroke-width="0"/>
<circle cx="97.22" cy="445.14" r="1" fill="#2878be" stroke="none" stroke-width="0"/>
<circle cx="85.48" cy="436.57" r="1" fill="#2878be" stroke="none" stroke-width="0"/>
<circle cx="91.22" cy="443.96" r="1" fill="#2878be" stroke="none" stroke-width="0"/>
<circle cx="100.45" cy="447.84" r="1" fill="#2878be" stroke="none" stroke-width="0"/>
<circle cx="95.16" cy="448.56" r="1" fill="#2878be" stroke="none" stroke-width="0"/>
<circle cx="98.7" cy="449.5" r="1" fill="#2878be" stroke="none" stroke-width="0"/>
<circle cx="99.43" cy="444.13" r="1" fill="#2878be" stroke="none" stroke-width="0"/>
<circle cx="103.07" cy="449.86" r="1" fill="#2878be" stroke="none" stroke-width="0"/>
<circle cx="105.26" cy="449.97" r="1" fill="#2878be" stroke="none" stroke-width="0"/>
<circle cx="101.21" cy="444.92" r="1" fill="#2878be" stroke="none" stroke-width="0"/>
<circle cx="103.88" cy="447.63" r="1" fill="#2878be" stroke="none" stroke-width="0"/>
<circle cx="86.1" cy="444.23" r="1" fill="#2878be" stroke="none" stroke-width="0"/>
<circle cx="92.07" cy="445.74" r="1" fill="#2878be" stroke="none" stroke-width="0"/>
<circle cx="96.33" cy="445.4" r="1" fill="#2878be" stroke="none" stroke-width="0"/>
<circle cx="101.91" cy="443.69" r="1" fill="#2878be" stroke="none" stroke-width="0"/>
<circle cx="95.33" cy="444.4" r="1" fill="#2878be" stroke="none" stroke-width="0"/>
<circle cx="104.68" cy="443.21" r="1" fill="#2878be" stroke="none" stroke-width="0"/>
<circle cx="98.56" cy="448.44" r="1" fill="#2878be" stroke="none" stroke-width="0"/>
<circle cx="95" cy="445.77" r="1" fill="#2878be" stroke="none" stroke-width="0"/>
<circle cx="100.19" cy="449.51" r="1" fill="#2878be" stroke="none" stroke-width="0"/>
<circle cx="103.18" cy="446.31" r="1" fill="#2878be" stroke="none" stroke-width="0"/>
<circle cx="92.43" cy="445.23" r="1" fill="#2878be" stroke="none" stroke-width="0"/>
<circle cx="94.84" cy="436.11" r="1" fill="#2878be" stroke="none" stroke-width="0"/>
<circle cx="102.74" cy="448.94" r="1" fill="#2878be" stroke="none" stroke-width="0"/>
<circle cx="102" cy="446.23" r="1" fill="#2878be" stroke="none" stroke-width="0"/>
<circle cx="100.83" cy="440.58" r="1" fill="#2878be" stroke="none" stroke-width="0"/>
<circle cx="106.65" cy="447.82" r="1" fill="#2878be" stroke="none" stroke-width="0"/>
<circle cx="90.28" cy="447.57" r="1" fill="#2878be" stroke="none" stroke-width="0"/>
<circle cx="102.78" cy="446.7" r="1" fill="#2878be" stroke="none" stroke-width="0"/>
<circle cx="101.26" cy="449.3" r="1" fill="#2878be" stroke="none" stroke-width="0"/>
<circle cx="83.3" cy="447.35" r="1" fill="#2878be" stroke="none" stroke-width="0"/>
<circle cx="103.64" cy="445.55" r="1" fill="#2878be" stroke="none" stroke-width="0"/>
<circle cx="103.97" cy="446.41" r="1" fill="#2878be" stroke="none" stroke-width="0"/>
<circle cx="98.17" cy="443.38" r="1" fill="#2878be" stroke="none" stroke-width="0"/>
<circle cx="104.22" cy="449.26" r="1" fill="#2878be" stroke="none" stroke-width="0"/>
<circle cx="98.24" cy="447.58" r="1" fill="#2878be" stroke="none" stroke-width="0"/>
<circle cx="103.6" cy="445.65" r="1" fill="#2878be" stroke="none" stroke-width="0"/>
<circle cx="105.5" cy="446.02" r="1" fill="#2878be" stroke="none" stroke-width="0"/>
<circle cx="81.95" cy="449.49" r="1" fill="#2878be" stroke="none" stroke-width="0"/>
<circle cx="106.33" cy="444.85" r="1" fill="#2878be" stroke="none" stroke-width="0"/>
<circle cx="94.5" cy="445.27" r="1" fill="#2878be" stroke="none" stroke-width="0"/>
<circle cx="101.25" cy="448.36" r="1" fill="#2878be" stroke="none" stroke-width="0"/>
<circle cx="106.19" cy="444.74" r="1" fill="#2878be" stroke="none" stroke-width="0"/>
<circle cx="98.58" cy="441.79" r="1" fill="#2878be" stroke="none" stroke-width="0"/>
<circle cx="92.84" cy="448.8" r="1" fill="#2878be" stroke="none" stroke-width="0"/>
<circle cx="100.36" cy="445.49" r="1" fill="#2878be" stroke="none" stroke-width="0"/>
<circle cx="104.57" cy="442.71" r="1" fill="#2878be" stroke="none" stroke-width="0"/>
<circle cx="96.54" cy="447.32" r="1" fill="#2878be" stroke="none" stroke-width="0"/>
<circle cx="98.12" cy="444.78" r="1" fill="#2878be" stroke="none" stroke-width="0"/>
<circle cx="104.67" cy="449.55" r="1" fill="#2878be" stroke="none" stroke-width="0"/>
<circle cx="97.75" cy="449.35" r="1" fill="#2878be" stroke="none" stroke-width="0"/>
<circle cx="104.23" cy="446.84" r="1" fill="#2878be" stroke="none" stroke-width="0"/>
<circle cx="89.26" cy="442.23" r="1" fill="#2878be" stroke="none" stroke-width="0"/>
<circle cx="102.09" cy="443.19" r="1" fill="#2878be" stroke="none" stroke-width="0"/>
<circle cx="90.69" cy="449.99" r="1" fill="#2878be" stroke="none" stroke-width="0"/>
<circle cx="100.4" cy="448.13" r="1" fill="#2878be" stroke="none" stroke-width="0"/>
<circle cx="101.19" cy="440.48" r="1" fill="#2878be" stroke="none" stroke-width="0"/>
<circle cx="90.12" cy="443.99" r="1" fill="#2878be" stroke="none" stroke-width="0"/>
<circle cx="100.82" cy="449.15" r="1" fill="#2878be" stroke="none" stroke-width="0"/>
<circle cx="88.94" cy="447.53" r="1" fill="#2878be" stroke="none" stroke-width="0"/>
<circle cx="95.37" cy="442.79" r="1" fill="#2878be" stroke="none" stroke-width="0"/>
<circle cx="105.77" cy="439.81" r="1" fill="#2878be" stroke="none" stroke-width="0"/>
<circle cx="90.05" cy="446.21" r="1" fill="#2878be" stroke="none" stroke-width="0"/>
<circle cx="103.44" cy="446.97" r="1" fill="#2878be" stroke="none" stroke-width="0"/>
<circle cx="104.61" cy="449.65" r="1" fill="#2878be" stroke="none" stroke-width="0"/>
<circle cx="100.18" cy="445.64" r="1" fill="#2878be" stroke="none" stroke-width="0"/>
<circle cx="104.31" cy="448.99" r="1" fill="#2878be" stroke="none" stroke-width="0"/>
<circle cx="99.51" cy="442.88" r="1" fill="#2878be" stroke="none" stroke-width="0"/>
<circle cx="104.56" cy="449.13" r="1" fill="#2878be" stroke="none" stroke-width="0"/>
<circle cx="100.9" cy="446.6" r="1" fill="#2878be" stroke="none" stroke-width="0"/>
<circle cx="105.15" cy="447.11" r="1" fill="#2878be" stroke="none" stroke-width="0"/>
<circle cx="102.68" cy="441.31" r="1" fill="#2878be" stroke="none" stroke-width="0"/>
<circle cx="103.99" cy="446.63" r="1" fill="#2878be" stroke="none" stroke-width="0"/>
<circle cx="97.86" cy="448.64" r="1" fill="#2878be" stroke="none" stroke-width="0"/>
<circle cx="99.58" cy="443.32" r="1" fill="#2878be" stroke="none" stroke-width="0"/>
<circle cx="97.45" cy="449.69" r="1" fill="#2878be" stroke="none" stroke-width="0"/>
<circle cx="104.16" cy="449.72" r="1" fill="#2878be" stroke="none" stroke-width="0"/>
<circle cx="102.16" cy="447.24" r="1" fill="#2878be" stroke="none" stroke-width="0"/>
<circle cx="106.15" cy="449.26" r="1" fill="#2878be" stroke="none" stroke-width="0"/>
<circle cx="97.22" cy="444.5" r="1" fill="#2878be" stroke="none" stroke-width="0"/>
<circle cx="97.6" cy="445.01" r="1" fill="#2878be" stroke="none" stroke-width="0"/>
<circle cx="104.52" cy="440.47" r="1" fill="#2878be" stroke="none" stroke-width="0"/>
<circle cx="88.13" cy="420.75" r="1" fill="#2878be" stroke="none" stroke-width="0"/>
<circle cx="87.8" cy="420.8" r="1" fill="#2878be" stroke="none" stroke-width="0"/>
<circle cx="103.59" cy="443.59" r="1" fill="#2878be" stroke="none" stroke-width="0"/>
<circle cx="85.22" cy="434.97" r="1" fill="#2878be" stroke="none" stroke-width="0"/>
<circle cx="98.93" cy="418.14" r="1" fill="#2878be" stroke="none" stroke-width="0"/>
<circle cx="97.44" cy="413.34" r="1" fill="#2878be" stroke="none" stroke-width="0"/>
<circle cx="82.31" cy="431.52" r="1" fill="#2878be" stroke="none" stroke-width="0"/>
<circle cx="101.96" cy="418.79" r="1" fill="#2878be" stroke="none" stroke-width="0"/>
<circle cx="80.16" cy="411.45" r="1" fill="#2878be" stroke="none" stroke-width="0"/>
<circle cx="98.65" cy="415.35" r="1" fill="#2878be" stroke="none" stroke-width="0"/>
<circle cx="87.5" cy="424.27" r="1" fill="#2878be" stroke="none" stroke-width="0"/>
<circle cx="105.08" cy="414.25" r="1" fill="#2878be" stroke="none" stroke-width="0"/>
<circle cx="93.83" cy="414.53" r="1" fill="#2878be" stroke="none" stroke-width="0"/>
<circle cx="106.26" cy="416.26" r="1" fill="#2878be" stroke="none" stroke-width="0"/>
<circle cx="96.15" cy="412.12" r="1" fill="#2878be" stroke="none" stroke-width="0"/>
<circle cx="81.07" cy="431.17" r="1" fill="#2878be" stroke="none" stroke-width="0"/>
<circle cx="93.45" cy="440.48" r="1" fill="#2878be" stroke="none" stroke-width="0"/>
<circle cx="99.83" cy="442.86" r="1" fill="#2878be" stroke="none" stroke-width="0"/>
<circle cx="95.36" cy="435.42" r="1" fill="#2878be" stroke="none" stroke-width="0"/>
<circle cx="86.35" cy="424.22" r="1" fill="#2878be" stroke="none" stroke-width="0"/>
<circle cx="82.47" cy="429.67" r="1" fill="#2878be" stroke="none" stroke-width="0"/>
<circle cx="102.09" cy="411.21" r="1" fill="#2878be" stroke="none" stroke-width="0"/>
<circle cx="84.57" cy="432.48" r="1" fill="#2878be" stroke="none" stroke-width="0"/>
<circle cx="97.27" cy="438.49" r="1" fill="#2878be" stroke="none" stroke-width="0"/>
<circle cx="101.85" cy="438.19" r="1" fill="#2878be" stroke="none" stroke-width="0"/>
<circle cx="93.23" cy="433.37" r="1" fill="#2878be" stroke="none" stroke-width="0"/>
<circle cx="76.87" cy="444.96" r="1" fill="#2878be" stroke="none" stroke-width="0"/>
<circle cx="76.89" cy="433.76" r="1" fill="#2878be" stroke="none" stroke-width="0"/>
<circle cx="84.94" cy="411.06" r="1" fill="#2878be" stroke="none" stroke-width="0"/>
<circle cx="100" cy="375.8" r="1" fill="#2878be" stroke="none" stroke-width="0"/>
<circle cx="103.5" cy="383" r="1" fill="#2878be" stroke="none" stroke-width="0"/>
<circle cx="93.4" cy="432.4" r="1" fill="#2878be" stroke="none" stroke-width="0"/>
<circle cx="80.3" cy="429.7" r="1" fill="#2878be" stroke="none" stroke-width="0"/>
<circle cx="60.5" cy="423.2" r="1" fill="#2878be" stroke="none" stroke-width="0"/>
<circle cx="62.4" cy="424" r="1" fill="#2878be" stroke="none" stroke-width="0"/>
<circle cx="74.5" cy="445.5" r="1" fill="#2878be" stroke="none" stroke-width="0"/>
<circle cx="93" cy="404" r="1" fill="#2878be" stroke="none" stroke-width="0"/>
<circle cx="98" cy="398" r="1" fill="#2878be" stroke="none" stroke-width="0"/>
<circle cx="89" cy="408" r="1" fill="#2878be" stroke="none" stroke-width="0"/>
<circle cx="85" cy="418" r="1" fill="#2878be" stroke="none" stroke-width="0"/>
<circle cx="76" cy="437" r="1" fill="#2878be" stroke="none" stroke-width="0"/>
<circle cx="70" cy="450" r="1" fill="#2878be" stroke="none" stroke-width="0"/>
<circle cx="103" cy="400" r="1" fill="#2878be" stroke="none" stroke-width="0"/>
<circle cx="107" cy="420" r="1" fill="#2878be" stroke="none" stroke-width="0"/>
<circle cx="96" cy="412" r="1" fill="#2878be" stroke="none" stroke-width="0"/>
<circle cx="67" cy="445.5" r="1" fill="#2878be" stroke="none" stroke-width="0"/>
<circle cx="71" cy="440" r="1" fill="#2878be" stroke="none" stroke-width="0"/>
<circle cx="115.91" cy="448.35" r="1" fill="#db1f48" stroke="none" stroke-width="0"/>
<circle cx="115.12" cy="445.79" r="1" fill="#db1f48" stroke="none" stroke-width="0"/>
<circle cx="128.72" cy="448.91" r="1" fill="#db1f48" stroke="none" stroke-width="0"/>
<circle cx="127.42" cy="439.13" r="1" fill="#db1f48" stroke="none" stroke-width="0"/>
<circle cx="120.93" cy="447.54" r="1" fill="#db1f48" stroke="none" stroke-width="0"/>
<circle cx="120.21" cy="446.92" r="1" fill="#db1f48" stroke="none" stroke-width="0"/>
<circle cx="114.21" cy="443.4" r="1" fill="#db1f48" stroke="none" stroke-width="0"/>
<circle cx="115.8" cy="446.88" r="1" fill="#db1f48" stroke="none" stroke-width="0"/>
<circle cx="118.71" cy="434.86" r="1" fill="#db1f48" stroke="none" stroke-width="0"/>
<circle cx="117.47" cy="442.15" r="1" fill="#db1f48" stroke="none" stroke-width="0"/>
<circle cx="114.99" cy="448.66" r="1" fill="#db1f48" stroke="none" stroke-width="0"/>
<circle cx="118.82" cy="448.07" r="1" fill="#db1f48" stroke="none" stroke-width="0"/>
<circle cx="115.15" cy="442.33" r="1" fill="#db1f48" stroke="none" stroke-width="0"/>
<circle cx="125" cy="436.16" r="1" fill="#db1f48" stroke="none" stroke-width="0"/>
<circle cx="117.68" cy="449.04" r="1" fill="#db1f48" stroke="none" stroke-width="0"/>
<circle cx="123.89" cy="448.54" r="1" fill="#db1f48" stroke="none" stroke-width="0"/>
<circle cx="120.14" cy="441.98" r="1" fill="#db1f48" stroke="none" stroke-width="0"/>
<circle cx="131.47" cy="446.55" r="1" fill="#db1f48" stroke="none" stroke-width="0"/>
<circle cx="116.87" cy="447.92" r="1" fill="#db1f48" stroke="none" stroke-width="0"/>
<circle cx="115.01" cy="448.96" r="1" fill="#db1f48" stroke="none" stroke-width="0"/>
<circle cx="113.96" cy="448.56" r="1" fill="#db1f48" stroke="none" stroke-width="0"/>
<circle cx="115.47" cy="448.18" r="1" fill="#db1f48" stroke="none" stroke-width="0"/>
<circle cx="118.52" cy="449.4" r="1" fill="#db1f48" stroke="none" stroke-width="0"/>
<circle cx="127.71" cy="443.32" r="1" fill="#db1f48" stroke="none" stroke-width="0"/>
<circle cx="116.34" cy="447.52" r="1" fill="#db1f48" stroke="none" stroke-width="0"/>
<circle cx="120.92" cy="441.58" r="1" fill="#db1f48" stroke="none" stroke-width="0"/>
<circle cx="122.63" cy="444.99" r="1" fill="#db1f48" stroke="none" stroke-width="0"/>
<circle cx="130.08" cy="444.18" r="1" fill="#db1f48" stroke="none" stroke-width="0"/>
<circle cx="125.01" cy="435.56" r="1" fill="#db1f48" stroke="none" stroke-width="0"/>
<circle cx="117.42" cy="440.05" r="1" fill="#db1f48" stroke="none" stroke-width="0"/>
<circle cx="120.8" cy="445.07" r="1" fill="#db1f48" stroke="none" stroke-width="0"/>
<circle cx="124.4" cy="449.55" r="1" fill="#db1f48" stroke="none" stroke-width="0"/>
<circle cx="114.73" cy="441.99" r="1" fill="#db1f48" stroke="none" stroke-width="0"/>
<circle cx="124.95" cy="449.59" r="1" fill="#db1f48" stroke="none" stroke-width="0"/>
<circle cx="118.35" cy="448.87" r="1" fill="#db1f48" stroke="none" stroke-width="0"/>
<circle cx="124.87" cy="444.42" r="1" fill="#db1f48" stroke="none" stroke-width="0"/>
<circle cx="130.42" cy="449.38" r="1" fill="#db1f48" stroke="none" stroke-width="0"/>
<circle cx="116.26" cy="443.67" r="1" fill="#db1f48" stroke="none" stroke-width="0"/>
<circle cx="130.74" cy="449.62" r="1" fill="#db1f48" stroke="none" stroke-width="0"/>
<circle cx="130.46" cy="441.79" r="1" fill="#db1f48" stroke="none" stroke-width="0"/>
<circle cx="123.15" cy="449.41" r="1" fill="#db1f48" stroke="none" stroke-width="0"/>
<circle cx="122.49" cy="449.3" r="1" fill="#db1f48" stroke="none" stroke-width="0"/>
<circle cx="116.57" cy="450.01" r="1" fill="#db1f48" stroke="none" stroke-width="0"/>
<circle cx="116.77" cy="448.59" r="1" fill="#db1f48" stroke="none" stroke-width="0"/>
<circle cx="116.02" cy="446.96" r="1" fill="#db1f48" stroke="none" stroke-width="0"/>
<circle cx="119.54" cy="444.99" r="1" fill="#db1f48" stroke="none" stroke-width="0"/>
<circle cx="126.54" cy="443.98" r="1" fill="#db1f48" stroke="none" stroke-width="0"/>
<circle cx="121.1" cy="448.31" r="1" fill="#db1f48" stroke="none" stroke-width="0"/>
<circle cx="127.03" cy="440.84" r="1" fill="#db1f48" stroke="none" stroke-width="0"/>
<circle cx="113.98" cy="449.14" r="1" fill="#db1f48" stroke="none" stroke-width="0"/>
<circle cx="121.85" cy="445.53" r="1" fill="#db1f48" stroke="none" stroke-width="0"/>
<circle cx="117.11" cy="447.64" r="1" fill="#db1f48" stroke="none" stroke-width="0"/>
<circle cx="125.81" cy="443.74" r="1" fill="#db1f48" stroke="none" stroke-width="0"/>
<circle cx="126.71" cy="446.51" r="1" fill="#db1f48" stroke="none" stroke-width="0"/>
<circle cx="115.97" cy="443.73" r="1" fill="#db1f48" stroke="none" stroke-width="0"/>
<circle cx="116.07" cy="448.83" r="1" fill="#db1f48" stroke="none" stroke-width="0"/>
<circle cx="121.52" cy="447.9" r="1" fill="#db1f48" stroke="none" stroke-width="0"/>
<circle cx="123.85" cy="441.89" r="1" fill="#db1f48" stroke="none" stroke-width="0"/>
<circle cx="115.67" cy="448.98" r="1" fill="#db1f48" stroke="none" stroke-width="0"/>
<circle cx="119.82" cy="444.55" r="1" fill="#db1f48" stroke="none" stroke-width="0"/>
<circle cx="127.24" cy="443.87" r="1" fill="#db1f48" stroke="none" stroke-width="0"/>
<circle cx="114.43" cy="448.27" r="1" fill="#db1f48" stroke="none" stroke-width="0"/>
<circle cx="122.16" cy="445.96" r="1" fill="#db1f48" stroke="none" stroke-width="0"/>
<circle cx="120.32" cy="437.45" r="1" fill="#db1f48" stroke="none" stroke-width="0"/>
<circle cx="117.16" cy="441.78" r="1" fill="#db1f48" stroke="none" stroke-width="0"/>
<circle cx="132.88" cy="444.01" r="1" fill="#db1f48" stroke="none" stroke-width="0"/>
<circle cx="126.12" cy="447.41" r="1" fill="#db1f48" stroke="none" stroke-width="0"/>
<circle cx="120.16" cy="441.41" r="1" fill="#db1f48" stroke="none" stroke-width="0"/>
<circle cx="127.5" cy="443.99" r="1" fill="#db1f48" stroke="none" stroke-width="0"/>
<circle cx="124.5" cy="448.23" r="1" fill="#db1f48" stroke="none" stroke-width="0"/>
<circle cx="121.25" cy="444.26" r="1" fill="#db1f48" stroke="none" stroke-width="0"/>
<circle cx="131.68" cy="446.34" r="1" fill="#db1f48" stroke="none" stroke-width="0"/>
<circle cx="113.75" cy="442.49" r="1" fill="#db1f48" stroke="none" stroke-width="0"/>
<circle cx="116.02" cy="446.73" r="1" fill="#db1f48" stroke="none" stroke-width="0"/>
<circle cx="114.28" cy="440" r="1" fill="#db1f48" stroke="none" stroke-width="0"/>
<circle cx="118.78" cy="444.71" r="1" fill="#db1f48" stroke="none" stroke-width="0"/>
<circle cx="118.7" cy="440.98" r="1" fill="#db1f48" stroke="none" stroke-width="0"/>
<circle cx="118.28" cy="449.33" r="1" fill="#db1f48" stroke="none" stroke-width="0"/>
<circle cx="118.42" cy="447.97" r="1" fill="#db1f48" stroke="none" stroke-width="0"/>
<circle cx="118.78" cy="443.85" r="1" fill="#db1f48" stroke="none" stroke-width="0"/>
<circle cx="119.21" cy="445.56" r="1" fill="#db1f48" stroke="none" stroke-width="0"/>
<circle cx="117.66" cy="447.3" r="1" fill="#db1f48" stroke="none" stroke-width="0"/>
<circle cx="126.41" cy="448.72" r="1" fill="#db1f48" stroke="none" stroke-width="0"/>
<circle cx="123.84" cy="443.33" r="1" fill="#db1f48" stroke="none" stroke-width="0"/>
<circle cx="124.31" cy="445.29" r="1" fill="#db1f48" stroke="none" stroke-width="0"/>
<circle cx="115.27" cy="441.95" r="1" fill="#db1f48" stroke="none" stroke-width="0"/>
<circle cx="131.52" cy="439.02" r="1" fill="#db1f48" stroke="none" stroke-width="0"/>
<circle cx="125.06" cy="445.27" r="1" fill="#db1f48" stroke="none" stroke-width="0"/>
<circle cx="120.51" cy="445.68" r="1" fill="#db1f48" stroke="none" stroke-width="0"/>
<circle cx="122.77" cy="443.63" r="1" fill="#db1f48" stroke="none" stroke-width="0"/>
<circle cx="118.95" cy="445.59" r="1" fill="#db1f48" stroke="none" stroke-width="0"/>
<circle cx="123.36" cy="441.28" r="1" fill="#db1f48" stroke="none" stroke-width="0"/>
<circle cx="121.81" cy="439.79" r="1" fill="#db1f48" stroke="none" stroke-width="0"/>
<circle cx="123.9" cy="444.42" r="1" fill="#db1f48" stroke="none" stroke-width="0"/>
<circle cx="113.72" cy="444.85" r="1" fill="#db1f48" stroke="none" stroke-width="0"/>
<circle cx="127.33" cy="443.73" r="1" fill="#db1f48" stroke="none" stroke-width="0"/>
<circle cx="120.73" cy="447.62" r="1" fill="#db1f48" stroke="none" stroke-width="0"/>
<circle cx="117.07" cy="447.96" r="1" fill="#db1f48" stroke="none" stroke-width="0"/>
<circle cx="122.12" cy="443.42" r="1" fill="#db1f48" stroke="none" stroke-width="0"/>
<circle cx="116.74" cy="448.45" r="1" fill="#db1f48" stroke="none" stroke-width="0"/>
<circle cx="114.12" cy="440" r="1" fill="#db1f48" stroke="none" stroke-width="0"/>
<circle cx="116.59" cy="437.99" r="1" fill="#db1f48" stroke="none" stroke-width="0"/>
<circle cx="120.11" cy="444.64" r="1" fill="#db1f48" stroke="none" stroke-width="0"/>
<circle cx="116" cy="445.32" r="1" fill="#db1f48" stroke="none" stroke-width="0"/>
<circle cx="120.46" cy="447.82" r="1" fill="#db1f48" stroke="none" stroke-width="0"/>
<circle cx="113.96" cy="448.55" r="1" fill="#db1f48" stroke="none" stroke-width="0"/>
<circle cx="124.63" cy="441.83" r="1" fill="#db1f48" stroke="none" stroke-width="0"/>
<circle cx="116.5" cy="446.58" r="1" fill="#db1f48" stroke="none" stroke-width="0"/>
<circle cx="116.43" cy="448.38" r="1" fill="#db1f48" stroke="none" stroke-width="0"/>
<circle cx="117.03" cy="442.23" r="1" fill="#db1f48" stroke="none" stroke-width="0"/>
<circle cx="124.01" cy="449.39" r="1" fill="#db1f48" stroke="none" stroke-width="0"/>
<circle cx="120.42" cy="446.99" r="1" fill="#db1f48" stroke="none" stroke-width="0"/>
<circle cx="123.32" cy="448.66" r="1" fill="#db1f48" stroke="none" stroke-width="0"/>
<circle cx="129.02" cy="437.37" r="1" fill="#db1f48" stroke="none" stroke-width="0"/>
<circle cx="127.28" cy="439.66" r="1" fill="#db1f48" stroke="none" stroke-width="0"/>
<circle cx="122.02" cy="444.29" r="1" fill="#db1f48" stroke="none" stroke-width="0"/>
<circle cx="125.74" cy="442.34" r="1" fill="#db1f48" stroke="none" stroke-width="0"/>
<circle cx="123.85" cy="445.95" r="1" fill="#db1f48" stroke="none" stroke-width="0"/>
<circle cx="117.07" cy="448.51" r="1" fill="#db1f48" stroke="none" stroke-width="0"/>
<circle cx="118.33" cy="448.17" r="1" fill="#db1f48" stroke="none" stroke-width="0"/>
<circle cx="126.08" cy="449.62" r="1" fill="#db1f48" stroke="none" stroke-width="0"/>
<circle cx="132.58" cy="441.06" r="1" fill="#db1f48" stroke="none" stroke-width="0"/>
<circle cx="114.34" cy="441.47" r="1" fill="#db1f48" stroke="none" stroke-width="0"/>
<circle cx="129.84" cy="448.27" r="1" fill="#db1f48" stroke="none" stroke-width="0"/>
<circle cx="116.35" cy="446.97" r="1" fill="#db1f48" stroke="none" stroke-width="0"/>
<circle cx="123.26" cy="448.86" r="1" fill="#db1f48" stroke="none" stroke-width="0"/>
<circle cx="128.55" cy="449.1" r="1" fill="#db1f48" stroke="none" stroke-width="0"/>
<circle cx="118.25" cy="442.86" r="1" fill="#db1f48" stroke="none" stroke-width="0"/>
<circle cx="117.93" cy="439.26" r="1" fill="#db1f48" stroke="none" stroke-width="0"/>
<circle cx="118.09" cy="448.19" r="1" fill="#db1f48" stroke="none" stroke-width="0"/>
<circle cx="119.01" cy="448.99" r="1" fill="#db1f48" stroke="none" stroke-width="0"/>
<circle cx="121.54" cy="448.71" r="1" fill="#db1f48" stroke="none" stroke-width="0"/>
<circle cx="123.48" cy="447.53" r="1" fill="#db1f48" stroke="none" stroke-width="0"/>
<circle cx="120.7" cy="448.12" r="1" fill="#db1f48" stroke="none" stroke-width="0"/>
<circle cx="115.18" cy="444.77" r="1" fill="#db1f48" stroke="none" stroke-width="0"/>
<circle cx="123.31" cy="441.18" r="1" fill="#db1f48" stroke="none" stroke-width="0"/>
<circle cx="125.58" cy="449.96" r="1" fill="#db1f48" stroke="none" stroke-width="0"/>
<circle cx="130.04" cy="443.21" r="1" fill="#db1f48" stroke="none" stroke-width="0"/>
<circle cx="120.42" cy="448.04" r="1" fill="#db1f48" stroke="none" stroke-width="0"/>
<circle cx="115.14" cy="442.13" r="1" fill="#db1f48" stroke="none" stroke-width="0"/>
<circle cx="118.53" cy="444.7" r="1" fill="#db1f48" stroke="none" stroke-width="0"/>
<circle cx="119.99" cy="449.5" r="1" fill="#db1f48" stroke="none" stroke-width="0"/>
<circle cx="120.76" cy="448.94" r="1" fill="#db1f48" stroke="none" stroke-width="0"/>
<circle cx="115.69" cy="447.49" r="1" fill="#db1f48" stroke="none" stroke-width="0"/>
<circle cx="117.73" cy="447.02" r="1" fill="#db1f48" stroke="none" stroke-width="0"/>
<circle cx="125.89" cy="448.4" r="1" fill="#db1f48" stroke="none" stroke-width="0"/>
<circle cx="141.59" cy="449.68" r="1" fill="#db1f48" stroke="none" stroke-width="0"/>
<circle cx="118.39" cy="445.03" r="1" fill="#db1f48" stroke="none" stroke-width="0"/>
<circle cx="123.25" cy="440.69" r="1" fill="#db1f48" stroke="none" stroke-width="0"/>
<circle cx="119.52" cy="449.47" r="1" fill="#db1f48" stroke="none" stroke-width="0"/>
<circle cx="119.35" cy="395.01" r="1" fill="#db1f48" stroke="none" stroke-width="0"/>
<circle cx="120.59" cy="433.94" r="1" fill="#db1f48" stroke="none" stroke-width="0"/>
<circle cx="115.01" cy="436.76" r="1" fill="#db1f48" stroke="none" stroke-width="0"/>
<circle cx="115.76" cy="389.76" r="1" fill="#db1f48" stroke="none" stroke-width="0"/>
<circle cx="120.4" cy="417" r="1" fill="#db1f48" stroke="none" stroke-width="0"/>
<circle cx="115.05" cy="424.75" r="1" fill="#db1f48" stroke="none" stroke-width="0"/>
<circle cx="115.83" cy="405.84" r="1" fill="#db1f48" stroke="none" stroke-width="0"/>
<circle cx="119.11" cy="397.68" r="1" fill="#db1f48" stroke="none" stroke-width="0"/>
<circle cx="117.17" cy="418.08" r="1" fill="#db1f48" stroke="none" stroke-width="0"/>
<circle cx="117.38" cy="423.62" r="1" fill="#db1f48" stroke="none" stroke-width="0"/>
<circle cx="117.29" cy="403.49" r="1" fill="#db1f48" stroke="none" stroke-width="0"/>
<circle cx="119.05" cy="426.42" r="1" fill="#db1f48" stroke="none" stroke-width="0"/>
<circle cx="118.06" cy="438" r="1" fill="#db1f48" stroke="none" stroke-width="0"/>
<circle cx="114.49" cy="422.55" r="1" fill="#db1f48" stroke="none" stroke-width="0"/>
<circle cx="116.64" cy="445.2" r="1" fill="#db1f48" stroke="none" stroke-width="0"/>
<circle cx="114.73" cy="420.07" r="1" fill="#db1f48" stroke="none" stroke-width="0"/>
<circle cx="120.63" cy="393.76" r="1" fill="#db1f48" stroke="none" stroke-width="0"/>
<circle cx="114.39" cy="427.03" r="1" fill="#db1f48" stroke="none" stroke-width="0"/>
<circle cx="116.7" cy="427.39" r="1" fill="#db1f48" stroke="none" stroke-width="0"/>
<circle cx="115.12" cy="409.55" r="1" fill="#db1f48" stroke="none" stroke-width="0"/>
<circle cx="119.92" cy="422.88" r="1" fill="#db1f48" stroke="none" stroke-width="0"/>
<circle cx="115.39" cy="440.55" r="1" fill="#db1f48" stroke="none" stroke-width="0"/>
<circle cx="114.29" cy="398.37" r="1" fill="#db1f48" stroke="none" stroke-width="0"/>
<circle cx="115.76" cy="401.01" r="1" fill="#db1f48" stroke="none" stroke-width="0"/>
<circle cx="119.59" cy="441.94" r="1" fill="#db1f48" stroke="none" stroke-width="0"/>
<circle cx="115.47" cy="427.12" r="1" fill="#db1f48" stroke="none" stroke-width="0"/>
<circle cx="119.44" cy="400.19" r="1" fill="#db1f48" stroke="none" stroke-width="0"/>
<circle cx="116.25" cy="418.4" r="1" fill="#db1f48" stroke="none" stroke-width="0"/>
<circle cx="116.61" cy="417.13" r="1" fill="#db1f48" stroke="none" stroke-width="0"/>
<circle cx="119.61" cy="430.55" r="1" fill="#db1f48" stroke="none" stroke-width="0"/>
<circle cx="119.72" cy="388.49" r="1" fill="#db1f48" stroke="none" stroke-width="0"/>
<circle cx="118.29" cy="385.99" r="1" fill="#db1f48" stroke="none" stroke-width="0"/>
<circle cx="120.6" cy="436.34" r="1" fill="#db1f48" stroke="none" stroke-width="0"/>
<circle cx="120.96" cy="434.46" r="1" fill="#db1f48" stroke="none" stroke-width="0"/>
<circle cx="119.68" cy="439.53" r="1" fill="#db1f48" stroke="none" stroke-width="0"/>
<circle cx="127.39" cy="430.6" r="1" fill="#db1f48" stroke="none" stroke-width="0"/>
<circle cx="138.68" cy="424.07" r="1" fill="#db1f48" stroke="none" stroke-width="0"/>
<circle cx="125.31" cy="418.12" r="1" fill="#db1f48" stroke="none" stroke-width="0"/>
<circle cx="139.23" cy="428.75" r="1" fill="#db1f48" stroke="none" stroke-width="0"/>
<circle cx="122.09" cy="434.89" r="1" fill="#db1f48" stroke="none" stroke-width="0"/>
<circle cx="127.17" cy="431.24" r="1" fill="#db1f48" stroke="none" stroke-width="0"/>
<circle cx="140.85" cy="426.41" r="1" fill="#db1f48" stroke="none" stroke-width="0"/>
<circle cx="138.26" cy="440.76" r="1" fill="#db1f48" stroke="none" stroke-width="0"/>
<circle cx="126.19" cy="422.68" r="1" fill="#db1f48" stroke="none" stroke-width="0"/>
<circle cx="128.18" cy="436.48" r="1" fill="#db1f48" stroke="none" stroke-width="0"/>
<circle cx="122.35" cy="441.32" r="1" fill="#db1f48" stroke="none" stroke-width="0"/>
<circle cx="129.7" cy="427.75" r="1" fill="#db1f48" stroke="none" stroke-width="0"/>
<circle cx="129.43" cy="427.24" r="1" fill="#db1f48" stroke="none" stroke-width="0"/>
<circle cx="127.14" cy="442.25" r="1" fill="#db1f48" stroke="none" stroke-width="0"/>
<circle cx="135.21" cy="433.51" r="1" fill="#db1f48" stroke="none" stroke-width="0"/>
<circle cx="131.36" cy="432.36" r="1" fill="#db1f48" stroke="none" stroke-width="0"/>
<circle cx="126.7" cy="441.29" r="1" fill="#db1f48" stroke="none" stroke-width="0"/>
<circle cx="127.26" cy="434.55" r="1" fill="#db1f48" stroke="none" stroke-width="0"/>
<circle cx="123.44" cy="441.9" r="1" fill="#db1f48" stroke="none" stroke-width="0"/>
<circle cx="131.13" cy="442.17" r="1" fill="#db1f48" stroke="none" stroke-width="0"/>
<circle cx="152.6" cy="358.7" r="1" fill="#db1f48" stroke="none" stroke-width="0"/>
<circle cx="127.1" cy="364.7" r="1" fill="#db1f48" stroke="none" stroke-width="0"/>
<circle cx="149.6" cy="364.3" r="1" fill="#db1f48" stroke="none" stroke-width="0"/>
<circle cx="148.7" cy="374" r="1" fill="#db1f48" stroke="none" stroke-width="0"/>
<circle cx="127.2" cy="408.6" r="1" fill="#db1f48" stroke="none" stroke-width="0"/>
<circle cx="132.7" cy="438.2" r="1" fill="#db1f48" stroke="none" stroke-width="0"/>
<circle cx="145" cy="395" r="1" fill="#db1f48" stroke="none" stroke-width="0"/>
<circle cx="150" cy="393" r="1" fill="#db1f48" stroke="none" stroke-width="0"/>
<circle cx="146" cy="380" r="1" fill="#db1f48" stroke="none" stroke-width="0"/>
<circle cx="158" cy="440" r="1" fill="#db1f48" stroke="none" stroke-width="0"/>
<circle cx="172" cy="452" r="1" fill="#db1f48" stroke="none" stroke-width="0"/>
<circle cx="160" cy="447" r="1" fill="#db1f48" stroke="none" stroke-width="0"/>
<circle cx="116.5" cy="381" r="1" fill="#db1f48" stroke="none" stroke-width="0"/>
<circle cx="116" cy="384" r="1" fill="#db1f48" stroke="none" stroke-width="0"/>
<circle cx="117" cy="388" r="1" fill="#db1f48" stroke="none" stroke-width="0"/>
<circle cx="120" cy="395" r="1" fill="#db1f48" stroke="none" stroke-width="0"/>
<circle cx="135" cy="412" r="1" fill="#db1f48" stroke="none" stroke-width="0"/>
<circle cx="140" cy="425" r="1" fill="#db1f48" stroke="none" stroke-width="0"/>
<circle cx="162" cy="452" r="1" fill="#db1f48" stroke="none" stroke-width="0"/>
<circle cx="155" cy="446" r="1" fill="#db1f48" stroke="none" stroke-width="0"/>
<text x="73.7" y="374.36" font-size="6.3" fill="#2e86c8" stroke="#2e86c8" font-style="italic">HLA-C</text>
<line x1="91.5" y1="371.8" x2="100" y2="375.8" stroke="#2e86c8" stroke-width="0.5"/>
<text x="69" y="392.56" font-size="6.3" fill="#2e86c8" stroke="#2e86c8" font-style="italic">CTSW</text>
<line x1="80" y1="392.5" x2="93.4" y2="432.4" stroke="#2e86c8" stroke-width="0.5"/>
<text x="57.9" y="401.76" font-size="6.3" fill="#2e86c8" stroke="#2e86c8" font-style="italic">NKG7</text>
<line x1="70" y1="402" x2="80.3" y2="429.7" stroke="#2e86c8" stroke-width="0.5"/>
<text x="49.2" y="417.06" font-size="6.3" fill="#2e86c8" stroke="#2e86c8" font-style="italic">KLRB1</text>
<line x1="61" y1="417.5" x2="61.5" y2="422.5" stroke="#2e86c8" stroke-width="0.5"/>
<text x="52.1" y="442.06" font-size="6.3" fill="#2e86c8" stroke="#2e86c8" font-style="italic">PRF1</text>
<line x1="67" y1="440.5" x2="74.5" y2="445.5" stroke="#2e86c8" stroke-width="0.5"/>
<text x="45.3" y="456.46" font-size="6.3" fill="#2e86c8" stroke="#2e86c8" font-style="italic">CST7</text>
<line x1="61" y1="453.4" x2="80" y2="450" stroke="#2e86c8" stroke-width="0.5"/>
<text x="132.9" y="348.06" font-size="6.3" fill="#e0365a" stroke="#e0365a" font-style="italic">HIST1H1E</text>
<line x1="148" y1="347.5" x2="152.6" y2="358.7" stroke="#e0365a" stroke-width="0.5"/>
<text x="113.2" y="357.26" font-size="6.3" fill="#e0365a" stroke="#e0365a" font-style="italic">RPS10</text>
<line x1="124" y1="357" x2="127.1" y2="364.7" stroke="#e0365a" stroke-width="0.5"/>
<text x="148.5" y="372.66" font-size="6.3" fill="#e0365a" stroke="#e0365a" font-style="italic">HIST1H1D</text>
<text x="150.3" y="387.56" font-size="6.3" fill="#e0365a" stroke="#e0365a" font-style="italic">PLCG2</text>
<line x1="150.5" y1="381" x2="148.7" y2="374" stroke="#e0365a" stroke-width="0.5"/>
<text x="137.8" y="405.56" font-size="6.3" fill="#e0365a" stroke="#e0365a" font-style="italic">CCNL1</text>
<line x1="138" y1="404.5" x2="127.2" y2="408.6" stroke="#e0365a" stroke-width="0.5"/>
<text x="152.4" y="431.36" font-size="6.3" fill="#e0365a" stroke="#e0365a" font-style="italic">NFKBIZ</text>
<line x1="153" y1="431" x2="132.7" y2="438.2" stroke="#e0365a" stroke-width="0.5"/>
<text x="24.76" y="406" font-size="10.5" text-anchor="middle" transform="rotate(-90 24.76 406)">-Log10 adjusted p-value</text>
<text x="105.3" y="489.56" font-size="10.5" text-anchor="middle">Log2FC</text>
<text x="49.5" y="489.56" font-size="10.5" text-anchor="middle" fill="#2e86c8" stroke="#2e86c8">Reduced</text>
<line x1="44.1" y1="478.8" x2="73.5" y2="478.8" stroke="#2e86c8" stroke-width="1.1"/>
<path d="M41.6 478.8L45.35 477.3L45.35 480.3Z" fill="#2e86c8" stroke="none" stroke-width="1"/>
<text x="158.7" y="489.56" font-size="10.5" text-anchor="middle" fill="#e0365a" stroke="#e0365a">Enhanced</text>
<line x1="145.9" y1="478.7" x2="174.7" y2="478.7" stroke="#e0365a" stroke-width="1.1"/>
<path d="M177.2 478.7L173.45 477.2L173.45 480.2Z" fill="#e0365a" stroke="none" stroke-width="1"/>
<text x="195.5" y="331.5" font-size="14" font-weight="bold">h</text>
<text x="269.2" y="328.26" font-size="10.5" text-anchor="middle">Type 2 IFN production</text>
<text x="396.7" y="328.26" font-size="10.5" text-anchor="middle">TNF super family cytokine</text>
<text x="396.3" y="340.86" font-size="10.5" text-anchor="middle">production</text>
<text x="508.9" y="328.26" font-size="10.5" text-anchor="middle">Cell killing</text>
<text x="632.6" y="328.76" font-size="10.5" text-anchor="middle">Cytolysis</text>
<text x="261.6" y="358.89" font-size="10.3" text-anchor="middle">4.2 × 10<tspan dy="-4" font-size="7">-8</tspan></text>
<line x1="238.9" y1="363.4" x2="286.3" y2="363.4" stroke="#333" stroke-width="0.9"/>
<text x="387.9" y="359.19" font-size="10.3" text-anchor="middle">0.043</text>
<line x1="365.2" y1="363.4" x2="411.6" y2="363.4" stroke="#333" stroke-width="0.9"/>
<text x="513" y="358.89" font-size="10.3" text-anchor="middle">1.9 × 10<tspan dy="-4" font-size="7">-15</tspan></text>
<line x1="488.7" y1="363.4" x2="536" y2="363.4" stroke="#333" stroke-width="0.9"/>
<text x="640.1" y="359.29" font-size="10.3" text-anchor="middle">0.0011</text>
<line x1="615.8" y1="363.2" x2="663.3" y2="363.2" stroke="#333" stroke-width="0.9"/>
<line x1="218.4" y1="371.8" x2="218.4" y2="476.4" stroke="#959595" stroke-width="0.9"/>
<line x1="218.4" y1="476" x2="309.9" y2="476" stroke="#959595" stroke-width="0.9"/>
<line x1="216.2" y1="406.8" x2="218.4" y2="406.8" stroke="#959595" stroke-width="0.8"/>
<text x="215.1" y="410.49" font-size="10.3" text-anchor="end" fill="#222" stroke="#222">0.1</text>
<line x1="216.2" y1="443.5" x2="218.4" y2="443.5" stroke="#959595" stroke-width="0.8"/>
<text x="215.1" y="447.19" font-size="10.3" text-anchor="end" fill="#222" stroke="#222">0.0</text>
<line x1="339.7" y1="371.8" x2="339.7" y2="476.4" stroke="#959595" stroke-width="0.9"/>
<line x1="339.7" y1="476" x2="427.9" y2="476" stroke="#959595" stroke-width="0.9"/>
<line x1="337.5" y1="389" x2="339.7" y2="389" stroke="#959595" stroke-width="0.8"/>
<text x="336.4" y="392.69" font-size="10.3" text-anchor="end" fill="#222" stroke="#222">0.15</text>
<line x1="337.5" y1="411.3" x2="339.7" y2="411.3" stroke="#959595" stroke-width="0.8"/>
<text x="336.4" y="414.99" font-size="10.3" text-anchor="end" fill="#222" stroke="#222">0.10</text>
<line x1="337.5" y1="433" x2="339.7" y2="433" stroke="#959595" stroke-width="0.8"/>
<text x="336.4" y="436.69" font-size="10.3" text-anchor="end" fill="#222" stroke="#222">0.05</text>
<line x1="337.5" y1="455" x2="339.7" y2="455" stroke="#959595" stroke-width="0.8"/>
<text x="336.4" y="458.69" font-size="10.3" text-anchor="end" fill="#222" stroke="#222">0.00</text>
<line x1="459.5" y1="371.8" x2="459.5" y2="476.4" stroke="#959595" stroke-width="0.9"/>
<line x1="459.5" y1="476" x2="550" y2="476" stroke="#959595" stroke-width="0.9"/>
<line x1="457.3" y1="386.3" x2="459.5" y2="386.3" stroke="#959595" stroke-width="0.8"/>
<text x="456.2" y="389.99" font-size="10.3" text-anchor="end" fill="#222" stroke="#222">0.4</text>
<line x1="457.3" y1="416.8" x2="459.5" y2="416.8" stroke="#959595" stroke-width="0.8"/>
<text x="456.2" y="420.49" font-size="10.3" text-anchor="end" fill="#222" stroke="#222">0.3</text>
<line x1="457.3" y1="447" x2="459.5" y2="447" stroke="#959595" stroke-width="0.8"/>
<text x="456.2" y="450.69" font-size="10.3" text-anchor="end" fill="#222" stroke="#222">0.2</text>
<line x1="585.8" y1="371.8" x2="585.8" y2="476.4" stroke="#959595" stroke-width="0.9"/>
<line x1="585.8" y1="476" x2="676" y2="476" stroke="#959595" stroke-width="0.9"/>
<line x1="583.6" y1="376.3" x2="585.8" y2="376.3" stroke="#959595" stroke-width="0.8"/>
<text x="582.5" y="379.99" font-size="10.3" text-anchor="end" fill="#222" stroke="#222">0.6</text>
<line x1="583.6" y1="397.6" x2="585.8" y2="397.6" stroke="#959595" stroke-width="0.8"/>
<text x="582.5" y="401.29" font-size="10.3" text-anchor="end" fill="#222" stroke="#222">0.4</text>
<line x1="583.6" y1="418.7" x2="585.8" y2="418.7" stroke="#959595" stroke-width="0.8"/>
<text x="582.5" y="422.39" font-size="10.3" text-anchor="end" fill="#222" stroke="#222">0.2</text>
<line x1="583.6" y1="439.7" x2="585.8" y2="439.7" stroke="#959595" stroke-width="0.8"/>
<text x="582.5" y="443.39" font-size="10.3" text-anchor="end" fill="#222" stroke="#222">0.0</text>
<line x1="583.6" y1="461.3" x2="585.8" y2="461.3" stroke="#959595" stroke-width="0.8"/>
<text x="582.5" y="464.99" font-size="10.3" text-anchor="end" fill="#222" stroke="#222">-0.2</text>
<line x1="676.3" y1="371.8" x2="676.3" y2="476" stroke="#ececec" stroke-width="0.7"/>
<text x="198.29" y="414" font-size="10.3" text-anchor="middle" transform="rotate(-90 198.29 414)">Score</text>
<path d="M248.3 403.1h1.4v1.4h-1.4zM251.1 403.6h1.4v1.4h-1.4zM233.8 420.6h1.4v1.4h-1.4zM242 384.9h1.4v1.4h-1.4zM250.3 445.9h1.4v1.4h-1.4zM235.4 414.5h1.4v1.4h-1.4zM243.5 410.5h1.4v1.4h-1.4zM244.1 425.5h1.4v1.4h-1.4zM238.5 434.8h1.4v1.4h-1.4zM250.6 424h1.4v1.4h-1.4zM248.3 424h1.4v1.4h-1.4zM235.8 413.1h1.4v1.4h-1.4zM233.2 416.5h1.4v1.4h-1.4zM249.8 417.1h1.4v1.4h-1.4zM251.9 426h1.4v1.4h-1.4zM249.8 434.4h1.4v1.4h-1.4zM243.4 412.5h1.4v1.4h-1.4zM246.1 464.8h1.4v1.4h-1.4zM246.3 434.3h1.4v1.4h-1.4zM251.6 461.6h1.4v1.4h-1.4zM240.1 434.2h1.4v1.4h-1.4zM236.4 414.2h1.4v1.4h-1.4zM238.9 426.8h1.4v1.4h-1.4zM244.7 427.9h1.4v1.4h-1.4zM239.6 448.4h1.4v1.4h-1.4zM239.1 423.5h1.4v1.4h-1.4zM239.2 431.1h1.4v1.4h-1.4zM242.3 405.4h1.4v1.4h-1.4zM251.7 421.4h1.4v1.4h-1.4zM233.6 417.4h1.4v1.4h-1.4zM233.5 423h1.4v1.4h-1.4zM248.2 390.4h1.4v1.4h-1.4zM233.4 408.2h1.4v1.4h-1.4zM234.1 439.5h1.4v1.4h-1.4zM236.9 440.7h1.4v1.4h-1.4zM247.6 461.2h1.4v1.4h-1.4zM239.7 459.4h1.4v1.4h-1.4zM239.9 405.8h1.4v1.4h-1.4zM235.3 394.2h1.4v1.4h-1.4zM247.4 418.5h1.4v1.4h-1.4zM233.9 432.8h1.4v1.4h-1.4zM251.2 391h1.4v1.4h-1.4zM244.8 436h1.4v1.4h-1.4zM250.6 431.4h1.4v1.4h-1.4zM243.6 402.5h1.4v1.4h-1.4zM239.1 455.4h1.4v1.4h-1.4zM234.7 418.7h1.4v1.4h-1.4zM236 432.6h1.4v1.4h-1.4zM236.3 401.7h1.4v1.4h-1.4zM243.3 437.9h1.4v1.4h-1.4zM244.5 412.7h1.4v1.4h-1.4zM248.9 429.9h1.4v1.4h-1.4zM234.3 406h1.4v1.4h-1.4zM250.6 427.9h1.4v1.4h-1.4zM249.1 442.3h1.4v1.4h-1.4zM235.7 427h1.4v1.4h-1.4zM245.2 418.3h1.4v1.4h-1.4zM241.5 424.9h1.4v1.4h-1.4zM236 415.2h1.4v1.4h-1.4zM241.8 430.9h1.4v1.4h-1.4zM252.2 411.3h1.4v1.4h-1.4zM241.8 450.6h1.4v1.4h-1.4zM242.5 386.1h1.4v1.4h-1.4zM238.7 420.5h1.4v1.4h-1.4zM240.9 403.9h1.4v1.4h-1.4zM252 432.9h1.4v1.4h-1.4zM251.4 436.1h1.4v1.4h-1.4zM239.6 409.1h1.4v1.4h-1.4zM234.9 408.8h1.4v1.4h-1.4zM249.7 418.9h1.4v1.4h-1.4zM240.1 452.2h1.4v1.4h-1.4zM246.4 429.5h1.4v1.4h-1.4zM245.8 394.6h1.4v1.4h-1.4zM246.6 424h1.4v1.4h-1.4zM238.5 407h1.4v1.4h-1.4zM246.3 394.2h1.4v1.4h-1.4zM238.8 425.6h1.4v1.4h-1.4zM244.2 446h1.4v1.4h-1.4zM233.4 414.8h1.4v1.4h-1.4zM246 410.7h1.4v1.4h-1.4zM242 419.3h1.4v1.4h-1.4zM248.4 432.9h1.4v1.4h-1.4zM239.8 400.7h1.4v1.4h-1.4zM248.9 405.9h1.4v1.4h-1.4zM239.9 401.3h1.4v1.4h-1.4zM246.3 441.8h1.4v1.4h-1.4zM251.7 394.5h1.4v1.4h-1.4zM243.3 442.7h1.4v1.4h-1.4zM236.4 417.5h1.4v1.4h-1.4zM242.3 443.6h1.4v1.4h-1.4zM246.3 389h1.4v1.4h-1.4zM236.5 417.8h1.4v1.4h-1.4zM248 396.1h1.4v1.4h-1.4zM241.2 401.2h1.4v1.4h-1.4zM245.1 410.8h1.4v1.4h-1.4zM246.9 426.7h1.4v1.4h-1.4zM233.7 399.2h1.4v1.4h-1.4zM245.6 432.8h1.4v1.4h-1.4zM237.4 438.4h1.4v1.4h-1.4zM234 413.7h1.4v1.4h-1.4zM242.2 401.1h1.4v1.4h-1.4zM235.7 423.8h1.4v1.4h-1.4zM239.2 428.6h1.4v1.4h-1.4zM233.9 427.6h1.4v1.4h-1.4zM242 433.1h1.4v1.4h-1.4zM244.4 406h1.4v1.4h-1.4zM237.7 438.9h1.4v1.4h-1.4zM240.9 423.5h1.4v1.4h-1.4zM238.5 422.6h1.4v1.4h-1.4zM249 415.9h1.4v1.4h-1.4zM240.3 427.5h1.4v1.4h-1.4zM235 445.7h1.4v1.4h-1.4zM243.6 428.2h1.4v1.4h-1.4zM251.4 411.1h1.4v1.4h-1.4zM248.8 441.9h1.4v1.4h-1.4zM245.4 396h1.4v1.4h-1.4zM240.2 438.1h1.4v1.4h-1.4zM243.9 437.3h1.4v1.4h-1.4zM251.4 440.7h1.4v1.4h-1.4zM239.9 445.7h1.4v1.4h-1.4zM250.2 418.4h1.4v1.4h-1.4zM244 431.1h1.4v1.4h-1.4zM244.9 423h1.4v1.4h-1.4zM250.1 438.1h1.4v1.4h-1.4zM240.3 441.4h1.4v1.4h-1.4zM238.7 412h1.4v1.4h-1.4zM251.7 428h1.4v1.4h-1.4zM250.6 391.7h1.4v1.4h-1.4zM244.5 452.5h1.4v1.4h-1.4zM242.6 420.1h1.4v1.4h-1.4zM251.9 410.2h1.4v1.4h-1.4zM242.5 430.5h1.4v1.4h-1.4zM235.5 418.6h1.4v1.4h-1.4zM245 441.7h1.4v1.4h-1.4zM248.1 409.8h1.4v1.4h-1.4zM248.9 427.9h1.4v1.4h-1.4zM238.4 443.8h1.4v1.4h-1.4zM251 424.7h1.4v1.4h-1.4zM238.3 425.5h1.4v1.4h-1.4zM236.1 410.6h1.4v1.4h-1.4zM244.8 437h1.4v1.4h-1.4zM242.2 422h1.4v1.4h-1.4zM247.3 408.9h1.4v1.4h-1.4zM235.4 404.8h1.4v1.4h-1.4zM243.3 423.9h1.4v1.4h-1.4zM239.6 408.7h1.4v1.4h-1.4zM242 417h1.4v1.4h-1.4zM240.1 442.9h1.4v1.4h-1.4zM233.9 422.3h1.4v1.4h-1.4zM238 400.4h1.4v1.4h-1.4zM250.1 386.8h1.4v1.4h-1.4zM243.6 433.4h1.4v1.4h-1.4zM241.3 452.2h1.4v1.4h-1.4zM244.1 425.7h1.4v1.4h-1.4zM242.4 416.8h1.4v1.4h-1.4zM250.5 399.9h1.4v1.4h-1.4zM249.4 410.3h1.4v1.4h-1.4zM236.9 434.1h1.4v1.4h-1.4zM234.5 413.9h1.4v1.4h-1.4zM249.1 453.5h1.4v1.4h-1.4zM238.6 416.9h1.4v1.4h-1.4zM248 406.1h1.4v1.4h-1.4zM242.3 430.9h1.4v1.4h-1.4zM243.6 418h1.4v1.4h-1.4zM236.1 407.9h1.4v1.4h-1.4zM244.3 423.2h1.4v1.4h-1.4zM237.6 425.4h1.4v1.4h-1.4zM248.8 417.1h1.4v1.4h-1.4zM233.7 429.5h1.4v1.4h-1.4zM246.9 398.9h1.4v1.4h-1.4zM246.5 414.9h1.4v1.4h-1.4zM237.4 453.9h1.4v1.4h-1.4zM245.5 432.8h1.4v1.4h-1.4zM235.8 448.5h1.4v1.4h-1.4zM238.8 415.1h1.4v1.4h-1.4zM244.8 431.4h1.4v1.4h-1.4zM241.1 418.3h1.4v1.4h-1.4zM234 435.5h1.4v1.4h-1.4zM235.3 443h1.4v1.4h-1.4zM234.3 418.3h1.4v1.4h-1.4zM244.1 427.5h1.4v1.4h-1.4zM235.8 421.3h1.4v1.4h-1.4zM241.4 388.4h1.4v1.4h-1.4zM242.5 414h1.4v1.4h-1.4zM251 444h1.4v1.4h-1.4zM246.4 419h1.4v1.4h-1.4zM236.1 427.1h1.4v1.4h-1.4zM250.5 409.4h1.4v1.4h-1.4zM243.7 408.3h1.4v1.4h-1.4zM243.7 413.4h1.4v1.4h-1.4zM238 413.9h1.4v1.4h-1.4zM235.7 423.1h1.4v1.4h-1.4zM237.7 402.6h1.4v1.4h-1.4zM236.6 404h1.4v1.4h-1.4zM246.8 443h1.4v1.4h-1.4zM245.9 419h1.4v1.4h-1.4zM234.9 417.1h1.4v1.4h-1.4zM237.7 439.1h1.4v1.4h-1.4zM249.9 439h1.4v1.4h-1.4zM248.3 408.2h1.4v1.4h-1.4zM233.8 424.8h1.4v1.4h-1.4zM236.1 422.1h1.4v1.4h-1.4zM251.3 417.5h1.4v1.4h-1.4zM235.4 418h1.4v1.4h-1.4zM251.7 412.1h1.4v1.4h-1.4zM235.9 407.1h1.4v1.4h-1.4zM245.1 396h1.4v1.4h-1.4zM239.5 415.5h1.4v1.4h-1.4zM244.9 432.8h1.4v1.4h-1.4zM235.8 413.3h1.4v1.4h-1.4zM249 436.6h1.4v1.4h-1.4zM241.4 404.7h1.4v1.4h-1.4zM249.4 398.6h1.4v1.4h-1.4zM244.1 400.5h1.4v1.4h-1.4zM247.3 420.5h1.4v1.4h-1.4zM233.8 417h1.4v1.4h-1.4zM237 427.7h1.4v1.4h-1.4zM242.3 457.4h1.4v1.4h-1.4zM247.6 431.7h1.4v1.4h-1.4zM250.1 442h1.4v1.4h-1.4zM245 423.1h1.4v1.4h-1.4zM235.1 406h1.4v1.4h-1.4zM236.1 431.2h1.4v1.4h-1.4zM240.5 431.9h1.4v1.4h-1.4zM249.9 436.8h1.4v1.4h-1.4zM238.5 430.5h1.4v1.4h-1.4zM236.3 433.6h1.4v1.4h-1.4zM242.4 420.1h1.4v1.4h-1.4zM233.8 435h1.4v1.4h-1.4zM251 437.4h1.4v1.4h-1.4zM246.3 415.6h1.4v1.4h-1.4zM251.2 414.2h1.4v1.4h-1.4zM235.4 406.1h1.4v1.4h-1.4zM246 416.1h1.4v1.4h-1.4zM247.1 410.8h1.4v1.4h-1.4zM233.7 428.9h1.4v1.4h-1.4zM237.6 432.7h1.4v1.4h-1.4zM251.7 438.1h1.4v1.4h-1.4zM240.1 431.1h1.4v1.4h-1.4zM238.6 415.8h1.4v1.4h-1.4zM247.1 440.6h1.4v1.4h-1.4zM237.8 421h1.4v1.4h-1.4zM246 413.1h1.4v1.4h-1.4zM241.4 445.7h1.4v1.4h-1.4zM251.7 414.1h1.4v1.4h-1.4zM248 429h1.4v1.4h-1.4zM241 423.2h1.4v1.4h-1.4zM252 443.5h1.4v1.4h-1.4zM243.1 428.9h1.4v1.4h-1.4zM234.6 418.6h1.4v1.4h-1.4zM250.3 429.1h1.4v1.4h-1.4zM234.2 383.5h1.4v1.4h-1.4zM237.8 425.2h1.4v1.4h-1.4zM234.3 439.2h1.4v1.4h-1.4zM238.1 428.3h1.4v1.4h-1.4zM234.2 410.9h1.4v1.4h-1.4zM233.9 430.9h1.4v1.4h-1.4zM242.9 433.5h1.4v1.4h-1.4zM240.8 421.1h1.4v1.4h-1.4zM239.2 416h1.4v1.4h-1.4zM235.3 421.6h1.4v1.4h-1.4zM244.6 386.2h1.4v1.4h-1.4zM249.5 413.1h1.4v1.4h-1.4zM243.5 423.7h1.4v1.4h-1.4zM242.4 426.1h1.4v1.4h-1.4zM245.1 408.2h1.4v1.4h-1.4zM247 415.9h1.4v1.4h-1.4zM241.7 435.4h1.4v1.4h-1.4zM248.9 415.5h1.4v1.4h-1.4zM239.1 424.4h1.4v1.4h-1.4zM234.9 431.3h1.4v1.4h-1.4zM239.1 427.4h1.4v1.4h-1.4zM235.7 392.1h1.4v1.4h-1.4zM234.8 434h1.4v1.4h-1.4zM241.3 429.2h1.4v1.4h-1.4zM234.4 411.8h1.4v1.4h-1.4zM246.5 417.1h1.4v1.4h-1.4zM238.6 433.8h1.4v1.4h-1.4zM240.3 426.4h1.4v1.4h-1.4zM239.2 437.4h1.4v1.4h-1.4zM247.5 433.2h1.4v1.4h-1.4zM245.6 389.3h1.4v1.4h-1.4zM247.6 410.6h1.4v1.4h-1.4zM248.7 406.7h1.4v1.4h-1.4zM245.7 414.7h1.4v1.4h-1.4zM246.5 449.2h1.4v1.4h-1.4zM238.3 415.4h1.4v1.4h-1.4zM235.7 429.3h1.4v1.4h-1.4zM234.5 407.7h1.4v1.4h-1.4zM246 429.4h1.4v1.4h-1.4zM238.6 434.5h1.4v1.4h-1.4zM243.8 449.4h1.4v1.4h-1.4zM233.7 434.2h1.4v1.4h-1.4zM240 431.5h1.4v1.4h-1.4zM249.5 425.8h1.4v1.4h-1.4zM237.6 445.1h1.4v1.4h-1.4zM241.3 415.7h1.4v1.4h-1.4zM233.4 413.2h1.4v1.4h-1.4zM244.3 434.5h1.4v1.4h-1.4zM235 435.6h1.4v1.4h-1.4zM243.3 398.9h1.4v1.4h-1.4zM241.7 435.6h1.4v1.4h-1.4zM251 446.4h1.4v1.4h-1.4zM239.2 425.4h1.4v1.4h-1.4zM250.6 414.9h1.4v1.4h-1.4zM241.6 405.5h1.4v1.4h-1.4zM247.8 427.4h1.4v1.4h-1.4zM251.6 442.2h1.4v1.4h-1.4zM244.5 414.9h1.4v1.4h-1.4zM241.2 447.7h1.4v1.4h-1.4zM234.2 441.8h1.4v1.4h-1.4zM244.2 427.3h1.4v1.4h-1.4zM242.4 422.4h1.4v1.4h-1.4zM237.3 435.4h1.4v1.4h-1.4zM238.5 411.6h1.4v1.4h-1.4zM240 429.6h1.4v1.4h-1.4zM247.5 443.7h1.4v1.4h-1.4zM237.9 423.8h1.4v1.4h-1.4zM251.9 438.7h1.4v1.4h-1.4zM244.9 440.7h1.4v1.4h-1.4zM240.8 395.3h1.4v1.4h-1.4zM242.5 442.8h1.4v1.4h-1.4zM233.9 448h1.4v1.4h-1.4zM246.8 426.7h1.4v1.4h-1.4zM250.3 429.7h1.4v1.4h-1.4zM239.4 432.4h1.4v1.4h-1.4zM246.2 451.6h1.4v1.4h-1.4zM248.4 438.4h1.4v1.4h-1.4zM240.4 405.1h1.4v1.4h-1.4zM244.3 443.2h1.4v1.4h-1.4z" fill="#2f7fc1" stroke="none" stroke-width="1"/>
<line x1="243.4" y1="383.7" x2="243.4" y2="412" stroke="#2f7fc1" stroke-width="0.9"/>
<line x1="243.4" y1="433.7" x2="243.4" y2="466.5" stroke="#2f7fc1" stroke-width="0.9"/>
<rect x="232.45" y="412" width="21.9" height="21.7" fill="none" stroke="#2f7fc1" stroke-width="0.9"/>
<line x1="232.45" y1="423.7" x2="254.35" y2="423.7" stroke="#2f7fc1" stroke-width="1.1"/>
<path d="M278.8 436.6h1.4v1.4h-1.4zM276 427.1h1.4v1.4h-1.4zM281.1 442.7h1.4v1.4h-1.4zM288.2 424.9h1.4v1.4h-1.4zM282.7 445.3h1.4v1.4h-1.4zM292.1 433h1.4v1.4h-1.4zM285.2 429h1.4v1.4h-1.4zM289.9 417.9h1.4v1.4h-1.4zM287.7 424.5h1.4v1.4h-1.4zM284.9 448.5h1.4v1.4h-1.4zM277.1 434.5h1.4v1.4h-1.4zM281.9 440.6h1.4v1.4h-1.4zM288.4 416.9h1.4v1.4h-1.4zM281 425.2h1.4v1.4h-1.4zM288.4 444.8h1.4v1.4h-1.4zM276.8 431.2h1.4v1.4h-1.4zM292.7 436h1.4v1.4h-1.4zM291.6 416.7h1.4v1.4h-1.4zM288.8 426.4h1.4v1.4h-1.4zM286.5 413.2h1.4v1.4h-1.4zM291.6 439.5h1.4v1.4h-1.4zM279.8 450.4h1.4v1.4h-1.4zM282.6 451.3h1.4v1.4h-1.4zM275.6 433.1h1.4v1.4h-1.4zM287.3 429.5h1.4v1.4h-1.4zM291.7 440.7h1.4v1.4h-1.4zM282.5 450.4h1.4v1.4h-1.4zM277.5 426.2h1.4v1.4h-1.4zM288.4 429.6h1.4v1.4h-1.4zM282.2 420.7h1.4v1.4h-1.4zM281 442.2h1.4v1.4h-1.4zM280.3 429.9h1.4v1.4h-1.4zM278.5 416.1h1.4v1.4h-1.4zM286.9 416.8h1.4v1.4h-1.4zM276.6 436.5h1.4v1.4h-1.4zM285.7 426.6h1.4v1.4h-1.4zM288.6 448.2h1.4v1.4h-1.4zM283 412.8h1.4v1.4h-1.4zM291.8 421.7h1.4v1.4h-1.4zM280.9 442.6h1.4v1.4h-1.4zM292.9 432.3h1.4v1.4h-1.4zM278.9 452.6h1.4v1.4h-1.4zM285.6 441.8h1.4v1.4h-1.4zM286.4 436.8h1.4v1.4h-1.4zM286.2 438.9h1.4v1.4h-1.4zM287.1 443.1h1.4v1.4h-1.4zM276.6 428.1h1.4v1.4h-1.4zM284.2 416.5h1.4v1.4h-1.4zM281.2 451.8h1.4v1.4h-1.4zM290.8 408.1h1.4v1.4h-1.4zM279.6 417.8h1.4v1.4h-1.4zM288 412.7h1.4v1.4h-1.4zM277.3 443.4h1.4v1.4h-1.4zM279 423.4h1.4v1.4h-1.4zM278.2 438.7h1.4v1.4h-1.4zM286.6 440.3h1.4v1.4h-1.4zM288.8 452.5h1.4v1.4h-1.4zM290.2 448.7h1.4v1.4h-1.4zM292.1 442.2h1.4v1.4h-1.4zM292.7 416.7h1.4v1.4h-1.4zM277.4 412.4h1.4v1.4h-1.4zM277.4 412.3h1.4v1.4h-1.4zM282.2 443.5h1.4v1.4h-1.4zM283.8 439h1.4v1.4h-1.4zM277 426.8h1.4v1.4h-1.4zM282.8 416.7h1.4v1.4h-1.4zM277.6 423.8h1.4v1.4h-1.4zM286.2 432.3h1.4v1.4h-1.4zM284.4 422h1.4v1.4h-1.4zM292.8 449.3h1.4v1.4h-1.4zM289.2 440.2h1.4v1.4h-1.4zM288.5 433.9h1.4v1.4h-1.4zM284.1 433.8h1.4v1.4h-1.4zM281.9 441.7h1.4v1.4h-1.4zM282.4 433.3h1.4v1.4h-1.4zM280.7 407.3h1.4v1.4h-1.4zM289.7 416h1.4v1.4h-1.4zM285.9 435.8h1.4v1.4h-1.4zM290.8 432.3h1.4v1.4h-1.4zM284.8 446.6h1.4v1.4h-1.4zM279.8 448.2h1.4v1.4h-1.4zM287.5 439.7h1.4v1.4h-1.4zM277.2 444.6h1.4v1.4h-1.4zM284.1 440.1h1.4v1.4h-1.4zM282.5 451.4h1.4v1.4h-1.4z" fill="#dc1e46" stroke="none" stroke-width="1"/>
<line x1="285.2" y1="406.3" x2="285.2" y2="428.4" stroke="#dc1e46" stroke-width="0.9"/>
<line x1="285.2" y1="444.7" x2="285.2" y2="456" stroke="#dc1e46" stroke-width="0.9"/>
<rect x="274.4" y="428.4" width="21.6" height="16.3" fill="none" stroke="#dc1e46" stroke-width="0.9"/>
<line x1="274.4" y1="436.3" x2="296" y2="436.3" stroke="#dc1e46" stroke-width="1.1"/>
<path d="M371.5 423h1.4v1.4h-1.4zM369.2 440.2h1.4v1.4h-1.4zM353.9 435h1.4v1.4h-1.4zM354.1 427.1h1.4v1.4h-1.4zM358.6 407.5h1.4v1.4h-1.4zM363.6 407.4h1.4v1.4h-1.4zM354.8 430.1h1.4v1.4h-1.4zM362.2 435.3h1.4v1.4h-1.4zM359.1 417.4h1.4v1.4h-1.4zM371.9 426.7h1.4v1.4h-1.4zM354.8 416.6h1.4v1.4h-1.4zM361.3 404.5h1.4v1.4h-1.4zM365.1 428.9h1.4v1.4h-1.4zM370.9 405.4h1.4v1.4h-1.4zM354.5 408.8h1.4v1.4h-1.4zM354.3 404h1.4v1.4h-1.4zM370.4 427.7h1.4v1.4h-1.4zM369.5 405.9h1.4v1.4h-1.4zM372.8 441.2h1.4v1.4h-1.4zM368.2 415.9h1.4v1.4h-1.4zM368.6 433.6h1.4v1.4h-1.4zM361.8 418.6h1.4v1.4h-1.4zM357.9 414.7h1.4v1.4h-1.4zM362.7 412.1h1.4v1.4h-1.4zM359.2 432.4h1.4v1.4h-1.4zM357 420.4h1.4v1.4h-1.4zM362.5 416.9h1.4v1.4h-1.4zM370.9 441.9h1.4v1.4h-1.4zM370.6 433.6h1.4v1.4h-1.4zM369.5 426.5h1.4v1.4h-1.4zM372.1 428.7h1.4v1.4h-1.4zM358.3 417h1.4v1.4h-1.4zM371.3 419.3h1.4v1.4h-1.4zM357.3 429.7h1.4v1.4h-1.4zM362 423.5h1.4v1.4h-1.4zM360.9 422h1.4v1.4h-1.4zM368.5 456.8h1.4v1.4h-1.4zM372.3 438.5h1.4v1.4h-1.4zM367.1 444h1.4v1.4h-1.4zM366 433h1.4v1.4h-1.4zM360.9 430.2h1.4v1.4h-1.4zM364.9 410.7h1.4v1.4h-1.4zM372.2 441.1h1.4v1.4h-1.4zM358.8 426.7h1.4v1.4h-1.4zM364.2 449.8h1.4v1.4h-1.4zM362.9 424.1h1.4v1.4h-1.4zM367.2 415.2h1.4v1.4h-1.4zM361.8 457.7h1.4v1.4h-1.4zM363.4 427h1.4v1.4h-1.4zM354.9 399.5h1.4v1.4h-1.4zM363.3 403.8h1.4v1.4h-1.4zM360.4 443.4h1.4v1.4h-1.4zM354.2 429.7h1.4v1.4h-1.4zM366.2 419.2h1.4v1.4h-1.4zM371.4 445.1h1.4v1.4h-1.4zM367.4 409.3h1.4v1.4h-1.4zM371.6 442.2h1.4v1.4h-1.4zM359.5 407.8h1.4v1.4h-1.4zM355.3 447.2h1.4v1.4h-1.4zM362.3 463.3h1.4v1.4h-1.4zM361.2 423.3h1.4v1.4h-1.4zM371.4 402.2h1.4v1.4h-1.4zM369.6 418h1.4v1.4h-1.4zM356.4 448.1h1.4v1.4h-1.4zM364.6 412.2h1.4v1.4h-1.4zM357.7 443.1h1.4v1.4h-1.4zM355.5 418.9h1.4v1.4h-1.4zM360.3 427.2h1.4v1.4h-1.4zM358.8 455.9h1.4v1.4h-1.4zM359 464.2h1.4v1.4h-1.4zM358.8 431.8h1.4v1.4h-1.4zM369.6 394.9h1.4v1.4h-1.4zM365.7 412.1h1.4v1.4h-1.4zM358.5 412h1.4v1.4h-1.4zM362.1 422h1.4v1.4h-1.4zM370.8 463.8h1.4v1.4h-1.4zM354.8 429.9h1.4v1.4h-1.4zM367.9 434.5h1.4v1.4h-1.4zM354.6 422.9h1.4v1.4h-1.4zM369.5 424.3h1.4v1.4h-1.4zM354.6 387h1.4v1.4h-1.4zM365 426.7h1.4v1.4h-1.4zM365.4 447.7h1.4v1.4h-1.4zM365.4 445.6h1.4v1.4h-1.4zM355.9 433.5h1.4v1.4h-1.4zM355.6 451.7h1.4v1.4h-1.4zM355.1 436.5h1.4v1.4h-1.4zM370.7 398.8h1.4v1.4h-1.4zM367.5 432.1h1.4v1.4h-1.4zM369.8 449.9h1.4v1.4h-1.4zM356.1 436.8h1.4v1.4h-1.4zM359.5 425.7h1.4v1.4h-1.4zM353.8 410.7h1.4v1.4h-1.4zM370.9 426.5h1.4v1.4h-1.4zM362.6 402.6h1.4v1.4h-1.4zM358.8 432.7h1.4v1.4h-1.4zM371.8 436.2h1.4v1.4h-1.4zM360.5 427.6h1.4v1.4h-1.4zM355.3 433.1h1.4v1.4h-1.4zM366.2 401.8h1.4v1.4h-1.4zM357.1 437.2h1.4v1.4h-1.4zM366.9 439.4h1.4v1.4h-1.4zM362.3 442.1h1.4v1.4h-1.4zM356.6 387.9h1.4v1.4h-1.4zM358.9 406.8h1.4v1.4h-1.4zM370.9 401.9h1.4v1.4h-1.4zM364.4 426.2h1.4v1.4h-1.4zM368.7 415h1.4v1.4h-1.4zM369.7 408.5h1.4v1.4h-1.4zM358.7 422.9h1.4v1.4h-1.4zM360.6 434h1.4v1.4h-1.4zM365.8 436.7h1.4v1.4h-1.4zM366 415.8h1.4v1.4h-1.4zM368.4 434.4h1.4v1.4h-1.4zM360.2 422.7h1.4v1.4h-1.4zM369.8 446.6h1.4v1.4h-1.4zM364.9 441.4h1.4v1.4h-1.4zM361.1 440.9h1.4v1.4h-1.4zM358.8 405.4h1.4v1.4h-1.4zM361.6 402.4h1.4v1.4h-1.4zM355 421.2h1.4v1.4h-1.4zM367.4 432.8h1.4v1.4h-1.4zM355 393h1.4v1.4h-1.4zM359.5 445.7h1.4v1.4h-1.4zM368.8 444.6h1.4v1.4h-1.4zM370.8 466.3h1.4v1.4h-1.4zM361.7 416.4h1.4v1.4h-1.4zM358.1 424.9h1.4v1.4h-1.4zM359.3 449.4h1.4v1.4h-1.4zM355.8 429.4h1.4v1.4h-1.4zM371.8 422.1h1.4v1.4h-1.4zM368.4 416.7h1.4v1.4h-1.4zM356 427.2h1.4v1.4h-1.4zM372.6 417.6h1.4v1.4h-1.4zM364.1 423.5h1.4v1.4h-1.4zM364.3 411.4h1.4v1.4h-1.4zM372.3 431.1h1.4v1.4h-1.4zM363.6 413.6h1.4v1.4h-1.4zM371.2 431h1.4v1.4h-1.4zM371.3 405.6h1.4v1.4h-1.4zM360 443.4h1.4v1.4h-1.4zM356.5 434h1.4v1.4h-1.4zM354.8 403.8h1.4v1.4h-1.4zM362.2 444.9h1.4v1.4h-1.4zM371.2 417.4h1.4v1.4h-1.4zM359.2 405.4h1.4v1.4h-1.4zM367.9 415.3h1.4v1.4h-1.4zM368.2 424.5h1.4v1.4h-1.4zM365.3 446.6h1.4v1.4h-1.4zM367 433.8h1.4v1.4h-1.4zM367.7 434.8h1.4v1.4h-1.4zM356.3 464.7h1.4v1.4h-1.4zM362.3 429.4h1.4v1.4h-1.4zM365.6 432.4h1.4v1.4h-1.4zM367.1 432.3h1.4v1.4h-1.4zM355.8 416.5h1.4v1.4h-1.4zM360.6 412.7h1.4v1.4h-1.4zM354.8 418.3h1.4v1.4h-1.4zM368.3 423.5h1.4v1.4h-1.4zM360.2 415.8h1.4v1.4h-1.4zM363.1 402.7h1.4v1.4h-1.4zM370.4 410.6h1.4v1.4h-1.4zM360.1 438.8h1.4v1.4h-1.4zM370.5 417.8h1.4v1.4h-1.4zM361.7 438.6h1.4v1.4h-1.4zM372.4 439.9h1.4v1.4h-1.4zM368.2 444.4h1.4v1.4h-1.4zM367.6 445.2h1.4v1.4h-1.4zM359.7 425.6h1.4v1.4h-1.4zM361.8 442.1h1.4v1.4h-1.4zM369.7 403.1h1.4v1.4h-1.4zM367.7 417.5h1.4v1.4h-1.4zM363.4 409.9h1.4v1.4h-1.4zM368.9 419.1h1.4v1.4h-1.4zM356.8 399.9h1.4v1.4h-1.4zM368.8 424.4h1.4v1.4h-1.4zM368.5 425.3h1.4v1.4h-1.4zM364 428.2h1.4v1.4h-1.4zM362.9 420.5h1.4v1.4h-1.4zM372.3 434.6h1.4v1.4h-1.4zM370 434h1.4v1.4h-1.4zM366.2 427.9h1.4v1.4h-1.4zM361.1 460.8h1.4v1.4h-1.4zM359 416.9h1.4v1.4h-1.4zM354 414.5h1.4v1.4h-1.4zM367.9 411.5h1.4v1.4h-1.4zM363.4 404.5h1.4v1.4h-1.4zM367.8 410.5h1.4v1.4h-1.4zM360.9 431.7h1.4v1.4h-1.4zM362.2 399.2h1.4v1.4h-1.4zM366.8 407.1h1.4v1.4h-1.4zM369.8 438.9h1.4v1.4h-1.4zM356.6 430.8h1.4v1.4h-1.4zM368.4 428.3h1.4v1.4h-1.4zM355.8 426.4h1.4v1.4h-1.4zM369.1 405.7h1.4v1.4h-1.4zM362.9 430.6h1.4v1.4h-1.4zM368.9 421.1h1.4v1.4h-1.4zM368.4 424.7h1.4v1.4h-1.4zM365.5 399.7h1.4v1.4h-1.4zM367.4 400.2h1.4v1.4h-1.4zM354.2 440.8h1.4v1.4h-1.4zM370.6 404.2h1.4v1.4h-1.4zM355.1 438h1.4v1.4h-1.4zM360.3 424.5h1.4v1.4h-1.4zM355.5 440h1.4v1.4h-1.4zM358 436h1.4v1.4h-1.4zM359.5 445.3h1.4v1.4h-1.4zM367.6 425.7h1.4v1.4h-1.4zM371.9 416.6h1.4v1.4h-1.4zM370.8 432.6h1.4v1.4h-1.4zM361.4 420.4h1.4v1.4h-1.4zM362.4 413h1.4v1.4h-1.4zM362.5 421.6h1.4v1.4h-1.4zM368.4 427.7h1.4v1.4h-1.4zM366.8 412.2h1.4v1.4h-1.4zM368.3 390.1h1.4v1.4h-1.4zM368.9 454.3h1.4v1.4h-1.4zM361.7 394.7h1.4v1.4h-1.4zM370.6 410.4h1.4v1.4h-1.4zM367.4 401.9h1.4v1.4h-1.4zM360 413.8h1.4v1.4h-1.4zM358.6 429.6h1.4v1.4h-1.4zM357.4 411.9h1.4v1.4h-1.4zM363.9 395.8h1.4v1.4h-1.4zM355.6 435h1.4v1.4h-1.4zM365.3 410.1h1.4v1.4h-1.4zM359.3 418.5h1.4v1.4h-1.4zM353.9 433.3h1.4v1.4h-1.4zM355.8 437.1h1.4v1.4h-1.4zM353.9 441.3h1.4v1.4h-1.4zM369.6 410.6h1.4v1.4h-1.4zM355.3 405.5h1.4v1.4h-1.4zM356.7 463.5h1.4v1.4h-1.4zM365.2 431.9h1.4v1.4h-1.4zM368.2 425.6h1.4v1.4h-1.4zM362.4 391.5h1.4v1.4h-1.4zM371.3 430.1h1.4v1.4h-1.4zM357 407h1.4v1.4h-1.4zM361.9 410.6h1.4v1.4h-1.4zM358.2 392.6h1.4v1.4h-1.4zM359.4 438.2h1.4v1.4h-1.4zM364 428.2h1.4v1.4h-1.4zM358 418.7h1.4v1.4h-1.4zM355.6 412.4h1.4v1.4h-1.4zM367.7 403.4h1.4v1.4h-1.4zM370.1 411.4h1.4v1.4h-1.4zM368.6 434.4h1.4v1.4h-1.4zM356.1 414.9h1.4v1.4h-1.4zM363.7 451.8h1.4v1.4h-1.4zM371.2 448.8h1.4v1.4h-1.4zM365.9 438.7h1.4v1.4h-1.4zM362.7 447.3h1.4v1.4h-1.4zM362.2 431h1.4v1.4h-1.4zM362.3 434.2h1.4v1.4h-1.4zM355.2 437.7h1.4v1.4h-1.4zM359.3 418.8h1.4v1.4h-1.4zM355.5 412.7h1.4v1.4h-1.4zM359.3 411.1h1.4v1.4h-1.4zM355.6 466.7h1.4v1.4h-1.4zM355.5 399.5h1.4v1.4h-1.4zM360.3 462.9h1.4v1.4h-1.4zM362.6 432.6h1.4v1.4h-1.4zM355.7 453h1.4v1.4h-1.4zM366.8 436.2h1.4v1.4h-1.4zM362.4 412.5h1.4v1.4h-1.4zM358.1 429.8h1.4v1.4h-1.4zM359.2 420.6h1.4v1.4h-1.4zM363.3 422.1h1.4v1.4h-1.4zM360.4 460.3h1.4v1.4h-1.4zM364.6 388.8h1.4v1.4h-1.4zM362.4 423.7h1.4v1.4h-1.4zM361.5 410.9h1.4v1.4h-1.4zM361.9 403.5h1.4v1.4h-1.4zM370.5 439.1h1.4v1.4h-1.4zM359.6 440.3h1.4v1.4h-1.4zM365 408.3h1.4v1.4h-1.4zM357.1 444.6h1.4v1.4h-1.4zM354.6 396.3h1.4v1.4h-1.4zM355.9 435.6h1.4v1.4h-1.4zM355.1 426.7h1.4v1.4h-1.4zM355.3 384.3h1.4v1.4h-1.4zM366.3 414.5h1.4v1.4h-1.4zM354.5 414.2h1.4v1.4h-1.4zM360.1 414.5h1.4v1.4h-1.4zM367 428.3h1.4v1.4h-1.4zM369.8 388.3h1.4v1.4h-1.4zM365.6 423h1.4v1.4h-1.4zM362.8 432.1h1.4v1.4h-1.4zM359.9 415.6h1.4v1.4h-1.4zM370.6 418.8h1.4v1.4h-1.4zM360.8 418.8h1.4v1.4h-1.4zM371.7 434.8h1.4v1.4h-1.4zM372.7 396.5h1.4v1.4h-1.4zM356.3 449h1.4v1.4h-1.4zM362.5 424.8h1.4v1.4h-1.4zM359.1 394.8h1.4v1.4h-1.4zM371.5 434.3h1.4v1.4h-1.4zM361.4 442.6h1.4v1.4h-1.4zM362.1 424.4h1.4v1.4h-1.4zM365.5 451.6h1.4v1.4h-1.4zM354.5 410.4h1.4v1.4h-1.4zM369.3 429.7h1.4v1.4h-1.4zM363.3 417.6h1.4v1.4h-1.4zM364.8 413.4h1.4v1.4h-1.4zM368.6 384.6h1.4v1.4h-1.4zM359.6 424.4h1.4v1.4h-1.4zM356.9 411.5h1.4v1.4h-1.4zM371.5 447.4h1.4v1.4h-1.4zM359 446.7h1.4v1.4h-1.4zM363.8 431.6h1.4v1.4h-1.4zM372.6 438.2h1.4v1.4h-1.4zM368.8 429.1h1.4v1.4h-1.4zM354.4 429.1h1.4v1.4h-1.4zM356.1 445.8h1.4v1.4h-1.4zM359.7 444.8h1.4v1.4h-1.4zM355.9 425.4h1.4v1.4h-1.4zM372.7 432.3h1.4v1.4h-1.4zM369.7 422.7h1.4v1.4h-1.4zM368.7 382.8h1.4v1.4h-1.4zM358.9 424.9h1.4v1.4h-1.4zM355 436.8h1.4v1.4h-1.4zM363.1 438.9h1.4v1.4h-1.4zM354 452.2h1.4v1.4h-1.4zM370 412.9h1.4v1.4h-1.4zM367.7 460h1.4v1.4h-1.4zM364.4 420.5h1.4v1.4h-1.4zM361.1 383.9h1.4v1.4h-1.4zM354.5 411.5h1.4v1.4h-1.4zM358.7 418.5h1.4v1.4h-1.4z" fill="#2f7fc1" stroke="none" stroke-width="1"/>
<line x1="364" y1="383" x2="364" y2="415.2" stroke="#2f7fc1" stroke-width="0.9"/>
<line x1="364" y1="439.5" x2="364" y2="471" stroke="#2f7fc1" stroke-width="0.9"/>
<rect x="353.45" y="415.2" width="21.1" height="24.3" fill="none" stroke="#2f7fc1" stroke-width="0.9"/>
<line x1="353.45" y1="426" x2="374.55" y2="426" stroke="#2f7fc1" stroke-width="1.1"/>
<path d="M396.3 419.5h1.4v1.4h-1.4zM399.3 432.2h1.4v1.4h-1.4zM403.6 394.8h1.4v1.4h-1.4zM405.5 447.1h1.4v1.4h-1.4zM400.6 400.6h1.4v1.4h-1.4zM406.2 415.5h1.4v1.4h-1.4zM410.2 440.7h1.4v1.4h-1.4zM397.5 433.8h1.4v1.4h-1.4zM395 412.9h1.4v1.4h-1.4zM394.9 416.8h1.4v1.4h-1.4zM400.2 422h1.4v1.4h-1.4zM406.8 431.4h1.4v1.4h-1.4zM405.3 443.2h1.4v1.4h-1.4zM398.5 422.9h1.4v1.4h-1.4zM405.5 438.6h1.4v1.4h-1.4zM407.5 424.6h1.4v1.4h-1.4zM410.5 426.9h1.4v1.4h-1.4zM406.1 406h1.4v1.4h-1.4zM398.2 426.5h1.4v1.4h-1.4zM403.2 421.8h1.4v1.4h-1.4zM408.2 420.7h1.4v1.4h-1.4zM401 426.9h1.4v1.4h-1.4zM409.9 404.9h1.4v1.4h-1.4zM400.2 433.4h1.4v1.4h-1.4zM406.6 403.5h1.4v1.4h-1.4zM400.4 419.3h1.4v1.4h-1.4zM405.6 425.3h1.4v1.4h-1.4zM406.4 452.2h1.4v1.4h-1.4zM404.9 444.3h1.4v1.4h-1.4zM398.3 446.1h1.4v1.4h-1.4zM395.2 457.7h1.4v1.4h-1.4zM395.4 412.4h1.4v1.4h-1.4zM399.7 429.6h1.4v1.4h-1.4zM411.2 440.4h1.4v1.4h-1.4zM396.2 447.1h1.4v1.4h-1.4zM406 410.7h1.4v1.4h-1.4zM395.2 454.8h1.4v1.4h-1.4zM410.9 431.7h1.4v1.4h-1.4zM402.8 446h1.4v1.4h-1.4zM403.5 428.4h1.4v1.4h-1.4zM397.5 452.9h1.4v1.4h-1.4zM403.4 413.2h1.4v1.4h-1.4zM404.5 401.1h1.4v1.4h-1.4zM405.8 436.1h1.4v1.4h-1.4zM406.7 452.8h1.4v1.4h-1.4zM400.8 436.2h1.4v1.4h-1.4zM405.9 421.6h1.4v1.4h-1.4zM405.9 411.5h1.4v1.4h-1.4zM407.5 407h1.4v1.4h-1.4zM407.6 388.6h1.4v1.4h-1.4zM405.9 425.3h1.4v1.4h-1.4zM406 415.3h1.4v1.4h-1.4zM398.9 442.3h1.4v1.4h-1.4zM407.8 404.6h1.4v1.4h-1.4zM408.6 430.7h1.4v1.4h-1.4zM402.8 382h1.4v1.4h-1.4zM405 439.1h1.4v1.4h-1.4zM407.7 447.6h1.4v1.4h-1.4zM412 428.5h1.4v1.4h-1.4zM406.5 447.4h1.4v1.4h-1.4zM410.3 394.5h1.4v1.4h-1.4zM397.4 420.6h1.4v1.4h-1.4zM407.4 401.3h1.4v1.4h-1.4zM412.1 431.9h1.4v1.4h-1.4zM396 442h1.4v1.4h-1.4zM402.5 393.2h1.4v1.4h-1.4zM408.4 403.9h1.4v1.4h-1.4zM404.4 411.9h1.4v1.4h-1.4zM410.4 415h1.4v1.4h-1.4zM407.7 404.2h1.4v1.4h-1.4zM403.7 453h1.4v1.4h-1.4zM406.6 425.1h1.4v1.4h-1.4zM412.1 423.5h1.4v1.4h-1.4zM400.5 427h1.4v1.4h-1.4zM398.2 423.5h1.4v1.4h-1.4zM411.5 429.5h1.4v1.4h-1.4zM409.4 426.5h1.4v1.4h-1.4zM399.1 446.5h1.4v1.4h-1.4zM410.9 416.3h1.4v1.4h-1.4zM403.4 406.5h1.4v1.4h-1.4zM401.3 422h1.4v1.4h-1.4zM394.8 443.5h1.4v1.4h-1.4zM400.5 438h1.4v1.4h-1.4zM408.6 437.4h1.4v1.4h-1.4zM399.3 447.4h1.4v1.4h-1.4z" fill="#dc1e46" stroke="none" stroke-width="1"/>
<line x1="404.5" y1="381.6" x2="404.5" y2="420" stroke="#dc1e46" stroke-width="0.9"/>
<line x1="404.5" y1="446.3" x2="404.5" y2="460" stroke="#dc1e46" stroke-width="0.9"/>
<rect x="394.25" y="420" width="20.5" height="26.3" fill="none" stroke="#dc1e46" stroke-width="0.9"/>
<line x1="394.25" y1="430.2" x2="414.75" y2="430.2" stroke="#dc1e46" stroke-width="1.1"/>
<path d="M479.9 420.6h1.4v1.4h-1.4zM476.5 409.3h1.4v1.4h-1.4zM484.3 408.3h1.4v1.4h-1.4zM489.2 427.3h1.4v1.4h-1.4zM476.3 442.9h1.4v1.4h-1.4zM484.6 389.4h1.4v1.4h-1.4zM490.9 444.9h1.4v1.4h-1.4zM475.1 404.1h1.4v1.4h-1.4zM474.4 449.8h1.4v1.4h-1.4zM479.2 412.9h1.4v1.4h-1.4zM488.3 468.7h1.4v1.4h-1.4zM489.7 426.2h1.4v1.4h-1.4zM483.1 450.4h1.4v1.4h-1.4zM491.6 429.9h1.4v1.4h-1.4zM493.1 440.9h1.4v1.4h-1.4zM484.8 421.2h1.4v1.4h-1.4zM482.4 425.5h1.4v1.4h-1.4zM484.2 438.8h1.4v1.4h-1.4zM492.3 408.3h1.4v1.4h-1.4zM483.3 435.2h1.4v1.4h-1.4zM478.9 413.6h1.4v1.4h-1.4zM482.3 469.6h1.4v1.4h-1.4zM493.2 443.7h1.4v1.4h-1.4zM486.1 440.2h1.4v1.4h-1.4zM487.1 391.9h1.4v1.4h-1.4zM484.2 423.5h1.4v1.4h-1.4zM474.9 419.5h1.4v1.4h-1.4zM476.6 439.5h1.4v1.4h-1.4zM487.1 426h1.4v1.4h-1.4zM480.7 431h1.4v1.4h-1.4zM483.7 431.2h1.4v1.4h-1.4zM478.3 450.6h1.4v1.4h-1.4zM475.6 446.3h1.4v1.4h-1.4zM475.9 406h1.4v1.4h-1.4zM479.8 454.4h1.4v1.4h-1.4zM487.8 408.1h1.4v1.4h-1.4zM492.1 444h1.4v1.4h-1.4zM482.4 424.9h1.4v1.4h-1.4zM490.2 422.1h1.4v1.4h-1.4zM478.8 414.7h1.4v1.4h-1.4zM475.5 419.5h1.4v1.4h-1.4zM482.8 413.3h1.4v1.4h-1.4zM491.3 426.8h1.4v1.4h-1.4zM489.2 452.7h1.4v1.4h-1.4zM476.8 412h1.4v1.4h-1.4zM483.5 412.8h1.4v1.4h-1.4zM492.9 444.9h1.4v1.4h-1.4zM480.4 415.2h1.4v1.4h-1.4zM492.1 407.1h1.4v1.4h-1.4zM479.6 427.6h1.4v1.4h-1.4zM486.8 419.3h1.4v1.4h-1.4zM475 460.8h1.4v1.4h-1.4zM480.9 408.4h1.4v1.4h-1.4zM478.6 420.4h1.4v1.4h-1.4zM484.1 441.7h1.4v1.4h-1.4zM482.1 415.2h1.4v1.4h-1.4zM492.3 443.2h1.4v1.4h-1.4zM492 394.6h1.4v1.4h-1.4zM474.9 405.1h1.4v1.4h-1.4zM478 437.2h1.4v1.4h-1.4zM488.3 421.3h1.4v1.4h-1.4zM483.3 429.6h1.4v1.4h-1.4zM488 394.4h1.4v1.4h-1.4zM478.5 414.2h1.4v1.4h-1.4zM476.4 436.2h1.4v1.4h-1.4zM492.4 443.1h1.4v1.4h-1.4zM479.6 414h1.4v1.4h-1.4zM489.1 450h1.4v1.4h-1.4zM491.1 413.7h1.4v1.4h-1.4zM491.9 429.7h1.4v1.4h-1.4zM478.5 455.6h1.4v1.4h-1.4zM486.4 437h1.4v1.4h-1.4zM480 415.7h1.4v1.4h-1.4zM485.8 445.3h1.4v1.4h-1.4zM487.2 400h1.4v1.4h-1.4zM483.3 428.4h1.4v1.4h-1.4zM489.3 454.4h1.4v1.4h-1.4zM492 420.2h1.4v1.4h-1.4zM489.3 404.9h1.4v1.4h-1.4zM487.8 405.8h1.4v1.4h-1.4zM477.3 438h1.4v1.4h-1.4zM474.7 453.4h1.4v1.4h-1.4zM479.1 420.4h1.4v1.4h-1.4zM474.8 408.3h1.4v1.4h-1.4zM481.1 466h1.4v1.4h-1.4zM482.6 434.3h1.4v1.4h-1.4zM487.6 404.4h1.4v1.4h-1.4zM478.5 380.1h1.4v1.4h-1.4zM485.3 444.9h1.4v1.4h-1.4zM486.5 427.9h1.4v1.4h-1.4zM485.9 416.8h1.4v1.4h-1.4zM490.1 425.6h1.4v1.4h-1.4zM479.8 415.7h1.4v1.4h-1.4zM480.4 398.8h1.4v1.4h-1.4zM479.3 401.3h1.4v1.4h-1.4zM486.8 395.4h1.4v1.4h-1.4zM486.8 397.3h1.4v1.4h-1.4zM479.3 434.8h1.4v1.4h-1.4zM485.4 439.7h1.4v1.4h-1.4zM485.7 434.5h1.4v1.4h-1.4zM490.5 463.6h1.4v1.4h-1.4zM493 424.2h1.4v1.4h-1.4zM483.3 402.8h1.4v1.4h-1.4zM481.4 429.6h1.4v1.4h-1.4zM476.6 431.1h1.4v1.4h-1.4zM492.5 396.3h1.4v1.4h-1.4zM484.7 387.9h1.4v1.4h-1.4zM485.5 422.1h1.4v1.4h-1.4zM476.8 418h1.4v1.4h-1.4zM488.2 423.3h1.4v1.4h-1.4zM489.8 421.3h1.4v1.4h-1.4zM488.5 439.7h1.4v1.4h-1.4zM476.8 431.2h1.4v1.4h-1.4zM488.7 404.3h1.4v1.4h-1.4zM487.5 437h1.4v1.4h-1.4zM479.5 465.4h1.4v1.4h-1.4zM489.3 462.5h1.4v1.4h-1.4zM485.5 429.5h1.4v1.4h-1.4zM488.2 447h1.4v1.4h-1.4zM482.6 427.2h1.4v1.4h-1.4zM478.7 410.4h1.4v1.4h-1.4zM484.7 418.7h1.4v1.4h-1.4zM485.8 386.1h1.4v1.4h-1.4zM483.8 394.7h1.4v1.4h-1.4zM482.1 408.4h1.4v1.4h-1.4zM479.4 400.4h1.4v1.4h-1.4zM475 418.8h1.4v1.4h-1.4zM477.5 406.4h1.4v1.4h-1.4zM486.8 404.9h1.4v1.4h-1.4zM483.6 458.6h1.4v1.4h-1.4zM481 438h1.4v1.4h-1.4zM488.6 408.6h1.4v1.4h-1.4zM491.2 417.7h1.4v1.4h-1.4zM474.8 405.2h1.4v1.4h-1.4zM491 380.7h1.4v1.4h-1.4zM478 417.8h1.4v1.4h-1.4zM492.1 439.9h1.4v1.4h-1.4zM480.5 400.1h1.4v1.4h-1.4zM493.1 410.6h1.4v1.4h-1.4zM480.7 398.1h1.4v1.4h-1.4zM487.3 419.1h1.4v1.4h-1.4zM475.6 437.3h1.4v1.4h-1.4zM477.9 437.2h1.4v1.4h-1.4zM492.3 417.6h1.4v1.4h-1.4zM480.9 387h1.4v1.4h-1.4zM478.9 429.4h1.4v1.4h-1.4zM477.9 380.6h1.4v1.4h-1.4zM487.2 399.8h1.4v1.4h-1.4zM491.5 425h1.4v1.4h-1.4zM485.6 469.4h1.4v1.4h-1.4zM492.5 435.4h1.4v1.4h-1.4zM485.5 462.8h1.4v1.4h-1.4zM486.3 439h1.4v1.4h-1.4zM475.2 442.6h1.4v1.4h-1.4zM479.2 453.3h1.4v1.4h-1.4zM483.7 429.2h1.4v1.4h-1.4zM487.1 457.7h1.4v1.4h-1.4zM480.3 443.3h1.4v1.4h-1.4zM489.3 402.3h1.4v1.4h-1.4zM485.2 413.9h1.4v1.4h-1.4zM489.9 408.1h1.4v1.4h-1.4zM476.1 404.4h1.4v1.4h-1.4zM490.1 466.9h1.4v1.4h-1.4zM474.5 462h1.4v1.4h-1.4zM490.6 456h1.4v1.4h-1.4zM487.6 407.8h1.4v1.4h-1.4zM488.8 420.2h1.4v1.4h-1.4zM487.8 437.6h1.4v1.4h-1.4zM481.2 409.4h1.4v1.4h-1.4zM492.1 432.7h1.4v1.4h-1.4zM493 412.2h1.4v1.4h-1.4zM492.9 432.9h1.4v1.4h-1.4zM488.2 436.4h1.4v1.4h-1.4zM481.7 443.9h1.4v1.4h-1.4zM479.5 391.5h1.4v1.4h-1.4zM485.6 435.2h1.4v1.4h-1.4zM484.7 434h1.4v1.4h-1.4zM482.4 446h1.4v1.4h-1.4zM491.7 440h1.4v1.4h-1.4zM479.3 420.4h1.4v1.4h-1.4zM480.3 422.5h1.4v1.4h-1.4zM492.9 438.9h1.4v1.4h-1.4zM492.9 398.2h1.4v1.4h-1.4zM487.5 465.3h1.4v1.4h-1.4zM477.5 439.7h1.4v1.4h-1.4zM479 453.4h1.4v1.4h-1.4zM487.2 421.3h1.4v1.4h-1.4zM484.2 442h1.4v1.4h-1.4zM477 424.1h1.4v1.4h-1.4zM476.5 447.6h1.4v1.4h-1.4zM484.2 419.8h1.4v1.4h-1.4zM479.2 432.7h1.4v1.4h-1.4zM490.6 431.7h1.4v1.4h-1.4zM492.3 409.4h1.4v1.4h-1.4zM492 445.3h1.4v1.4h-1.4zM483.3 421.3h1.4v1.4h-1.4zM484.6 450h1.4v1.4h-1.4zM479.2 410.4h1.4v1.4h-1.4zM491.1 430.1h1.4v1.4h-1.4zM487.7 405h1.4v1.4h-1.4zM479.4 423.3h1.4v1.4h-1.4zM482.2 431.7h1.4v1.4h-1.4zM474.4 406.3h1.4v1.4h-1.4zM483.2 453.1h1.4v1.4h-1.4zM487.4 390.2h1.4v1.4h-1.4zM493.3 415.8h1.4v1.4h-1.4zM489.3 397.6h1.4v1.4h-1.4zM492.2 400.6h1.4v1.4h-1.4zM484.8 436.3h1.4v1.4h-1.4zM486.9 411.5h1.4v1.4h-1.4zM483.6 416.6h1.4v1.4h-1.4zM493.2 393.9h1.4v1.4h-1.4zM475.7 436.1h1.4v1.4h-1.4zM480.7 426.7h1.4v1.4h-1.4zM479.2 443.9h1.4v1.4h-1.4zM476.2 400.6h1.4v1.4h-1.4zM477 429h1.4v1.4h-1.4zM488.5 442.1h1.4v1.4h-1.4zM486.1 434.3h1.4v1.4h-1.4zM476.8 443.2h1.4v1.4h-1.4zM491 447.2h1.4v1.4h-1.4zM488.1 397.5h1.4v1.4h-1.4zM482.3 426.6h1.4v1.4h-1.4zM481.5 409.4h1.4v1.4h-1.4zM482.6 386h1.4v1.4h-1.4zM489.5 463.7h1.4v1.4h-1.4zM478.3 421.9h1.4v1.4h-1.4zM485.3 421.4h1.4v1.4h-1.4zM479 433.5h1.4v1.4h-1.4zM481.5 411.3h1.4v1.4h-1.4zM491.9 403.7h1.4v1.4h-1.4zM485.9 435.7h1.4v1.4h-1.4zM483.9 424.9h1.4v1.4h-1.4zM477.4 451.7h1.4v1.4h-1.4zM486.8 421.9h1.4v1.4h-1.4zM490.8 434.8h1.4v1.4h-1.4zM481.6 456.2h1.4v1.4h-1.4zM484.9 408.9h1.4v1.4h-1.4zM484.6 414.3h1.4v1.4h-1.4zM483.7 423.7h1.4v1.4h-1.4zM490.2 437.8h1.4v1.4h-1.4zM486.5 454.6h1.4v1.4h-1.4zM486.3 420.2h1.4v1.4h-1.4zM484.8 445.3h1.4v1.4h-1.4zM482 420.6h1.4v1.4h-1.4zM486.2 456h1.4v1.4h-1.4zM484.5 446.5h1.4v1.4h-1.4zM485 412.2h1.4v1.4h-1.4zM479 419.7h1.4v1.4h-1.4zM491.8 412.8h1.4v1.4h-1.4zM479.2 452.2h1.4v1.4h-1.4zM483.6 459h1.4v1.4h-1.4zM477.6 411.3h1.4v1.4h-1.4zM492.5 434.6h1.4v1.4h-1.4zM488.3 442.5h1.4v1.4h-1.4zM481.4 432.3h1.4v1.4h-1.4zM492.9 443.7h1.4v1.4h-1.4zM478.2 469.8h1.4v1.4h-1.4zM493.3 422.3h1.4v1.4h-1.4zM485.6 404.7h1.4v1.4h-1.4zM476.8 458.2h1.4v1.4h-1.4zM482.7 406.3h1.4v1.4h-1.4zM476 425h1.4v1.4h-1.4zM493.1 415.1h1.4v1.4h-1.4zM475.5 461.3h1.4v1.4h-1.4zM487.6 412.2h1.4v1.4h-1.4zM487.9 425.9h1.4v1.4h-1.4zM491.9 396.1h1.4v1.4h-1.4zM483.8 442.1h1.4v1.4h-1.4zM492.4 441.5h1.4v1.4h-1.4zM487.8 435.3h1.4v1.4h-1.4zM476.3 442h1.4v1.4h-1.4zM487.3 423.4h1.4v1.4h-1.4zM478.7 403.8h1.4v1.4h-1.4zM488.8 441.2h1.4v1.4h-1.4zM482.5 436.9h1.4v1.4h-1.4zM483.6 389.5h1.4v1.4h-1.4zM480.5 406.8h1.4v1.4h-1.4zM483.2 446.1h1.4v1.4h-1.4zM476.9 418.4h1.4v1.4h-1.4zM480.9 406.8h1.4v1.4h-1.4zM491.2 388.3h1.4v1.4h-1.4zM486.2 437.9h1.4v1.4h-1.4zM481.5 425.5h1.4v1.4h-1.4zM490.6 398.1h1.4v1.4h-1.4zM486.3 435.6h1.4v1.4h-1.4zM489.4 443.5h1.4v1.4h-1.4zM481.7 416.8h1.4v1.4h-1.4zM485.3 447.6h1.4v1.4h-1.4zM478.6 470.2h1.4v1.4h-1.4zM487.1 451.9h1.4v1.4h-1.4zM493 410.9h1.4v1.4h-1.4zM484.7 414.4h1.4v1.4h-1.4zM479.7 456.8h1.4v1.4h-1.4zM487.5 415.2h1.4v1.4h-1.4zM486 425.3h1.4v1.4h-1.4zM481.3 466.8h1.4v1.4h-1.4zM489.1 417.4h1.4v1.4h-1.4zM481.7 407.6h1.4v1.4h-1.4zM477.6 438.5h1.4v1.4h-1.4zM480.6 410.2h1.4v1.4h-1.4zM493.2 465h1.4v1.4h-1.4zM482.2 465.3h1.4v1.4h-1.4zM490.5 432.2h1.4v1.4h-1.4zM483.8 429.8h1.4v1.4h-1.4zM476.8 450.4h1.4v1.4h-1.4zM476.6 435.1h1.4v1.4h-1.4zM477 453.5h1.4v1.4h-1.4zM491.7 412.2h1.4v1.4h-1.4zM492.6 416h1.4v1.4h-1.4zM488.7 419.3h1.4v1.4h-1.4zM480.7 411.4h1.4v1.4h-1.4zM487.4 447h1.4v1.4h-1.4zM488.6 409.8h1.4v1.4h-1.4zM480.8 416.7h1.4v1.4h-1.4zM477.2 389h1.4v1.4h-1.4zM475 386.1h1.4v1.4h-1.4zM482.7 424.7h1.4v1.4h-1.4zM490.8 450.1h1.4v1.4h-1.4zM474.6 434.5h1.4v1.4h-1.4zM480.8 439.4h1.4v1.4h-1.4zM486.6 425h1.4v1.4h-1.4zM484 401.8h1.4v1.4h-1.4zM475.1 412.6h1.4v1.4h-1.4zM492.4 448.7h1.4v1.4h-1.4zM478.2 427.8h1.4v1.4h-1.4zM489.2 417.7h1.4v1.4h-1.4zM488.6 387.4h1.4v1.4h-1.4zM477.1 427h1.4v1.4h-1.4zM476.9 436.4h1.4v1.4h-1.4z" fill="#2f7fc1" stroke="none" stroke-width="1"/>
<line x1="484.5" y1="375.8" x2="484.5" y2="415.2" stroke="#2f7fc1" stroke-width="0.9"/>
<line x1="484.5" y1="447.4" x2="484.5" y2="471" stroke="#2f7fc1" stroke-width="0.9"/>
<rect x="474" y="415.2" width="21" height="32.2" fill="none" stroke="#2f7fc1" stroke-width="0.9"/>
<line x1="474" y1="429.7" x2="495" y2="429.7" stroke="#2f7fc1" stroke-width="1.1"/>
<path d="M530.1 446.6h1.4v1.4h-1.4zM523.5 458.2h1.4v1.4h-1.4zM529.8 444.4h1.4v1.4h-1.4zM534.5 450.3h1.4v1.4h-1.4zM518.9 466.8h1.4v1.4h-1.4zM534.5 445h1.4v1.4h-1.4zM524.5 454.2h1.4v1.4h-1.4zM519.7 462.2h1.4v1.4h-1.4zM531.8 446.7h1.4v1.4h-1.4zM533.8 439.6h1.4v1.4h-1.4zM518.9 454.8h1.4v1.4h-1.4zM527.2 457.7h1.4v1.4h-1.4zM530.5 462h1.4v1.4h-1.4zM526.2 438.2h1.4v1.4h-1.4zM520.5 440.9h1.4v1.4h-1.4zM526.1 441.3h1.4v1.4h-1.4zM534.5 457.5h1.4v1.4h-1.4zM524.8 443.9h1.4v1.4h-1.4zM528 443.8h1.4v1.4h-1.4zM532.9 443.3h1.4v1.4h-1.4zM532.6 444.6h1.4v1.4h-1.4zM529.5 458h1.4v1.4h-1.4zM520.2 434.6h1.4v1.4h-1.4zM520.3 444.3h1.4v1.4h-1.4zM533.7 454.6h1.4v1.4h-1.4zM531.6 456.7h1.4v1.4h-1.4zM519.8 451.7h1.4v1.4h-1.4zM528.2 455.5h1.4v1.4h-1.4zM527.4 451.1h1.4v1.4h-1.4zM519.5 442.9h1.4v1.4h-1.4zM530.7 442.3h1.4v1.4h-1.4zM526.7 436h1.4v1.4h-1.4zM521.4 453.3h1.4v1.4h-1.4zM523.9 453.6h1.4v1.4h-1.4zM533.8 458.3h1.4v1.4h-1.4zM528.9 456.1h1.4v1.4h-1.4zM532.2 436.6h1.4v1.4h-1.4zM528 446.8h1.4v1.4h-1.4zM534.1 443h1.4v1.4h-1.4zM533.8 459.4h1.4v1.4h-1.4zM528.2 467.1h1.4v1.4h-1.4zM521.5 443.5h1.4v1.4h-1.4zM527.1 453.6h1.4v1.4h-1.4zM517.6 438.3h1.4v1.4h-1.4zM530.3 436.4h1.4v1.4h-1.4zM518.7 448.7h1.4v1.4h-1.4zM525.1 443.2h1.4v1.4h-1.4zM521.8 450.7h1.4v1.4h-1.4zM520.9 465.9h1.4v1.4h-1.4zM519.8 459.7h1.4v1.4h-1.4zM517 450.9h1.4v1.4h-1.4zM534.1 459.5h1.4v1.4h-1.4zM524.2 462.9h1.4v1.4h-1.4zM525.7 463.5h1.4v1.4h-1.4zM517.6 462.9h1.4v1.4h-1.4zM522 452.6h1.4v1.4h-1.4zM529.4 453.6h1.4v1.4h-1.4zM523.9 458.3h1.4v1.4h-1.4zM533.7 447.6h1.4v1.4h-1.4zM521 451.5h1.4v1.4h-1.4zM532.2 459.7h1.4v1.4h-1.4zM533.5 443.8h1.4v1.4h-1.4zM525.3 448.1h1.4v1.4h-1.4zM522.5 448.4h1.4v1.4h-1.4zM534.2 437.1h1.4v1.4h-1.4zM529 456.2h1.4v1.4h-1.4zM525.7 431.6h1.4v1.4h-1.4zM520.1 452.8h1.4v1.4h-1.4zM520.4 449.3h1.4v1.4h-1.4zM523.6 445.4h1.4v1.4h-1.4zM523.1 450.9h1.4v1.4h-1.4zM533.9 454.3h1.4v1.4h-1.4zM524.8 442.2h1.4v1.4h-1.4zM529.2 453.3h1.4v1.4h-1.4zM527.1 441.5h1.4v1.4h-1.4zM521.6 453.8h1.4v1.4h-1.4zM529.3 448.7h1.4v1.4h-1.4zM522.9 442.2h1.4v1.4h-1.4zM525.3 448.8h1.4v1.4h-1.4zM525.5 447.8h1.4v1.4h-1.4zM524.9 460.4h1.4v1.4h-1.4zM530.4 454.6h1.4v1.4h-1.4zM531.1 462.9h1.4v1.4h-1.4zM534 432h1.4v1.4h-1.4zM519.1 456.4h1.4v1.4h-1.4z" fill="#dc1e46" stroke="none" stroke-width="1"/>
<line x1="526.3" y1="431" x2="526.3" y2="446.8" stroke="#dc1e46" stroke-width="0.9"/>
<line x1="526.3" y1="462.6" x2="526.3" y2="468" stroke="#dc1e46" stroke-width="0.9"/>
<rect x="515.55" y="446.8" width="21.5" height="15.8" fill="none" stroke="#dc1e46" stroke-width="0.9"/>
<line x1="515.55" y1="454.7" x2="537.05" y2="454.7" stroke="#dc1e46" stroke-width="1.1"/>
<path d="M615.4 445.3h1.4v1.4h-1.4zM602.9 439h1.4v1.4h-1.4zM617.6 453.2h1.4v1.4h-1.4zM611.6 435h1.4v1.4h-1.4zM613.7 450.2h1.4v1.4h-1.4zM610.4 466.8h1.4v1.4h-1.4zM610.8 438.8h1.4v1.4h-1.4zM615.9 377.8h1.4v1.4h-1.4zM616.7 424.5h1.4v1.4h-1.4zM609.2 425.5h1.4v1.4h-1.4zM600.8 437h1.4v1.4h-1.4zM614.5 407.8h1.4v1.4h-1.4zM616.1 404.4h1.4v1.4h-1.4zM606.6 424.7h1.4v1.4h-1.4zM614.1 385.1h1.4v1.4h-1.4zM616.8 416.5h1.4v1.4h-1.4zM609.3 413.9h1.4v1.4h-1.4zM616.1 410.7h1.4v1.4h-1.4zM609.3 425.9h1.4v1.4h-1.4zM610.2 426.9h1.4v1.4h-1.4zM604.8 401.7h1.4v1.4h-1.4zM615.5 413h1.4v1.4h-1.4zM600.9 436.4h1.4v1.4h-1.4zM609.2 425.9h1.4v1.4h-1.4zM606.8 457h1.4v1.4h-1.4zM604.9 444.6h1.4v1.4h-1.4zM617.8 435.7h1.4v1.4h-1.4zM604 391.7h1.4v1.4h-1.4zM615 400.1h1.4v1.4h-1.4zM608.4 457.1h1.4v1.4h-1.4zM611.1 440.8h1.4v1.4h-1.4zM618.7 456h1.4v1.4h-1.4zM616.1 396.9h1.4v1.4h-1.4zM608.4 383.9h1.4v1.4h-1.4zM614 427.5h1.4v1.4h-1.4zM614.2 414.4h1.4v1.4h-1.4zM605.9 440.7h1.4v1.4h-1.4zM613.3 427.5h1.4v1.4h-1.4zM612.6 451.6h1.4v1.4h-1.4zM609.5 465.4h1.4v1.4h-1.4zM617.1 414.6h1.4v1.4h-1.4zM619.1 454.6h1.4v1.4h-1.4zM606.6 459.3h1.4v1.4h-1.4zM600.8 437.9h1.4v1.4h-1.4zM614.2 441.3h1.4v1.4h-1.4zM616.2 383.6h1.4v1.4h-1.4zM600.8 457.8h1.4v1.4h-1.4zM605.3 421.7h1.4v1.4h-1.4zM600.8 451h1.4v1.4h-1.4zM608.9 428.8h1.4v1.4h-1.4zM610.4 456.1h1.4v1.4h-1.4zM602.8 443.5h1.4v1.4h-1.4zM617.5 428.3h1.4v1.4h-1.4zM606.1 421.1h1.4v1.4h-1.4zM617.3 464.8h1.4v1.4h-1.4zM602.1 464.2h1.4v1.4h-1.4zM607.4 414.4h1.4v1.4h-1.4zM605.6 418.9h1.4v1.4h-1.4zM607.8 393.5h1.4v1.4h-1.4zM616 457h1.4v1.4h-1.4zM607.7 440.8h1.4v1.4h-1.4zM613.8 412.4h1.4v1.4h-1.4zM608.2 433.3h1.4v1.4h-1.4zM605.9 391.9h1.4v1.4h-1.4zM601.8 462.7h1.4v1.4h-1.4zM601.3 399.7h1.4v1.4h-1.4zM606.9 392.5h1.4v1.4h-1.4zM608 455.8h1.4v1.4h-1.4zM602.8 406.8h1.4v1.4h-1.4zM617.7 420.4h1.4v1.4h-1.4zM612.9 467.2h1.4v1.4h-1.4zM601.6 458.8h1.4v1.4h-1.4zM606.8 423.7h1.4v1.4h-1.4zM601.8 422.9h1.4v1.4h-1.4zM617.6 437h1.4v1.4h-1.4zM601.9 441.9h1.4v1.4h-1.4zM618.9 420.1h1.4v1.4h-1.4zM604.6 441.9h1.4v1.4h-1.4zM604.3 451h1.4v1.4h-1.4zM615 461.4h1.4v1.4h-1.4zM601.7 435.9h1.4v1.4h-1.4zM615.3 414.1h1.4v1.4h-1.4zM617.5 430.4h1.4v1.4h-1.4zM603 455h1.4v1.4h-1.4zM613.9 404.2h1.4v1.4h-1.4zM606 450.9h1.4v1.4h-1.4zM614.4 448.2h1.4v1.4h-1.4zM609.7 414.7h1.4v1.4h-1.4zM608.5 431.9h1.4v1.4h-1.4zM603.3 463.4h1.4v1.4h-1.4zM613.6 395.2h1.4v1.4h-1.4zM606.8 419.3h1.4v1.4h-1.4zM610.2 415.1h1.4v1.4h-1.4zM604.9 416.8h1.4v1.4h-1.4zM605.8 433.8h1.4v1.4h-1.4zM601.6 411.1h1.4v1.4h-1.4zM604.6 418.5h1.4v1.4h-1.4zM602.6 464.2h1.4v1.4h-1.4zM604.4 449.3h1.4v1.4h-1.4zM607.9 414h1.4v1.4h-1.4zM617.4 455.8h1.4v1.4h-1.4zM610.7 389.1h1.4v1.4h-1.4zM601.4 412.2h1.4v1.4h-1.4zM613.3 459.2h1.4v1.4h-1.4zM616.1 463.9h1.4v1.4h-1.4zM605.8 397.9h1.4v1.4h-1.4zM611 387.6h1.4v1.4h-1.4zM610 465.1h1.4v1.4h-1.4zM612.1 467h1.4v1.4h-1.4zM612.2 442.8h1.4v1.4h-1.4zM606.3 386.7h1.4v1.4h-1.4zM605.6 388.1h1.4v1.4h-1.4zM613.6 411.9h1.4v1.4h-1.4zM609.4 421.2h1.4v1.4h-1.4zM603.4 434.2h1.4v1.4h-1.4zM611.2 443.9h1.4v1.4h-1.4zM616.4 403h1.4v1.4h-1.4zM606.6 381.8h1.4v1.4h-1.4zM607.3 408.3h1.4v1.4h-1.4zM612.1 448.1h1.4v1.4h-1.4zM611.1 416.8h1.4v1.4h-1.4zM615.4 465.2h1.4v1.4h-1.4zM617.2 441.7h1.4v1.4h-1.4zM601 460.1h1.4v1.4h-1.4zM615.7 466.2h1.4v1.4h-1.4zM608.8 405.3h1.4v1.4h-1.4zM604.5 383.2h1.4v1.4h-1.4zM603.8 401.2h1.4v1.4h-1.4zM604.6 430.8h1.4v1.4h-1.4zM606.2 396.4h1.4v1.4h-1.4zM616.3 419.6h1.4v1.4h-1.4zM608.1 419.2h1.4v1.4h-1.4zM600.9 437.7h1.4v1.4h-1.4zM607 440.4h1.4v1.4h-1.4zM618.2 446.3h1.4v1.4h-1.4zM605.1 432.4h1.4v1.4h-1.4zM600.6 425.2h1.4v1.4h-1.4zM600.4 409.9h1.4v1.4h-1.4zM601.2 408.3h1.4v1.4h-1.4zM612.5 435.5h1.4v1.4h-1.4zM608.6 422.2h1.4v1.4h-1.4zM613.8 446.4h1.4v1.4h-1.4zM603.9 409.3h1.4v1.4h-1.4zM610.9 460.9h1.4v1.4h-1.4zM617.9 446.8h1.4v1.4h-1.4zM607.8 400.3h1.4v1.4h-1.4zM614.5 414.5h1.4v1.4h-1.4zM608.7 389.3h1.4v1.4h-1.4zM607.9 407.9h1.4v1.4h-1.4zM606.8 426.5h1.4v1.4h-1.4zM604.9 411.5h1.4v1.4h-1.4zM606.2 445.5h1.4v1.4h-1.4zM617.9 428.8h1.4v1.4h-1.4zM609.2 420.4h1.4v1.4h-1.4zM611.8 429.1h1.4v1.4h-1.4zM615.7 415.8h1.4v1.4h-1.4zM607.6 426.5h1.4v1.4h-1.4zM614.9 442.1h1.4v1.4h-1.4zM606.5 430.4h1.4v1.4h-1.4zM617.7 419h1.4v1.4h-1.4zM616.8 426.6h1.4v1.4h-1.4zM615.9 441.6h1.4v1.4h-1.4zM614.6 387.2h1.4v1.4h-1.4zM616.2 444.7h1.4v1.4h-1.4zM617.8 447.2h1.4v1.4h-1.4zM607.8 438.1h1.4v1.4h-1.4zM618.9 395.3h1.4v1.4h-1.4zM609.9 427.4h1.4v1.4h-1.4zM609.9 392.7h1.4v1.4h-1.4zM602.9 456.7h1.4v1.4h-1.4zM606.7 459.2h1.4v1.4h-1.4zM612.5 398.4h1.4v1.4h-1.4zM615.9 415.2h1.4v1.4h-1.4zM618.4 453.4h1.4v1.4h-1.4zM606.4 421.6h1.4v1.4h-1.4zM618.8 401.2h1.4v1.4h-1.4zM609.9 469.4h1.4v1.4h-1.4zM606.3 445h1.4v1.4h-1.4zM612 377.4h1.4v1.4h-1.4zM602.7 435.1h1.4v1.4h-1.4zM616.9 427.4h1.4v1.4h-1.4zM615.4 401.8h1.4v1.4h-1.4zM608.7 417.3h1.4v1.4h-1.4zM614.8 447h1.4v1.4h-1.4zM612.5 450.3h1.4v1.4h-1.4zM619.2 425.2h1.4v1.4h-1.4zM601.8 429.7h1.4v1.4h-1.4zM618.1 420.5h1.4v1.4h-1.4zM614.5 418.7h1.4v1.4h-1.4zM613 403.2h1.4v1.4h-1.4zM610.8 384.6h1.4v1.4h-1.4zM610.5 405.5h1.4v1.4h-1.4zM602.3 427h1.4v1.4h-1.4zM601.2 463.5h1.4v1.4h-1.4zM616.9 452.7h1.4v1.4h-1.4zM605.2 441.1h1.4v1.4h-1.4zM609.5 460.2h1.4v1.4h-1.4zM610.6 415.2h1.4v1.4h-1.4zM618.8 416.7h1.4v1.4h-1.4zM604 441.7h1.4v1.4h-1.4zM602.3 446.1h1.4v1.4h-1.4zM618.6 435.3h1.4v1.4h-1.4zM611.3 443h1.4v1.4h-1.4zM602.5 445.5h1.4v1.4h-1.4zM613.6 401.9h1.4v1.4h-1.4zM604.8 396.1h1.4v1.4h-1.4zM605.9 453.9h1.4v1.4h-1.4zM611.8 462.8h1.4v1.4h-1.4zM614.1 429.1h1.4v1.4h-1.4zM618.9 422.1h1.4v1.4h-1.4zM606.6 398.3h1.4v1.4h-1.4zM617 451.3h1.4v1.4h-1.4zM609.9 431.9h1.4v1.4h-1.4zM608.7 442.8h1.4v1.4h-1.4zM617.9 411.8h1.4v1.4h-1.4zM610.5 421.2h1.4v1.4h-1.4zM601 392.6h1.4v1.4h-1.4zM617.8 460.6h1.4v1.4h-1.4zM608.9 440.9h1.4v1.4h-1.4zM601 410.3h1.4v1.4h-1.4zM611.6 450.4h1.4v1.4h-1.4zM616.8 462.2h1.4v1.4h-1.4zM616.3 425.1h1.4v1.4h-1.4zM610 458.4h1.4v1.4h-1.4zM601 415.1h1.4v1.4h-1.4zM611.3 441.5h1.4v1.4h-1.4zM611.8 425.8h1.4v1.4h-1.4zM606 442h1.4v1.4h-1.4zM600.5 453.6h1.4v1.4h-1.4zM613.9 406.5h1.4v1.4h-1.4zM613.6 446.4h1.4v1.4h-1.4zM605.2 410.7h1.4v1.4h-1.4zM615.3 395.3h1.4v1.4h-1.4zM603 400.9h1.4v1.4h-1.4zM606.3 409.7h1.4v1.4h-1.4zM617.7 464.5h1.4v1.4h-1.4zM601.6 390.4h1.4v1.4h-1.4zM617.4 453h1.4v1.4h-1.4zM606.8 416.7h1.4v1.4h-1.4zM612.9 438.5h1.4v1.4h-1.4zM619.1 436.7h1.4v1.4h-1.4zM612.8 440.2h1.4v1.4h-1.4zM609.9 413.6h1.4v1.4h-1.4zM609.8 432.1h1.4v1.4h-1.4zM614.4 448.4h1.4v1.4h-1.4zM611.7 450.1h1.4v1.4h-1.4zM618.1 464.6h1.4v1.4h-1.4zM601.3 422.4h1.4v1.4h-1.4zM614.6 414.8h1.4v1.4h-1.4zM601.9 437.6h1.4v1.4h-1.4zM612.5 448.7h1.4v1.4h-1.4zM618.3 394.1h1.4v1.4h-1.4zM612.2 461.7h1.4v1.4h-1.4zM610.7 395h1.4v1.4h-1.4zM604 422.6h1.4v1.4h-1.4zM613.4 428.8h1.4v1.4h-1.4zM616.4 402.2h1.4v1.4h-1.4zM607.6 445.9h1.4v1.4h-1.4zM616.1 422.4h1.4v1.4h-1.4zM604.8 377.5h1.4v1.4h-1.4zM611.5 404.1h1.4v1.4h-1.4zM601.9 409.2h1.4v1.4h-1.4zM615.2 437.7h1.4v1.4h-1.4zM615.2 449.9h1.4v1.4h-1.4zM608.7 400.2h1.4v1.4h-1.4zM610.5 456.2h1.4v1.4h-1.4zM618.5 426.8h1.4v1.4h-1.4zM617.1 456.2h1.4v1.4h-1.4zM616.7 440.2h1.4v1.4h-1.4zM608.7 439.7h1.4v1.4h-1.4zM611.8 404.4h1.4v1.4h-1.4zM617.5 399.1h1.4v1.4h-1.4zM605.2 462.5h1.4v1.4h-1.4zM610.1 451.3h1.4v1.4h-1.4zM615.5 440.8h1.4v1.4h-1.4zM603.9 392.4h1.4v1.4h-1.4zM611.5 402h1.4v1.4h-1.4zM613.5 455.8h1.4v1.4h-1.4zM615.2 416.2h1.4v1.4h-1.4zM615.4 429.1h1.4v1.4h-1.4zM600.4 452.7h1.4v1.4h-1.4zM605.9 413.3h1.4v1.4h-1.4zM602 392.4h1.4v1.4h-1.4zM610.4 427.6h1.4v1.4h-1.4zM612.1 436.5h1.4v1.4h-1.4zM606.1 413.1h1.4v1.4h-1.4zM602.4 447.7h1.4v1.4h-1.4zM603.3 434.6h1.4v1.4h-1.4zM607.1 448.3h1.4v1.4h-1.4zM610 431h1.4v1.4h-1.4zM605.1 399.1h1.4v1.4h-1.4zM618.5 448.5h1.4v1.4h-1.4zM615.1 422.7h1.4v1.4h-1.4zM619 438.2h1.4v1.4h-1.4zM612.7 419.7h1.4v1.4h-1.4zM608.8 396.5h1.4v1.4h-1.4zM618.4 411.6h1.4v1.4h-1.4zM603 421h1.4v1.4h-1.4zM603.8 385.2h1.4v1.4h-1.4zM617.2 421.2h1.4v1.4h-1.4zM605.9 429.8h1.4v1.4h-1.4zM613.2 414.8h1.4v1.4h-1.4zM611.4 420.5h1.4v1.4h-1.4zM602.3 415.6h1.4v1.4h-1.4zM601 446h1.4v1.4h-1.4zM604.2 416.2h1.4v1.4h-1.4zM606.4 435.9h1.4v1.4h-1.4zM605.2 442.4h1.4v1.4h-1.4zM618.8 444.3h1.4v1.4h-1.4zM610.6 393.8h1.4v1.4h-1.4zM618.5 448.2h1.4v1.4h-1.4zM616.9 460.2h1.4v1.4h-1.4zM606.6 425.2h1.4v1.4h-1.4zM617.9 409.3h1.4v1.4h-1.4zM605.4 413.2h1.4v1.4h-1.4zM606.8 451h1.4v1.4h-1.4zM614.4 429.6h1.4v1.4h-1.4zM602.7 411.4h1.4v1.4h-1.4zM616.9 420.8h1.4v1.4h-1.4zM616.2 438.8h1.4v1.4h-1.4zM609.5 463.1h1.4v1.4h-1.4zM618.1 412.4h1.4v1.4h-1.4zM611.7 432.1h1.4v1.4h-1.4zM613.8 415.2h1.4v1.4h-1.4zM607.5 404.3h1.4v1.4h-1.4zM614.8 441.4h1.4v1.4h-1.4zM616.7 454.2h1.4v1.4h-1.4zM618.1 387h1.4v1.4h-1.4zM612.7 425.8h1.4v1.4h-1.4zM616.9 451.6h1.4v1.4h-1.4z" fill="#2f7fc1" stroke="none" stroke-width="1"/>
<line x1="610.5" y1="376.3" x2="610.5" y2="412.6" stroke="#2f7fc1" stroke-width="0.9"/>
<line x1="610.5" y1="450" x2="610.5" y2="471" stroke="#2f7fc1" stroke-width="0.9"/>
<rect x="599.7" y="412.6" width="21.6" height="37.4" fill="none" stroke="#2f7fc1" stroke-width="0.9"/>
<line x1="599.7" y1="430.3" x2="621.3" y2="430.3" stroke="#2f7fc1" stroke-width="1.1"/>
<path d="M655.1 443.7h1.4v1.4h-1.4zM644.6 430h1.4v1.4h-1.4zM641.9 437.9h1.4v1.4h-1.4zM648.8 450.2h1.4v1.4h-1.4zM657.4 434.3h1.4v1.4h-1.4zM654.9 437.1h1.4v1.4h-1.4zM645.5 432.6h1.4v1.4h-1.4zM658.6 457.7h1.4v1.4h-1.4zM651.2 459.8h1.4v1.4h-1.4zM646.3 451h1.4v1.4h-1.4zM657.6 459.8h1.4v1.4h-1.4zM657.7 461.5h1.4v1.4h-1.4zM644.4 436.8h1.4v1.4h-1.4zM659.6 429.3h1.4v1.4h-1.4zM642.1 436.8h1.4v1.4h-1.4zM647.3 460.8h1.4v1.4h-1.4zM649 431.1h1.4v1.4h-1.4zM648.5 443.1h1.4v1.4h-1.4zM648 447.2h1.4v1.4h-1.4zM653.7 454.2h1.4v1.4h-1.4zM655 452.9h1.4v1.4h-1.4zM652.9 439.8h1.4v1.4h-1.4zM652.4 448.2h1.4v1.4h-1.4zM648.2 412.3h1.4v1.4h-1.4zM651 448.5h1.4v1.4h-1.4zM645.1 451.6h1.4v1.4h-1.4zM645 446.3h1.4v1.4h-1.4zM658.1 447.8h1.4v1.4h-1.4zM652.2 450.4h1.4v1.4h-1.4zM646.7 429.1h1.4v1.4h-1.4zM657.2 446.1h1.4v1.4h-1.4zM642 443.9h1.4v1.4h-1.4zM641.6 432h1.4v1.4h-1.4zM642.2 449.5h1.4v1.4h-1.4zM648.3 430.8h1.4v1.4h-1.4zM647 449.8h1.4v1.4h-1.4zM655.2 433.7h1.4v1.4h-1.4zM654.2 415.3h1.4v1.4h-1.4zM645.8 438h1.4v1.4h-1.4zM643.5 449.6h1.4v1.4h-1.4zM648.6 450.5h1.4v1.4h-1.4zM643.1 438.5h1.4v1.4h-1.4zM647.7 439.8h1.4v1.4h-1.4zM657.6 420.4h1.4v1.4h-1.4zM656.4 451.8h1.4v1.4h-1.4zM646.7 443.6h1.4v1.4h-1.4zM645.8 431.9h1.4v1.4h-1.4zM651.3 437.2h1.4v1.4h-1.4zM645.8 443.3h1.4v1.4h-1.4zM641.8 446.7h1.4v1.4h-1.4zM649.5 437.2h1.4v1.4h-1.4zM646.1 458.1h1.4v1.4h-1.4zM650.7 433.1h1.4v1.4h-1.4zM646.8 436.1h1.4v1.4h-1.4zM644.6 461.1h1.4v1.4h-1.4zM644 448.6h1.4v1.4h-1.4zM647.3 445.1h1.4v1.4h-1.4zM650.5 437.3h1.4v1.4h-1.4zM644.4 458.9h1.4v1.4h-1.4zM644.9 454.5h1.4v1.4h-1.4zM644.6 427.9h1.4v1.4h-1.4zM653.1 456.5h1.4v1.4h-1.4zM654.6 454.7h1.4v1.4h-1.4zM657.8 446.9h1.4v1.4h-1.4zM644.7 438.9h1.4v1.4h-1.4zM654.6 446.2h1.4v1.4h-1.4zM654.5 461h1.4v1.4h-1.4zM642 452.2h1.4v1.4h-1.4zM649.5 450.7h1.4v1.4h-1.4zM656.9 452.5h1.4v1.4h-1.4zM641.8 448.8h1.4v1.4h-1.4zM651.3 433.3h1.4v1.4h-1.4zM658.4 448.6h1.4v1.4h-1.4zM646.8 454.8h1.4v1.4h-1.4zM658.4 430.4h1.4v1.4h-1.4zM642.7 456.5h1.4v1.4h-1.4zM643.9 429.6h1.4v1.4h-1.4zM643.4 435.3h1.4v1.4h-1.4zM654.2 439.4h1.4v1.4h-1.4zM659 454.9h1.4v1.4h-1.4zM659.5 438.2h1.4v1.4h-1.4zM658.4 433.8h1.4v1.4h-1.4zM650.9 432h1.4v1.4h-1.4zM643.5 450.3h1.4v1.4h-1.4zM650.2 432.9h1.4v1.4h-1.4z" fill="#dc1e46" stroke="none" stroke-width="1"/>
<line x1="651.3" y1="413" x2="651.3" y2="436.4" stroke="#dc1e46" stroke-width="0.9"/>
<line x1="651.3" y1="452.4" x2="651.3" y2="462.3" stroke="#dc1e46" stroke-width="0.9"/>
<rect x="640.65" y="436.4" width="21.3" height="16" fill="none" stroke="#dc1e46" stroke-width="0.9"/>
<line x1="640.65" y1="445.8" x2="661.95" y2="445.8" stroke="#dc1e46" stroke-width="1.1"/>
<path d="M247.3 375.4h1.3v1.3h-1.3z" fill="#2f7fc1" stroke="none" stroke-width="1"/>
<path d="M283.9 398.4h1.3v1.3h-1.3z" fill="#dc1e46" stroke="none" stroke-width="1"/>
<path d="M280.4 471.4h1.3v1.3h-1.3z" fill="#dc1e46" stroke="none" stroke-width="1"/>
<path d="M362.4 376.4h1.3v1.3h-1.3z" fill="#2f7fc1" stroke="none" stroke-width="1"/>
<path d="M350.4 469.4h1.3v1.3h-1.3z" fill="#2f7fc1" stroke="none" stroke-width="1"/>
<path d="M487.4 375.4h1.3v1.3h-1.3z" fill="#2f7fc1" stroke="none" stroke-width="1"/>
<path d="M525.4 408.4h1.3v1.3h-1.3z" fill="#dc1e46" stroke="none" stroke-width="1"/>
<path d="M529.4 410.4h1.3v1.3h-1.3z" fill="#dc1e46" stroke="none" stroke-width="1"/>
<path d="M599.9 376.4h1.3v1.3h-1.3z" fill="#2f7fc1" stroke="none" stroke-width="1"/>
<path d="M651.4 376.4h1.3v1.3h-1.3z" fill="#dc1e46" stroke="none" stroke-width="1"/>
<path d="M645.4 403.4h1.3v1.3h-1.3z" fill="#dc1e46" stroke="none" stroke-width="1"/>
<path d="M653.4 401.4h1.3v1.3h-1.3z" fill="#dc1e46" stroke="none" stroke-width="1"/>
<path d="M655.4 411.4h1.3v1.3h-1.3z" fill="#dc1e46" stroke="none" stroke-width="1"/>
<path d="M521.4 411.4h1.3v1.3h-1.3z" fill="#dc1e46" stroke="none" stroke-width="1"/>
<path d="M533.4 420.4h1.3v1.3h-1.3z" fill="#dc1e46" stroke="none" stroke-width="1"/>
<path d="M282.4 403.4h1.3v1.3h-1.3z" fill="#dc1e46" stroke="none" stroke-width="1"/>
<path d="M287.4 401.4h1.3v1.3h-1.3z" fill="#dc1e46" stroke="none" stroke-width="1"/>
<line x1="243.4" y1="476" x2="243.4" y2="478" stroke="#959595" stroke-width="0.8"/>
<line x1="285.5" y1="476" x2="285.5" y2="478" stroke="#959595" stroke-width="0.8"/>
<text x="217.4" y="488.92" font-size="10.1" fill="#2e86c8" stroke="#2e86c8">HD ILC1</text>
<text x="264" y="488.92" font-size="10.1" fill="#dc1e46" stroke="#dc1e46">AML ILC1</text>
<line x1="364" y1="476" x2="364" y2="478" stroke="#959595" stroke-width="0.8"/>
<line x1="404.5" y1="476" x2="404.5" y2="478" stroke="#959595" stroke-width="0.8"/>
<text x="341.8" y="488.92" font-size="10.1" fill="#2e86c8" stroke="#2e86c8">HD ILC1</text>
<text x="384.7" y="488.92" font-size="10.1" fill="#dc1e46" stroke="#dc1e46">AML ILC1</text>
<line x1="484.5" y1="476" x2="484.5" y2="478" stroke="#959595" stroke-width="0.8"/>
<line x1="526.3" y1="476" x2="526.3" y2="478" stroke="#959595" stroke-width="0.8"/>
<text x="464.9" y="488.92" font-size="10.1" fill="#2e86c8" stroke="#2e86c8">HD ILC1</text>
<text x="511" y="488.92" font-size="10.1" fill="#dc1e46" stroke="#dc1e46">AML ILC1</text>
<line x1="610.5" y1="476" x2="610.5" y2="478" stroke="#959595" stroke-width="0.8"/>
<line x1="651.3" y1="476" x2="651.3" y2="478" stroke="#959595" stroke-width="0.8"/>
<text x="593" y="488.92" font-size="10.1" fill="#2e86c8" stroke="#2e86c8">HD ILC1</text>
<text x="638.2" y="488.92" font-size="10.1" fill="#dc1e46" stroke="#dc1e46">AML ILC1</text>
<text x="1.2" y="528.5" font-size="14" font-weight="bold">i</text>
<text x="85.6" y="533" font-size="9.5" text-anchor="middle">HD ILC1</text>
<text x="207.1" y="533" font-size="9.5" text-anchor="middle">AML ILC1</text>
<rect x="40.9" y="536.6" width="93.4" height="92" fill="none" stroke="#7a7a7a" stroke-width="0.9"/>
<line x1="37.9" y1="552.7" x2="40.9" y2="552.7" stroke="#444" stroke-width="0.8"/>
<text x="36.1" y="555.85" font-size="8.8" text-anchor="end">200K</text>
<line x1="37.9" y1="578.4" x2="40.9" y2="578.4" stroke="#444" stroke-width="0.8"/>
<text x="36.1" y="581.55" font-size="8.8" text-anchor="end">100K</text>
<line x1="37.9" y1="604.3" x2="40.9" y2="604.3" stroke="#444" stroke-width="0.8"/>
<text x="36.1" y="607.45" font-size="8.8" text-anchor="end">0</text>
<line x1="39.4" y1="540" x2="40.9" y2="540" stroke="#555" stroke-width="0.6"/>
<line x1="39.4" y1="545" x2="40.9" y2="545" stroke="#555" stroke-width="0.6"/>
<line x1="39.4" y1="548.5" x2="40.9" y2="548.5" stroke="#555" stroke-width="0.6"/>
<line x1="39.4" y1="558" x2="40.9" y2="558" stroke="#555" stroke-width="0.6"/>
<line x1="39.4" y1="563" x2="40.9" y2="563" stroke="#555" stroke-width="0.6"/>
<line x1="39.4" y1="568" x2="40.9" y2="568" stroke="#555" stroke-width="0.6"/>
<line x1="39.4" y1="573" x2="40.9" y2="573" stroke="#555" stroke-width="0.6"/>
<line x1="39.4" y1="583.5" x2="40.9" y2="583.5" stroke="#555" stroke-width="0.6"/>
<line x1="39.4" y1="589" x2="40.9" y2="589" stroke="#555" stroke-width="0.6"/>
<line x1="39.4" y1="594" x2="40.9" y2="594" stroke="#555" stroke-width="0.6"/>
<line x1="39.4" y1="599" x2="40.9" y2="599" stroke="#555" stroke-width="0.6"/>
<line x1="39.4" y1="610" x2="40.9" y2="610" stroke="#555" stroke-width="0.6"/>
<line x1="39.4" y1="615" x2="40.9" y2="615" stroke="#555" stroke-width="0.6"/>
<line x1="39.4" y1="620" x2="40.9" y2="620" stroke="#555" stroke-width="0.6"/>
<line x1="39.4" y1="625" x2="40.9" y2="625" stroke="#555" stroke-width="0.6"/>
<line x1="44.9" y1="628.6" x2="44.9" y2="630.1" stroke="#555" stroke-width="0.6"/>
<line x1="48.9" y1="628.6" x2="48.9" y2="630.1" stroke="#555" stroke-width="0.6"/>
<line x1="52.9" y1="628.6" x2="52.9" y2="630.1" stroke="#555" stroke-width="0.6"/>
<line x1="60.9" y1="628.6" x2="60.9" y2="630.1" stroke="#555" stroke-width="0.6"/>
<line x1="64.9" y1="628.6" x2="64.9" y2="630.1" stroke="#555" stroke-width="0.6"/>
<line x1="68.9" y1="628.6" x2="68.9" y2="630.1" stroke="#555" stroke-width="0.6"/>
<line x1="73.9" y1="628.6" x2="73.9" y2="630.1" stroke="#555" stroke-width="0.6"/>
<line x1="77.9" y1="628.6" x2="77.9" y2="630.1" stroke="#555" stroke-width="0.6"/>
<line x1="81.5" y1="628.6" x2="81.5" y2="630.1" stroke="#555" stroke-width="0.6"/>
<line x1="83.9" y1="628.6" x2="83.9" y2="630.1" stroke="#555" stroke-width="0.6"/>
<line x1="85.9" y1="628.6" x2="85.9" y2="630.1" stroke="#555" stroke-width="0.6"/>
<line x1="87.9" y1="628.6" x2="87.9" y2="630.1" stroke="#555" stroke-width="0.6"/>
<line x1="89.9" y1="628.6" x2="89.9" y2="630.1" stroke="#555" stroke-width="0.6"/>
<line x1="93.9" y1="628.6" x2="93.9" y2="630.1" stroke="#555" stroke-width="0.6"/>
<line x1="96.9" y1="628.6" x2="96.9" y2="630.1" stroke="#555" stroke-width="0.6"/>
<line x1="98.9" y1="628.6" x2="98.9" y2="630.1" stroke="#555" stroke-width="0.6"/>
<line x1="100.6" y1="628.6" x2="100.6" y2="630.1" stroke="#555" stroke-width="0.6"/>
<line x1="102.9" y1="628.6" x2="102.9" y2="630.1" stroke="#555" stroke-width="0.6"/>
<line x1="108.9" y1="628.6" x2="108.9" y2="630.1" stroke="#555" stroke-width="0.6"/>
<line x1="111.9" y1="628.6" x2="111.9" y2="630.1" stroke="#555" stroke-width="0.6"/>
<line x1="113.9" y1="628.6" x2="113.9" y2="630.1" stroke="#555" stroke-width="0.6"/>
<line x1="115.9" y1="628.6" x2="115.9" y2="630.1" stroke="#555" stroke-width="0.6"/>
<line x1="118.4" y1="628.6" x2="118.4" y2="630.1" stroke="#555" stroke-width="0.6"/>
<line x1="122.9" y1="628.6" x2="122.9" y2="630.1" stroke="#555" stroke-width="0.6"/>
<line x1="125.9" y1="628.6" x2="125.9" y2="630.1" stroke="#555" stroke-width="0.6"/>
<line x1="127.9" y1="628.6" x2="127.9" y2="630.1" stroke="#555" stroke-width="0.6"/>
<text x="58.2" y="644.01" font-size="8.4" text-anchor="middle">0</text>
<text x="82.8" y="644.01" font-size="8.4" text-anchor="middle">10</text>
<text x="89.8" y="637.21" font-size="8.4" text-anchor="middle">3</text>
<text x="99.7" y="644.01" font-size="8.4" text-anchor="middle">10</text>
<text x="106.7" y="637.21" font-size="8.4" text-anchor="middle">4</text>
<text x="114.4" y="644.01" font-size="8.4" text-anchor="middle">10</text>
<text x="121.4" y="637.21" font-size="8.4" text-anchor="middle">5</text>
<text x="124.7" y="644.01" font-size="8.4" text-anchor="middle">10</text>
<text x="131.7" y="637.21" font-size="8.4" text-anchor="middle">6</text>
<rect x="55.9" y="628.6" width="4" height="1.8" fill="#222"/>
<rect x="159.7" y="536.6" width="94.6" height="92" fill="none" stroke="#7a7a7a" stroke-width="0.9"/>
<line x1="156.7" y1="552.7" x2="159.7" y2="552.7" stroke="#444" stroke-width="0.8"/>
<text x="154.9" y="555.85" font-size="8.8" text-anchor="end">200K</text>
<line x1="156.7" y1="578.4" x2="159.7" y2="578.4" stroke="#444" stroke-width="0.8"/>
<text x="154.9" y="581.55" font-size="8.8" text-anchor="end">100K</text>
<line x1="156.7" y1="604.3" x2="159.7" y2="604.3" stroke="#444" stroke-width="0.8"/>
<text x="154.9" y="607.45" font-size="8.8" text-anchor="end">0</text>
<line x1="158.2" y1="540" x2="159.7" y2="540" stroke="#555" stroke-width="0.6"/>
<line x1="158.2" y1="545" x2="159.7" y2="545" stroke="#555" stroke-width="0.6"/>
<line x1="158.2" y1="548.5" x2="159.7" y2="548.5" stroke="#555" stroke-width="0.6"/>
<line x1="158.2" y1="558" x2="159.7" y2="558" stroke="#555" stroke-width="0.6"/>
<line x1="158.2" y1="563" x2="159.7" y2="563" stroke="#555" stroke-width="0.6"/>
<line x1="158.2" y1="568" x2="159.7" y2="568" stroke="#555" stroke-width="0.6"/>
<line x1="158.2" y1="573" x2="159.7" y2="573" stroke="#555" stroke-width="0.6"/>
<line x1="158.2" y1="583.5" x2="159.7" y2="583.5" stroke="#555" stroke-width="0.6"/>
<line x1="158.2" y1="589" x2="159.7" y2="589" stroke="#555" stroke-width="0.6"/>
<line x1="158.2" y1="594" x2="159.7" y2="594" stroke="#555" stroke-width="0.6"/>
<line x1="158.2" y1="599" x2="159.7" y2="599" stroke="#555" stroke-width="0.6"/>
<line x1="158.2" y1="610" x2="159.7" y2="610" stroke="#555" stroke-width="0.6"/>
<line x1="158.2" y1="615" x2="159.7" y2="615" stroke="#555" stroke-width="0.6"/>
<line x1="158.2" y1="620" x2="159.7" y2="620" stroke="#555" stroke-width="0.6"/>
<line x1="158.2" y1="625" x2="159.7" y2="625" stroke="#555" stroke-width="0.6"/>
<line x1="163.7" y1="628.6" x2="163.7" y2="630.1" stroke="#555" stroke-width="0.6"/>
<line x1="167.7" y1="628.6" x2="167.7" y2="630.1" stroke="#555" stroke-width="0.6"/>
<line x1="171.7" y1="628.6" x2="171.7" y2="630.1" stroke="#555" stroke-width="0.6"/>
<line x1="179.7" y1="628.6" x2="179.7" y2="630.1" stroke="#555" stroke-width="0.6"/>
<line x1="183.7" y1="628.6" x2="183.7" y2="630.1" stroke="#555" stroke-width="0.6"/>
<line x1="187.7" y1="628.6" x2="187.7" y2="630.1" stroke="#555" stroke-width="0.6"/>
<line x1="192.7" y1="628.6" x2="192.7" y2="630.1" stroke="#555" stroke-width="0.6"/>
<line x1="196.7" y1="628.6" x2="196.7" y2="630.1" stroke="#555" stroke-width="0.6"/>
<line x1="200.3" y1="628.6" x2="200.3" y2="630.1" stroke="#555" stroke-width="0.6"/>
<line x1="202.7" y1="628.6" x2="202.7" y2="630.1" stroke="#555" stroke-width="0.6"/>
<line x1="204.7" y1="628.6" x2="204.7" y2="630.1" stroke="#555" stroke-width="0.6"/>
<line x1="206.7" y1="628.6" x2="206.7" y2="630.1" stroke="#555" stroke-width="0.6"/>
<line x1="208.7" y1="628.6" x2="208.7" y2="630.1" stroke="#555" stroke-width="0.6"/>
<line x1="212.7" y1="628.6" x2="212.7" y2="630.1" stroke="#555" stroke-width="0.6"/>
<line x1="215.7" y1="628.6" x2="215.7" y2="630.1" stroke="#555" stroke-width="0.6"/>
<line x1="217.7" y1="628.6" x2="217.7" y2="630.1" stroke="#555" stroke-width="0.6"/>
<line x1="219.4" y1="628.6" x2="219.4" y2="630.1" stroke="#555" stroke-width="0.6"/>
<line x1="221.7" y1="628.6" x2="221.7" y2="630.1" stroke="#555" stroke-width="0.6"/>
<line x1="227.7" y1="628.6" x2="227.7" y2="630.1" stroke="#555" stroke-width="0.6"/>
<line x1="230.7" y1="628.6" x2="230.7" y2="630.1" stroke="#555" stroke-width="0.6"/>
<line x1="232.7" y1="628.6" x2="232.7" y2="630.1" stroke="#555" stroke-width="0.6"/>
<line x1="234.7" y1="628.6" x2="234.7" y2="630.1" stroke="#555" stroke-width="0.6"/>
<line x1="237.2" y1="628.6" x2="237.2" y2="630.1" stroke="#555" stroke-width="0.6"/>
<line x1="241.7" y1="628.6" x2="241.7" y2="630.1" stroke="#555" stroke-width="0.6"/>
<line x1="244.7" y1="628.6" x2="244.7" y2="630.1" stroke="#555" stroke-width="0.6"/>
<line x1="246.7" y1="628.6" x2="246.7" y2="630.1" stroke="#555" stroke-width="0.6"/>
<text x="177" y="644.01" font-size="8.4" text-anchor="middle">0</text>
<text x="201.6" y="644.01" font-size="8.4" text-anchor="middle">10</text>
<text x="208.6" y="637.21" font-size="8.4" text-anchor="middle">3</text>
<text x="218.5" y="644.01" font-size="8.4" text-anchor="middle">10</text>
<text x="225.5" y="637.21" font-size="8.4" text-anchor="middle">4</text>
<text x="233.2" y="644.01" font-size="8.4" text-anchor="middle">10</text>
<text x="240.2" y="637.21" font-size="8.4" text-anchor="middle">5</text>
<text x="243.5" y="644.01" font-size="8.4" text-anchor="middle">10</text>
<text x="250.5" y="637.21" font-size="8.4" text-anchor="middle">6</text>
<rect x="174.7" y="628.6" width="4" height="1.8" fill="#222"/>
<path d="M83.3 586.9h1.3v1.3h-1.3zM77.8 588.1h1.3v1.3h-1.3zM99.3 595.9h1.3v1.3h-1.3zM60.1 591.8h1.3v1.3h-1.3zM68.6 589.9h1.3v1.3h-1.3zM95.6 598.9h1.3v1.3h-1.3zM61.9 592.1h1.3v1.3h-1.3zM77.9 589.8h1.3v1.3h-1.3zM92.7 599.9h1.3v1.3h-1.3zM66.1 590.3h1.3v1.3h-1.3zM95.4 591.1h1.3v1.3h-1.3zM60.6 593.9h1.3v1.3h-1.3zM74.5 590.4h1.3v1.3h-1.3zM61.1 597.2h1.3v1.3h-1.3zM95 598.2h1.3v1.3h-1.3zM66 591.1h1.3v1.3h-1.3zM62.7 598.3h1.3v1.3h-1.3zM65.8 591.3h1.3v1.3h-1.3zM61.6 594.1h1.3v1.3h-1.3zM97.5 593.9h1.3v1.3h-1.3zM61.2 596.1h1.3v1.3h-1.3zM90.9 599.5h1.3v1.3h-1.3zM67.5 599.6h1.3v1.3h-1.3zM89.2 599.4h1.3v1.3h-1.3zM90.4 590.9h1.3v1.3h-1.3zM62.2 594.3h1.3v1.3h-1.3zM80.3 590.8h1.3v1.3h-1.3zM79.6 600h1.3v1.3h-1.3zM84.6 591.1h1.3v1.3h-1.3zM70.1 599.9h1.3v1.3h-1.3zM96.6 593.4h1.3v1.3h-1.3zM90.7 599.1h1.3v1.3h-1.3zM64.9 598.7h1.3v1.3h-1.3zM92.7 591.4h1.3v1.3h-1.3zM96.3 594.4h1.3v1.3h-1.3zM63.6 598h1.3v1.3h-1.3zM65 592.5h1.3v1.3h-1.3zM70.1 591.5h1.3v1.3h-1.3zM75.1 591.3h1.3v1.3h-1.3zM85.3 599.4h1.3v1.3h-1.3zM94.7 592.3h1.3v1.3h-1.3zM95.7 593.1h1.3v1.3h-1.3zM95.3 595.6h1.3v1.3h-1.3zM95.8 593.9h1.3v1.3h-1.3zM90.2 591.4h1.3v1.3h-1.3zM76.8 591.3h1.3v1.3h-1.3zM83.3 591.5h1.3v1.3h-1.3zM62.8 595.6h1.3v1.3h-1.3zM64.4 593.5h1.3v1.3h-1.3zM92 598.3h1.3v1.3h-1.3zM82.5 591.5h1.3v1.3h-1.3zM79.1 591.4h1.3v1.3h-1.3zM94.5 592.8h1.3v1.3h-1.3zM75.9 599.8h1.3v1.3h-1.3zM94.3 592.7h1.3v1.3h-1.3zM75.2 591.7h1.3v1.3h-1.3zM84.4 599.2h1.3v1.3h-1.3zM68.2 599h1.3v1.3h-1.3zM94.1 592.9h1.3v1.3h-1.3zM79.6 591.6h1.3v1.3h-1.3zM92.5 592.3h1.3v1.3h-1.3zM94.5 595.5h1.3v1.3h-1.3zM91.5 598h1.3v1.3h-1.3zM84.9 599h1.3v1.3h-1.3zM70.5 592h1.3v1.3h-1.3zM93.4 592.8h1.3v1.3h-1.3zM64.1 595h1.3v1.3h-1.3zM82.5 591.9h1.3v1.3h-1.3zM68 592.4h1.3v1.3h-1.3zM64.1 597.1h1.3v1.3h-1.3zM92.7 597.2h1.3v1.3h-1.3zM89.1 591.8h1.3v1.3h-1.3zM92.4 597.3h1.3v1.3h-1.3zM77.7 599.5h1.3v1.3h-1.3zM92.6 597.1h1.3v1.3h-1.3zM92.4 592.7h1.3v1.3h-1.3zM65.2 594h1.3v1.3h-1.3zM87.2 591.9h1.3v1.3h-1.3zM90.4 592.1h1.3v1.3h-1.3zM65.7 593.5h1.3v1.3h-1.3zM76.9 599.4h1.3v1.3h-1.3zM91.5 597.5h1.3v1.3h-1.3z" fill="#0000ff" stroke="none" stroke-width="1"/>
<path d="M66.8 593h1.3v1.3h-1.3zM92.8 593.1h1.3v1.3h-1.3zM67.7 592.6h1.3v1.3h-1.3zM79.1 592h1.3v1.3h-1.3zM93.8 595h1.3v1.3h-1.3zM66.3 593.4h1.3v1.3h-1.3zM64.2 596.1h1.3v1.3h-1.3zM64.2 596.5h1.3v1.3h-1.3zM91.9 597h1.3v1.3h-1.3zM81.2 592.1h1.3v1.3h-1.3zM79.8 598.9h1.3v1.3h-1.3zM84.5 598.7h1.3v1.3h-1.3zM64.4 595.8h1.3v1.3h-1.3zM67 598.2h1.3v1.3h-1.3zM83.4 598.7h1.3v1.3h-1.3zM71.7 599h1.3v1.3h-1.3zM68.7 592.6h1.3v1.3h-1.3zM78.7 599h1.3v1.3h-1.3zM93.4 594.8h1.3v1.3h-1.3zM90 597.6h1.3v1.3h-1.3zM77.4 599.2h1.3v1.3h-1.3zM81 592.3h1.3v1.3h-1.3zM93.2 595.4h1.3v1.3h-1.3zM91.7 596.8h1.3v1.3h-1.3zM85.8 598.4h1.3v1.3h-1.3zM86.1 592.4h1.3v1.3h-1.3zM68.4 592.8h1.3v1.3h-1.3zM88.4 592.3h1.3v1.3h-1.3zM90.4 597.3h1.3v1.3h-1.3zM91.9 596.6h1.3v1.3h-1.3zM93.2 594.8h1.3v1.3h-1.3zM89.4 597.6h1.3v1.3h-1.3zM66.2 597.7h1.3v1.3h-1.3zM81.4 598.5h1.3v1.3h-1.3zM80.6 592.4h1.3v1.3h-1.3zM91.6 593.3h1.3v1.3h-1.3zM92.4 593.8h1.3v1.3h-1.3zM87.4 592.4h1.3v1.3h-1.3zM87.2 598.1h1.3v1.3h-1.3zM64.8 596.1h1.3v1.3h-1.3zM87.6 592.4h1.3v1.3h-1.3zM64.9 596h1.3v1.3h-1.3zM87.6 598h1.3v1.3h-1.3zM92.9 595.3h1.3v1.3h-1.3zM82.1 592.6h1.3v1.3h-1.3zM76.5 592.4h1.3v1.3h-1.3zM88.6 592.5h1.3v1.3h-1.3zM75.8 592.5h1.3v1.3h-1.3zM85.2 592.7h1.3v1.3h-1.3zM73 598.9h1.3v1.3h-1.3zM76.8 592.5h1.3v1.3h-1.3zM89.3 592.7h1.3v1.3h-1.3zM65.7 597.1h1.3v1.3h-1.3zM80.6 592.6h1.3v1.3h-1.3zM80.1 598.4h1.3v1.3h-1.3zM81.1 592.6h1.3v1.3h-1.3zM90.1 593h1.3v1.3h-1.3zM90.4 596.9h1.3v1.3h-1.3zM67 593.8h1.3v1.3h-1.3zM68.4 598.3h1.3v1.3h-1.3zM92.3 595.7h1.3v1.3h-1.3zM82.5 598.3h1.3v1.3h-1.3zM66.1 594.9h1.3v1.3h-1.3z" fill="#0050ff" stroke="none" stroke-width="1"/>
<path d="M91 593.5h1.3v1.3h-1.3zM72.6 592.6h1.3v1.3h-1.3zM73.8 598.9h1.3v1.3h-1.3zM90 593.1h1.3v1.3h-1.3zM75.9 598.9h1.3v1.3h-1.3zM69.4 598.5h1.3v1.3h-1.3zM65.7 595.6h1.3v1.3h-1.3zM65.6 595.7h1.3v1.3h-1.3zM89.3 592.9h1.3v1.3h-1.3zM84.4 598.2h1.3v1.3h-1.3zM71.9 592.7h1.3v1.3h-1.3zM77.3 592.6h1.3v1.3h-1.3zM86.2 592.9h1.3v1.3h-1.3zM76 598.9h1.3v1.3h-1.3zM91.6 595.9h1.3v1.3h-1.3zM76.4 598.8h1.3v1.3h-1.3zM92.2 595.1h1.3v1.3h-1.3zM88 597.5h1.3v1.3h-1.3zM65.8 596.7h1.3v1.3h-1.3zM89 593h1.3v1.3h-1.3zM77.3 592.7h1.3v1.3h-1.3zM66.6 597.4h1.3v1.3h-1.3zM80.3 592.8h1.3v1.3h-1.3zM67.7 593.7h1.3v1.3h-1.3zM90.4 596.5h1.3v1.3h-1.3zM77.1 598.7h1.3v1.3h-1.3zM71.6 598.6h1.3v1.3h-1.3zM70.3 592.9h1.3v1.3h-1.3zM72.9 592.8h1.3v1.3h-1.3zM86.3 593h1.3v1.3h-1.3zM88.2 593h1.3v1.3h-1.3zM91.7 595.5h1.3v1.3h-1.3zM83 593.1h1.3v1.3h-1.3zM82.3 598.1h1.3v1.3h-1.3zM66 596.6h1.3v1.3h-1.3zM67.8 593.8h1.3v1.3h-1.3zM88.9 593.2h1.3v1.3h-1.3zM91.8 594.9h1.3v1.3h-1.3zM69.1 593.3h1.3v1.3h-1.3zM86.4 593.1h1.3v1.3h-1.3zM87.7 593.1h1.3v1.3h-1.3zM66.8 595h1.3v1.3h-1.3zM66.2 596.5h1.3v1.3h-1.3zM71 592.9h1.3v1.3h-1.3zM91.6 594.8h1.3v1.3h-1.3zM67.6 594.1h1.3v1.3h-1.3zM87.5 597.5h1.3v1.3h-1.3zM67.4 594.4h1.3v1.3h-1.3zM87 597.6h1.3v1.3h-1.3zM66.3 596.1h1.3v1.3h-1.3zM67.4 597.5h1.3v1.3h-1.3zM91 595.6h1.3v1.3h-1.3zM66.4 596.7h1.3v1.3h-1.3zM78.8 598.3h1.3v1.3h-1.3zM71 593h1.3v1.3h-1.3zM87.6 597.3h1.3v1.3h-1.3zM81.1 593.1h1.3v1.3h-1.3zM88.2 593.3h1.3v1.3h-1.3zM75.6 598.6h1.3v1.3h-1.3zM88.9 596.7h1.3v1.3h-1.3zM90 593.9h1.3v1.3h-1.3zM82.5 597.9h1.3v1.3h-1.3zM66.6 595.8h1.3v1.3h-1.3zM91.2 595h1.3v1.3h-1.3zM91.2 595h1.3v1.3h-1.3zM90.9 594.5h1.3v1.3h-1.3zM88.7 596.8h1.3v1.3h-1.3zM80.8 597.9h1.3v1.3h-1.3zM86.4 593.3h1.3v1.3h-1.3zM84.4 597.9h1.3v1.3h-1.3zM71.5 593h1.3v1.3h-1.3zM72.2 593h1.3v1.3h-1.3zM68.8 593.7h1.3v1.3h-1.3zM87.8 597.2h1.3v1.3h-1.3zM91 595.1h1.3v1.3h-1.3zM90.9 594.8h1.3v1.3h-1.3zM69.9 598.2h1.3v1.3h-1.3zM90.7 595.4h1.3v1.3h-1.3zM74.5 598.5h1.3v1.3h-1.3zM86.7 597.5h1.3v1.3h-1.3zM67.3 597.1h1.3v1.3h-1.3z" fill="#00b8ff" stroke="none" stroke-width="1"/>
<path d="M76.1 593h1.3v1.3h-1.3zM67.8 594.6h1.3v1.3h-1.3zM78.3 598.2h1.3v1.3h-1.3zM68.1 594.2h1.3v1.3h-1.3zM78 598.3h1.3v1.3h-1.3zM90.4 595.5h1.3v1.3h-1.3zM89.9 594.3h1.3v1.3h-1.3zM81.9 597.7h1.3v1.3h-1.3zM67.7 594.9h1.3v1.3h-1.3zM68.7 594h1.3v1.3h-1.3zM81.4 597.7h1.3v1.3h-1.3zM67.1 596.6h1.3v1.3h-1.3zM84.8 593.6h1.3v1.3h-1.3zM69.4 598h1.3v1.3h-1.3zM83.7 593.6h1.3v1.3h-1.3zM85.6 597.6h1.3v1.3h-1.3zM89.8 594.5h1.3v1.3h-1.3zM73.3 593.1h1.3v1.3h-1.3zM83.7 593.6h1.3v1.3h-1.3zM83.4 593.6h1.3v1.3h-1.3zM67.4 596.8h1.3v1.3h-1.3zM82.1 593.5h1.3v1.3h-1.3zM72 593.2h1.3v1.3h-1.3zM85.1 593.7h1.3v1.3h-1.3zM86.3 593.7h1.3v1.3h-1.3zM88.9 594.3h1.3v1.3h-1.3zM67.3 596.6h1.3v1.3h-1.3zM89.7 594.7h1.3v1.3h-1.3zM89.1 594.4h1.3v1.3h-1.3zM83.2 593.7h1.3v1.3h-1.3zM84.5 593.7h1.3v1.3h-1.3zM76.3 593.2h1.3v1.3h-1.3zM73.1 598.3h1.3v1.3h-1.3zM68.2 595.1h1.3v1.3h-1.3zM69.7 593.9h1.3v1.3h-1.3zM87 593.9h1.3v1.3h-1.3zM69.1 594.2h1.3v1.3h-1.3zM89.4 595h1.3v1.3h-1.3zM88 594.2h1.3v1.3h-1.3zM77.4 593.2h1.3v1.3h-1.3zM87.5 596.8h1.3v1.3h-1.3zM72.2 593.3h1.3v1.3h-1.3zM72.8 593.3h1.3v1.3h-1.3zM69.1 594.3h1.3v1.3h-1.3zM84.6 597.6h1.3v1.3h-1.3zM68.2 595.3h1.3v1.3h-1.3zM83.5 597.6h1.3v1.3h-1.3zM88.7 595.8h1.3v1.3h-1.3zM85.8 593.8h1.3v1.3h-1.3zM68.6 595h1.3v1.3h-1.3zM89 595.5h1.3v1.3h-1.3zM87.8 594.2h1.3v1.3h-1.3zM67.7 596.4h1.3v1.3h-1.3zM76.3 593.3h1.3v1.3h-1.3zM72 598.2h1.3v1.3h-1.3zM79.5 597.6h1.3v1.3h-1.3zM70 597.9h1.3v1.3h-1.3zM68.4 597.3h1.3v1.3h-1.3zM83 593.8h1.3v1.3h-1.3zM68.8 594.9h1.3v1.3h-1.3zM67.9 596.7h1.3v1.3h-1.3zM84.7 593.9h1.3v1.3h-1.3zM79.4 593.4h1.3v1.3h-1.3zM76.7 598.1h1.3v1.3h-1.3zM72.7 593.4h1.3v1.3h-1.3zM73.4 598.2h1.3v1.3h-1.3zM69 595h1.3v1.3h-1.3zM87.2 596.8h1.3v1.3h-1.3zM88.3 595.8h1.3v1.3h-1.3zM73 593.4h1.3v1.3h-1.3zM71.7 598.1h1.3v1.3h-1.3zM77.1 598h1.3v1.3h-1.3zM72.2 593.5h1.3v1.3h-1.3zM80.4 597.3h1.3v1.3h-1.3zM88.4 595.1h1.3v1.3h-1.3zM88.4 595h1.3v1.3h-1.3zM85.1 597.3h1.3v1.3h-1.3zM83.3 594h1.3v1.3h-1.3zM70.6 593.9h1.3v1.3h-1.3zM85.3 597.3h1.3v1.3h-1.3zM68.9 595.3h1.3v1.3h-1.3zM68.3 596.2h1.3v1.3h-1.3zM76.9 598h1.3v1.3h-1.3zM88.3 595h1.3v1.3h-1.3zM68.3 596.3h1.3v1.3h-1.3zM71.6 598.1h1.3v1.3h-1.3zM70.8 593.9h1.3v1.3h-1.3zM72.1 598.1h1.3v1.3h-1.3zM77 593.4h1.3v1.3h-1.3zM80.3 593.7h1.3v1.3h-1.3z" fill="#00e8a0" stroke="none" stroke-width="1"/>
<path d="M69.6 597.6h1.3v1.3h-1.3zM88.2 595.3h1.3v1.3h-1.3zM81.6 597.2h1.3v1.3h-1.3zM73.1 593.5h1.3v1.3h-1.3zM70.6 594h1.3v1.3h-1.3zM83.8 594.1h1.3v1.3h-1.3zM74.7 598.1h1.3v1.3h-1.3zM70.2 594.3h1.3v1.3h-1.3zM69.4 597.5h1.3v1.3h-1.3zM69.8 597.7h1.3v1.3h-1.3zM79.1 593.6h1.3v1.3h-1.3zM80.4 593.8h1.3v1.3h-1.3zM68.9 597.1h1.3v1.3h-1.3zM72.3 593.7h1.3v1.3h-1.3zM69.4 597.4h1.3v1.3h-1.3zM69.4 597.4h1.3v1.3h-1.3zM74.4 593.6h1.3v1.3h-1.3zM75 593.5h1.3v1.3h-1.3zM82.8 594.2h1.3v1.3h-1.3zM87.7 595.7h1.3v1.3h-1.3zM76.4 597.9h1.3v1.3h-1.3zM82 597.1h1.3v1.3h-1.3zM86.8 596.6h1.3v1.3h-1.3zM77.7 593.5h1.3v1.3h-1.3zM70.3 594.7h1.3v1.3h-1.3zM83.7 597.2h1.3v1.3h-1.3zM78.6 597.5h1.3v1.3h-1.3zM77.3 593.6h1.3v1.3h-1.3zM87.3 595.1h1.3v1.3h-1.3zM69.5 595.8h1.3v1.3h-1.3zM83.9 597.2h1.3v1.3h-1.3zM81.7 594.2h1.3v1.3h-1.3zM76 597.9h1.3v1.3h-1.3zM70.6 594.8h1.3v1.3h-1.3zM86.1 594.7h1.3v1.3h-1.3zM80.8 596.9h1.3v1.3h-1.3zM79 597.3h1.3v1.3h-1.3zM77.3 597.7h1.3v1.3h-1.3zM83.2 594.5h1.3v1.3h-1.3zM70.9 597.7h1.3v1.3h-1.3zM79.5 597.1h1.3v1.3h-1.3zM69.5 596.3h1.3v1.3h-1.3zM84.6 594.6h1.3v1.3h-1.3zM73.7 597.9h1.3v1.3h-1.3zM84.3 597h1.3v1.3h-1.3zM83.2 597h1.3v1.3h-1.3zM84.6 594.6h1.3v1.3h-1.3zM72.4 594h1.3v1.3h-1.3zM69.6 597h1.3v1.3h-1.3zM70.3 597.4h1.3v1.3h-1.3zM85.1 594.7h1.3v1.3h-1.3zM70.4 595.7h1.3v1.3h-1.3zM71.8 594.3h1.3v1.3h-1.3zM86.4 596.4h1.3v1.3h-1.3zM80.8 594.2h1.3v1.3h-1.3zM75.7 593.8h1.3v1.3h-1.3zM70.5 595.6h1.3v1.3h-1.3zM71.2 594.9h1.3v1.3h-1.3zM75.2 597.8h1.3v1.3h-1.3zM85.9 595h1.3v1.3h-1.3zM86.6 596.1h1.3v1.3h-1.3zM79 593.9h1.3v1.3h-1.3zM77.8 597.4h1.3v1.3h-1.3zM82.6 594.8h1.3v1.3h-1.3zM83.8 596.8h1.3v1.3h-1.3z" fill="#40e040" stroke="none" stroke-width="1"/>
<path d="M84.2 596.8h1.3v1.3h-1.3zM74.2 593.9h1.3v1.3h-1.3zM86.1 595.2h1.3v1.3h-1.3zM82.3 596.6h1.3v1.3h-1.3zM82.7 596.6h1.3v1.3h-1.3zM71.7 597.6h1.3v1.3h-1.3zM85.3 596.7h1.3v1.3h-1.3zM80.1 596.6h1.3v1.3h-1.3zM86.2 596.2h1.3v1.3h-1.3zM85.4 595h1.3v1.3h-1.3zM80.9 596.4h1.3v1.3h-1.3zM70.4 597.1h1.3v1.3h-1.3zM70.9 597.4h1.3v1.3h-1.3zM71.5 595.1h1.3v1.3h-1.3zM72.4 594.4h1.3v1.3h-1.3zM71.1 595.6h1.3v1.3h-1.3zM70.3 596.4h1.3v1.3h-1.3zM85.7 595.2h1.3v1.3h-1.3zM85.9 595.3h1.3v1.3h-1.3zM84.8 595.1h1.3v1.3h-1.3zM81.5 596.3h1.3v1.3h-1.3zM72.6 594.4h1.3v1.3h-1.3zM79.8 596.6h1.3v1.3h-1.3zM82 596.2h1.3v1.3h-1.3zM80.7 596.3h1.3v1.3h-1.3zM86 595.8h1.3v1.3h-1.3zM81.4 595h1.3v1.3h-1.3zM81 594.8h1.3v1.3h-1.3zM79.3 594.2h1.3v1.3h-1.3zM85.3 596.4h1.3v1.3h-1.3zM77.7 594h1.3v1.3h-1.3zM85.9 595.7h1.3v1.3h-1.3zM82.6 596.2h1.3v1.3h-1.3zM82.9 595.4h1.3v1.3h-1.3zM72.8 594.4h1.3v1.3h-1.3zM80.5 594.6h1.3v1.3h-1.3zM85.1 596.4h1.3v1.3h-1.3zM72.8 597.6h1.3v1.3h-1.3zM83 596.3h1.3v1.3h-1.3zM78.9 594.1h1.3v1.3h-1.3zM85.1 595.3h1.3v1.3h-1.3zM82.5 595.6h1.3v1.3h-1.3zM78.1 597h1.3v1.3h-1.3zM80.4 594.5h1.3v1.3h-1.3zM78.2 594.1h1.3v1.3h-1.3zM84.3 596.5h1.3v1.3h-1.3zM85 595.4h1.3v1.3h-1.3zM72.2 597.5h1.3v1.3h-1.3zM85.6 595.9h1.3v1.3h-1.3zM76.5 597.3h1.3v1.3h-1.3zM82.9 595.7h1.3v1.3h-1.3zM71 597.2h1.3v1.3h-1.3zM83.2 596.1h1.3v1.3h-1.3zM85.4 596.1h1.3v1.3h-1.3zM85.5 595.9h1.3v1.3h-1.3zM70.9 597h1.3v1.3h-1.3zM75.8 594.1h1.3v1.3h-1.3zM81.2 595.7h1.3v1.3h-1.3zM80.6 594.7h1.3v1.3h-1.3zM85 595.5h1.3v1.3h-1.3zM74.3 594.2h1.3v1.3h-1.3zM84 596.3h1.3v1.3h-1.3zM85.4 595.8h1.3v1.3h-1.3zM83.3 595.7h1.3v1.3h-1.3zM80.8 595h1.3v1.3h-1.3zM84.3 596.3h1.3v1.3h-1.3zM78.1 596.9h1.3v1.3h-1.3zM70.9 596.9h1.3v1.3h-1.3zM75.5 597.4h1.3v1.3h-1.3zM76.8 597.2h1.3v1.3h-1.3zM85.1 596.1h1.3v1.3h-1.3zM74.1 597.5h1.3v1.3h-1.3zM80.3 596.1h1.3v1.3h-1.3zM84.4 595.6h1.3v1.3h-1.3zM78.4 596.8h1.3v1.3h-1.3zM81 595.3h1.3v1.3h-1.3zM84 595.6h1.3v1.3h-1.3zM84.7 596.2h1.3v1.3h-1.3zM76.5 597.2h1.3v1.3h-1.3zM78.3 594.2h1.3v1.3h-1.3zM71.4 597.1h1.3v1.3h-1.3zM71.4 596.1h1.3v1.3h-1.3zM72.4 595.2h1.3v1.3h-1.3zM76.4 597.2h1.3v1.3h-1.3z" fill="#c8f020" stroke="none" stroke-width="1"/>
<path d="M75.1 594.3h1.3v1.3h-1.3zM76.8 597.1h1.3v1.3h-1.3zM71.3 596.6h1.3v1.3h-1.3zM79.8 594.6h1.3v1.3h-1.3zM80 594.8h1.3v1.3h-1.3zM79.2 594.5h1.3v1.3h-1.3zM73 597.3h1.3v1.3h-1.3zM74.3 597.3h1.3v1.3h-1.3zM79.3 594.5h1.3v1.3h-1.3zM74.6 594.4h1.3v1.3h-1.3zM71.4 596.6h1.3v1.3h-1.3zM76.5 594.2h1.3v1.3h-1.3zM79.7 594.7h1.3v1.3h-1.3zM79.6 596h1.3v1.3h-1.3zM74.8 594.4h1.3v1.3h-1.3zM78.1 596.6h1.3v1.3h-1.3zM80.2 595.2h1.3v1.3h-1.3zM77.4 594.3h1.3v1.3h-1.3zM72.6 595.4h1.3v1.3h-1.3zM72.3 595.7h1.3v1.3h-1.3zM73.7 597.2h1.3v1.3h-1.3zM72.7 597.2h1.3v1.3h-1.3zM73.8 594.8h1.3v1.3h-1.3zM73.2 595.1h1.3v1.3h-1.3zM75.9 594.4h1.3v1.3h-1.3zM72.8 597.1h1.3v1.3h-1.3zM72.5 597.1h1.3v1.3h-1.3zM79.8 595.5h1.3v1.3h-1.3zM72 596.5h1.3v1.3h-1.3zM76.5 596.9h1.3v1.3h-1.3zM75.8 594.5h1.3v1.3h-1.3zM79.6 595.6h1.3v1.3h-1.3zM78.9 596.1h1.3v1.3h-1.3zM74.2 594.7h1.3v1.3h-1.3zM78.7 596.2h1.3v1.3h-1.3zM73.9 594.8h1.3v1.3h-1.3zM72.2 596.6h1.3v1.3h-1.3zM72.5 596.9h1.3v1.3h-1.3zM72.7 595.8h1.3v1.3h-1.3zM74.3 597.1h1.3v1.3h-1.3z" fill="#ffd000" stroke="none" stroke-width="1"/>
<path d="M75.1 594.6h1.3v1.3h-1.3zM74.8 597h1.3v1.3h-1.3zM74.4 597h1.3v1.3h-1.3zM78.4 594.7h1.3v1.3h-1.3zM78.1 594.6h1.3v1.3h-1.3zM75.6 596.9h1.3v1.3h-1.3zM74.1 594.9h1.3v1.3h-1.3zM77.9 596.3h1.3v1.3h-1.3zM77.9 594.6h1.3v1.3h-1.3zM73.6 595.2h1.3v1.3h-1.3zM72.6 596.5h1.3v1.3h-1.3zM79 595h1.3v1.3h-1.3zM78.6 594.8h1.3v1.3h-1.3zM78.9 595.7h1.3v1.3h-1.3zM76.1 594.6h1.3v1.3h-1.3zM72.7 596.5h1.3v1.3h-1.3zM78.5 595.9h1.3v1.3h-1.3zM74.5 595h1.3v1.3h-1.3zM78.9 595.3h1.3v1.3h-1.3zM73.5 595.5h1.3v1.3h-1.3zM78.4 594.9h1.3v1.3h-1.3zM73.7 596.8h1.3v1.3h-1.3zM72.9 596.3h1.3v1.3h-1.3zM77.8 594.8h1.3v1.3h-1.3zM73.2 596.5h1.3v1.3h-1.3zM76.2 596.6h1.3v1.3h-1.3zM73.3 596.3h1.3v1.3h-1.3zM73.4 596.4h1.3v1.3h-1.3zM78.1 595.8h1.3v1.3h-1.3zM78.2 595h1.3v1.3h-1.3z" fill="#ff7000" stroke="none" stroke-width="1"/>
<path d="M77.7 595.9h1.3v1.3h-1.3zM74.4 595.3h1.3v1.3h-1.3zM76.9 596.2h1.3v1.3h-1.3zM73.8 596.4h1.3v1.3h-1.3zM77.4 596h1.3v1.3h-1.3zM74.9 595.2h1.3v1.3h-1.3zM74.3 595.5h1.3v1.3h-1.3zM77.5 595.8h1.3v1.3h-1.3zM77 595h1.3v1.3h-1.3zM75.5 596.4h1.3v1.3h-1.3zM75 595.2h1.3v1.3h-1.3zM77.6 595.7h1.3v1.3h-1.3zM75.5 595.2h1.3v1.3h-1.3zM74.8 596.3h1.3v1.3h-1.3zM74.6 595.5h1.3v1.3h-1.3zM74.7 596.2h1.3v1.3h-1.3zM77.4 595.4h1.3v1.3h-1.3zM74.5 596.1h1.3v1.3h-1.3zM74.6 596.1h1.3v1.3h-1.3zM76.7 595.2h1.3v1.3h-1.3zM77.2 595.4h1.3v1.3h-1.3zM74.6 596h1.3v1.3h-1.3zM76.1 596h1.3v1.3h-1.3zM76 596h1.3v1.3h-1.3zM76.3 595.9h1.3v1.3h-1.3zM76.8 595.6h1.3v1.3h-1.3zM76.6 595.5h1.3v1.3h-1.3zM75.4 595.8h1.3v1.3h-1.3zM75.8 595.7h1.3v1.3h-1.3z" fill="#ff2000" stroke="none" stroke-width="1"/>
<rect x="81.5" y="584.5" width="36" height="19.6" fill="none" stroke="#777" stroke-width="0.9"/>
<text x="101.05" y="573.31" font-size="9.8" text-anchor="middle">35.7</text>
<path d="M224.8 592.6h1.3v1.3h-1.3zM219.3 590.4h1.3v1.3h-1.3zM185.7 585.5h1.3v1.3h-1.3zM213.3 589.4h1.3v1.3h-1.3zM213.4 591.2h1.3v1.3h-1.3zM215.2 594h1.3v1.3h-1.3zM203.7 595.7h1.3v1.3h-1.3zM208.5 589.4h1.3v1.3h-1.3zM201.6 585.9h1.3v1.3h-1.3zM200.3 585.9h1.3v1.3h-1.3zM179.7 592.4h1.3v1.3h-1.3zM176.7 589.5h1.3v1.3h-1.3zM205.4 593.8h1.3v1.3h-1.3zM188.9 597.5h1.3v1.3h-1.3zM198.3 586.4h1.3v1.3h-1.3zM213.5 593.6h1.3v1.3h-1.3zM211.6 593.8h1.3v1.3h-1.3zM177.3 589.9h1.3v1.3h-1.3zM191.4 585.9h1.3v1.3h-1.3zM197.5 597.3h1.3v1.3h-1.3zM204.8 589.1h1.3v1.3h-1.3zM211.8 592.8h1.3v1.3h-1.3zM210.1 592.8h1.3v1.3h-1.3zM186.2 587.4h1.3v1.3h-1.3zM179.3 590.6h1.3v1.3h-1.3zM209.2 591.7h1.3v1.3h-1.3zM208.4 592.5h1.3v1.3h-1.3zM180.4 589.4h1.3v1.3h-1.3zM181.7 589.2h1.3v1.3h-1.3zM208.4 592.1h1.3v1.3h-1.3zM207.3 591.1h1.3v1.3h-1.3zM180.7 590.7h1.3v1.3h-1.3zM181.8 589.3h1.3v1.3h-1.3zM180.5 590.5h1.3v1.3h-1.3zM184 595.1h1.3v1.3h-1.3zM191.5 597.3h1.3v1.3h-1.3zM206.3 590.8h1.3v1.3h-1.3zM182.6 592.6h1.3v1.3h-1.3zM201.1 595.3h1.3v1.3h-1.3zM192.9 597.1h1.3v1.3h-1.3zM190.7 596.8h1.3v1.3h-1.3zM192.5 586.7h1.3v1.3h-1.3zM183.4 594.3h1.3v1.3h-1.3zM192.3 586.8h1.3v1.3h-1.3zM205 591.8h1.3v1.3h-1.3zM193.3 596.9h1.3v1.3h-1.3zM184.6 594.8h1.3v1.3h-1.3zM184.1 589.7h1.3v1.3h-1.3zM183.7 593.8h1.3v1.3h-1.3zM195.2 587.4h1.3v1.3h-1.3zM198.1 596.2h1.3v1.3h-1.3zM201.2 588.7h1.3v1.3h-1.3zM204.3 590.7h1.3v1.3h-1.3zM201.7 589h1.3v1.3h-1.3zM185.6 589.1h1.3v1.3h-1.3zM200.7 588.6h1.3v1.3h-1.3zM192 596.3h1.3v1.3h-1.3zM188.4 587.6h1.3v1.3h-1.3zM185.9 589h1.3v1.3h-1.3zM198.6 595.8h1.3v1.3h-1.3zM196.5 587.8h1.3v1.3h-1.3zM184.5 593.8h1.3v1.3h-1.3zM203.7 590.7h1.3v1.3h-1.3zM184.9 593.9h1.3v1.3h-1.3zM195.5 587.9h1.3v1.3h-1.3zM184.8 590.9h1.3v1.3h-1.3zM185.4 590.5h1.3v1.3h-1.3zM192.8 587.8h1.3v1.3h-1.3zM197 595.8h1.3v1.3h-1.3zM186.5 589.3h1.3v1.3h-1.3zM201.8 593.6h1.3v1.3h-1.3zM200.5 594.4h1.3v1.3h-1.3zM193.4 595.9h1.3v1.3h-1.3zM197.1 588.4h1.3v1.3h-1.3zM190.6 587.8h1.3v1.3h-1.3z" fill="#0000ff" stroke="none" stroke-width="1"/>
<path d="M184.9 591.9h1.3v1.3h-1.3zM187.8 595h1.3v1.3h-1.3zM190.8 587.9h1.3v1.3h-1.3zM185.5 593.3h1.3v1.3h-1.3zM187.4 594.7h1.3v1.3h-1.3zM195.6 588.3h1.3v1.3h-1.3zM202.8 591.5h1.3v1.3h-1.3zM191 595.4h1.3v1.3h-1.3zM201.4 593.6h1.3v1.3h-1.3zM188.2 588.7h1.3v1.3h-1.3zM194.1 595.6h1.3v1.3h-1.3zM188.4 595h1.3v1.3h-1.3zM189.4 588.3h1.3v1.3h-1.3zM199.8 589.2h1.3v1.3h-1.3zM188.4 594.9h1.3v1.3h-1.3zM195.2 595.6h1.3v1.3h-1.3zM185.6 592.5h1.3v1.3h-1.3zM188.5 588.7h1.3v1.3h-1.3zM202.5 591.6h1.3v1.3h-1.3zM202.3 591h1.3v1.3h-1.3zM193.4 595.4h1.3v1.3h-1.3zM185.7 591.5h1.3v1.3h-1.3zM199.1 589.1h1.3v1.3h-1.3zM189.6 588.4h1.3v1.3h-1.3zM185.7 592.3h1.3v1.3h-1.3zM191.8 588.3h1.3v1.3h-1.3zM187.7 589.5h1.3v1.3h-1.3zM191.8 588.4h1.3v1.3h-1.3zM195.8 595.4h1.3v1.3h-1.3zM189.1 594.8h1.3v1.3h-1.3zM186.1 592.6h1.3v1.3h-1.3zM195.7 595.3h1.3v1.3h-1.3zM190 588.6h1.3v1.3h-1.3zM200.5 589.9h1.3v1.3h-1.3zM188.4 594.5h1.3v1.3h-1.3zM189.8 594.8h1.3v1.3h-1.3z" fill="#0050ff" stroke="none" stroke-width="1"/>
<path d="M193.2 588.6h1.3v1.3h-1.3zM195.9 588.9h1.3v1.3h-1.3zM198.1 589.3h1.3v1.3h-1.3zM201.6 592.3h1.3v1.3h-1.3zM186.3 592h1.3v1.3h-1.3zM186.4 592.4h1.3v1.3h-1.3zM190.8 588.7h1.3v1.3h-1.3zM195.6 589h1.3v1.3h-1.3zM190.8 594.7h1.3v1.3h-1.3zM188.5 589.5h1.3v1.3h-1.3zM195.5 595.1h1.3v1.3h-1.3zM197.4 594.8h1.3v1.3h-1.3zM201.5 591.2h1.3v1.3h-1.3zM190.3 588.9h1.3v1.3h-1.3zM200.5 590.3h1.3v1.3h-1.3zM186.9 592.7h1.3v1.3h-1.3zM189.3 594.4h1.3v1.3h-1.3zM198.4 594.3h1.3v1.3h-1.3zM199.7 593.6h1.3v1.3h-1.3zM188.3 593.9h1.3v1.3h-1.3zM200.8 592.8h1.3v1.3h-1.3zM199.2 593.9h1.3v1.3h-1.3zM200.6 590.5h1.3v1.3h-1.3zM198 594.4h1.3v1.3h-1.3zM192.7 589h1.3v1.3h-1.3zM201.2 592h1.3v1.3h-1.3zM196.9 594.7h1.3v1.3h-1.3zM189.7 589.3h1.3v1.3h-1.3zM187.2 592.4h1.3v1.3h-1.3zM195.3 594.8h1.3v1.3h-1.3zM188.9 594h1.3v1.3h-1.3zM187.8 590.6h1.3v1.3h-1.3zM200.1 590.4h1.3v1.3h-1.3z" fill="#00b8ff" stroke="none" stroke-width="1"/>
<path d="M197.1 589.5h1.3v1.3h-1.3zM189.8 594.2h1.3v1.3h-1.3zM200.7 592.4h1.3v1.3h-1.3zM187.4 591.3h1.3v1.3h-1.3zM198 589.7h1.3v1.3h-1.3zM200.4 592.7h1.3v1.3h-1.3zM188.4 590.2h1.3v1.3h-1.3zM199.4 590.2h1.3v1.3h-1.3zM199.3 590.2h1.3v1.3h-1.3zM187.7 591.1h1.3v1.3h-1.3zM195.8 594.6h1.3v1.3h-1.3zM194.5 589.3h1.3v1.3h-1.3zM200.7 591.4h1.3v1.3h-1.3zM200.5 592.5h1.3v1.3h-1.3zM195.7 594.5h1.3v1.3h-1.3zM197 594.3h1.3v1.3h-1.3zM200.4 591.1h1.3v1.3h-1.3zM196.9 589.7h1.3v1.3h-1.3zM188.5 590.5h1.3v1.3h-1.3zM189.2 593.7h1.3v1.3h-1.3zM197.9 590h1.3v1.3h-1.3zM190.5 589.6h1.3v1.3h-1.3zM198.6 593.6h1.3v1.3h-1.3zM189.9 593.9h1.3v1.3h-1.3zM196.9 589.8h1.3v1.3h-1.3zM189.8 593.8h1.3v1.3h-1.3zM196.7 594.2h1.3v1.3h-1.3zM193.9 594.2h1.3v1.3h-1.3zM192.3 594.1h1.3v1.3h-1.3zM191.4 589.5h1.3v1.3h-1.3zM193.1 594.1h1.3v1.3h-1.3zM196.9 589.9h1.3v1.3h-1.3z" fill="#00e8a0" stroke="none" stroke-width="1"/>
<path d="M199.2 590.6h1.3v1.3h-1.3zM197.2 594h1.3v1.3h-1.3zM188.1 591.8h1.3v1.3h-1.3zM191.3 593.9h1.3v1.3h-1.3zM193.6 594.1h1.3v1.3h-1.3zM188.2 591.5h1.3v1.3h-1.3zM189.7 593.6h1.3v1.3h-1.3zM194.6 589.7h1.3v1.3h-1.3zM198.9 590.6h1.3v1.3h-1.3zM189.9 593.6h1.3v1.3h-1.3zM198.7 593.2h1.3v1.3h-1.3zM199.5 592.6h1.3v1.3h-1.3zM188.4 591.5h1.3v1.3h-1.3zM199.3 592.7h1.3v1.3h-1.3zM191.2 593.8h1.3v1.3h-1.3zM191.8 589.7h1.3v1.3h-1.3zM199.7 591.4h1.3v1.3h-1.3zM199 590.8h1.3v1.3h-1.3zM189.9 590.2h1.3v1.3h-1.3zM189.3 593h1.3v1.3h-1.3zM190.5 590.1h1.3v1.3h-1.3zM189.1 590.8h1.3v1.3h-1.3zM197.7 593.5h1.3v1.3h-1.3zM195 593.9h1.3v1.3h-1.3zM198 593.4h1.3v1.3h-1.3zM193.9 589.8h1.3v1.3h-1.3zM193.2 593.8h1.3v1.3h-1.3zM189.8 590.4h1.3v1.3h-1.3zM199.5 591.9h1.3v1.3h-1.3zM193.8 589.8h1.3v1.3h-1.3zM188.7 591.4h1.3v1.3h-1.3zM196.2 593.8h1.3v1.3h-1.3zM195.5 593.9h1.3v1.3h-1.3zM199.4 592.2h1.3v1.3h-1.3zM198.7 592.9h1.3v1.3h-1.3zM189.1 591h1.3v1.3h-1.3zM196.2 593.8h1.3v1.3h-1.3zM188.8 591.3h1.3v1.3h-1.3zM197.3 593.5h1.3v1.3h-1.3zM189.5 592.9h1.3v1.3h-1.3zM199.2 592.3h1.3v1.3h-1.3zM192.8 593.7h1.3v1.3h-1.3zM193.6 593.7h1.3v1.3h-1.3z" fill="#40e040" stroke="none" stroke-width="1"/>
<path d="M189.6 592.9h1.3v1.3h-1.3zM194.5 590h1.3v1.3h-1.3zM189.6 592.9h1.3v1.3h-1.3zM190 593.1h1.3v1.3h-1.3zM194.4 590h1.3v1.3h-1.3zM191.3 590h1.3v1.3h-1.3zM199.1 591.5h1.3v1.3h-1.3zM189 591.5h1.3v1.3h-1.3zM189.8 593h1.3v1.3h-1.3zM192.7 590h1.3v1.3h-1.3zM193.9 590h1.3v1.3h-1.3zM194.8 593.7h1.3v1.3h-1.3zM192.6 590h1.3v1.3h-1.3zM195.1 593.7h1.3v1.3h-1.3zM199 591.5h1.3v1.3h-1.3zM190.1 593h1.3v1.3h-1.3zM198.2 591h1.3v1.3h-1.3zM196.4 593.5h1.3v1.3h-1.3zM198.9 591.6h1.3v1.3h-1.3zM190.3 593.1h1.3v1.3h-1.3zM189.2 592h1.3v1.3h-1.3zM195.1 590.2h1.3v1.3h-1.3zM189.3 592h1.3v1.3h-1.3zM190.9 590.3h1.3v1.3h-1.3zM196.9 590.6h1.3v1.3h-1.3zM197.8 590.8h1.3v1.3h-1.3zM198 592.8h1.3v1.3h-1.3zM189.4 592h1.3v1.3h-1.3zM195.8 593.5h1.3v1.3h-1.3zM198.6 591.6h1.3v1.3h-1.3zM198.5 592.2h1.3v1.3h-1.3zM195.5 590.4h1.3v1.3h-1.3zM198.5 591.5h1.3v1.3h-1.3zM192 590.3h1.3v1.3h-1.3zM197.1 590.8h1.3v1.3h-1.3zM197.5 592.9h1.3v1.3h-1.3zM198.3 592.3h1.3v1.3h-1.3zM195.7 590.5h1.3v1.3h-1.3zM197.9 591.2h1.3v1.3h-1.3zM191 590.5h1.3v1.3h-1.3z" fill="#c8f020" stroke="none" stroke-width="1"/>
<path d="M191.5 590.4h1.3v1.3h-1.3zM198.3 592.2h1.3v1.3h-1.3zM190.9 592.9h1.3v1.3h-1.3zM192.1 593.2h1.3v1.3h-1.3zM193.6 593.3h1.3v1.3h-1.3zM189.9 591.2h1.3v1.3h-1.3zM189.7 591.8h1.3v1.3h-1.3zM192.6 593.2h1.3v1.3h-1.3zM189.8 591.4h1.3v1.3h-1.3zM193.4 590.4h1.3v1.3h-1.3zM190.5 590.8h1.3v1.3h-1.3zM197.8 592.5h1.3v1.3h-1.3zM194.2 590.4h1.3v1.3h-1.3zM197 590.9h1.3v1.3h-1.3zM198.2 591.9h1.3v1.3h-1.3zM192.7 593.1h1.3v1.3h-1.3zM190.9 590.7h1.3v1.3h-1.3zM193.1 593.1h1.3v1.3h-1.3zM194.7 590.6h1.3v1.3h-1.3zM191.1 592.8h1.3v1.3h-1.3zM197.4 592.6h1.3v1.3h-1.3zM197.8 591.6h1.3v1.3h-1.3zM197.5 591.4h1.3v1.3h-1.3zM192 590.6h1.3v1.3h-1.3zM195.6 590.8h1.3v1.3h-1.3zM190.3 592.1h1.3v1.3h-1.3zM196.2 592.9h1.3v1.3h-1.3zM190.6 592.4h1.3v1.3h-1.3zM196.8 591.2h1.3v1.3h-1.3zM192.2 590.6h1.3v1.3h-1.3zM193.3 590.6h1.3v1.3h-1.3zM190.8 592.4h1.3v1.3h-1.3zM191.4 590.8h1.3v1.3h-1.3z" fill="#ffd000" stroke="none" stroke-width="1"/>
<path d="M192.2 592.8h1.3v1.3h-1.3zM195 593h1.3v1.3h-1.3zM195.7 591h1.3v1.3h-1.3zM195.5 590.9h1.3v1.3h-1.3zM192 590.8h1.3v1.3h-1.3zM196.2 592.7h1.3v1.3h-1.3zM190.9 591.2h1.3v1.3h-1.3zM190.8 592.1h1.3v1.3h-1.3zM192.9 592.8h1.3v1.3h-1.3zM196.3 592.6h1.3v1.3h-1.3zM196.7 591.4h1.3v1.3h-1.3zM194.3 590.9h1.3v1.3h-1.3zM192.5 592.7h1.3v1.3h-1.3zM194.6 592.8h1.3v1.3h-1.3zM192.9 590.8h1.3v1.3h-1.3zM194.9 592.8h1.3v1.3h-1.3zM192 590.9h1.3v1.3h-1.3zM191.6 592.5h1.3v1.3h-1.3zM194.2 592.8h1.3v1.3h-1.3zM194.3 592.8h1.3v1.3h-1.3zM193.9 590.9h1.3v1.3h-1.3zM194.4 591h1.3v1.3h-1.3zM191 591.5h1.3v1.3h-1.3zM191 591.5h1.3v1.3h-1.3zM191.2 592.1h1.3v1.3h-1.3zM191.1 591.4h1.3v1.3h-1.3zM191.1 591.9h1.3v1.3h-1.3zM196.5 592.2h1.3v1.3h-1.3zM191.8 592.3h1.3v1.3h-1.3zM196.3 591.6h1.3v1.3h-1.3z" fill="#ff7000" stroke="none" stroke-width="1"/>
<path d="M191.3 591.3h1.3v1.3h-1.3zM196.4 592.1h1.3v1.3h-1.3zM196.1 591.5h1.3v1.3h-1.3zM191.4 591.4h1.3v1.3h-1.3zM196 592.3h1.3v1.3h-1.3zM195.8 592.3h1.3v1.3h-1.3zM195.3 592.4h1.3v1.3h-1.3zM196 591.7h1.3v1.3h-1.3zM195.3 591.4h1.3v1.3h-1.3zM195.3 592.4h1.3v1.3h-1.3zM191.8 592h1.3v1.3h-1.3zM193.1 591.2h1.3v1.3h-1.3zM192.8 591.2h1.3v1.3h-1.3zM191.8 591.5h1.3v1.3h-1.3zM192.4 592.2h1.3v1.3h-1.3zM194.2 592.4h1.3v1.3h-1.3zM193.9 592.4h1.3v1.3h-1.3zM194.8 591.4h1.3v1.3h-1.3zM194.7 591.4h1.3v1.3h-1.3zM195 592.2h1.3v1.3h-1.3zM195.2 592.1h1.3v1.3h-1.3zM194.1 592.2h1.3v1.3h-1.3zM193.6 592.2h1.3v1.3h-1.3zM194.1 592.2h1.3v1.3h-1.3zM194.2 592.1h1.3v1.3h-1.3zM194.1 591.6h1.3v1.3h-1.3zM193.4 591.6h1.3v1.3h-1.3zM193.7 591.7h1.3v1.3h-1.3z" fill="#ff2000" stroke="none" stroke-width="1"/>
<rect x="201.3" y="583.8" width="36" height="19.8" fill="none" stroke="#777" stroke-width="0.9"/>
<text x="216.3" y="575.07" font-size="9.7" text-anchor="middle">5.56</text>
<text x="16.41" y="628.9" font-size="9.8" transform="rotate(-90 16.41 628.9)">FSC-H</text>
<line x1="11.9" y1="596.5" x2="11.9" y2="539.2" stroke="#1c1c1c" stroke-width="1"/>
<path d="M11.9 537L10.58 540.3L13.22 540.3Z" fill="#1c1c1c" stroke="none" stroke-width="1"/>
<text x="35.2" y="659.87" font-size="9.7">IFNγ-BV421</text>
<line x1="87.5" y1="656.4" x2="250.3" y2="656.4" stroke="#1c1c1c" stroke-width="1"/>
<path d="M252.7 656.4L249.1 654.96L249.1 657.84Z" fill="#1c1c1c" stroke="none" stroke-width="1"/>
<line x1="294.4" y1="538.2" x2="294.4" y2="630.5" stroke="#1c1c1c" stroke-width="1.0"/>
<line x1="293.9" y1="630" x2="355.6" y2="630" stroke="#1c1c1c" stroke-width="1.0"/>
<line x1="291.4" y1="630" x2="294.4" y2="630" stroke="#1c1c1c" stroke-width="1.0"/>
<text x="289.9" y="633.37" font-size="9.4" text-anchor="end">0</text>
<line x1="291.4" y1="611.74" x2="294.4" y2="611.74" stroke="#1c1c1c" stroke-width="1.0"/>
<text x="289.9" y="615.11" font-size="9.4" text-anchor="end">10</text>
<line x1="291.4" y1="593.48" x2="294.4" y2="593.48" stroke="#1c1c1c" stroke-width="1.0"/>
<text x="289.9" y="596.85" font-size="9.4" text-anchor="end">20</text>
<line x1="291.4" y1="575.22" x2="294.4" y2="575.22" stroke="#1c1c1c" stroke-width="1.0"/>
<text x="289.9" y="578.59" font-size="9.4" text-anchor="end">30</text>
<line x1="291.4" y1="556.96" x2="294.4" y2="556.96" stroke="#1c1c1c" stroke-width="1.0"/>
<text x="289.9" y="560.33" font-size="9.4" text-anchor="end">40</text>
<line x1="291.4" y1="538.7" x2="294.4" y2="538.7" stroke="#1c1c1c" stroke-width="1.0"/>
<text x="289.9" y="542.07" font-size="9.4" text-anchor="end">50</text>
<path d="M303.3 630V588.5H320.6V630" fill="#fff" stroke="#1c1c1c" stroke-width="1"/>
<line x1="311.95" y1="574.4" x2="311.95" y2="602.5" stroke="#444" stroke-width="0.9"/>
<line x1="307.95" y1="574.4" x2="315.95" y2="574.4" stroke="#333" stroke-width="0.9"/>
<line x1="307.95" y1="602.5" x2="315.95" y2="602.5" stroke="#333" stroke-width="0.9"/>
<circle cx="311.9" cy="565.1" r="2.45" fill="#4a9ff0" stroke="#111" stroke-width="0.85"/>
<circle cx="305.4" cy="582.6" r="2.45" fill="#4a9ff0" stroke="#111" stroke-width="0.85"/>
<circle cx="318.5" cy="585.7" r="2.45" fill="#4a9ff0" stroke="#111" stroke-width="0.85"/>
<circle cx="305.4" cy="593.8" r="2.45" fill="#4a9ff0" stroke="#111" stroke-width="0.85"/>
<circle cx="318.5" cy="597.8" r="2.45" fill="#4a9ff0" stroke="#111" stroke-width="0.85"/>
<circle cx="311.9" cy="604.3" r="2.45" fill="#4a9ff0" stroke="#111" stroke-width="0.85"/>
<path d="M329.4 630V618.8H346.5V630" fill="#fff" stroke="#1c1c1c" stroke-width="1"/>
<line x1="337.95" y1="614.2" x2="337.95" y2="622.3" stroke="#444" stroke-width="0.9"/>
<line x1="333.95" y1="614.2" x2="341.95" y2="614.2" stroke="#333" stroke-width="0.9"/>
<line x1="333.95" y1="622.3" x2="341.95" y2="622.3" stroke="#333" stroke-width="0.9"/>
<circle cx="338.1" cy="612.3" r="2.45" fill="#a50000" stroke="#111" stroke-width="0.85"/>
<circle cx="331.3" cy="616.5" r="2.45" fill="#a50000" stroke="#111" stroke-width="0.85"/>
<circle cx="331.3" cy="622.3" r="2.45" fill="#a50000" stroke="#111" stroke-width="0.85"/>
<circle cx="344.6" cy="620.5" r="2.45" fill="#a50000" stroke="#111" stroke-width="0.85"/>
<text x="325.1" y="559.34" font-size="8.2" text-anchor="middle">0.0035</text>
<line x1="312.6" y1="561.5" x2="337.6" y2="561.5" stroke="#3a3a3a" stroke-width="1.0"/>
<text x="275.2" y="581.5" font-size="9.7" text-anchor="middle" transform="rotate(-90 275.2 581.5)">IFNγ<tspan dy="-3.5" font-size="6.5">+</tspan><tspan dy="3.5"> ILC1s (%)</tspan></text>
<text x="316.5" y="637" font-size="9.5" text-anchor="end" transform="rotate(-45 316.5 637)">HD ILC1</text>
<text x="343" y="637" font-size="9.5" text-anchor="end" transform="rotate(-45 343 637)">AML ILC1</text>
<text x="0" y="684" font-size="14" font-weight="bold">j</text>
<text x="89.1" y="681.55" font-size="10.2" text-anchor="middle">HD ILC1</text>
<text x="206.7" y="681.55" font-size="10.2" text-anchor="middle">AML ILC1</text>
<rect x="38.6" y="684.7" width="94.1" height="94.1" fill="none" stroke="#7a7a7a" stroke-width="0.9"/>
<line x1="35.6" y1="699.4" x2="38.6" y2="699.4" stroke="#444" stroke-width="0.8"/>
<text x="34.1" y="702.48" font-size="8.6" text-anchor="end">150K</text>
<line x1="35.6" y1="721.1" x2="38.6" y2="721.1" stroke="#444" stroke-width="0.8"/>
<text x="34.1" y="724.18" font-size="8.6" text-anchor="end">100K</text>
<line x1="35.6" y1="742.6" x2="38.6" y2="742.6" stroke="#444" stroke-width="0.8"/>
<text x="34.1" y="745.68" font-size="8.6" text-anchor="end">50K</text>
<line x1="35.6" y1="763.2" x2="38.6" y2="763.2" stroke="#444" stroke-width="0.8"/>
<text x="34.1" y="766.28" font-size="8.6" text-anchor="end">0</text>
<line x1="37.1" y1="690" x2="38.6" y2="690" stroke="#555" stroke-width="0.6"/>
<line x1="37.1" y1="695" x2="38.6" y2="695" stroke="#555" stroke-width="0.6"/>
<line x1="37.1" y1="704" x2="38.6" y2="704" stroke="#555" stroke-width="0.6"/>
<line x1="37.1" y1="708" x2="38.6" y2="708" stroke="#555" stroke-width="0.6"/>
<line x1="37.1" y1="712.5" x2="38.6" y2="712.5" stroke="#555" stroke-width="0.6"/>
<line x1="37.1" y1="717" x2="38.6" y2="717" stroke="#555" stroke-width="0.6"/>
<line x1="37.1" y1="725.5" x2="38.6" y2="725.5" stroke="#555" stroke-width="0.6"/>
<line x1="37.1" y1="730" x2="38.6" y2="730" stroke="#555" stroke-width="0.6"/>
<line x1="37.1" y1="734" x2="38.6" y2="734" stroke="#555" stroke-width="0.6"/>
<line x1="37.1" y1="738.5" x2="38.6" y2="738.5" stroke="#555" stroke-width="0.6"/>
<line x1="37.1" y1="747" x2="38.6" y2="747" stroke="#555" stroke-width="0.6"/>
<line x1="37.1" y1="751" x2="38.6" y2="751" stroke="#555" stroke-width="0.6"/>
<line x1="37.1" y1="755" x2="38.6" y2="755" stroke="#555" stroke-width="0.6"/>
<line x1="37.1" y1="759" x2="38.6" y2="759" stroke="#555" stroke-width="0.6"/>
<line x1="37.1" y1="768" x2="38.6" y2="768" stroke="#555" stroke-width="0.6"/>
<line x1="37.1" y1="772.5" x2="38.6" y2="772.5" stroke="#555" stroke-width="0.6"/>
<line x1="37.1" y1="776" x2="38.6" y2="776" stroke="#555" stroke-width="0.6"/>
<line x1="42.6" y1="778.8" x2="42.6" y2="780.3" stroke="#555" stroke-width="0.6"/>
<line x1="45.6" y1="778.8" x2="45.6" y2="780.3" stroke="#555" stroke-width="0.6"/>
<line x1="52.6" y1="778.8" x2="52.6" y2="780.3" stroke="#555" stroke-width="0.6"/>
<line x1="55.6" y1="778.8" x2="55.6" y2="780.3" stroke="#555" stroke-width="0.6"/>
<line x1="57.6" y1="778.8" x2="57.6" y2="780.3" stroke="#555" stroke-width="0.6"/>
<line x1="63.6" y1="778.8" x2="63.6" y2="780.3" stroke="#555" stroke-width="0.6"/>
<line x1="67.6" y1="778.8" x2="67.6" y2="780.3" stroke="#555" stroke-width="0.6"/>
<line x1="70.6" y1="778.8" x2="70.6" y2="780.3" stroke="#555" stroke-width="0.6"/>
<line x1="73.6" y1="778.8" x2="73.6" y2="780.3" stroke="#555" stroke-width="0.6"/>
<line x1="75.6" y1="778.8" x2="75.6" y2="780.3" stroke="#555" stroke-width="0.6"/>
<line x1="84.6" y1="778.8" x2="84.6" y2="780.3" stroke="#555" stroke-width="0.6"/>
<line x1="90.6" y1="778.8" x2="90.6" y2="780.3" stroke="#555" stroke-width="0.6"/>
<line x1="94.6" y1="778.8" x2="94.6" y2="780.3" stroke="#555" stroke-width="0.6"/>
<line x1="97.6" y1="778.8" x2="97.6" y2="780.3" stroke="#555" stroke-width="0.6"/>
<line x1="99.6" y1="778.8" x2="99.6" y2="780.3" stroke="#555" stroke-width="0.6"/>
<line x1="101.6" y1="778.8" x2="101.6" y2="780.3" stroke="#555" stroke-width="0.6"/>
<line x1="110.6" y1="778.8" x2="110.6" y2="780.3" stroke="#555" stroke-width="0.6"/>
<line x1="116.6" y1="778.8" x2="116.6" y2="780.3" stroke="#555" stroke-width="0.6"/>
<line x1="120.6" y1="778.8" x2="120.6" y2="780.3" stroke="#555" stroke-width="0.6"/>
<line x1="123.1" y1="778.8" x2="123.1" y2="780.3" stroke="#555" stroke-width="0.6"/>
<line x1="49.1" y1="778.8" x2="49.1" y2="781.3" stroke="#444" stroke-width="0.8"/>
<line x1="60.3" y1="778.8" x2="60.3" y2="781.3" stroke="#444" stroke-width="0.8"/>
<line x1="77.1" y1="778.8" x2="77.1" y2="781.3" stroke="#444" stroke-width="0.8"/>
<line x1="102.8" y1="778.8" x2="102.8" y2="781.3" stroke="#444" stroke-width="0.8"/>
<line x1="123.8" y1="778.8" x2="123.8" y2="781.3" stroke="#444" stroke-width="0.8"/>
<text x="48.1" y="794.71" font-size="8.4" text-anchor="middle">-10</text>
<text x="56.6" y="787.91" font-size="8.4" text-anchor="middle">3</text>
<text x="60.3" y="794.71" font-size="8.4" text-anchor="middle">0</text>
<text x="77.1" y="794.71" font-size="8.4" text-anchor="middle">10</text>
<text x="84.1" y="787.91" font-size="8.4" text-anchor="middle">3</text>
<text x="102.8" y="794.71" font-size="8.4" text-anchor="middle">10</text>
<text x="109.8" y="787.91" font-size="8.4" text-anchor="middle">4</text>
<text x="123.8" y="794.71" font-size="8.4" text-anchor="middle">10</text>
<text x="130.8" y="787.91" font-size="8.4" text-anchor="middle">5</text>
<rect x="58.1" y="778.8" width="4" height="1.8" fill="#222"/>
<rect x="158.6" y="684.7" width="94.6" height="94.1" fill="none" stroke="#7a7a7a" stroke-width="0.9"/>
<line x1="155.6" y1="699.4" x2="158.6" y2="699.4" stroke="#444" stroke-width="0.8"/>
<text x="154.1" y="702.48" font-size="8.6" text-anchor="end">150K</text>
<line x1="155.6" y1="721.1" x2="158.6" y2="721.1" stroke="#444" stroke-width="0.8"/>
<text x="154.1" y="724.18" font-size="8.6" text-anchor="end">100K</text>
<line x1="155.6" y1="742.6" x2="158.6" y2="742.6" stroke="#444" stroke-width="0.8"/>
<text x="154.1" y="745.68" font-size="8.6" text-anchor="end">50K</text>
<line x1="155.6" y1="763.2" x2="158.6" y2="763.2" stroke="#444" stroke-width="0.8"/>
<text x="154.1" y="766.28" font-size="8.6" text-anchor="end">0</text>
<line x1="157.1" y1="690" x2="158.6" y2="690" stroke="#555" stroke-width="0.6"/>
<line x1="157.1" y1="695" x2="158.6" y2="695" stroke="#555" stroke-width="0.6"/>
<line x1="157.1" y1="704" x2="158.6" y2="704" stroke="#555" stroke-width="0.6"/>
<line x1="157.1" y1="708" x2="158.6" y2="708" stroke="#555" stroke-width="0.6"/>
<line x1="157.1" y1="712.5" x2="158.6" y2="712.5" stroke="#555" stroke-width="0.6"/>
<line x1="157.1" y1="717" x2="158.6" y2="717" stroke="#555" stroke-width="0.6"/>
<line x1="157.1" y1="725.5" x2="158.6" y2="725.5" stroke="#555" stroke-width="0.6"/>
<line x1="157.1" y1="730" x2="158.6" y2="730" stroke="#555" stroke-width="0.6"/>
<line x1="157.1" y1="734" x2="158.6" y2="734" stroke="#555" stroke-width="0.6"/>
<line x1="157.1" y1="738.5" x2="158.6" y2="738.5" stroke="#555" stroke-width="0.6"/>
<line x1="157.1" y1="747" x2="158.6" y2="747" stroke="#555" stroke-width="0.6"/>
<line x1="157.1" y1="751" x2="158.6" y2="751" stroke="#555" stroke-width="0.6"/>
<line x1="157.1" y1="755" x2="158.6" y2="755" stroke="#555" stroke-width="0.6"/>
<line x1="157.1" y1="759" x2="158.6" y2="759" stroke="#555" stroke-width="0.6"/>
<line x1="157.1" y1="768" x2="158.6" y2="768" stroke="#555" stroke-width="0.6"/>
<line x1="157.1" y1="772.5" x2="158.6" y2="772.5" stroke="#555" stroke-width="0.6"/>
<line x1="157.1" y1="776" x2="158.6" y2="776" stroke="#555" stroke-width="0.6"/>
<line x1="162.6" y1="778.8" x2="162.6" y2="780.3" stroke="#555" stroke-width="0.6"/>
<line x1="165.6" y1="778.8" x2="165.6" y2="780.3" stroke="#555" stroke-width="0.6"/>
<line x1="172.6" y1="778.8" x2="172.6" y2="780.3" stroke="#555" stroke-width="0.6"/>
<line x1="175.6" y1="778.8" x2="175.6" y2="780.3" stroke="#555" stroke-width="0.6"/>
<line x1="177.6" y1="778.8" x2="177.6" y2="780.3" stroke="#555" stroke-width="0.6"/>
<line x1="183.6" y1="778.8" x2="183.6" y2="780.3" stroke="#555" stroke-width="0.6"/>
<line x1="187.6" y1="778.8" x2="187.6" y2="780.3" stroke="#555" stroke-width="0.6"/>
<line x1="190.6" y1="778.8" x2="190.6" y2="780.3" stroke="#555" stroke-width="0.6"/>
<line x1="193.6" y1="778.8" x2="193.6" y2="780.3" stroke="#555" stroke-width="0.6"/>
<line x1="195.6" y1="778.8" x2="195.6" y2="780.3" stroke="#555" stroke-width="0.6"/>
<line x1="204.6" y1="778.8" x2="204.6" y2="780.3" stroke="#555" stroke-width="0.6"/>
<line x1="210.6" y1="778.8" x2="210.6" y2="780.3" stroke="#555" stroke-width="0.6"/>
<line x1="214.6" y1="778.8" x2="214.6" y2="780.3" stroke="#555" stroke-width="0.6"/>
<line x1="217.6" y1="778.8" x2="217.6" y2="780.3" stroke="#555" stroke-width="0.6"/>
<line x1="219.6" y1="778.8" x2="219.6" y2="780.3" stroke="#555" stroke-width="0.6"/>
<line x1="221.6" y1="778.8" x2="221.6" y2="780.3" stroke="#555" stroke-width="0.6"/>
<line x1="230.6" y1="778.8" x2="230.6" y2="780.3" stroke="#555" stroke-width="0.6"/>
<line x1="236.6" y1="778.8" x2="236.6" y2="780.3" stroke="#555" stroke-width="0.6"/>
<line x1="240.6" y1="778.8" x2="240.6" y2="780.3" stroke="#555" stroke-width="0.6"/>
<line x1="243.1" y1="778.8" x2="243.1" y2="780.3" stroke="#555" stroke-width="0.6"/>
<line x1="169.1" y1="778.8" x2="169.1" y2="781.3" stroke="#444" stroke-width="0.8"/>
<line x1="180.3" y1="778.8" x2="180.3" y2="781.3" stroke="#444" stroke-width="0.8"/>
<line x1="197.1" y1="778.8" x2="197.1" y2="781.3" stroke="#444" stroke-width="0.8"/>
<line x1="222.8" y1="778.8" x2="222.8" y2="781.3" stroke="#444" stroke-width="0.8"/>
<line x1="243.8" y1="778.8" x2="243.8" y2="781.3" stroke="#444" stroke-width="0.8"/>
<text x="168.1" y="794.71" font-size="8.4" text-anchor="middle">-10</text>
<text x="176.6" y="787.91" font-size="8.4" text-anchor="middle">3</text>
<text x="180.3" y="794.71" font-size="8.4" text-anchor="middle">0</text>
<text x="197.1" y="794.71" font-size="8.4" text-anchor="middle">10</text>
<text x="204.1" y="787.91" font-size="8.4" text-anchor="middle">3</text>
<text x="222.8" y="794.71" font-size="8.4" text-anchor="middle">10</text>
<text x="229.8" y="787.91" font-size="8.4" text-anchor="middle">4</text>
<text x="243.8" y="794.71" font-size="8.4" text-anchor="middle">10</text>
<text x="250.8" y="787.91" font-size="8.4" text-anchor="middle">5</text>
<rect x="178.1" y="778.8" width="4" height="1.8" fill="#222"/>
<path d="M56 747.1h1.3v1.3h-1.3zM64 746.5h1.3v1.3h-1.3zM56.3 742h1.3v1.3h-1.3zM65 748.2h1.3v1.3h-1.3zM58.3 744.7h1.3v1.3h-1.3zM57 749h1.3v1.3h-1.3zM69 747.6h1.3v1.3h-1.3zM61 753.6h1.3v1.3h-1.3zM60.7 749.9h1.3v1.3h-1.3zM56 745.2h1.3v1.3h-1.3zM68.1 747.3h1.3v1.3h-1.3zM61.3 747.8h1.3v1.3h-1.3zM61.6 753h1.3v1.3h-1.3zM69 745.2h1.3v1.3h-1.3zM65.5 752.7h1.3v1.3h-1.3zM62.5 753.5h1.3v1.3h-1.3zM68.4 750.1h1.3v1.3h-1.3zM60.7 754.2h1.3v1.3h-1.3zM63.3 751.9h1.3v1.3h-1.3zM72.3 751.8h1.3v1.3h-1.3zM62.2 744h1.3v1.3h-1.3zM64.4 751.7h1.3v1.3h-1.3zM65.5 752.6h1.3v1.3h-1.3zM66.1 751.2h1.3v1.3h-1.3zM63.3 752.7h1.3v1.3h-1.3zM59.2 745.7h1.3v1.3h-1.3zM57.7 750.6h1.3v1.3h-1.3zM61.7 751.5h1.3v1.3h-1.3zM57.5 750.4h1.3v1.3h-1.3zM62.8 747.7h1.3v1.3h-1.3zM63 749.3h1.3v1.3h-1.3zM57.1 748.5h1.3v1.3h-1.3zM58.2 758.7h1.3v1.3h-1.3zM61.5 747.2h1.3v1.3h-1.3zM55.5 750.1h1.3v1.3h-1.3zM64.4 750.3h1.3v1.3h-1.3zM55.9 745.4h1.3v1.3h-1.3zM57.3 751h1.3v1.3h-1.3zM58.5 749.7h1.3v1.3h-1.3zM71.5 741.6h1.3v1.3h-1.3zM61.3 750h1.3v1.3h-1.3zM55.2 754.8h1.3v1.3h-1.3zM61.3 751.8h1.3v1.3h-1.3zM65.5 756.5h1.3v1.3h-1.3zM59.4 747.2h1.3v1.3h-1.3zM56.3 744.4h1.3v1.3h-1.3zM71.6 748h1.3v1.3h-1.3zM71.3 745.7h1.3v1.3h-1.3zM62.4 743.7h1.3v1.3h-1.3zM56.7 744.6h1.3v1.3h-1.3zM62.7 751.9h1.3v1.3h-1.3zM61.5 755.9h1.3v1.3h-1.3zM59.4 748.5h1.3v1.3h-1.3zM67 760.3h1.3v1.3h-1.3zM72.6 754.4h1.3v1.3h-1.3zM63.3 743.9h1.3v1.3h-1.3zM69.9 749.7h1.3v1.3h-1.3zM74.2 750.3h1.3v1.3h-1.3zM63.4 747.5h1.3v1.3h-1.3zM63.3 750.1h1.3v1.3h-1.3zM64 741.9h1.3v1.3h-1.3zM62.7 752.1h1.3v1.3h-1.3zM56.4 756h1.3v1.3h-1.3zM61.8 740.6h1.3v1.3h-1.3zM70.6 748.3h1.3v1.3h-1.3zM62.8 749.1h1.3v1.3h-1.3zM72.3 750.2h1.3v1.3h-1.3zM59.1 747.1h1.3v1.3h-1.3zM65.5 752.8h1.3v1.3h-1.3zM59.2 754.4h1.3v1.3h-1.3zM59.2 750.8h1.3v1.3h-1.3zM65.3 751.4h1.3v1.3h-1.3zM63.9 751.4h1.3v1.3h-1.3zM60.1 751.1h1.3v1.3h-1.3zM64.3 744.4h1.3v1.3h-1.3zM55.4 751.5h1.3v1.3h-1.3zM62.5 750.8h1.3v1.3h-1.3zM66.3 751.8h1.3v1.3h-1.3zM59.9 752.5h1.3v1.3h-1.3zM59.1 758h1.3v1.3h-1.3zM67.8 750.1h1.3v1.3h-1.3zM59.3 752.4h1.3v1.3h-1.3zM61.8 746.6h1.3v1.3h-1.3zM65.2 750.6h1.3v1.3h-1.3zM66.9 749.3h1.3v1.3h-1.3zM72.2 758.1h1.3v1.3h-1.3zM54.7 740.8h1.3v1.3h-1.3zM57.9 757.2h1.3v1.3h-1.3zM65.9 750.7h1.3v1.3h-1.3zM64 744.5h1.3v1.3h-1.3zM63.6 745.4h1.3v1.3h-1.3zM63.8 748.6h1.3v1.3h-1.3zM60 747.8h1.3v1.3h-1.3zM65.6 758.9h1.3v1.3h-1.3zM60.6 757.1h1.3v1.3h-1.3zM68.2 746.3h1.3v1.3h-1.3zM63.1 756.7h1.3v1.3h-1.3zM70.9 747.3h1.3v1.3h-1.3zM57.6 751.5h1.3v1.3h-1.3zM69.3 754.4h1.3v1.3h-1.3zM64.3 752.6h1.3v1.3h-1.3zM65.3 750.4h1.3v1.3h-1.3zM58.1 753.3h1.3v1.3h-1.3zM64.7 754.2h1.3v1.3h-1.3zM62.5 747.8h1.3v1.3h-1.3zM66.4 754.1h1.3v1.3h-1.3zM71.5 744h1.3v1.3h-1.3zM60.4 749h1.3v1.3h-1.3zM73.4 739.6h1.3v1.3h-1.3zM67.3 746.5h1.3v1.3h-1.3zM57.4 754h1.3v1.3h-1.3zM56.4 750.1h1.3v1.3h-1.3zM60 755.2h1.3v1.3h-1.3zM58.4 748.8h1.3v1.3h-1.3zM62.7 753.4h1.3v1.3h-1.3zM59 758.4h1.3v1.3h-1.3zM59.3 758h1.3v1.3h-1.3zM71.6 745.8h1.3v1.3h-1.3zM63.5 747h1.3v1.3h-1.3zM62.5 756.1h1.3v1.3h-1.3zM70.4 742.1h1.3v1.3h-1.3zM60.9 751.7h1.3v1.3h-1.3zM66.6 750.6h1.3v1.3h-1.3zM58.5 748.8h1.3v1.3h-1.3zM65.6 743.9h1.3v1.3h-1.3zM55.6 743.9h1.3v1.3h-1.3zM58.9 755.7h1.3v1.3h-1.3zM59.9 752.9h1.3v1.3h-1.3zM69 755.2h1.3v1.3h-1.3zM63.4 749.2h1.3v1.3h-1.3zM62 748.2h1.3v1.3h-1.3zM58.6 751.8h1.3v1.3h-1.3zM66.7 747h1.3v1.3h-1.3zM57.7 749.6h1.3v1.3h-1.3zM62.2 753.3h1.3v1.3h-1.3zM63.1 750.1h1.3v1.3h-1.3zM54.6 747.5h1.3v1.3h-1.3zM60.5 746.7h1.3v1.3h-1.3zM64.4 749.7h1.3v1.3h-1.3zM58.3 751.6h1.3v1.3h-1.3zM61.8 747.5h1.3v1.3h-1.3zM66.4 757.4h1.3v1.3h-1.3zM59.4 752.6h1.3v1.3h-1.3zM61.1 753.8h1.3v1.3h-1.3zM58.7 747.7h1.3v1.3h-1.3zM60.8 748.9h1.3v1.3h-1.3zM55.9 748.5h1.3v1.3h-1.3zM58.1 758.2h1.3v1.3h-1.3zM68.9 746.9h1.3v1.3h-1.3zM59.8 751.3h1.3v1.3h-1.3zM59.4 747.2h1.3v1.3h-1.3zM65.5 754.7h1.3v1.3h-1.3zM64.5 756.1h1.3v1.3h-1.3zM62.4 749.1h1.3v1.3h-1.3zM60.2 747.6h1.3v1.3h-1.3zM58.2 756.1h1.3v1.3h-1.3zM66.6 749h1.3v1.3h-1.3zM62.5 745.6h1.3v1.3h-1.3zM65.2 748.8h1.3v1.3h-1.3zM61.3 748.2h1.3v1.3h-1.3zM54.7 747.1h1.3v1.3h-1.3zM69.6 745.8h1.3v1.3h-1.3zM57.5 748.4h1.3v1.3h-1.3zM57.4 745h1.3v1.3h-1.3zM56.3 745.2h1.3v1.3h-1.3zM54.9 743.4h1.3v1.3h-1.3zM62.1 745.4h1.3v1.3h-1.3zM63.9 745.7h1.3v1.3h-1.3zM67.2 741.5h1.3v1.3h-1.3zM71.1 743.8h1.3v1.3h-1.3zM60.3 744.8h1.3v1.3h-1.3zM60.6 756.2h1.3v1.3h-1.3zM66 747.1h1.3v1.3h-1.3zM64.4 757.4h1.3v1.3h-1.3zM65.2 748.2h1.3v1.3h-1.3zM63.9 751.6h1.3v1.3h-1.3zM62.5 758h1.3v1.3h-1.3zM65.6 750.8h1.3v1.3h-1.3zM54.7 750.1h1.3v1.3h-1.3zM59.3 753.3h1.3v1.3h-1.3zM62 749.8h1.3v1.3h-1.3zM63.8 753.9h1.3v1.3h-1.3zM60.5 747.3h1.3v1.3h-1.3zM59.3 746h1.3v1.3h-1.3zM64 742.7h1.3v1.3h-1.3zM65 744.5h1.3v1.3h-1.3zM60.7 748.5h1.3v1.3h-1.3zM57.9 751.8h1.3v1.3h-1.3zM62.2 754.2h1.3v1.3h-1.3zM65 747.7h1.3v1.3h-1.3zM73.8 746h1.3v1.3h-1.3zM75.4 739.8h1.3v1.3h-1.3zM97.7 750.3h1.3v1.3h-1.3zM71.1 750h1.3v1.3h-1.3zM75.6 749h1.3v1.3h-1.3zM98.7 758.9h1.3v1.3h-1.3zM82.3 755h1.3v1.3h-1.3zM85.1 741h1.3v1.3h-1.3zM82.4 755.6h1.3v1.3h-1.3zM93.7 753.8h1.3v1.3h-1.3zM100 747h1.3v1.3h-1.3zM91.4 755.7h1.3v1.3h-1.3zM98.1 756.8h1.3v1.3h-1.3zM96.5 746.2h1.3v1.3h-1.3zM81.7 751.7h1.3v1.3h-1.3zM73.9 745.5h1.3v1.3h-1.3zM81.5 743.5h1.3v1.3h-1.3zM75.9 752.4h1.3v1.3h-1.3zM79.6 740.5h1.3v1.3h-1.3zM94.3 758.3h1.3v1.3h-1.3zM77.1 753h1.3v1.3h-1.3zM72.8 743.8h1.3v1.3h-1.3zM75.3 752.2h1.3v1.3h-1.3zM87.1 755.8h1.3v1.3h-1.3zM90.1 754.5h1.3v1.3h-1.3zM96.6 751h1.3v1.3h-1.3zM77.1 742.6h1.3v1.3h-1.3zM96 755.8h1.3v1.3h-1.3zM89.7 758.4h1.3v1.3h-1.3zM94.6 747.4h1.3v1.3h-1.3zM75.9 747.9h1.3v1.3h-1.3zM97.9 757.1h1.3v1.3h-1.3zM70.5 739.5h1.3v1.3h-1.3zM83.7 757.5h1.3v1.3h-1.3zM96.7 756.1h1.3v1.3h-1.3zM72.4 743.5h1.3v1.3h-1.3zM93.6 748.2h1.3v1.3h-1.3zM79.9 758.6h1.3v1.3h-1.3zM70.9 749.1h1.3v1.3h-1.3zM96.8 753.4h1.3v1.3h-1.3zM97 744.8h1.3v1.3h-1.3zM87.2 758.9h1.3v1.3h-1.3zM74.3 748h1.3v1.3h-1.3zM100.1 742.6h1.3v1.3h-1.3zM93.6 754.3h1.3v1.3h-1.3zM78.1 759.1h1.3v1.3h-1.3zM93.8 742h1.3v1.3h-1.3zM100 757h1.3v1.3h-1.3zM84.7 739.9h1.3v1.3h-1.3zM93.9 751h1.3v1.3h-1.3zM92.7 740.9h1.3v1.3h-1.3zM84.7 755.5h1.3v1.3h-1.3zM92.2 742.8h1.3v1.3h-1.3zM80.2 748.4h1.3v1.3h-1.3zM84.1 759.1h1.3v1.3h-1.3zM98.4 739.4h1.3v1.3h-1.3zM88.9 742.1h1.3v1.3h-1.3zM96.3 749.9h1.3v1.3h-1.3zM97.3 757.5h1.3v1.3h-1.3zM98.4 742.7h1.3v1.3h-1.3zM72.3 754.8h1.3v1.3h-1.3zM84.3 754.9h1.3v1.3h-1.3zM83.6 747.6h1.3v1.3h-1.3zM92.4 746.7h1.3v1.3h-1.3zM85.2 747.3h1.3v1.3h-1.3zM90.6 740.8h1.3v1.3h-1.3zM84.2 751h1.3v1.3h-1.3zM90.9 757.4h1.3v1.3h-1.3zM81.5 758.6h1.3v1.3h-1.3zM91.4 747h1.3v1.3h-1.3z" fill="#0000ff" stroke="none" stroke-width="1"/>
<path d="M63.2 748.8h1.3v1.3h-1.3zM64.5 743.7h1.3v1.3h-1.3zM67.9 748.7h1.3v1.3h-1.3zM55.5 744.6h1.3v1.3h-1.3zM60.1 747.3h1.3v1.3h-1.3zM67.1 749h1.3v1.3h-1.3zM68.2 747.5h1.3v1.3h-1.3zM60.2 757.6h1.3v1.3h-1.3zM67.4 757.4h1.3v1.3h-1.3zM57 744.4h1.3v1.3h-1.3zM65.1 748.4h1.3v1.3h-1.3zM56.8 744.7h1.3v1.3h-1.3z" fill="#ff3300" stroke="none" stroke-width="1"/>
<rect x="71.3" y="734.5" width="51.2" height="28.8" fill="none" stroke="#333" stroke-width="0.8"/>
<text x="97.7" y="731.62" font-size="10.4" text-anchor="middle">34.4</text>
<path d="M179.1 751.8h1.3v1.3h-1.3zM175.4 736.7h1.3v1.3h-1.3zM183.1 755.3h1.3v1.3h-1.3zM175 743.3h1.3v1.3h-1.3zM187.5 747.8h1.3v1.3h-1.3zM183.9 753.8h1.3v1.3h-1.3zM180.8 744h1.3v1.3h-1.3zM185.7 749.9h1.3v1.3h-1.3zM176.6 742.9h1.3v1.3h-1.3zM180.5 741h1.3v1.3h-1.3zM187.7 751.2h1.3v1.3h-1.3zM183.2 747.2h1.3v1.3h-1.3zM182 738h1.3v1.3h-1.3zM177.7 750h1.3v1.3h-1.3zM175.9 743.7h1.3v1.3h-1.3zM176.1 752h1.3v1.3h-1.3zM183.3 747.1h1.3v1.3h-1.3zM181.8 747h1.3v1.3h-1.3zM175.3 743.6h1.3v1.3h-1.3zM178.2 750.4h1.3v1.3h-1.3zM179.8 752.6h1.3v1.3h-1.3zM177.8 751.3h1.3v1.3h-1.3zM180.5 754.4h1.3v1.3h-1.3zM180.8 751.8h1.3v1.3h-1.3zM173.5 750.5h1.3v1.3h-1.3zM180 751.2h1.3v1.3h-1.3zM181 742.5h1.3v1.3h-1.3zM186.6 756.7h1.3v1.3h-1.3zM181.7 754.4h1.3v1.3h-1.3zM180.8 756.8h1.3v1.3h-1.3zM177.3 753h1.3v1.3h-1.3zM181.8 741.6h1.3v1.3h-1.3zM179.3 751.9h1.3v1.3h-1.3zM177 745.6h1.3v1.3h-1.3zM180.1 746.7h1.3v1.3h-1.3zM180.6 748.5h1.3v1.3h-1.3zM181 745.7h1.3v1.3h-1.3zM180.4 743.4h1.3v1.3h-1.3zM184.7 746.5h1.3v1.3h-1.3zM181.2 746.6h1.3v1.3h-1.3zM182.8 745.6h1.3v1.3h-1.3zM186.5 750.7h1.3v1.3h-1.3zM180.8 754.9h1.3v1.3h-1.3zM183.8 748.9h1.3v1.3h-1.3zM176.9 749.4h1.3v1.3h-1.3zM172.8 741.4h1.3v1.3h-1.3zM175.3 743.4h1.3v1.3h-1.3zM177.5 757.4h1.3v1.3h-1.3zM184.3 760.4h1.3v1.3h-1.3zM198.3 740.4h1.3v1.3h-1.3zM195.3 746.4h1.3v1.3h-1.3zM199.3 755.4h1.3v1.3h-1.3zM222.3 745.9h1.3v1.3h-1.3zM189.3 746.9h1.3v1.3h-1.3zM187.3 744.4h1.3v1.3h-1.3z" fill="#0000ff" stroke="none" stroke-width="1"/>
<path d="M180.3 747.4h1.3v1.3h-1.3zM182.3 751.4h1.3v1.3h-1.3zM178.3 745.4h1.3v1.3h-1.3z" fill="#ff3300" stroke="none" stroke-width="1"/>
<rect x="191.3" y="734.4" width="51.4" height="28.8" fill="none" stroke="#333" stroke-width="0.8"/>
<text x="218.1" y="731.62" font-size="10.4" text-anchor="middle">5.97</text>
<text x="15.92" y="794.4" font-size="10.4" transform="rotate(-90 15.92 794.4)">FSC-H</text>
<line x1="10.6" y1="753.5" x2="10.6" y2="684.7" stroke="#1c1c1c" stroke-width="1"/>
<path d="M10.6 682.5L9.28 685.8L11.92 685.8Z" fill="#1c1c1c" stroke="none" stroke-width="1"/>
<text x="34.6" y="807.16" font-size="10.5">TNFα-APC</text>
<line x1="89.5" y1="802.7" x2="245.6" y2="802.7" stroke="#1c1c1c" stroke-width="1"/>
<path d="M248 802.7L244.4 801.26L244.4 804.14Z" fill="#1c1c1c" stroke="none" stroke-width="1"/>
<line x1="293.7" y1="693.8" x2="293.7" y2="785.9" stroke="#1c1c1c" stroke-width="1.0"/>
<line x1="293.2" y1="785.4" x2="355.6" y2="785.4" stroke="#1c1c1c" stroke-width="1.0"/>
<line x1="290.7" y1="785.4" x2="293.7" y2="785.4" stroke="#1c1c1c" stroke-width="1.0"/>
<text x="289.2" y="788.77" font-size="9.4" text-anchor="end">0</text>
<line x1="290.7" y1="767.18" x2="293.7" y2="767.18" stroke="#1c1c1c" stroke-width="1.0"/>
<text x="289.2" y="770.55" font-size="9.4" text-anchor="end">10</text>
<line x1="290.7" y1="748.96" x2="293.7" y2="748.96" stroke="#1c1c1c" stroke-width="1.0"/>
<text x="289.2" y="752.33" font-size="9.4" text-anchor="end">20</text>
<line x1="290.7" y1="730.74" x2="293.7" y2="730.74" stroke="#1c1c1c" stroke-width="1.0"/>
<text x="289.2" y="734.11" font-size="9.4" text-anchor="end">30</text>
<line x1="290.7" y1="712.52" x2="293.7" y2="712.52" stroke="#1c1c1c" stroke-width="1.0"/>
<text x="289.2" y="715.89" font-size="9.4" text-anchor="end">40</text>
<line x1="290.7" y1="694.3" x2="293.7" y2="694.3" stroke="#1c1c1c" stroke-width="1.0"/>
<text x="289.2" y="697.67" font-size="9.4" text-anchor="end">50</text>
<path d="M303.3 785.4V737.5H320.1V785.4" fill="#fff" stroke="#1c1c1c" stroke-width="1"/>
<line x1="311.7" y1="724.4" x2="311.7" y2="750.3" stroke="#444" stroke-width="0.9"/>
<line x1="307.7" y1="724.4" x2="315.7" y2="724.4" stroke="#333" stroke-width="0.9"/>
<line x1="307.7" y1="750.3" x2="315.7" y2="750.3" stroke="#333" stroke-width="0.9"/>
<circle cx="311.9" cy="723.2" r="2.45" fill="#4a9ff0" stroke="#111" stroke-width="0.85"/>
<circle cx="311.9" cy="742.6" r="2.45" fill="#4a9ff0" stroke="#111" stroke-width="0.85"/>
<circle cx="311.9" cy="747.8" r="2.45" fill="#4a9ff0" stroke="#111" stroke-width="0.85"/>
<path d="M329.4 785.4V771.8H346.5V785.4" fill="#fff" stroke="#1c1c1c" stroke-width="1"/>
<line x1="337.95" y1="768.8" x2="337.95" y2="775.8" stroke="#444" stroke-width="0.9"/>
<line x1="333.95" y1="768.8" x2="341.95" y2="768.8" stroke="#333" stroke-width="0.9"/>
<line x1="333.95" y1="775.8" x2="341.95" y2="775.8" stroke="#333" stroke-width="0.9"/>
<circle cx="331.3" cy="768.3" r="2.45" fill="#a50000" stroke="#111" stroke-width="0.85"/>
<circle cx="331.3" cy="774.9" r="2.45" fill="#a50000" stroke="#111" stroke-width="0.85"/>
<circle cx="344.2" cy="772.5" r="2.45" fill="#a50000" stroke="#111" stroke-width="0.85"/>
<text x="325.1" y="718.24" font-size="8.2" text-anchor="middle">0.0115</text>
<line x1="312.6" y1="718.5" x2="337.6" y2="718.5" stroke="#3a3a3a" stroke-width="1.0"/>
<text x="275.7" y="736.7" font-size="9.7" text-anchor="middle" transform="rotate(-90 275.7 736.7)">TNFα<tspan dy="-3.5" font-size="6.5">+</tspan><tspan dy="3.5"> ILC1s (%)</tspan></text>
<text x="316.5" y="792.5" font-size="9.5" text-anchor="end" transform="rotate(-45 316.5 792.5)">HD ILC1</text>
<text x="343" y="792.5" font-size="9.5" text-anchor="end" transform="rotate(-45 343 792.5)">AML ILC1</text>
<text x="391.5" y="529" font-size="14" font-weight="bold">k</text>
<text x="461.8" y="527.92" font-size="10.4" text-anchor="middle">DNAM-1-AF647</text>
<rect x="411" y="529.3" width="98.9" height="99.3" fill="#fff" stroke="none" stroke-width="1"/>
<path d="M411.5 604.11L412.53 604.18L414.04 604.29L415.61 604.31L416.87 604.11L417.67 603.61L418.23 602.89L418.69 602.08L419.21 601.31L419.79 600.56L420.37 599.78L420.96 599.06L421.54 598.5L422.11 598.15L422.67 597.95L423.25 597.85L423.88 597.8L424.59 597.88L425.37 598.07L426.16 598.24L426.92 598.27L427.64 598.03L428.36 597.61L429.06 597.24L429.72 597.1L430.32 597.41L430.87 598.01L431.43 598.56L432.06 598.74L432.78 598.34L433.57 597.57L434.37 596.75L435.09 596.17L435.73 595.9L436.31 595.77L436.86 595.79L437.43 595.93L438 596.22L438.57 596.64L439.15 597.17L439.77 597.8L440.42 598.62L441.1 599.6L441.81 600.56L442.57 601.31L443.4 601.84L444.28 602.23L445.18 602.45L446.07 602.48L446.96 602.14L447.86 601.5L448.74 600.88L449.58 600.61L450.38 600.84L451.14 601.38L451.88 602L452.62 602.48L453.35 602.78L454.06 603.02L454.76 603.16L455.42 603.18L456.04 603.09L456.62 602.9L457.18 602.56L457.76 602.01L458.34 601.18L458.93 600.13L459.51 598.96L460.09 597.8L460.69 596.67L461.29 595.5L461.88 594.31L462.43 593.13L462.94 591.9L463.42 590.62L463.88 589.43L464.3 588.46L464.67 587.67L465 587.01L465.33 586.61L465.7 586.59L466.11 587.04L466.53 587.89L467.01 588.96L467.57 590.09L468.24 591.39L468.99 592.9L469.79 594.34L470.61 595.47L471.47 596.11L472.37 596.43L473.27 596.68L474.11 597.1L474.86 597.75L475.54 598.5L476.21 599.32L476.92 600.14L477.68 601.05L478.46 602.05L479.24 602.97L479.95 603.64L480 603.99L479.6 604.1L479.96 604.1L482.29 604.11L488.01 604.15L496.1 604.14L504.13 604.12L509.63 604.11L509.63 604.1L411.5 604.1Z" fill="#a0cdf7" stroke="none"/>
<path d="M423.88 628.64L424.09 628.13L424.39 627.39L424.73 626.57L425.05 625.84L425.33 625.25L425.6 624.72L425.89 624.16L426.21 623.5L426.59 622.79L426.99 622.04L427.41 621.15L427.85 620L428.3 618.52L428.77 616.79L429.25 614.91L429.72 612.99L430.19 610.97L430.67 608.83L431.14 606.72L431.59 604.81L432.01 603.11L432.42 601.53L432.82 600.13L433.22 598.97L433.64 598.1L434.07 597.48L434.48 597.02L434.86 596.64L435.18 596.29L435.46 596.02L435.73 595.89L436.03 595.93L436.36 596.29L436.7 596.88L437.06 597.47L437.43 597.8L437.82 597.7L438.23 597.32L438.65 596.95L439.07 596.87L439.47 597.14L439.87 597.61L440.28 598.24L440.7 598.97L441.16 599.8L441.64 600.75L442.11 601.81L442.57 602.94L442.99 604.12L443.39 605.37L443.79 606.74L444.21 608.32L444.66 610.2L445.14 612.33L445.62 614.5L446.07 616.5L446.49 618.3L446.89 620.01L447.29 621.6L447.71 623.04L448.18 624.32L448.67 625.46L449.16 626.44L449.58 627.24L449.95 627.82L450.28 628.21L450.55 628.46L450.75 628.64L450.75 628.4L423.88 628.4Z" fill="#c8c8c8" stroke="none"/>
<path d="M423.88 628.64L424.09 628.13L424.39 627.39L424.73 626.57L425.05 625.84L425.33 625.25L425.6 624.72L425.89 624.16L426.21 623.5L426.59 622.79L426.99 622.04L427.41 621.15L427.85 620L428.3 618.52L428.77 616.79L429.25 614.91L429.72 612.99L430.19 610.97L430.67 608.83L431.14 606.72L431.59 604.81L432.01 603.11L432.42 601.53L432.82 600.13L433.22 598.97L433.64 598.1L434.07 597.48L434.48 597.02L434.86 596.64L435.18 596.29L435.46 596.02L435.73 595.89L436.03 595.93L436.36 596.29L436.7 596.88L437.06 597.47L437.43 597.8L437.82 597.7L438.23 597.32L438.65 596.95L439.07 596.87L439.47 597.14L439.87 597.61L440.28 598.24L440.7 598.97L441.16 599.8L441.64 600.75L442.11 601.81L442.57 602.94L442.99 604.12L443.39 605.37L443.79 606.74L444.21 608.32L444.66 610.2L445.14 612.33L445.62 614.5L446.07 616.5L446.49 618.3L446.89 620.01L447.29 621.6L447.71 623.04L448.18 624.32L448.67 625.46L449.16 626.44L449.58 627.24L449.95 627.82L450.28 628.21L450.55 628.46L450.75 628.64" fill="none" stroke="#777" stroke-width="1.1" stroke-linejoin="round"/>
<path d="M411.5 604.11L412.53 604.18L414.04 604.29L415.61 604.31L416.87 604.11L417.67 603.61L418.23 602.89L418.69 602.08L419.21 601.31L419.79 600.56L420.37 599.78L420.96 599.06L421.54 598.5L422.11 598.15L422.67 597.95L423.25 597.85L423.88 597.8L424.59 597.88L425.37 598.07L426.16 598.24L426.92 598.27L427.64 598.03L428.36 597.61L429.06 597.24L429.72 597.1L430.32 597.41L430.87 598.01L431.43 598.56L432.06 598.74L432.78 598.34L433.57 597.57L434.37 596.75L435.09 596.17L435.73 595.9L436.31 595.77L436.86 595.79L437.43 595.93L438 596.22L438.57 596.64L439.15 597.17L439.77 597.8L440.42 598.62L441.1 599.6L441.81 600.56L442.57 601.31L443.4 601.84L444.28 602.23L445.18 602.45L446.07 602.48L446.96 602.14L447.86 601.5L448.74 600.88L449.58 600.61L450.38 600.84L451.14 601.38L451.88 602L452.62 602.48L453.35 602.78L454.06 603.02L454.76 603.16L455.42 603.18L456.04 603.09L456.62 602.9L457.18 602.56L457.76 602.01L458.34 601.18L458.93 600.13L459.51 598.96L460.09 597.8L460.69 596.67L461.29 595.5L461.88 594.31L462.43 593.13L462.94 591.9L463.42 590.62L463.88 589.43L464.3 588.46L464.67 587.67L465 587.01L465.33 586.61L465.7 586.59L466.11 587.04L466.53 587.89L467.01 588.96L467.57 590.09L468.24 591.39L468.99 592.9L469.79 594.34L470.61 595.47L471.47 596.11L472.37 596.43L473.27 596.68L474.11 597.1L474.86 597.75L475.54 598.5L476.21 599.32L476.92 600.14L477.68 601.05L478.46 602.05L479.24 602.97L479.95 603.64L480 603.99L479.6 604.1L479.96 604.1L482.29 604.11L488.01 604.15L496.1 604.14L504.13 604.12L509.63 604.11" fill="none" stroke="#1f8fff" stroke-width="1.2" stroke-linejoin="round"/>
<path d="M411.5 579.11L414.19 579.13L418.13 579.16L422.13 579.16L425.05 579.11L426.42 579.04L426.92 578.94L427.06 578.75L427.38 578.41L427.97 578.04L428.55 577.62L429.14 576.9L429.72 575.61L430.3 573.56L430.89 570.93L431.47 568.02L432.06 565.09L432.66 561.97L433.27 558.6L433.86 555.43L434.39 552.94L434.85 551.27L435.25 550.15L435.64 549.5L436.03 549.21L436.43 549.29L436.83 549.79L437.24 550.64L437.66 551.78L438.1 553.37L438.55 555.4L439.03 557.48L439.53 559.25L440.08 560.54L440.67 561.56L441.27 562.54L441.87 563.69L442.46 565.11L443.07 566.67L443.65 568.26L444.21 569.77L444.69 571.21L445.14 572.64L445.59 573.98L446.07 575.14L446.62 576.12L447.18 576.95L447.78 577.64L448.41 578.18L448.94 578.54L449.4 578.73L450.08 578.82L451.21 578.88L453.15 578.91L455.65 578.88L458.16 578.79L460.09 578.64L461.23 578.38L461.9 578.02L462.37 577.68L462.9 577.48L463.5 577.47L464.05 577.58L464.61 577.76L465.23 577.94L465.93 578.16L466.68 578.43L467.46 578.68L468.27 578.88L468.31 578.99L467.85 579.05L468.47 579.09L471.78 579.11L479.71 579.13L490.92 579.13L502.02 579.12L509.63 579.11L509.63 579.1L411.5 579.1Z" fill="#db8c8c" stroke="none"/>
<path d="M411.5 579.11L414.19 579.13L418.13 579.16L422.13 579.16L425.05 579.11L426.42 579.04L426.92 578.94L427.06 578.75L427.38 578.41L427.97 578.04L428.55 577.62L429.14 576.9L429.72 575.61L430.3 573.56L430.89 570.93L431.47 568.02L432.06 565.09L432.66 561.97L433.27 558.6L433.86 555.43L434.39 552.94L434.85 551.27L435.25 550.15L435.64 549.5L436.03 549.21L436.43 549.29L436.83 549.79L437.24 550.64L437.66 551.78L438.1 553.37L438.55 555.4L439.03 557.48L439.53 559.25L440.08 560.54L440.67 561.56L441.27 562.54L441.87 563.69L442.46 565.11L443.07 566.67L443.65 568.26L444.21 569.77L444.69 571.21L445.14 572.64L445.59 573.98L446.07 575.14L446.62 576.12L447.18 576.95L447.78 577.64L448.41 578.18L448.94 578.54L449.4 578.73L450.08 578.82L451.21 578.88L453.15 578.91L455.65 578.88L458.16 578.79L460.09 578.64L461.23 578.38L461.9 578.02L462.37 577.68L462.9 577.48L463.5 577.47L464.05 577.58L464.61 577.76L465.23 577.94L465.93 578.16L466.68 578.43L467.46 578.68L468.27 578.88L468.31 578.99L467.85 579.05L468.47 579.09L471.78 579.11L479.71 579.13L490.92 579.13L502.02 579.12L509.63 579.11" fill="none" stroke="#b31b1b" stroke-width="1.25" stroke-linejoin="round"/>
<rect x="411" y="529.3" width="98.9" height="99.3" fill="none" stroke="#8a8a8a" stroke-width="0.9"/>
<line x1="414" y1="628.6" x2="414" y2="630.1" stroke="#555" stroke-width="0.6"/>
<line x1="417" y1="628.6" x2="417" y2="630.1" stroke="#555" stroke-width="0.6"/>
<line x1="420" y1="628.6" x2="420" y2="630.1" stroke="#555" stroke-width="0.6"/>
<line x1="424" y1="628.6" x2="424" y2="630.1" stroke="#555" stroke-width="0.6"/>
<line x1="427" y1="628.6" x2="427" y2="630.1" stroke="#555" stroke-width="0.6"/>
<line x1="430" y1="628.6" x2="430" y2="630.1" stroke="#555" stroke-width="0.6"/>
<line x1="433" y1="628.6" x2="433" y2="630.1" stroke="#555" stroke-width="0.6"/>
<line x1="440" y1="628.6" x2="440" y2="630.1" stroke="#555" stroke-width="0.6"/>
<line x1="443" y1="628.6" x2="443" y2="630.1" stroke="#555" stroke-width="0.6"/>
<line x1="446" y1="628.6" x2="446" y2="630.1" stroke="#555" stroke-width="0.6"/>
<line x1="449" y1="628.6" x2="449" y2="630.1" stroke="#555" stroke-width="0.6"/>
<line x1="456" y1="628.6" x2="456" y2="630.1" stroke="#555" stroke-width="0.6"/>
<line x1="461" y1="628.6" x2="461" y2="630.1" stroke="#555" stroke-width="0.6"/>
<line x1="465" y1="628.6" x2="465" y2="630.1" stroke="#555" stroke-width="0.6"/>
<line x1="467.5" y1="628.6" x2="467.5" y2="630.1" stroke="#555" stroke-width="0.6"/>
<line x1="470" y1="628.6" x2="470" y2="630.1" stroke="#555" stroke-width="0.6"/>
<line x1="472" y1="628.6" x2="472" y2="630.1" stroke="#555" stroke-width="0.6"/>
<line x1="477" y1="628.6" x2="477" y2="630.1" stroke="#555" stroke-width="0.6"/>
<line x1="483" y1="628.6" x2="483" y2="630.1" stroke="#555" stroke-width="0.6"/>
<line x1="486" y1="628.6" x2="486" y2="630.1" stroke="#555" stroke-width="0.6"/>
<line x1="488" y1="628.6" x2="488" y2="630.1" stroke="#555" stroke-width="0.6"/>
<line x1="490" y1="628.6" x2="490" y2="630.1" stroke="#555" stroke-width="0.6"/>
<line x1="494" y1="628.6" x2="494" y2="630.1" stroke="#555" stroke-width="0.6"/>
<line x1="500" y1="628.6" x2="500" y2="630.1" stroke="#555" stroke-width="0.6"/>
<line x1="503" y1="628.6" x2="503" y2="630.1" stroke="#555" stroke-width="0.6"/>
<line x1="505" y1="628.6" x2="505" y2="630.1" stroke="#555" stroke-width="0.6"/>
<line x1="436" y1="628.6" x2="436" y2="631.1" stroke="#444" stroke-width="0.8"/>
<line x1="467" y1="628.6" x2="467" y2="631.1" stroke="#444" stroke-width="0.8"/>
<line x1="488" y1="628.6" x2="488" y2="631.1" stroke="#444" stroke-width="0.8"/>
<line x1="502" y1="628.6" x2="502" y2="631.1" stroke="#444" stroke-width="0.8"/>
<text x="436" y="644.01" font-size="8.4" text-anchor="middle">0</text>
<text x="466.5" y="644.01" font-size="8.4" text-anchor="middle">10</text>
<text x="473.5" y="637.21" font-size="8.4" text-anchor="middle">3</text>
<text x="486" y="644.01" font-size="8.4" text-anchor="middle">10</text>
<text x="493" y="637.21" font-size="8.4" text-anchor="middle">4</text>
<text x="499.5" y="644.01" font-size="8.4" text-anchor="middle">10</text>
<text x="506.5" y="637.21" font-size="8.4" text-anchor="middle">5</text>
<text x="497.5" y="578.12" font-size="10.4" text-anchor="middle">93.2</text>
<text x="493.8" y="602.02" font-size="10.4" text-anchor="middle">1692</text>
<text x="402.45" y="581.2" font-size="10.2" text-anchor="middle" transform="rotate(-90 402.45 581.2)">Counts</text>
<text x="525.65" y="583.2" font-size="10.2" text-anchor="middle" transform="rotate(-90 525.65 583.2)">MFI of DNAM-1</text>
<line x1="556.1" y1="538.4" x2="556.1" y2="630.5" stroke="#1c1c1c" stroke-width="1.0"/>
<line x1="555.6" y1="630" x2="617.8" y2="630" stroke="#1c1c1c" stroke-width="1.0"/>
<line x1="553.1" y1="630" x2="556.1" y2="630" stroke="#1c1c1c" stroke-width="1.0"/>
<text x="551.6" y="633.37" font-size="9.4" text-anchor="end">0</text>
<line x1="553.1" y1="599.63" x2="556.1" y2="599.63" stroke="#1c1c1c" stroke-width="1.0"/>
<text x="551.6" y="603" font-size="9.4" text-anchor="end">1000</text>
<line x1="553.1" y1="569.27" x2="556.1" y2="569.27" stroke="#1c1c1c" stroke-width="1.0"/>
<text x="551.6" y="572.63" font-size="9.4" text-anchor="end">2000</text>
<line x1="553.1" y1="538.9" x2="556.1" y2="538.9" stroke="#1c1c1c" stroke-width="1.0"/>
<text x="551.6" y="542.27" font-size="9.4" text-anchor="end">3000</text>
<path d="M565.4 630V590.8H582.7V630" fill="#fff" stroke="#1c1c1c" stroke-width="1"/>
<line x1="574.05" y1="573.3" x2="574.05" y2="608.8" stroke="#444" stroke-width="0.9"/>
<line x1="570.05" y1="573.3" x2="578.05" y2="573.3" stroke="#333" stroke-width="0.9"/>
<line x1="570.05" y1="608.8" x2="578.05" y2="608.8" stroke="#333" stroke-width="0.9"/>
<circle cx="573.6" cy="565.1" r="2.45" fill="#4a9ff0" stroke="#111" stroke-width="0.85"/>
<circle cx="573.6" cy="579.1" r="2.45" fill="#4a9ff0" stroke="#111" stroke-width="0.85"/>
<circle cx="573.6" cy="586.6" r="2.45" fill="#4a9ff0" stroke="#111" stroke-width="0.85"/>
<circle cx="567.1" cy="597.1" r="2.45" fill="#4a9ff0" stroke="#111" stroke-width="0.85"/>
<circle cx="580.4" cy="600.6" r="2.45" fill="#4a9ff0" stroke="#111" stroke-width="0.85"/>
<circle cx="573.6" cy="615.8" r="2.45" fill="#4a9ff0" stroke="#111" stroke-width="0.85"/>
<path d="M591.6 630V628.9H608.6V630" fill="#fff" stroke="#1c1c1c" stroke-width="1"/>
<line x1="600.1" y1="623" x2="600.1" y2="630" stroke="#444" stroke-width="0.9"/>
<line x1="596.1" y1="623" x2="604.1" y2="623" stroke="#333" stroke-width="0.9"/>
<line x1="596.1" y1="630" x2="604.1" y2="630" stroke="#333" stroke-width="0.9"/>
<circle cx="599.8" cy="620.5" r="2.45" fill="#a50000" stroke="#111" stroke-width="0.85"/>
<circle cx="593.2" cy="629.8" r="2.45" fill="#a50000" stroke="#111" stroke-width="0.85"/>
<circle cx="597.9" cy="627.5" r="2.45" fill="#a50000" stroke="#111" stroke-width="0.85"/>
<circle cx="602.1" cy="629.8" r="2.45" fill="#a50000" stroke="#111" stroke-width="0.85"/>
<circle cx="606.3" cy="628.2" r="2.45" fill="#a50000" stroke="#111" stroke-width="0.85"/>
<text x="586.9" y="559.84" font-size="8.2" text-anchor="middle">0.0045</text>
<line x1="574.5" y1="561.5" x2="599.3" y2="561.5" stroke="#3a3a3a" stroke-width="1.0"/>
<text x="578" y="637" font-size="9.5" text-anchor="end" transform="rotate(-45 578 637)">HD ILC1</text>
<text x="604.5" y="637" font-size="9.5" text-anchor="end" transform="rotate(-45 604.5 637)">AML ILC1</text>
<text x="392" y="672.5" font-size="14" font-weight="bold">l</text>
<text x="459.8" y="677.42" font-size="10.4" text-anchor="middle">NKG2D-PE</text>
<path d="M411.03 754.3L413.08 754.35L416.07 754.45L419.16 754.46L421.54 754.3L422.93 753.88L423.78 753.28L424.38 752.6L425.05 751.96L425.79 751.36L426.46 750.74L427.13 750.14L427.85 749.63L428.65 749.17L429.49 748.76L430.33 748.44L431.12 748.22L431.86 748.14L432.55 748.17L433.24 748.28L433.93 748.46L434.64 748.73L435.36 749.09L436.06 749.48L436.73 749.86L437.35 750.31L437.93 750.82L438.49 751.21L439.07 751.26L439.63 750.91L440.19 750.27L440.77 749.42L441.4 748.46L442.1 747.3L442.85 745.93L443.63 744.54L444.44 743.32L445.29 742.3L446.18 741.4L447.07 740.59L447.94 739.81L448.81 739.03L449.68 738.28L450.5 737.65L451.21 737.24L451.78 737.07L452.24 737.08L452.65 737.29L453.08 737.71L453.55 738.37L454.02 739.24L454.49 740.29L454.95 741.45L455.41 742.84L455.86 744.46L456.32 746.03L456.82 747.29L457.35 748.15L457.9 748.75L458.5 749.21L459.16 749.63L459.91 749.98L460.74 750.24L461.59 750.48L462.43 750.79L463.24 751.22L464.04 751.7L464.85 752.2L465.7 752.66L465.75 753.13L465.26 753.6L465.93 754.01L469.44 754.3L477.87 754.41L489.77 754.4L501.55 754.34L509.63 754.3L509.63 754.3L411.03 754.3Z" fill="#a0cdf7" stroke="none"/>
<path d="M425.75 778.36L426.05 777.99L426.49 777.46L426.97 776.8L427.38 776.03L427.71 775.28L428 774.51L428.27 773.44L428.55 771.82L428.85 769.48L429.15 766.59L429.44 763.4L429.72 760.14L429.97 756.68L430.2 752.96L430.43 749.32L430.65 746.12L430.89 743.24L431.12 740.57L431.36 738.46L431.59 737.24L431.82 737.09L432.06 737.8L432.29 739.16L432.52 740.98L432.76 743.44L432.99 746.56L433.22 749.93L433.46 753.13L433.69 756.17L433.91 759.22L434.14 762.15L434.39 764.81L434.67 767.2L434.96 769.38L435.26 771.32L435.56 772.99L435.85 774.34L436.14 775.4L436.44 776.25L436.73 776.96L437.05 777.53L437.39 777.91L437.69 778.17L437.9 778.36L437.9 778.2L425.75 778.2Z" fill="#c8c8c8" stroke="none"/>
<path d="M425.75 778.36L426.05 777.99L426.49 777.46L426.97 776.8L427.38 776.03L427.71 775.28L428 774.51L428.27 773.44L428.55 771.82L428.85 769.48L429.15 766.59L429.44 763.4L429.72 760.14L429.97 756.68L430.2 752.96L430.43 749.32L430.65 746.12L430.89 743.24L431.12 740.57L431.36 738.46L431.59 737.24L431.82 737.09L432.06 737.8L432.29 739.16L432.52 740.98L432.76 743.44L432.99 746.56L433.22 749.93L433.46 753.13L433.69 756.17L433.91 759.22L434.14 762.15L434.39 764.81L434.67 767.2L434.96 769.38L435.26 771.32L435.56 772.99L435.85 774.34L436.14 775.4L436.44 776.25L436.73 776.96L437.05 777.53L437.39 777.91L437.69 778.17L437.9 778.36" fill="none" stroke="#777" stroke-width="1.1" stroke-linejoin="round"/>
<path d="M411.03 754.3L413.08 754.35L416.07 754.45L419.16 754.46L421.54 754.3L422.93 753.88L423.78 753.28L424.38 752.6L425.05 751.96L425.79 751.36L426.46 750.74L427.13 750.14L427.85 749.63L428.65 749.17L429.49 748.76L430.33 748.44L431.12 748.22L431.86 748.14L432.55 748.17L433.24 748.28L433.93 748.46L434.64 748.73L435.36 749.09L436.06 749.48L436.73 749.86L437.35 750.31L437.93 750.82L438.49 751.21L439.07 751.26L439.63 750.91L440.19 750.27L440.77 749.42L441.4 748.46L442.1 747.3L442.85 745.93L443.63 744.54L444.44 743.32L445.29 742.3L446.18 741.4L447.07 740.59L447.94 739.81L448.81 739.03L449.68 738.28L450.5 737.65L451.21 737.24L451.78 737.07L452.24 737.08L452.65 737.29L453.08 737.71L453.55 738.37L454.02 739.24L454.49 740.29L454.95 741.45L455.41 742.84L455.86 744.46L456.32 746.03L456.82 747.29L457.35 748.15L457.9 748.75L458.5 749.21L459.16 749.63L459.91 749.98L460.74 750.24L461.59 750.48L462.43 750.79L463.24 751.22L464.04 751.7L464.85 752.2L465.7 752.66L465.75 753.13L465.26 753.6L465.93 754.01L469.44 754.3L477.87 754.41L489.77 754.4L501.55 754.34L509.63 754.3" fill="none" stroke="#1f8fff" stroke-width="1.2" stroke-linejoin="round"/>
<path d="M411.03 729.77L413.08 729.8L416.07 729.87L419.16 729.88L421.54 729.77L422.94 729.51L423.81 729.14L424.42 728.68L425.05 728.13L425.72 727.61L426.32 727.06L426.86 726.3L427.38 725.09L427.88 723.3L428.35 721.05L428.8 718.6L429.25 716.21L429.73 713.74L430.22 711.1L430.69 708.69L431.12 706.87L431.5 705.78L431.85 705.2L432.18 705L432.52 705L432.87 705.2L433.21 705.67L433.56 706.39L433.93 707.34L434.3 708.67L434.68 710.34L435.1 712.03L435.56 713.41L436.1 714.38L436.69 715.11L437.3 715.69L437.9 716.21L438.48 716.6L439.07 716.84L439.65 717.12L440.23 717.62L440.82 718.53L441.4 719.72L441.99 720.85L442.57 721.59L443.15 721.72L443.74 721.47L444.32 721.16L444.91 721.12L445.47 721.42L446.03 721.88L446.61 722.49L447.24 723.22L447.93 724.18L448.66 725.33L449.44 726.48L450.28 727.43L451.25 728.15L452.31 728.73L453.35 729.19L454.25 729.53L453.76 729.73L452.35 729.78L452.48 729.77L456.59 729.77L467.53 729.78L483.25 729.78L498.91 729.77L509.63 729.77L509.63 729.8L411.03 729.8Z" fill="#db8c8c" stroke="none"/>
<path d="M411.03 729.77L413.08 729.8L416.07 729.87L419.16 729.88L421.54 729.77L422.94 729.51L423.81 729.14L424.42 728.68L425.05 728.13L425.72 727.61L426.32 727.06L426.86 726.3L427.38 725.09L427.88 723.3L428.35 721.05L428.8 718.6L429.25 716.21L429.73 713.74L430.22 711.1L430.69 708.69L431.12 706.87L431.5 705.78L431.85 705.2L432.18 705L432.52 705L432.87 705.2L433.21 705.67L433.56 706.39L433.93 707.34L434.3 708.67L434.68 710.34L435.1 712.03L435.56 713.41L436.1 714.38L436.69 715.11L437.3 715.69L437.9 716.21L438.48 716.6L439.07 716.84L439.65 717.12L440.23 717.62L440.82 718.53L441.4 719.72L441.99 720.85L442.57 721.59L443.15 721.72L443.74 721.47L444.32 721.16L444.91 721.12L445.47 721.42L446.03 721.88L446.61 722.49L447.24 723.22L447.93 724.18L448.66 725.33L449.44 726.48L450.28 727.43L451.25 728.15L452.31 728.73L453.35 729.19L454.25 729.53L453.76 729.73L452.35 729.78L452.48 729.77L456.59 729.77L467.53 729.78L483.25 729.78L498.91 729.77L509.63 729.77" fill="none" stroke="#b31b1b" stroke-width="1.25" stroke-linejoin="round"/>
<rect x="410.6" y="679.1" width="99" height="99.3" fill="none" stroke="#8a8a8a" stroke-width="0.9"/>
<line x1="413.6" y1="778.4" x2="413.6" y2="779.9" stroke="#555" stroke-width="0.6"/>
<line x1="416.6" y1="778.4" x2="416.6" y2="779.9" stroke="#555" stroke-width="0.6"/>
<line x1="419.6" y1="778.4" x2="419.6" y2="779.9" stroke="#555" stroke-width="0.6"/>
<line x1="423.6" y1="778.4" x2="423.6" y2="779.9" stroke="#555" stroke-width="0.6"/>
<line x1="426.6" y1="778.4" x2="426.6" y2="779.9" stroke="#555" stroke-width="0.6"/>
<line x1="429.6" y1="778.4" x2="429.6" y2="779.9" stroke="#555" stroke-width="0.6"/>
<line x1="432.6" y1="778.4" x2="432.6" y2="779.9" stroke="#555" stroke-width="0.6"/>
<line x1="439.6" y1="778.4" x2="439.6" y2="779.9" stroke="#555" stroke-width="0.6"/>
<line x1="442.6" y1="778.4" x2="442.6" y2="779.9" stroke="#555" stroke-width="0.6"/>
<line x1="445.6" y1="778.4" x2="445.6" y2="779.9" stroke="#555" stroke-width="0.6"/>
<line x1="448.6" y1="778.4" x2="448.6" y2="779.9" stroke="#555" stroke-width="0.6"/>
<line x1="455.6" y1="778.4" x2="455.6" y2="779.9" stroke="#555" stroke-width="0.6"/>
<line x1="460.6" y1="778.4" x2="460.6" y2="779.9" stroke="#555" stroke-width="0.6"/>
<line x1="464.6" y1="778.4" x2="464.6" y2="779.9" stroke="#555" stroke-width="0.6"/>
<line x1="467.1" y1="778.4" x2="467.1" y2="779.9" stroke="#555" stroke-width="0.6"/>
<line x1="469.6" y1="778.4" x2="469.6" y2="779.9" stroke="#555" stroke-width="0.6"/>
<line x1="471.6" y1="778.4" x2="471.6" y2="779.9" stroke="#555" stroke-width="0.6"/>
<line x1="476.6" y1="778.4" x2="476.6" y2="779.9" stroke="#555" stroke-width="0.6"/>
<line x1="482.6" y1="778.4" x2="482.6" y2="779.9" stroke="#555" stroke-width="0.6"/>
<line x1="485.6" y1="778.4" x2="485.6" y2="779.9" stroke="#555" stroke-width="0.6"/>
<line x1="487.6" y1="778.4" x2="487.6" y2="779.9" stroke="#555" stroke-width="0.6"/>
<line x1="489.6" y1="778.4" x2="489.6" y2="779.9" stroke="#555" stroke-width="0.6"/>
<line x1="493.6" y1="778.4" x2="493.6" y2="779.9" stroke="#555" stroke-width="0.6"/>
<line x1="499.6" y1="778.4" x2="499.6" y2="779.9" stroke="#555" stroke-width="0.6"/>
<line x1="502.6" y1="778.4" x2="502.6" y2="779.9" stroke="#555" stroke-width="0.6"/>
<line x1="504.6" y1="778.4" x2="504.6" y2="779.9" stroke="#555" stroke-width="0.6"/>
<line x1="430.4" y1="778.4" x2="430.4" y2="780.9" stroke="#444" stroke-width="0.8"/>
<line x1="459" y1="778.4" x2="459" y2="780.9" stroke="#444" stroke-width="0.8"/>
<line x1="477" y1="778.4" x2="477" y2="780.9" stroke="#444" stroke-width="0.8"/>
<line x1="494.7" y1="778.4" x2="494.7" y2="780.9" stroke="#444" stroke-width="0.8"/>
<text x="430.4" y="794.71" font-size="8.4" text-anchor="middle">0</text>
<text x="458.5" y="794.71" font-size="8.4" text-anchor="middle">10</text>
<text x="465.5" y="787.91" font-size="8.4" text-anchor="middle">3</text>
<text x="476.5" y="794.71" font-size="8.4" text-anchor="middle">10</text>
<text x="483.5" y="787.91" font-size="8.4" text-anchor="middle">4</text>
<text x="494.2" y="794.71" font-size="8.4" text-anchor="middle">10</text>
<text x="501.2" y="787.91" font-size="8.4" text-anchor="middle">5</text>
<text x="497.7" y="727.19" font-size="10.3" text-anchor="middle">123</text>
<text x="494.8" y="752.19" font-size="10.3" text-anchor="middle">1030</text>
<text x="403.15" y="728" font-size="10.2" text-anchor="middle" transform="rotate(-90 403.15 728)">Counts</text>
<text x="530.35" y="737.6" font-size="10.2" text-anchor="middle" transform="rotate(-90 530.35 737.6)">MFI of NKG2D</text>
<line x1="560.5" y1="694.2" x2="560.5" y2="785.9" stroke="#1c1c1c" stroke-width="1.0"/>
<line x1="560" y1="785.4" x2="621.5" y2="785.4" stroke="#1c1c1c" stroke-width="1.0"/>
<line x1="557.5" y1="785.4" x2="560.5" y2="785.4" stroke="#1c1c1c" stroke-width="1.0"/>
<text x="556" y="788.77" font-size="9.4" text-anchor="end">0</text>
<line x1="557.5" y1="762.73" x2="560.5" y2="762.73" stroke="#1c1c1c" stroke-width="1.0"/>
<text x="556" y="766.09" font-size="9.4" text-anchor="end">1000</text>
<line x1="557.5" y1="740.05" x2="560.5" y2="740.05" stroke="#1c1c1c" stroke-width="1.0"/>
<text x="556" y="743.42" font-size="9.4" text-anchor="end">2000</text>
<line x1="557.5" y1="717.38" x2="560.5" y2="717.38" stroke="#1c1c1c" stroke-width="1.0"/>
<text x="556" y="720.74" font-size="9.4" text-anchor="end">3000</text>
<line x1="557.5" y1="694.7" x2="560.5" y2="694.7" stroke="#1c1c1c" stroke-width="1.0"/>
<text x="556" y="698.07" font-size="9.4" text-anchor="end">4000</text>
<path d="M569.4 785.4V757.3H586.4V785.4" fill="#fff" stroke="#1c1c1c" stroke-width="1"/>
<line x1="577.9" y1="739.1" x2="577.9" y2="776" stroke="#444" stroke-width="0.9"/>
<line x1="573.9" y1="739.1" x2="581.9" y2="739.1" stroke="#333" stroke-width="0.9"/>
<line x1="573.9" y1="776" x2="581.9" y2="776" stroke="#333" stroke-width="0.9"/>
<circle cx="578.3" cy="721.1" r="2.45" fill="#4a9ff0" stroke="#111" stroke-width="0.85"/>
<circle cx="571.7" cy="761.8" r="2.45" fill="#4a9ff0" stroke="#111" stroke-width="0.85"/>
<circle cx="578.3" cy="760.8" r="2.45" fill="#4a9ff0" stroke="#111" stroke-width="0.85"/>
<circle cx="584.6" cy="762.5" r="2.45" fill="#4a9ff0" stroke="#111" stroke-width="0.85"/>
<circle cx="578.3" cy="766.7" r="2.45" fill="#4a9ff0" stroke="#111" stroke-width="0.85"/>
<circle cx="578.3" cy="773" r="2.45" fill="#4a9ff0" stroke="#111" stroke-width="0.85"/>
<path d="M595.6 785.4V778.8H612.6V785.4" fill="#fff" stroke="#1c1c1c" stroke-width="1"/>
<line x1="604.1" y1="777.2" x2="604.1" y2="785.4" stroke="#444" stroke-width="0.9"/>
<line x1="600.1" y1="777.2" x2="608.1" y2="777.2" stroke="#333" stroke-width="0.9"/>
<line x1="600.1" y1="785.4" x2="608.1" y2="785.4" stroke="#333" stroke-width="0.9"/>
<circle cx="597.9" cy="779.5" r="2.45" fill="#a50000" stroke="#111" stroke-width="0.85"/>
<circle cx="604.4" cy="782.3" r="2.45" fill="#a50000" stroke="#111" stroke-width="0.85"/>
<circle cx="611" cy="776.5" r="2.45" fill="#a50000" stroke="#111" stroke-width="0.85"/>
<circle cx="597.9" cy="785.1" r="2.45" fill="#a50000" stroke="#111" stroke-width="0.85"/>
<circle cx="611" cy="783" r="2.45" fill="#a50000" stroke="#111" stroke-width="0.85"/>
<text x="589.8" y="715.14" font-size="8.2" text-anchor="middle">0.0351</text>
<line x1="577.6" y1="716.5" x2="602.1" y2="716.5" stroke="#3a3a3a" stroke-width="1.0"/>
<text x="582" y="792.5" font-size="9.5" text-anchor="end" transform="rotate(-45 582 792.5)">HD ILC1</text>
<text x="608.5" y="792.5" font-size="9.5" text-anchor="end" transform="rotate(-45 608.5 792.5)">AML ILC1</text>
</g></svg></body></html>
